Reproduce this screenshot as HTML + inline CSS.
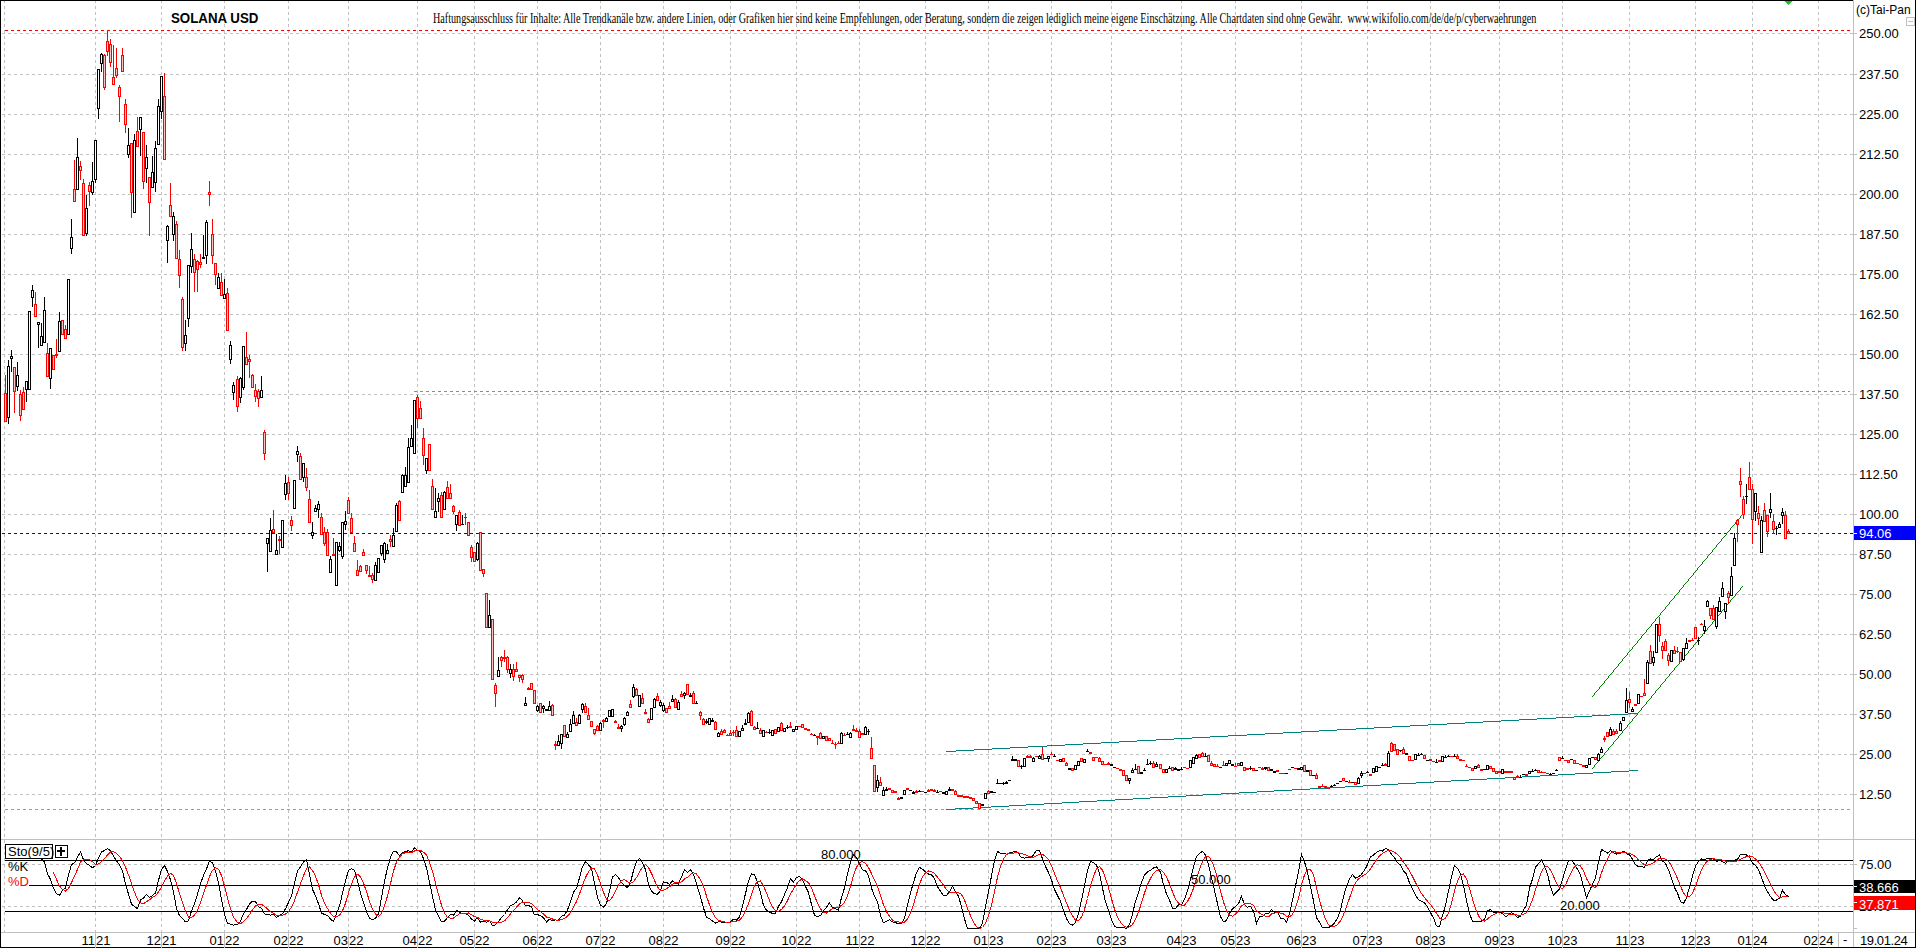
<!DOCTYPE html><html><head><meta charset="utf-8"><style>html,body{margin:0;padding:0;background:#fff;overflow:hidden}#r{position:relative;width:1916px;height:948px;overflow:hidden}#r svg{position:absolute;left:0;top:0}</style></head><body><div id="r"><svg width="1916" height="948" viewBox="0 0 1916 948" shape-rendering="crispEdges"><rect width="1916" height="948" fill="#fff"/><path fill="#c0c0c0" d="M4 1h1v2h-1zM4 6h1v3h-1zM4 12h1v3h-1zM4 18h1v3h-1zM4 24h1v3h-1zM4 30h1v3h-1zM4 36h1v3h-1zM4 42h1v3h-1zM4 48h1v3h-1zM4 54h1v3h-1zM4 60h1v3h-1zM4 66h1v3h-1zM4 72h1v3h-1zM4 78h1v3h-1zM4 84h1v3h-1zM4 90h1v3h-1zM4 96h1v3h-1zM4 102h1v3h-1zM4 108h1v3h-1zM4 114h1v3h-1zM4 120h1v3h-1zM4 126h1v3h-1zM4 132h1v3h-1zM4 138h1v3h-1zM4 144h1v3h-1zM4 150h1v3h-1zM4 156h1v3h-1zM4 162h1v3h-1zM4 168h1v3h-1zM4 174h1v3h-1zM4 180h1v3h-1zM4 186h1v3h-1zM4 192h1v3h-1zM4 198h1v3h-1zM4 204h1v3h-1zM4 210h1v3h-1zM4 216h1v3h-1zM4 222h1v3h-1zM4 228h1v3h-1zM4 234h1v3h-1zM4 240h1v3h-1zM4 246h1v3h-1zM4 252h1v3h-1zM4 258h1v3h-1zM4 264h1v3h-1zM4 270h1v3h-1zM4 276h1v3h-1zM4 282h1v3h-1zM4 288h1v3h-1zM4 294h1v3h-1zM4 300h1v3h-1zM4 306h1v3h-1zM4 312h1v3h-1zM4 318h1v3h-1zM4 324h1v3h-1zM4 330h1v3h-1zM4 336h1v3h-1zM4 342h1v3h-1zM4 348h1v3h-1zM4 354h1v3h-1zM4 360h1v3h-1zM4 366h1v3h-1zM4 372h1v3h-1zM4 378h1v3h-1zM4 384h1v3h-1zM4 390h1v3h-1zM4 396h1v3h-1zM4 402h1v3h-1zM4 408h1v3h-1zM4 414h1v3h-1zM4 420h1v3h-1zM4 426h1v3h-1zM4 432h1v3h-1zM4 438h1v3h-1zM4 444h1v3h-1zM4 450h1v3h-1zM4 456h1v3h-1zM4 462h1v3h-1zM4 468h1v3h-1zM4 474h1v3h-1zM4 480h1v3h-1zM4 486h1v3h-1zM4 492h1v3h-1zM4 498h1v3h-1zM4 504h1v3h-1zM4 510h1v3h-1zM4 516h1v3h-1zM4 522h1v3h-1zM4 528h1v3h-1zM4 534h1v3h-1zM4 540h1v3h-1zM4 546h1v3h-1zM4 552h1v3h-1zM4 558h1v3h-1zM4 564h1v3h-1zM4 570h1v3h-1zM4 576h1v3h-1zM4 582h1v3h-1zM4 588h1v3h-1zM4 594h1v3h-1zM4 600h1v3h-1zM4 606h1v3h-1zM4 612h1v3h-1zM4 618h1v3h-1zM4 624h1v3h-1zM4 630h1v3h-1zM4 636h1v3h-1zM4 642h1v3h-1zM4 648h1v3h-1zM4 654h1v3h-1zM4 660h1v3h-1zM4 666h1v3h-1zM4 672h1v3h-1zM4 678h1v3h-1zM4 684h1v3h-1zM4 690h1v3h-1zM4 696h1v3h-1zM4 702h1v3h-1zM4 708h1v3h-1zM4 714h1v3h-1zM4 720h1v3h-1zM4 726h1v3h-1zM4 732h1v3h-1zM4 738h1v3h-1zM4 744h1v3h-1zM4 750h1v3h-1zM4 756h1v3h-1zM4 762h1v3h-1zM4 768h1v3h-1zM4 774h1v3h-1zM4 780h1v3h-1zM4 786h1v3h-1zM4 792h1v3h-1zM4 798h1v3h-1zM4 804h1v3h-1zM4 810h1v3h-1zM4 816h1v3h-1zM4 822h1v3h-1zM4 828h1v3h-1zM4 834h1v3h-1zM4 840h1v3h-1zM4 846h1v3h-1zM4 852h1v3h-1zM4 858h1v3h-1zM4 864h1v3h-1zM4 870h1v3h-1zM4 876h1v3h-1zM4 882h1v3h-1zM4 888h1v3h-1zM4 894h1v3h-1zM4 900h1v3h-1zM4 906h1v3h-1zM4 912h1v3h-1zM4 918h1v3h-1zM4 924h1v3h-1zM4 930h1v2h-1zM95 1h1v2h-1zM95 6h1v3h-1zM95 12h1v3h-1zM95 18h1v3h-1zM95 24h1v3h-1zM95 30h1v3h-1zM95 36h1v3h-1zM95 42h1v3h-1zM95 48h1v3h-1zM95 54h1v3h-1zM95 60h1v3h-1zM95 66h1v3h-1zM95 72h1v3h-1zM95 78h1v3h-1zM95 84h1v3h-1zM95 90h1v3h-1zM95 96h1v3h-1zM95 102h1v3h-1zM95 108h1v3h-1zM95 114h1v3h-1zM95 120h1v3h-1zM95 126h1v3h-1zM95 132h1v3h-1zM95 138h1v3h-1zM95 144h1v3h-1zM95 150h1v3h-1zM95 156h1v3h-1zM95 162h1v3h-1zM95 168h1v3h-1zM95 174h1v3h-1zM95 180h1v3h-1zM95 186h1v3h-1zM95 192h1v3h-1zM95 198h1v3h-1zM95 204h1v3h-1zM95 210h1v3h-1zM95 216h1v3h-1zM95 222h1v3h-1zM95 228h1v3h-1zM95 234h1v3h-1zM95 240h1v3h-1zM95 246h1v3h-1zM95 252h1v3h-1zM95 258h1v3h-1zM95 264h1v3h-1zM95 270h1v3h-1zM95 276h1v3h-1zM95 282h1v3h-1zM95 288h1v3h-1zM95 294h1v3h-1zM95 300h1v3h-1zM95 306h1v3h-1zM95 312h1v3h-1zM95 318h1v3h-1zM95 324h1v3h-1zM95 330h1v3h-1zM95 336h1v3h-1zM95 342h1v3h-1zM95 348h1v3h-1zM95 354h1v3h-1zM95 360h1v3h-1zM95 366h1v3h-1zM95 372h1v3h-1zM95 378h1v3h-1zM95 384h1v3h-1zM95 390h1v3h-1zM95 396h1v3h-1zM95 402h1v3h-1zM95 408h1v3h-1zM95 414h1v3h-1zM95 420h1v3h-1zM95 426h1v3h-1zM95 432h1v3h-1zM95 438h1v3h-1zM95 444h1v3h-1zM95 450h1v3h-1zM95 456h1v3h-1zM95 462h1v3h-1zM95 468h1v3h-1zM95 474h1v3h-1zM95 480h1v3h-1zM95 486h1v3h-1zM95 492h1v3h-1zM95 498h1v3h-1zM95 504h1v3h-1zM95 510h1v3h-1zM95 516h1v3h-1zM95 522h1v3h-1zM95 528h1v3h-1zM95 534h1v3h-1zM95 540h1v3h-1zM95 546h1v3h-1zM95 552h1v3h-1zM95 558h1v3h-1zM95 564h1v3h-1zM95 570h1v3h-1zM95 576h1v3h-1zM95 582h1v3h-1zM95 588h1v3h-1zM95 594h1v3h-1zM95 600h1v3h-1zM95 606h1v3h-1zM95 612h1v3h-1zM95 618h1v3h-1zM95 624h1v3h-1zM95 630h1v3h-1zM95 636h1v3h-1zM95 642h1v3h-1zM95 648h1v3h-1zM95 654h1v3h-1zM95 660h1v3h-1zM95 666h1v3h-1zM95 672h1v3h-1zM95 678h1v3h-1zM95 684h1v3h-1zM95 690h1v3h-1zM95 696h1v3h-1zM95 702h1v3h-1zM95 708h1v3h-1zM95 714h1v3h-1zM95 720h1v3h-1zM95 726h1v3h-1zM95 732h1v3h-1zM95 738h1v3h-1zM95 744h1v3h-1zM95 750h1v3h-1zM95 756h1v3h-1zM95 762h1v3h-1zM95 768h1v3h-1zM95 774h1v3h-1zM95 780h1v3h-1zM95 786h1v3h-1zM95 792h1v3h-1zM95 798h1v3h-1zM95 804h1v3h-1zM95 810h1v3h-1zM95 816h1v3h-1zM95 822h1v3h-1zM95 828h1v3h-1zM95 834h1v3h-1zM95 840h1v3h-1zM95 846h1v3h-1zM95 852h1v3h-1zM95 858h1v3h-1zM95 864h1v3h-1zM95 870h1v3h-1zM95 876h1v3h-1zM95 882h1v3h-1zM95 888h1v3h-1zM95 894h1v3h-1zM95 900h1v3h-1zM95 906h1v3h-1zM95 912h1v3h-1zM95 918h1v3h-1zM95 924h1v3h-1zM95 930h1v2h-1zM161 1h1v2h-1zM161 6h1v3h-1zM161 12h1v3h-1zM161 18h1v3h-1zM161 24h1v3h-1zM161 30h1v3h-1zM161 36h1v3h-1zM161 42h1v3h-1zM161 48h1v3h-1zM161 54h1v3h-1zM161 60h1v3h-1zM161 66h1v3h-1zM161 72h1v3h-1zM161 78h1v3h-1zM161 84h1v3h-1zM161 90h1v3h-1zM161 96h1v3h-1zM161 102h1v3h-1zM161 108h1v3h-1zM161 114h1v3h-1zM161 120h1v3h-1zM161 126h1v3h-1zM161 132h1v3h-1zM161 138h1v3h-1zM161 144h1v3h-1zM161 150h1v3h-1zM161 156h1v3h-1zM161 162h1v3h-1zM161 168h1v3h-1zM161 174h1v3h-1zM161 180h1v3h-1zM161 186h1v3h-1zM161 192h1v3h-1zM161 198h1v3h-1zM161 204h1v3h-1zM161 210h1v3h-1zM161 216h1v3h-1zM161 222h1v3h-1zM161 228h1v3h-1zM161 234h1v3h-1zM161 240h1v3h-1zM161 246h1v3h-1zM161 252h1v3h-1zM161 258h1v3h-1zM161 264h1v3h-1zM161 270h1v3h-1zM161 276h1v3h-1zM161 282h1v3h-1zM161 288h1v3h-1zM161 294h1v3h-1zM161 300h1v3h-1zM161 306h1v3h-1zM161 312h1v3h-1zM161 318h1v3h-1zM161 324h1v3h-1zM161 330h1v3h-1zM161 336h1v3h-1zM161 342h1v3h-1zM161 348h1v3h-1zM161 354h1v3h-1zM161 360h1v3h-1zM161 366h1v3h-1zM161 372h1v3h-1zM161 378h1v3h-1zM161 384h1v3h-1zM161 390h1v3h-1zM161 396h1v3h-1zM161 402h1v3h-1zM161 408h1v3h-1zM161 414h1v3h-1zM161 420h1v3h-1zM161 426h1v3h-1zM161 432h1v3h-1zM161 438h1v3h-1zM161 444h1v3h-1zM161 450h1v3h-1zM161 456h1v3h-1zM161 462h1v3h-1zM161 468h1v3h-1zM161 474h1v3h-1zM161 480h1v3h-1zM161 486h1v3h-1zM161 492h1v3h-1zM161 498h1v3h-1zM161 504h1v3h-1zM161 510h1v3h-1zM161 516h1v3h-1zM161 522h1v3h-1zM161 528h1v3h-1zM161 534h1v3h-1zM161 540h1v3h-1zM161 546h1v3h-1zM161 552h1v3h-1zM161 558h1v3h-1zM161 564h1v3h-1zM161 570h1v3h-1zM161 576h1v3h-1zM161 582h1v3h-1zM161 588h1v3h-1zM161 594h1v3h-1zM161 600h1v3h-1zM161 606h1v3h-1zM161 612h1v3h-1zM161 618h1v3h-1zM161 624h1v3h-1zM161 630h1v3h-1zM161 636h1v3h-1zM161 642h1v3h-1zM161 648h1v3h-1zM161 654h1v3h-1zM161 660h1v3h-1zM161 666h1v3h-1zM161 672h1v3h-1zM161 678h1v3h-1zM161 684h1v3h-1zM161 690h1v3h-1zM161 696h1v3h-1zM161 702h1v3h-1zM161 708h1v3h-1zM161 714h1v3h-1zM161 720h1v3h-1zM161 726h1v3h-1zM161 732h1v3h-1zM161 738h1v3h-1zM161 744h1v3h-1zM161 750h1v3h-1zM161 756h1v3h-1zM161 762h1v3h-1zM161 768h1v3h-1zM161 774h1v3h-1zM161 780h1v3h-1zM161 786h1v3h-1zM161 792h1v3h-1zM161 798h1v3h-1zM161 804h1v3h-1zM161 810h1v3h-1zM161 816h1v3h-1zM161 822h1v3h-1zM161 828h1v3h-1zM161 834h1v3h-1zM161 840h1v3h-1zM161 846h1v3h-1zM161 852h1v3h-1zM161 858h1v3h-1zM161 864h1v3h-1zM161 870h1v3h-1zM161 876h1v3h-1zM161 882h1v3h-1zM161 888h1v3h-1zM161 894h1v3h-1zM161 900h1v3h-1zM161 906h1v3h-1zM161 912h1v3h-1zM161 918h1v3h-1zM161 924h1v3h-1zM161 930h1v2h-1zM224 1h1v2h-1zM224 6h1v3h-1zM224 12h1v3h-1zM224 18h1v3h-1zM224 24h1v3h-1zM224 30h1v3h-1zM224 36h1v3h-1zM224 42h1v3h-1zM224 48h1v3h-1zM224 54h1v3h-1zM224 60h1v3h-1zM224 66h1v3h-1zM224 72h1v3h-1zM224 78h1v3h-1zM224 84h1v3h-1zM224 90h1v3h-1zM224 96h1v3h-1zM224 102h1v3h-1zM224 108h1v3h-1zM224 114h1v3h-1zM224 120h1v3h-1zM224 126h1v3h-1zM224 132h1v3h-1zM224 138h1v3h-1zM224 144h1v3h-1zM224 150h1v3h-1zM224 156h1v3h-1zM224 162h1v3h-1zM224 168h1v3h-1zM224 174h1v3h-1zM224 180h1v3h-1zM224 186h1v3h-1zM224 192h1v3h-1zM224 198h1v3h-1zM224 204h1v3h-1zM224 210h1v3h-1zM224 216h1v3h-1zM224 222h1v3h-1zM224 228h1v3h-1zM224 234h1v3h-1zM224 240h1v3h-1zM224 246h1v3h-1zM224 252h1v3h-1zM224 258h1v3h-1zM224 264h1v3h-1zM224 270h1v3h-1zM224 276h1v3h-1zM224 282h1v3h-1zM224 288h1v3h-1zM224 294h1v3h-1zM224 300h1v3h-1zM224 306h1v3h-1zM224 312h1v3h-1zM224 318h1v3h-1zM224 324h1v3h-1zM224 330h1v3h-1zM224 336h1v3h-1zM224 342h1v3h-1zM224 348h1v3h-1zM224 354h1v3h-1zM224 360h1v3h-1zM224 366h1v3h-1zM224 372h1v3h-1zM224 378h1v3h-1zM224 384h1v3h-1zM224 390h1v3h-1zM224 396h1v3h-1zM224 402h1v3h-1zM224 408h1v3h-1zM224 414h1v3h-1zM224 420h1v3h-1zM224 426h1v3h-1zM224 432h1v3h-1zM224 438h1v3h-1zM224 444h1v3h-1zM224 450h1v3h-1zM224 456h1v3h-1zM224 462h1v3h-1zM224 468h1v3h-1zM224 474h1v3h-1zM224 480h1v3h-1zM224 486h1v3h-1zM224 492h1v3h-1zM224 498h1v3h-1zM224 504h1v3h-1zM224 510h1v3h-1zM224 516h1v3h-1zM224 522h1v3h-1zM224 528h1v3h-1zM224 534h1v3h-1zM224 540h1v3h-1zM224 546h1v3h-1zM224 552h1v3h-1zM224 558h1v3h-1zM224 564h1v3h-1zM224 570h1v3h-1zM224 576h1v3h-1zM224 582h1v3h-1zM224 588h1v3h-1zM224 594h1v3h-1zM224 600h1v3h-1zM224 606h1v3h-1zM224 612h1v3h-1zM224 618h1v3h-1zM224 624h1v3h-1zM224 630h1v3h-1zM224 636h1v3h-1zM224 642h1v3h-1zM224 648h1v3h-1zM224 654h1v3h-1zM224 660h1v3h-1zM224 666h1v3h-1zM224 672h1v3h-1zM224 678h1v3h-1zM224 684h1v3h-1zM224 690h1v3h-1zM224 696h1v3h-1zM224 702h1v3h-1zM224 708h1v3h-1zM224 714h1v3h-1zM224 720h1v3h-1zM224 726h1v3h-1zM224 732h1v3h-1zM224 738h1v3h-1zM224 744h1v3h-1zM224 750h1v3h-1zM224 756h1v3h-1zM224 762h1v3h-1zM224 768h1v3h-1zM224 774h1v3h-1zM224 780h1v3h-1zM224 786h1v3h-1zM224 792h1v3h-1zM224 798h1v3h-1zM224 804h1v3h-1zM224 810h1v3h-1zM224 816h1v3h-1zM224 822h1v3h-1zM224 828h1v3h-1zM224 834h1v3h-1zM224 840h1v3h-1zM224 846h1v3h-1zM224 852h1v3h-1zM224 858h1v3h-1zM224 864h1v3h-1zM224 870h1v3h-1zM224 876h1v3h-1zM224 882h1v3h-1zM224 888h1v3h-1zM224 894h1v3h-1zM224 900h1v3h-1zM224 906h1v3h-1zM224 912h1v3h-1zM224 918h1v3h-1zM224 924h1v3h-1zM224 930h1v2h-1zM288 1h1v2h-1zM288 6h1v3h-1zM288 12h1v3h-1zM288 18h1v3h-1zM288 24h1v3h-1zM288 30h1v3h-1zM288 36h1v3h-1zM288 42h1v3h-1zM288 48h1v3h-1zM288 54h1v3h-1zM288 60h1v3h-1zM288 66h1v3h-1zM288 72h1v3h-1zM288 78h1v3h-1zM288 84h1v3h-1zM288 90h1v3h-1zM288 96h1v3h-1zM288 102h1v3h-1zM288 108h1v3h-1zM288 114h1v3h-1zM288 120h1v3h-1zM288 126h1v3h-1zM288 132h1v3h-1zM288 138h1v3h-1zM288 144h1v3h-1zM288 150h1v3h-1zM288 156h1v3h-1zM288 162h1v3h-1zM288 168h1v3h-1zM288 174h1v3h-1zM288 180h1v3h-1zM288 186h1v3h-1zM288 192h1v3h-1zM288 198h1v3h-1zM288 204h1v3h-1zM288 210h1v3h-1zM288 216h1v3h-1zM288 222h1v3h-1zM288 228h1v3h-1zM288 234h1v3h-1zM288 240h1v3h-1zM288 246h1v3h-1zM288 252h1v3h-1zM288 258h1v3h-1zM288 264h1v3h-1zM288 270h1v3h-1zM288 276h1v3h-1zM288 282h1v3h-1zM288 288h1v3h-1zM288 294h1v3h-1zM288 300h1v3h-1zM288 306h1v3h-1zM288 312h1v3h-1zM288 318h1v3h-1zM288 324h1v3h-1zM288 330h1v3h-1zM288 336h1v3h-1zM288 342h1v3h-1zM288 348h1v3h-1zM288 354h1v3h-1zM288 360h1v3h-1zM288 366h1v3h-1zM288 372h1v3h-1zM288 378h1v3h-1zM288 384h1v3h-1zM288 390h1v3h-1zM288 396h1v3h-1zM288 402h1v3h-1zM288 408h1v3h-1zM288 414h1v3h-1zM288 420h1v3h-1zM288 426h1v3h-1zM288 432h1v3h-1zM288 438h1v3h-1zM288 444h1v3h-1zM288 450h1v3h-1zM288 456h1v3h-1zM288 462h1v3h-1zM288 468h1v3h-1zM288 474h1v3h-1zM288 480h1v3h-1zM288 486h1v3h-1zM288 492h1v3h-1zM288 498h1v3h-1zM288 504h1v3h-1zM288 510h1v3h-1zM288 516h1v3h-1zM288 522h1v3h-1zM288 528h1v3h-1zM288 534h1v3h-1zM288 540h1v3h-1zM288 546h1v3h-1zM288 552h1v3h-1zM288 558h1v3h-1zM288 564h1v3h-1zM288 570h1v3h-1zM288 576h1v3h-1zM288 582h1v3h-1zM288 588h1v3h-1zM288 594h1v3h-1zM288 600h1v3h-1zM288 606h1v3h-1zM288 612h1v3h-1zM288 618h1v3h-1zM288 624h1v3h-1zM288 630h1v3h-1zM288 636h1v3h-1zM288 642h1v3h-1zM288 648h1v3h-1zM288 654h1v3h-1zM288 660h1v3h-1zM288 666h1v3h-1zM288 672h1v3h-1zM288 678h1v3h-1zM288 684h1v3h-1zM288 690h1v3h-1zM288 696h1v3h-1zM288 702h1v3h-1zM288 708h1v3h-1zM288 714h1v3h-1zM288 720h1v3h-1zM288 726h1v3h-1zM288 732h1v3h-1zM288 738h1v3h-1zM288 744h1v3h-1zM288 750h1v3h-1zM288 756h1v3h-1zM288 762h1v3h-1zM288 768h1v3h-1zM288 774h1v3h-1zM288 780h1v3h-1zM288 786h1v3h-1zM288 792h1v3h-1zM288 798h1v3h-1zM288 804h1v3h-1zM288 810h1v3h-1zM288 816h1v3h-1zM288 822h1v3h-1zM288 828h1v3h-1zM288 834h1v3h-1zM288 840h1v3h-1zM288 846h1v3h-1zM288 852h1v3h-1zM288 858h1v3h-1zM288 864h1v3h-1zM288 870h1v3h-1zM288 876h1v3h-1zM288 882h1v3h-1zM288 888h1v3h-1zM288 894h1v3h-1zM288 900h1v3h-1zM288 906h1v3h-1zM288 912h1v3h-1zM288 918h1v3h-1zM288 924h1v3h-1zM288 930h1v2h-1zM348 1h1v2h-1zM348 6h1v3h-1zM348 12h1v3h-1zM348 18h1v3h-1zM348 24h1v3h-1zM348 30h1v3h-1zM348 36h1v3h-1zM348 42h1v3h-1zM348 48h1v3h-1zM348 54h1v3h-1zM348 60h1v3h-1zM348 66h1v3h-1zM348 72h1v3h-1zM348 78h1v3h-1zM348 84h1v3h-1zM348 90h1v3h-1zM348 96h1v3h-1zM348 102h1v3h-1zM348 108h1v3h-1zM348 114h1v3h-1zM348 120h1v3h-1zM348 126h1v3h-1zM348 132h1v3h-1zM348 138h1v3h-1zM348 144h1v3h-1zM348 150h1v3h-1zM348 156h1v3h-1zM348 162h1v3h-1zM348 168h1v3h-1zM348 174h1v3h-1zM348 180h1v3h-1zM348 186h1v3h-1zM348 192h1v3h-1zM348 198h1v3h-1zM348 204h1v3h-1zM348 210h1v3h-1zM348 216h1v3h-1zM348 222h1v3h-1zM348 228h1v3h-1zM348 234h1v3h-1zM348 240h1v3h-1zM348 246h1v3h-1zM348 252h1v3h-1zM348 258h1v3h-1zM348 264h1v3h-1zM348 270h1v3h-1zM348 276h1v3h-1zM348 282h1v3h-1zM348 288h1v3h-1zM348 294h1v3h-1zM348 300h1v3h-1zM348 306h1v3h-1zM348 312h1v3h-1zM348 318h1v3h-1zM348 324h1v3h-1zM348 330h1v3h-1zM348 336h1v3h-1zM348 342h1v3h-1zM348 348h1v3h-1zM348 354h1v3h-1zM348 360h1v3h-1zM348 366h1v3h-1zM348 372h1v3h-1zM348 378h1v3h-1zM348 384h1v3h-1zM348 390h1v3h-1zM348 396h1v3h-1zM348 402h1v3h-1zM348 408h1v3h-1zM348 414h1v3h-1zM348 420h1v3h-1zM348 426h1v3h-1zM348 432h1v3h-1zM348 438h1v3h-1zM348 444h1v3h-1zM348 450h1v3h-1zM348 456h1v3h-1zM348 462h1v3h-1zM348 468h1v3h-1zM348 474h1v3h-1zM348 480h1v3h-1zM348 486h1v3h-1zM348 492h1v3h-1zM348 498h1v3h-1zM348 504h1v3h-1zM348 510h1v3h-1zM348 516h1v3h-1zM348 522h1v3h-1zM348 528h1v3h-1zM348 534h1v3h-1zM348 540h1v3h-1zM348 546h1v3h-1zM348 552h1v3h-1zM348 558h1v3h-1zM348 564h1v3h-1zM348 570h1v3h-1zM348 576h1v3h-1zM348 582h1v3h-1zM348 588h1v3h-1zM348 594h1v3h-1zM348 600h1v3h-1zM348 606h1v3h-1zM348 612h1v3h-1zM348 618h1v3h-1zM348 624h1v3h-1zM348 630h1v3h-1zM348 636h1v3h-1zM348 642h1v3h-1zM348 648h1v3h-1zM348 654h1v3h-1zM348 660h1v3h-1zM348 666h1v3h-1zM348 672h1v3h-1zM348 678h1v3h-1zM348 684h1v3h-1zM348 690h1v3h-1zM348 696h1v3h-1zM348 702h1v3h-1zM348 708h1v3h-1zM348 714h1v3h-1zM348 720h1v3h-1zM348 726h1v3h-1zM348 732h1v3h-1zM348 738h1v3h-1zM348 744h1v3h-1zM348 750h1v3h-1zM348 756h1v3h-1zM348 762h1v3h-1zM348 768h1v3h-1zM348 774h1v3h-1zM348 780h1v3h-1zM348 786h1v3h-1zM348 792h1v3h-1zM348 798h1v3h-1zM348 804h1v3h-1zM348 810h1v3h-1zM348 816h1v3h-1zM348 822h1v3h-1zM348 828h1v3h-1zM348 834h1v3h-1zM348 840h1v3h-1zM348 846h1v3h-1zM348 852h1v3h-1zM348 858h1v3h-1zM348 864h1v3h-1zM348 870h1v3h-1zM348 876h1v3h-1zM348 882h1v3h-1zM348 888h1v3h-1zM348 894h1v3h-1zM348 900h1v3h-1zM348 906h1v3h-1zM348 912h1v3h-1zM348 918h1v3h-1zM348 924h1v3h-1zM348 930h1v2h-1zM417 1h1v2h-1zM417 6h1v3h-1zM417 12h1v3h-1zM417 18h1v3h-1zM417 24h1v3h-1zM417 30h1v3h-1zM417 36h1v3h-1zM417 42h1v3h-1zM417 48h1v3h-1zM417 54h1v3h-1zM417 60h1v3h-1zM417 66h1v3h-1zM417 72h1v3h-1zM417 78h1v3h-1zM417 84h1v3h-1zM417 90h1v3h-1zM417 96h1v3h-1zM417 102h1v3h-1zM417 108h1v3h-1zM417 114h1v3h-1zM417 120h1v3h-1zM417 126h1v3h-1zM417 132h1v3h-1zM417 138h1v3h-1zM417 144h1v3h-1zM417 150h1v3h-1zM417 156h1v3h-1zM417 162h1v3h-1zM417 168h1v3h-1zM417 174h1v3h-1zM417 180h1v3h-1zM417 186h1v3h-1zM417 192h1v3h-1zM417 198h1v3h-1zM417 204h1v3h-1zM417 210h1v3h-1zM417 216h1v3h-1zM417 222h1v3h-1zM417 228h1v3h-1zM417 234h1v3h-1zM417 240h1v3h-1zM417 246h1v3h-1zM417 252h1v3h-1zM417 258h1v3h-1zM417 264h1v3h-1zM417 270h1v3h-1zM417 276h1v3h-1zM417 282h1v3h-1zM417 288h1v3h-1zM417 294h1v3h-1zM417 300h1v3h-1zM417 306h1v3h-1zM417 312h1v3h-1zM417 318h1v3h-1zM417 324h1v3h-1zM417 330h1v3h-1zM417 336h1v3h-1zM417 342h1v3h-1zM417 348h1v3h-1zM417 354h1v3h-1zM417 360h1v3h-1zM417 366h1v3h-1zM417 372h1v3h-1zM417 378h1v3h-1zM417 384h1v3h-1zM417 390h1v3h-1zM417 396h1v3h-1zM417 402h1v3h-1zM417 408h1v3h-1zM417 414h1v3h-1zM417 420h1v3h-1zM417 426h1v3h-1zM417 432h1v3h-1zM417 438h1v3h-1zM417 444h1v3h-1zM417 450h1v3h-1zM417 456h1v3h-1zM417 462h1v3h-1zM417 468h1v3h-1zM417 474h1v3h-1zM417 480h1v3h-1zM417 486h1v3h-1zM417 492h1v3h-1zM417 498h1v3h-1zM417 504h1v3h-1zM417 510h1v3h-1zM417 516h1v3h-1zM417 522h1v3h-1zM417 528h1v3h-1zM417 534h1v3h-1zM417 540h1v3h-1zM417 546h1v3h-1zM417 552h1v3h-1zM417 558h1v3h-1zM417 564h1v3h-1zM417 570h1v3h-1zM417 576h1v3h-1zM417 582h1v3h-1zM417 588h1v3h-1zM417 594h1v3h-1zM417 600h1v3h-1zM417 606h1v3h-1zM417 612h1v3h-1zM417 618h1v3h-1zM417 624h1v3h-1zM417 630h1v3h-1zM417 636h1v3h-1zM417 642h1v3h-1zM417 648h1v3h-1zM417 654h1v3h-1zM417 660h1v3h-1zM417 666h1v3h-1zM417 672h1v3h-1zM417 678h1v3h-1zM417 684h1v3h-1zM417 690h1v3h-1zM417 696h1v3h-1zM417 702h1v3h-1zM417 708h1v3h-1zM417 714h1v3h-1zM417 720h1v3h-1zM417 726h1v3h-1zM417 732h1v3h-1zM417 738h1v3h-1zM417 744h1v3h-1zM417 750h1v3h-1zM417 756h1v3h-1zM417 762h1v3h-1zM417 768h1v3h-1zM417 774h1v3h-1zM417 780h1v3h-1zM417 786h1v3h-1zM417 792h1v3h-1zM417 798h1v3h-1zM417 804h1v3h-1zM417 810h1v3h-1zM417 816h1v3h-1zM417 822h1v3h-1zM417 828h1v3h-1zM417 834h1v3h-1zM417 840h1v3h-1zM417 846h1v3h-1zM417 852h1v3h-1zM417 858h1v3h-1zM417 864h1v3h-1zM417 870h1v3h-1zM417 876h1v3h-1zM417 882h1v3h-1zM417 888h1v3h-1zM417 894h1v3h-1zM417 900h1v3h-1zM417 906h1v3h-1zM417 912h1v3h-1zM417 918h1v3h-1zM417 924h1v3h-1zM417 930h1v2h-1zM474 1h1v2h-1zM474 6h1v3h-1zM474 12h1v3h-1zM474 18h1v3h-1zM474 24h1v3h-1zM474 30h1v3h-1zM474 36h1v3h-1zM474 42h1v3h-1zM474 48h1v3h-1zM474 54h1v3h-1zM474 60h1v3h-1zM474 66h1v3h-1zM474 72h1v3h-1zM474 78h1v3h-1zM474 84h1v3h-1zM474 90h1v3h-1zM474 96h1v3h-1zM474 102h1v3h-1zM474 108h1v3h-1zM474 114h1v3h-1zM474 120h1v3h-1zM474 126h1v3h-1zM474 132h1v3h-1zM474 138h1v3h-1zM474 144h1v3h-1zM474 150h1v3h-1zM474 156h1v3h-1zM474 162h1v3h-1zM474 168h1v3h-1zM474 174h1v3h-1zM474 180h1v3h-1zM474 186h1v3h-1zM474 192h1v3h-1zM474 198h1v3h-1zM474 204h1v3h-1zM474 210h1v3h-1zM474 216h1v3h-1zM474 222h1v3h-1zM474 228h1v3h-1zM474 234h1v3h-1zM474 240h1v3h-1zM474 246h1v3h-1zM474 252h1v3h-1zM474 258h1v3h-1zM474 264h1v3h-1zM474 270h1v3h-1zM474 276h1v3h-1zM474 282h1v3h-1zM474 288h1v3h-1zM474 294h1v3h-1zM474 300h1v3h-1zM474 306h1v3h-1zM474 312h1v3h-1zM474 318h1v3h-1zM474 324h1v3h-1zM474 330h1v3h-1zM474 336h1v3h-1zM474 342h1v3h-1zM474 348h1v3h-1zM474 354h1v3h-1zM474 360h1v3h-1zM474 366h1v3h-1zM474 372h1v3h-1zM474 378h1v3h-1zM474 384h1v3h-1zM474 390h1v3h-1zM474 396h1v3h-1zM474 402h1v3h-1zM474 408h1v3h-1zM474 414h1v3h-1zM474 420h1v3h-1zM474 426h1v3h-1zM474 432h1v3h-1zM474 438h1v3h-1zM474 444h1v3h-1zM474 450h1v3h-1zM474 456h1v3h-1zM474 462h1v3h-1zM474 468h1v3h-1zM474 474h1v3h-1zM474 480h1v3h-1zM474 486h1v3h-1zM474 492h1v3h-1zM474 498h1v3h-1zM474 504h1v3h-1zM474 510h1v3h-1zM474 516h1v3h-1zM474 522h1v3h-1zM474 528h1v3h-1zM474 534h1v3h-1zM474 540h1v3h-1zM474 546h1v3h-1zM474 552h1v3h-1zM474 558h1v3h-1zM474 564h1v3h-1zM474 570h1v3h-1zM474 576h1v3h-1zM474 582h1v3h-1zM474 588h1v3h-1zM474 594h1v3h-1zM474 600h1v3h-1zM474 606h1v3h-1zM474 612h1v3h-1zM474 618h1v3h-1zM474 624h1v3h-1zM474 630h1v3h-1zM474 636h1v3h-1zM474 642h1v3h-1zM474 648h1v3h-1zM474 654h1v3h-1zM474 660h1v3h-1zM474 666h1v3h-1zM474 672h1v3h-1zM474 678h1v3h-1zM474 684h1v3h-1zM474 690h1v3h-1zM474 696h1v3h-1zM474 702h1v3h-1zM474 708h1v3h-1zM474 714h1v3h-1zM474 720h1v3h-1zM474 726h1v3h-1zM474 732h1v3h-1zM474 738h1v3h-1zM474 744h1v3h-1zM474 750h1v3h-1zM474 756h1v3h-1zM474 762h1v3h-1zM474 768h1v3h-1zM474 774h1v3h-1zM474 780h1v3h-1zM474 786h1v3h-1zM474 792h1v3h-1zM474 798h1v3h-1zM474 804h1v3h-1zM474 810h1v3h-1zM474 816h1v3h-1zM474 822h1v3h-1zM474 828h1v3h-1zM474 834h1v3h-1zM474 840h1v3h-1zM474 846h1v3h-1zM474 852h1v3h-1zM474 858h1v3h-1zM474 864h1v3h-1zM474 870h1v3h-1zM474 876h1v3h-1zM474 882h1v3h-1zM474 888h1v3h-1zM474 894h1v3h-1zM474 900h1v3h-1zM474 906h1v3h-1zM474 912h1v3h-1zM474 918h1v3h-1zM474 924h1v3h-1zM474 930h1v2h-1zM537 1h1v2h-1zM537 6h1v3h-1zM537 12h1v3h-1zM537 18h1v3h-1zM537 24h1v3h-1zM537 30h1v3h-1zM537 36h1v3h-1zM537 42h1v3h-1zM537 48h1v3h-1zM537 54h1v3h-1zM537 60h1v3h-1zM537 66h1v3h-1zM537 72h1v3h-1zM537 78h1v3h-1zM537 84h1v3h-1zM537 90h1v3h-1zM537 96h1v3h-1zM537 102h1v3h-1zM537 108h1v3h-1zM537 114h1v3h-1zM537 120h1v3h-1zM537 126h1v3h-1zM537 132h1v3h-1zM537 138h1v3h-1zM537 144h1v3h-1zM537 150h1v3h-1zM537 156h1v3h-1zM537 162h1v3h-1zM537 168h1v3h-1zM537 174h1v3h-1zM537 180h1v3h-1zM537 186h1v3h-1zM537 192h1v3h-1zM537 198h1v3h-1zM537 204h1v3h-1zM537 210h1v3h-1zM537 216h1v3h-1zM537 222h1v3h-1zM537 228h1v3h-1zM537 234h1v3h-1zM537 240h1v3h-1zM537 246h1v3h-1zM537 252h1v3h-1zM537 258h1v3h-1zM537 264h1v3h-1zM537 270h1v3h-1zM537 276h1v3h-1zM537 282h1v3h-1zM537 288h1v3h-1zM537 294h1v3h-1zM537 300h1v3h-1zM537 306h1v3h-1zM537 312h1v3h-1zM537 318h1v3h-1zM537 324h1v3h-1zM537 330h1v3h-1zM537 336h1v3h-1zM537 342h1v3h-1zM537 348h1v3h-1zM537 354h1v3h-1zM537 360h1v3h-1zM537 366h1v3h-1zM537 372h1v3h-1zM537 378h1v3h-1zM537 384h1v3h-1zM537 390h1v3h-1zM537 396h1v3h-1zM537 402h1v3h-1zM537 408h1v3h-1zM537 414h1v3h-1zM537 420h1v3h-1zM537 426h1v3h-1zM537 432h1v3h-1zM537 438h1v3h-1zM537 444h1v3h-1zM537 450h1v3h-1zM537 456h1v3h-1zM537 462h1v3h-1zM537 468h1v3h-1zM537 474h1v3h-1zM537 480h1v3h-1zM537 486h1v3h-1zM537 492h1v3h-1zM537 498h1v3h-1zM537 504h1v3h-1zM537 510h1v3h-1zM537 516h1v3h-1zM537 522h1v3h-1zM537 528h1v3h-1zM537 534h1v3h-1zM537 540h1v3h-1zM537 546h1v3h-1zM537 552h1v3h-1zM537 558h1v3h-1zM537 564h1v3h-1zM537 570h1v3h-1zM537 576h1v3h-1zM537 582h1v3h-1zM537 588h1v3h-1zM537 594h1v3h-1zM537 600h1v3h-1zM537 606h1v3h-1zM537 612h1v3h-1zM537 618h1v3h-1zM537 624h1v3h-1zM537 630h1v3h-1zM537 636h1v3h-1zM537 642h1v3h-1zM537 648h1v3h-1zM537 654h1v3h-1zM537 660h1v3h-1zM537 666h1v3h-1zM537 672h1v3h-1zM537 678h1v3h-1zM537 684h1v3h-1zM537 690h1v3h-1zM537 696h1v3h-1zM537 702h1v3h-1zM537 708h1v3h-1zM537 714h1v3h-1zM537 720h1v3h-1zM537 726h1v3h-1zM537 732h1v3h-1zM537 738h1v3h-1zM537 744h1v3h-1zM537 750h1v3h-1zM537 756h1v3h-1zM537 762h1v3h-1zM537 768h1v3h-1zM537 774h1v3h-1zM537 780h1v3h-1zM537 786h1v3h-1zM537 792h1v3h-1zM537 798h1v3h-1zM537 804h1v3h-1zM537 810h1v3h-1zM537 816h1v3h-1zM537 822h1v3h-1zM537 828h1v3h-1zM537 834h1v3h-1zM537 840h1v3h-1zM537 846h1v3h-1zM537 852h1v3h-1zM537 858h1v3h-1zM537 864h1v3h-1zM537 870h1v3h-1zM537 876h1v3h-1zM537 882h1v3h-1zM537 888h1v3h-1zM537 894h1v3h-1zM537 900h1v3h-1zM537 906h1v3h-1zM537 912h1v3h-1zM537 918h1v3h-1zM537 924h1v3h-1zM537 930h1v2h-1zM600 1h1v2h-1zM600 6h1v3h-1zM600 12h1v3h-1zM600 18h1v3h-1zM600 24h1v3h-1zM600 30h1v3h-1zM600 36h1v3h-1zM600 42h1v3h-1zM600 48h1v3h-1zM600 54h1v3h-1zM600 60h1v3h-1zM600 66h1v3h-1zM600 72h1v3h-1zM600 78h1v3h-1zM600 84h1v3h-1zM600 90h1v3h-1zM600 96h1v3h-1zM600 102h1v3h-1zM600 108h1v3h-1zM600 114h1v3h-1zM600 120h1v3h-1zM600 126h1v3h-1zM600 132h1v3h-1zM600 138h1v3h-1zM600 144h1v3h-1zM600 150h1v3h-1zM600 156h1v3h-1zM600 162h1v3h-1zM600 168h1v3h-1zM600 174h1v3h-1zM600 180h1v3h-1zM600 186h1v3h-1zM600 192h1v3h-1zM600 198h1v3h-1zM600 204h1v3h-1zM600 210h1v3h-1zM600 216h1v3h-1zM600 222h1v3h-1zM600 228h1v3h-1zM600 234h1v3h-1zM600 240h1v3h-1zM600 246h1v3h-1zM600 252h1v3h-1zM600 258h1v3h-1zM600 264h1v3h-1zM600 270h1v3h-1zM600 276h1v3h-1zM600 282h1v3h-1zM600 288h1v3h-1zM600 294h1v3h-1zM600 300h1v3h-1zM600 306h1v3h-1zM600 312h1v3h-1zM600 318h1v3h-1zM600 324h1v3h-1zM600 330h1v3h-1zM600 336h1v3h-1zM600 342h1v3h-1zM600 348h1v3h-1zM600 354h1v3h-1zM600 360h1v3h-1zM600 366h1v3h-1zM600 372h1v3h-1zM600 378h1v3h-1zM600 384h1v3h-1zM600 390h1v3h-1zM600 396h1v3h-1zM600 402h1v3h-1zM600 408h1v3h-1zM600 414h1v3h-1zM600 420h1v3h-1zM600 426h1v3h-1zM600 432h1v3h-1zM600 438h1v3h-1zM600 444h1v3h-1zM600 450h1v3h-1zM600 456h1v3h-1zM600 462h1v3h-1zM600 468h1v3h-1zM600 474h1v3h-1zM600 480h1v3h-1zM600 486h1v3h-1zM600 492h1v3h-1zM600 498h1v3h-1zM600 504h1v3h-1zM600 510h1v3h-1zM600 516h1v3h-1zM600 522h1v3h-1zM600 528h1v3h-1zM600 534h1v3h-1zM600 540h1v3h-1zM600 546h1v3h-1zM600 552h1v3h-1zM600 558h1v3h-1zM600 564h1v3h-1zM600 570h1v3h-1zM600 576h1v3h-1zM600 582h1v3h-1zM600 588h1v3h-1zM600 594h1v3h-1zM600 600h1v3h-1zM600 606h1v3h-1zM600 612h1v3h-1zM600 618h1v3h-1zM600 624h1v3h-1zM600 630h1v3h-1zM600 636h1v3h-1zM600 642h1v3h-1zM600 648h1v3h-1zM600 654h1v3h-1zM600 660h1v3h-1zM600 666h1v3h-1zM600 672h1v3h-1zM600 678h1v3h-1zM600 684h1v3h-1zM600 690h1v3h-1zM600 696h1v3h-1zM600 702h1v3h-1zM600 708h1v3h-1zM600 714h1v3h-1zM600 720h1v3h-1zM600 726h1v3h-1zM600 732h1v3h-1zM600 738h1v3h-1zM600 744h1v3h-1zM600 750h1v3h-1zM600 756h1v3h-1zM600 762h1v3h-1zM600 768h1v3h-1zM600 774h1v3h-1zM600 780h1v3h-1zM600 786h1v3h-1zM600 792h1v3h-1zM600 798h1v3h-1zM600 804h1v3h-1zM600 810h1v3h-1zM600 816h1v3h-1zM600 822h1v3h-1zM600 828h1v3h-1zM600 834h1v3h-1zM600 840h1v3h-1zM600 846h1v3h-1zM600 852h1v3h-1zM600 858h1v3h-1zM600 864h1v3h-1zM600 870h1v3h-1zM600 876h1v3h-1zM600 882h1v3h-1zM600 888h1v3h-1zM600 894h1v3h-1zM600 900h1v3h-1zM600 906h1v3h-1zM600 912h1v3h-1zM600 918h1v3h-1zM600 924h1v3h-1zM600 930h1v2h-1zM663 1h1v2h-1zM663 6h1v3h-1zM663 12h1v3h-1zM663 18h1v3h-1zM663 24h1v3h-1zM663 30h1v3h-1zM663 36h1v3h-1zM663 42h1v3h-1zM663 48h1v3h-1zM663 54h1v3h-1zM663 60h1v3h-1zM663 66h1v3h-1zM663 72h1v3h-1zM663 78h1v3h-1zM663 84h1v3h-1zM663 90h1v3h-1zM663 96h1v3h-1zM663 102h1v3h-1zM663 108h1v3h-1zM663 114h1v3h-1zM663 120h1v3h-1zM663 126h1v3h-1zM663 132h1v3h-1zM663 138h1v3h-1zM663 144h1v3h-1zM663 150h1v3h-1zM663 156h1v3h-1zM663 162h1v3h-1zM663 168h1v3h-1zM663 174h1v3h-1zM663 180h1v3h-1zM663 186h1v3h-1zM663 192h1v3h-1zM663 198h1v3h-1zM663 204h1v3h-1zM663 210h1v3h-1zM663 216h1v3h-1zM663 222h1v3h-1zM663 228h1v3h-1zM663 234h1v3h-1zM663 240h1v3h-1zM663 246h1v3h-1zM663 252h1v3h-1zM663 258h1v3h-1zM663 264h1v3h-1zM663 270h1v3h-1zM663 276h1v3h-1zM663 282h1v3h-1zM663 288h1v3h-1zM663 294h1v3h-1zM663 300h1v3h-1zM663 306h1v3h-1zM663 312h1v3h-1zM663 318h1v3h-1zM663 324h1v3h-1zM663 330h1v3h-1zM663 336h1v3h-1zM663 342h1v3h-1zM663 348h1v3h-1zM663 354h1v3h-1zM663 360h1v3h-1zM663 366h1v3h-1zM663 372h1v3h-1zM663 378h1v3h-1zM663 384h1v3h-1zM663 390h1v3h-1zM663 396h1v3h-1zM663 402h1v3h-1zM663 408h1v3h-1zM663 414h1v3h-1zM663 420h1v3h-1zM663 426h1v3h-1zM663 432h1v3h-1zM663 438h1v3h-1zM663 444h1v3h-1zM663 450h1v3h-1zM663 456h1v3h-1zM663 462h1v3h-1zM663 468h1v3h-1zM663 474h1v3h-1zM663 480h1v3h-1zM663 486h1v3h-1zM663 492h1v3h-1zM663 498h1v3h-1zM663 504h1v3h-1zM663 510h1v3h-1zM663 516h1v3h-1zM663 522h1v3h-1zM663 528h1v3h-1zM663 534h1v3h-1zM663 540h1v3h-1zM663 546h1v3h-1zM663 552h1v3h-1zM663 558h1v3h-1zM663 564h1v3h-1zM663 570h1v3h-1zM663 576h1v3h-1zM663 582h1v3h-1zM663 588h1v3h-1zM663 594h1v3h-1zM663 600h1v3h-1zM663 606h1v3h-1zM663 612h1v3h-1zM663 618h1v3h-1zM663 624h1v3h-1zM663 630h1v3h-1zM663 636h1v3h-1zM663 642h1v3h-1zM663 648h1v3h-1zM663 654h1v3h-1zM663 660h1v3h-1zM663 666h1v3h-1zM663 672h1v3h-1zM663 678h1v3h-1zM663 684h1v3h-1zM663 690h1v3h-1zM663 696h1v3h-1zM663 702h1v3h-1zM663 708h1v3h-1zM663 714h1v3h-1zM663 720h1v3h-1zM663 726h1v3h-1zM663 732h1v3h-1zM663 738h1v3h-1zM663 744h1v3h-1zM663 750h1v3h-1zM663 756h1v3h-1zM663 762h1v3h-1zM663 768h1v3h-1zM663 774h1v3h-1zM663 780h1v3h-1zM663 786h1v3h-1zM663 792h1v3h-1zM663 798h1v3h-1zM663 804h1v3h-1zM663 810h1v3h-1zM663 816h1v3h-1zM663 822h1v3h-1zM663 828h1v3h-1zM663 834h1v3h-1zM663 840h1v3h-1zM663 846h1v3h-1zM663 852h1v3h-1zM663 858h1v3h-1zM663 864h1v3h-1zM663 870h1v3h-1zM663 876h1v3h-1zM663 882h1v3h-1zM663 888h1v3h-1zM663 894h1v3h-1zM663 900h1v3h-1zM663 906h1v3h-1zM663 912h1v3h-1zM663 918h1v3h-1zM663 924h1v3h-1zM663 930h1v2h-1zM730 1h1v2h-1zM730 6h1v3h-1zM730 12h1v3h-1zM730 18h1v3h-1zM730 24h1v3h-1zM730 30h1v3h-1zM730 36h1v3h-1zM730 42h1v3h-1zM730 48h1v3h-1zM730 54h1v3h-1zM730 60h1v3h-1zM730 66h1v3h-1zM730 72h1v3h-1zM730 78h1v3h-1zM730 84h1v3h-1zM730 90h1v3h-1zM730 96h1v3h-1zM730 102h1v3h-1zM730 108h1v3h-1zM730 114h1v3h-1zM730 120h1v3h-1zM730 126h1v3h-1zM730 132h1v3h-1zM730 138h1v3h-1zM730 144h1v3h-1zM730 150h1v3h-1zM730 156h1v3h-1zM730 162h1v3h-1zM730 168h1v3h-1zM730 174h1v3h-1zM730 180h1v3h-1zM730 186h1v3h-1zM730 192h1v3h-1zM730 198h1v3h-1zM730 204h1v3h-1zM730 210h1v3h-1zM730 216h1v3h-1zM730 222h1v3h-1zM730 228h1v3h-1zM730 234h1v3h-1zM730 240h1v3h-1zM730 246h1v3h-1zM730 252h1v3h-1zM730 258h1v3h-1zM730 264h1v3h-1zM730 270h1v3h-1zM730 276h1v3h-1zM730 282h1v3h-1zM730 288h1v3h-1zM730 294h1v3h-1zM730 300h1v3h-1zM730 306h1v3h-1zM730 312h1v3h-1zM730 318h1v3h-1zM730 324h1v3h-1zM730 330h1v3h-1zM730 336h1v3h-1zM730 342h1v3h-1zM730 348h1v3h-1zM730 354h1v3h-1zM730 360h1v3h-1zM730 366h1v3h-1zM730 372h1v3h-1zM730 378h1v3h-1zM730 384h1v3h-1zM730 390h1v3h-1zM730 396h1v3h-1zM730 402h1v3h-1zM730 408h1v3h-1zM730 414h1v3h-1zM730 420h1v3h-1zM730 426h1v3h-1zM730 432h1v3h-1zM730 438h1v3h-1zM730 444h1v3h-1zM730 450h1v3h-1zM730 456h1v3h-1zM730 462h1v3h-1zM730 468h1v3h-1zM730 474h1v3h-1zM730 480h1v3h-1zM730 486h1v3h-1zM730 492h1v3h-1zM730 498h1v3h-1zM730 504h1v3h-1zM730 510h1v3h-1zM730 516h1v3h-1zM730 522h1v3h-1zM730 528h1v3h-1zM730 534h1v3h-1zM730 540h1v3h-1zM730 546h1v3h-1zM730 552h1v3h-1zM730 558h1v3h-1zM730 564h1v3h-1zM730 570h1v3h-1zM730 576h1v3h-1zM730 582h1v3h-1zM730 588h1v3h-1zM730 594h1v3h-1zM730 600h1v3h-1zM730 606h1v3h-1zM730 612h1v3h-1zM730 618h1v3h-1zM730 624h1v3h-1zM730 630h1v3h-1zM730 636h1v3h-1zM730 642h1v3h-1zM730 648h1v3h-1zM730 654h1v3h-1zM730 660h1v3h-1zM730 666h1v3h-1zM730 672h1v3h-1zM730 678h1v3h-1zM730 684h1v3h-1zM730 690h1v3h-1zM730 696h1v3h-1zM730 702h1v3h-1zM730 708h1v3h-1zM730 714h1v3h-1zM730 720h1v3h-1zM730 726h1v3h-1zM730 732h1v3h-1zM730 738h1v3h-1zM730 744h1v3h-1zM730 750h1v3h-1zM730 756h1v3h-1zM730 762h1v3h-1zM730 768h1v3h-1zM730 774h1v3h-1zM730 780h1v3h-1zM730 786h1v3h-1zM730 792h1v3h-1zM730 798h1v3h-1zM730 804h1v3h-1zM730 810h1v3h-1zM730 816h1v3h-1zM730 822h1v3h-1zM730 828h1v3h-1zM730 834h1v3h-1zM730 840h1v3h-1zM730 846h1v3h-1zM730 852h1v3h-1zM730 858h1v3h-1zM730 864h1v3h-1zM730 870h1v3h-1zM730 876h1v3h-1zM730 882h1v3h-1zM730 888h1v3h-1zM730 894h1v3h-1zM730 900h1v3h-1zM730 906h1v3h-1zM730 912h1v3h-1zM730 918h1v3h-1zM730 924h1v3h-1zM730 930h1v2h-1zM796 1h1v2h-1zM796 6h1v3h-1zM796 12h1v3h-1zM796 18h1v3h-1zM796 24h1v3h-1zM796 30h1v3h-1zM796 36h1v3h-1zM796 42h1v3h-1zM796 48h1v3h-1zM796 54h1v3h-1zM796 60h1v3h-1zM796 66h1v3h-1zM796 72h1v3h-1zM796 78h1v3h-1zM796 84h1v3h-1zM796 90h1v3h-1zM796 96h1v3h-1zM796 102h1v3h-1zM796 108h1v3h-1zM796 114h1v3h-1zM796 120h1v3h-1zM796 126h1v3h-1zM796 132h1v3h-1zM796 138h1v3h-1zM796 144h1v3h-1zM796 150h1v3h-1zM796 156h1v3h-1zM796 162h1v3h-1zM796 168h1v3h-1zM796 174h1v3h-1zM796 180h1v3h-1zM796 186h1v3h-1zM796 192h1v3h-1zM796 198h1v3h-1zM796 204h1v3h-1zM796 210h1v3h-1zM796 216h1v3h-1zM796 222h1v3h-1zM796 228h1v3h-1zM796 234h1v3h-1zM796 240h1v3h-1zM796 246h1v3h-1zM796 252h1v3h-1zM796 258h1v3h-1zM796 264h1v3h-1zM796 270h1v3h-1zM796 276h1v3h-1zM796 282h1v3h-1zM796 288h1v3h-1zM796 294h1v3h-1zM796 300h1v3h-1zM796 306h1v3h-1zM796 312h1v3h-1zM796 318h1v3h-1zM796 324h1v3h-1zM796 330h1v3h-1zM796 336h1v3h-1zM796 342h1v3h-1zM796 348h1v3h-1zM796 354h1v3h-1zM796 360h1v3h-1zM796 366h1v3h-1zM796 372h1v3h-1zM796 378h1v3h-1zM796 384h1v3h-1zM796 390h1v3h-1zM796 396h1v3h-1zM796 402h1v3h-1zM796 408h1v3h-1zM796 414h1v3h-1zM796 420h1v3h-1zM796 426h1v3h-1zM796 432h1v3h-1zM796 438h1v3h-1zM796 444h1v3h-1zM796 450h1v3h-1zM796 456h1v3h-1zM796 462h1v3h-1zM796 468h1v3h-1zM796 474h1v3h-1zM796 480h1v3h-1zM796 486h1v3h-1zM796 492h1v3h-1zM796 498h1v3h-1zM796 504h1v3h-1zM796 510h1v3h-1zM796 516h1v3h-1zM796 522h1v3h-1zM796 528h1v3h-1zM796 534h1v3h-1zM796 540h1v3h-1zM796 546h1v3h-1zM796 552h1v3h-1zM796 558h1v3h-1zM796 564h1v3h-1zM796 570h1v3h-1zM796 576h1v3h-1zM796 582h1v3h-1zM796 588h1v3h-1zM796 594h1v3h-1zM796 600h1v3h-1zM796 606h1v3h-1zM796 612h1v3h-1zM796 618h1v3h-1zM796 624h1v3h-1zM796 630h1v3h-1zM796 636h1v3h-1zM796 642h1v3h-1zM796 648h1v3h-1zM796 654h1v3h-1zM796 660h1v3h-1zM796 666h1v3h-1zM796 672h1v3h-1zM796 678h1v3h-1zM796 684h1v3h-1zM796 690h1v3h-1zM796 696h1v3h-1zM796 702h1v3h-1zM796 708h1v3h-1zM796 714h1v3h-1zM796 720h1v3h-1zM796 726h1v3h-1zM796 732h1v3h-1zM796 738h1v3h-1zM796 744h1v3h-1zM796 750h1v3h-1zM796 756h1v3h-1zM796 762h1v3h-1zM796 768h1v3h-1zM796 774h1v3h-1zM796 780h1v3h-1zM796 786h1v3h-1zM796 792h1v3h-1zM796 798h1v3h-1zM796 804h1v3h-1zM796 810h1v3h-1zM796 816h1v3h-1zM796 822h1v3h-1zM796 828h1v3h-1zM796 834h1v3h-1zM796 840h1v3h-1zM796 846h1v3h-1zM796 852h1v3h-1zM796 858h1v3h-1zM796 864h1v3h-1zM796 870h1v3h-1zM796 876h1v3h-1zM796 882h1v3h-1zM796 888h1v3h-1zM796 894h1v3h-1zM796 900h1v3h-1zM796 906h1v3h-1zM796 912h1v3h-1zM796 918h1v3h-1zM796 924h1v3h-1zM796 930h1v2h-1zM859 1h1v2h-1zM859 6h1v3h-1zM859 12h1v3h-1zM859 18h1v3h-1zM859 24h1v3h-1zM859 30h1v3h-1zM859 36h1v3h-1zM859 42h1v3h-1zM859 48h1v3h-1zM859 54h1v3h-1zM859 60h1v3h-1zM859 66h1v3h-1zM859 72h1v3h-1zM859 78h1v3h-1zM859 84h1v3h-1zM859 90h1v3h-1zM859 96h1v3h-1zM859 102h1v3h-1zM859 108h1v3h-1zM859 114h1v3h-1zM859 120h1v3h-1zM859 126h1v3h-1zM859 132h1v3h-1zM859 138h1v3h-1zM859 144h1v3h-1zM859 150h1v3h-1zM859 156h1v3h-1zM859 162h1v3h-1zM859 168h1v3h-1zM859 174h1v3h-1zM859 180h1v3h-1zM859 186h1v3h-1zM859 192h1v3h-1zM859 198h1v3h-1zM859 204h1v3h-1zM859 210h1v3h-1zM859 216h1v3h-1zM859 222h1v3h-1zM859 228h1v3h-1zM859 234h1v3h-1zM859 240h1v3h-1zM859 246h1v3h-1zM859 252h1v3h-1zM859 258h1v3h-1zM859 264h1v3h-1zM859 270h1v3h-1zM859 276h1v3h-1zM859 282h1v3h-1zM859 288h1v3h-1zM859 294h1v3h-1zM859 300h1v3h-1zM859 306h1v3h-1zM859 312h1v3h-1zM859 318h1v3h-1zM859 324h1v3h-1zM859 330h1v3h-1zM859 336h1v3h-1zM859 342h1v3h-1zM859 348h1v3h-1zM859 354h1v3h-1zM859 360h1v3h-1zM859 366h1v3h-1zM859 372h1v3h-1zM859 378h1v3h-1zM859 384h1v3h-1zM859 390h1v3h-1zM859 396h1v3h-1zM859 402h1v3h-1zM859 408h1v3h-1zM859 414h1v3h-1zM859 420h1v3h-1zM859 426h1v3h-1zM859 432h1v3h-1zM859 438h1v3h-1zM859 444h1v3h-1zM859 450h1v3h-1zM859 456h1v3h-1zM859 462h1v3h-1zM859 468h1v3h-1zM859 474h1v3h-1zM859 480h1v3h-1zM859 486h1v3h-1zM859 492h1v3h-1zM859 498h1v3h-1zM859 504h1v3h-1zM859 510h1v3h-1zM859 516h1v3h-1zM859 522h1v3h-1zM859 528h1v3h-1zM859 534h1v3h-1zM859 540h1v3h-1zM859 546h1v3h-1zM859 552h1v3h-1zM859 558h1v3h-1zM859 564h1v3h-1zM859 570h1v3h-1zM859 576h1v3h-1zM859 582h1v3h-1zM859 588h1v3h-1zM859 594h1v3h-1zM859 600h1v3h-1zM859 606h1v3h-1zM859 612h1v3h-1zM859 618h1v3h-1zM859 624h1v3h-1zM859 630h1v3h-1zM859 636h1v3h-1zM859 642h1v3h-1zM859 648h1v3h-1zM859 654h1v3h-1zM859 660h1v3h-1zM859 666h1v3h-1zM859 672h1v3h-1zM859 678h1v3h-1zM859 684h1v3h-1zM859 690h1v3h-1zM859 696h1v3h-1zM859 702h1v3h-1zM859 708h1v3h-1zM859 714h1v3h-1zM859 720h1v3h-1zM859 726h1v3h-1zM859 732h1v3h-1zM859 738h1v3h-1zM859 744h1v3h-1zM859 750h1v3h-1zM859 756h1v3h-1zM859 762h1v3h-1zM859 768h1v3h-1zM859 774h1v3h-1zM859 780h1v3h-1zM859 786h1v3h-1zM859 792h1v3h-1zM859 798h1v3h-1zM859 804h1v3h-1zM859 810h1v3h-1zM859 816h1v3h-1zM859 822h1v3h-1zM859 828h1v3h-1zM859 834h1v3h-1zM859 840h1v3h-1zM859 846h1v3h-1zM859 852h1v3h-1zM859 858h1v3h-1zM859 864h1v3h-1zM859 870h1v3h-1zM859 876h1v3h-1zM859 882h1v3h-1zM859 888h1v3h-1zM859 894h1v3h-1zM859 900h1v3h-1zM859 906h1v3h-1zM859 912h1v3h-1zM859 918h1v3h-1zM859 924h1v3h-1zM859 930h1v2h-1zM925 1h1v2h-1zM925 6h1v3h-1zM925 12h1v3h-1zM925 18h1v3h-1zM925 24h1v3h-1zM925 30h1v3h-1zM925 36h1v3h-1zM925 42h1v3h-1zM925 48h1v3h-1zM925 54h1v3h-1zM925 60h1v3h-1zM925 66h1v3h-1zM925 72h1v3h-1zM925 78h1v3h-1zM925 84h1v3h-1zM925 90h1v3h-1zM925 96h1v3h-1zM925 102h1v3h-1zM925 108h1v3h-1zM925 114h1v3h-1zM925 120h1v3h-1zM925 126h1v3h-1zM925 132h1v3h-1zM925 138h1v3h-1zM925 144h1v3h-1zM925 150h1v3h-1zM925 156h1v3h-1zM925 162h1v3h-1zM925 168h1v3h-1zM925 174h1v3h-1zM925 180h1v3h-1zM925 186h1v3h-1zM925 192h1v3h-1zM925 198h1v3h-1zM925 204h1v3h-1zM925 210h1v3h-1zM925 216h1v3h-1zM925 222h1v3h-1zM925 228h1v3h-1zM925 234h1v3h-1zM925 240h1v3h-1zM925 246h1v3h-1zM925 252h1v3h-1zM925 258h1v3h-1zM925 264h1v3h-1zM925 270h1v3h-1zM925 276h1v3h-1zM925 282h1v3h-1zM925 288h1v3h-1zM925 294h1v3h-1zM925 300h1v3h-1zM925 306h1v3h-1zM925 312h1v3h-1zM925 318h1v3h-1zM925 324h1v3h-1zM925 330h1v3h-1zM925 336h1v3h-1zM925 342h1v3h-1zM925 348h1v3h-1zM925 354h1v3h-1zM925 360h1v3h-1zM925 366h1v3h-1zM925 372h1v3h-1zM925 378h1v3h-1zM925 384h1v3h-1zM925 390h1v3h-1zM925 396h1v3h-1zM925 402h1v3h-1zM925 408h1v3h-1zM925 414h1v3h-1zM925 420h1v3h-1zM925 426h1v3h-1zM925 432h1v3h-1zM925 438h1v3h-1zM925 444h1v3h-1zM925 450h1v3h-1zM925 456h1v3h-1zM925 462h1v3h-1zM925 468h1v3h-1zM925 474h1v3h-1zM925 480h1v3h-1zM925 486h1v3h-1zM925 492h1v3h-1zM925 498h1v3h-1zM925 504h1v3h-1zM925 510h1v3h-1zM925 516h1v3h-1zM925 522h1v3h-1zM925 528h1v3h-1zM925 534h1v3h-1zM925 540h1v3h-1zM925 546h1v3h-1zM925 552h1v3h-1zM925 558h1v3h-1zM925 564h1v3h-1zM925 570h1v3h-1zM925 576h1v3h-1zM925 582h1v3h-1zM925 588h1v3h-1zM925 594h1v3h-1zM925 600h1v3h-1zM925 606h1v3h-1zM925 612h1v3h-1zM925 618h1v3h-1zM925 624h1v3h-1zM925 630h1v3h-1zM925 636h1v3h-1zM925 642h1v3h-1zM925 648h1v3h-1zM925 654h1v3h-1zM925 660h1v3h-1zM925 666h1v3h-1zM925 672h1v3h-1zM925 678h1v3h-1zM925 684h1v3h-1zM925 690h1v3h-1zM925 696h1v3h-1zM925 702h1v3h-1zM925 708h1v3h-1zM925 714h1v3h-1zM925 720h1v3h-1zM925 726h1v3h-1zM925 732h1v3h-1zM925 738h1v3h-1zM925 744h1v3h-1zM925 750h1v3h-1zM925 756h1v3h-1zM925 762h1v3h-1zM925 768h1v3h-1zM925 774h1v3h-1zM925 780h1v3h-1zM925 786h1v3h-1zM925 792h1v3h-1zM925 798h1v3h-1zM925 804h1v3h-1zM925 810h1v3h-1zM925 816h1v3h-1zM925 822h1v3h-1zM925 828h1v3h-1zM925 834h1v3h-1zM925 840h1v3h-1zM925 846h1v3h-1zM925 852h1v3h-1zM925 858h1v3h-1zM925 864h1v3h-1zM925 870h1v3h-1zM925 876h1v3h-1zM925 882h1v3h-1zM925 888h1v3h-1zM925 894h1v3h-1zM925 900h1v3h-1zM925 906h1v3h-1zM925 912h1v3h-1zM925 918h1v3h-1zM925 924h1v3h-1zM925 930h1v2h-1zM988 1h1v2h-1zM988 6h1v3h-1zM988 12h1v3h-1zM988 18h1v3h-1zM988 24h1v3h-1zM988 30h1v3h-1zM988 36h1v3h-1zM988 42h1v3h-1zM988 48h1v3h-1zM988 54h1v3h-1zM988 60h1v3h-1zM988 66h1v3h-1zM988 72h1v3h-1zM988 78h1v3h-1zM988 84h1v3h-1zM988 90h1v3h-1zM988 96h1v3h-1zM988 102h1v3h-1zM988 108h1v3h-1zM988 114h1v3h-1zM988 120h1v3h-1zM988 126h1v3h-1zM988 132h1v3h-1zM988 138h1v3h-1zM988 144h1v3h-1zM988 150h1v3h-1zM988 156h1v3h-1zM988 162h1v3h-1zM988 168h1v3h-1zM988 174h1v3h-1zM988 180h1v3h-1zM988 186h1v3h-1zM988 192h1v3h-1zM988 198h1v3h-1zM988 204h1v3h-1zM988 210h1v3h-1zM988 216h1v3h-1zM988 222h1v3h-1zM988 228h1v3h-1zM988 234h1v3h-1zM988 240h1v3h-1zM988 246h1v3h-1zM988 252h1v3h-1zM988 258h1v3h-1zM988 264h1v3h-1zM988 270h1v3h-1zM988 276h1v3h-1zM988 282h1v3h-1zM988 288h1v3h-1zM988 294h1v3h-1zM988 300h1v3h-1zM988 306h1v3h-1zM988 312h1v3h-1zM988 318h1v3h-1zM988 324h1v3h-1zM988 330h1v3h-1zM988 336h1v3h-1zM988 342h1v3h-1zM988 348h1v3h-1zM988 354h1v3h-1zM988 360h1v3h-1zM988 366h1v3h-1zM988 372h1v3h-1zM988 378h1v3h-1zM988 384h1v3h-1zM988 390h1v3h-1zM988 396h1v3h-1zM988 402h1v3h-1zM988 408h1v3h-1zM988 414h1v3h-1zM988 420h1v3h-1zM988 426h1v3h-1zM988 432h1v3h-1zM988 438h1v3h-1zM988 444h1v3h-1zM988 450h1v3h-1zM988 456h1v3h-1zM988 462h1v3h-1zM988 468h1v3h-1zM988 474h1v3h-1zM988 480h1v3h-1zM988 486h1v3h-1zM988 492h1v3h-1zM988 498h1v3h-1zM988 504h1v3h-1zM988 510h1v3h-1zM988 516h1v3h-1zM988 522h1v3h-1zM988 528h1v3h-1zM988 534h1v3h-1zM988 540h1v3h-1zM988 546h1v3h-1zM988 552h1v3h-1zM988 558h1v3h-1zM988 564h1v3h-1zM988 570h1v3h-1zM988 576h1v3h-1zM988 582h1v3h-1zM988 588h1v3h-1zM988 594h1v3h-1zM988 600h1v3h-1zM988 606h1v3h-1zM988 612h1v3h-1zM988 618h1v3h-1zM988 624h1v3h-1zM988 630h1v3h-1zM988 636h1v3h-1zM988 642h1v3h-1zM988 648h1v3h-1zM988 654h1v3h-1zM988 660h1v3h-1zM988 666h1v3h-1zM988 672h1v3h-1zM988 678h1v3h-1zM988 684h1v3h-1zM988 690h1v3h-1zM988 696h1v3h-1zM988 702h1v3h-1zM988 708h1v3h-1zM988 714h1v3h-1zM988 720h1v3h-1zM988 726h1v3h-1zM988 732h1v3h-1zM988 738h1v3h-1zM988 744h1v3h-1zM988 750h1v3h-1zM988 756h1v3h-1zM988 762h1v3h-1zM988 768h1v3h-1zM988 774h1v3h-1zM988 780h1v3h-1zM988 786h1v3h-1zM988 792h1v3h-1zM988 798h1v3h-1zM988 804h1v3h-1zM988 810h1v3h-1zM988 816h1v3h-1zM988 822h1v3h-1zM988 828h1v3h-1zM988 834h1v3h-1zM988 840h1v3h-1zM988 846h1v3h-1zM988 852h1v3h-1zM988 858h1v3h-1zM988 864h1v3h-1zM988 870h1v3h-1zM988 876h1v3h-1zM988 882h1v3h-1zM988 888h1v3h-1zM988 894h1v3h-1zM988 900h1v3h-1zM988 906h1v3h-1zM988 912h1v3h-1zM988 918h1v3h-1zM988 924h1v3h-1zM988 930h1v2h-1zM1051 1h1v2h-1zM1051 6h1v3h-1zM1051 12h1v3h-1zM1051 18h1v3h-1zM1051 24h1v3h-1zM1051 30h1v3h-1zM1051 36h1v3h-1zM1051 42h1v3h-1zM1051 48h1v3h-1zM1051 54h1v3h-1zM1051 60h1v3h-1zM1051 66h1v3h-1zM1051 72h1v3h-1zM1051 78h1v3h-1zM1051 84h1v3h-1zM1051 90h1v3h-1zM1051 96h1v3h-1zM1051 102h1v3h-1zM1051 108h1v3h-1zM1051 114h1v3h-1zM1051 120h1v3h-1zM1051 126h1v3h-1zM1051 132h1v3h-1zM1051 138h1v3h-1zM1051 144h1v3h-1zM1051 150h1v3h-1zM1051 156h1v3h-1zM1051 162h1v3h-1zM1051 168h1v3h-1zM1051 174h1v3h-1zM1051 180h1v3h-1zM1051 186h1v3h-1zM1051 192h1v3h-1zM1051 198h1v3h-1zM1051 204h1v3h-1zM1051 210h1v3h-1zM1051 216h1v3h-1zM1051 222h1v3h-1zM1051 228h1v3h-1zM1051 234h1v3h-1zM1051 240h1v3h-1zM1051 246h1v3h-1zM1051 252h1v3h-1zM1051 258h1v3h-1zM1051 264h1v3h-1zM1051 270h1v3h-1zM1051 276h1v3h-1zM1051 282h1v3h-1zM1051 288h1v3h-1zM1051 294h1v3h-1zM1051 300h1v3h-1zM1051 306h1v3h-1zM1051 312h1v3h-1zM1051 318h1v3h-1zM1051 324h1v3h-1zM1051 330h1v3h-1zM1051 336h1v3h-1zM1051 342h1v3h-1zM1051 348h1v3h-1zM1051 354h1v3h-1zM1051 360h1v3h-1zM1051 366h1v3h-1zM1051 372h1v3h-1zM1051 378h1v3h-1zM1051 384h1v3h-1zM1051 390h1v3h-1zM1051 396h1v3h-1zM1051 402h1v3h-1zM1051 408h1v3h-1zM1051 414h1v3h-1zM1051 420h1v3h-1zM1051 426h1v3h-1zM1051 432h1v3h-1zM1051 438h1v3h-1zM1051 444h1v3h-1zM1051 450h1v3h-1zM1051 456h1v3h-1zM1051 462h1v3h-1zM1051 468h1v3h-1zM1051 474h1v3h-1zM1051 480h1v3h-1zM1051 486h1v3h-1zM1051 492h1v3h-1zM1051 498h1v3h-1zM1051 504h1v3h-1zM1051 510h1v3h-1zM1051 516h1v3h-1zM1051 522h1v3h-1zM1051 528h1v3h-1zM1051 534h1v3h-1zM1051 540h1v3h-1zM1051 546h1v3h-1zM1051 552h1v3h-1zM1051 558h1v3h-1zM1051 564h1v3h-1zM1051 570h1v3h-1zM1051 576h1v3h-1zM1051 582h1v3h-1zM1051 588h1v3h-1zM1051 594h1v3h-1zM1051 600h1v3h-1zM1051 606h1v3h-1zM1051 612h1v3h-1zM1051 618h1v3h-1zM1051 624h1v3h-1zM1051 630h1v3h-1zM1051 636h1v3h-1zM1051 642h1v3h-1zM1051 648h1v3h-1zM1051 654h1v3h-1zM1051 660h1v3h-1zM1051 666h1v3h-1zM1051 672h1v3h-1zM1051 678h1v3h-1zM1051 684h1v3h-1zM1051 690h1v3h-1zM1051 696h1v3h-1zM1051 702h1v3h-1zM1051 708h1v3h-1zM1051 714h1v3h-1zM1051 720h1v3h-1zM1051 726h1v3h-1zM1051 732h1v3h-1zM1051 738h1v3h-1zM1051 744h1v3h-1zM1051 750h1v3h-1zM1051 756h1v3h-1zM1051 762h1v3h-1zM1051 768h1v3h-1zM1051 774h1v3h-1zM1051 780h1v3h-1zM1051 786h1v3h-1zM1051 792h1v3h-1zM1051 798h1v3h-1zM1051 804h1v3h-1zM1051 810h1v3h-1zM1051 816h1v3h-1zM1051 822h1v3h-1zM1051 828h1v3h-1zM1051 834h1v3h-1zM1051 840h1v3h-1zM1051 846h1v3h-1zM1051 852h1v3h-1zM1051 858h1v3h-1zM1051 864h1v3h-1zM1051 870h1v3h-1zM1051 876h1v3h-1zM1051 882h1v3h-1zM1051 888h1v3h-1zM1051 894h1v3h-1zM1051 900h1v3h-1zM1051 906h1v3h-1zM1051 912h1v3h-1zM1051 918h1v3h-1zM1051 924h1v3h-1zM1051 930h1v2h-1zM1111 1h1v2h-1zM1111 6h1v3h-1zM1111 12h1v3h-1zM1111 18h1v3h-1zM1111 24h1v3h-1zM1111 30h1v3h-1zM1111 36h1v3h-1zM1111 42h1v3h-1zM1111 48h1v3h-1zM1111 54h1v3h-1zM1111 60h1v3h-1zM1111 66h1v3h-1zM1111 72h1v3h-1zM1111 78h1v3h-1zM1111 84h1v3h-1zM1111 90h1v3h-1zM1111 96h1v3h-1zM1111 102h1v3h-1zM1111 108h1v3h-1zM1111 114h1v3h-1zM1111 120h1v3h-1zM1111 126h1v3h-1zM1111 132h1v3h-1zM1111 138h1v3h-1zM1111 144h1v3h-1zM1111 150h1v3h-1zM1111 156h1v3h-1zM1111 162h1v3h-1zM1111 168h1v3h-1zM1111 174h1v3h-1zM1111 180h1v3h-1zM1111 186h1v3h-1zM1111 192h1v3h-1zM1111 198h1v3h-1zM1111 204h1v3h-1zM1111 210h1v3h-1zM1111 216h1v3h-1zM1111 222h1v3h-1zM1111 228h1v3h-1zM1111 234h1v3h-1zM1111 240h1v3h-1zM1111 246h1v3h-1zM1111 252h1v3h-1zM1111 258h1v3h-1zM1111 264h1v3h-1zM1111 270h1v3h-1zM1111 276h1v3h-1zM1111 282h1v3h-1zM1111 288h1v3h-1zM1111 294h1v3h-1zM1111 300h1v3h-1zM1111 306h1v3h-1zM1111 312h1v3h-1zM1111 318h1v3h-1zM1111 324h1v3h-1zM1111 330h1v3h-1zM1111 336h1v3h-1zM1111 342h1v3h-1zM1111 348h1v3h-1zM1111 354h1v3h-1zM1111 360h1v3h-1zM1111 366h1v3h-1zM1111 372h1v3h-1zM1111 378h1v3h-1zM1111 384h1v3h-1zM1111 390h1v3h-1zM1111 396h1v3h-1zM1111 402h1v3h-1zM1111 408h1v3h-1zM1111 414h1v3h-1zM1111 420h1v3h-1zM1111 426h1v3h-1zM1111 432h1v3h-1zM1111 438h1v3h-1zM1111 444h1v3h-1zM1111 450h1v3h-1zM1111 456h1v3h-1zM1111 462h1v3h-1zM1111 468h1v3h-1zM1111 474h1v3h-1zM1111 480h1v3h-1zM1111 486h1v3h-1zM1111 492h1v3h-1zM1111 498h1v3h-1zM1111 504h1v3h-1zM1111 510h1v3h-1zM1111 516h1v3h-1zM1111 522h1v3h-1zM1111 528h1v3h-1zM1111 534h1v3h-1zM1111 540h1v3h-1zM1111 546h1v3h-1zM1111 552h1v3h-1zM1111 558h1v3h-1zM1111 564h1v3h-1zM1111 570h1v3h-1zM1111 576h1v3h-1zM1111 582h1v3h-1zM1111 588h1v3h-1zM1111 594h1v3h-1zM1111 600h1v3h-1zM1111 606h1v3h-1zM1111 612h1v3h-1zM1111 618h1v3h-1zM1111 624h1v3h-1zM1111 630h1v3h-1zM1111 636h1v3h-1zM1111 642h1v3h-1zM1111 648h1v3h-1zM1111 654h1v3h-1zM1111 660h1v3h-1zM1111 666h1v3h-1zM1111 672h1v3h-1zM1111 678h1v3h-1zM1111 684h1v3h-1zM1111 690h1v3h-1zM1111 696h1v3h-1zM1111 702h1v3h-1zM1111 708h1v3h-1zM1111 714h1v3h-1zM1111 720h1v3h-1zM1111 726h1v3h-1zM1111 732h1v3h-1zM1111 738h1v3h-1zM1111 744h1v3h-1zM1111 750h1v3h-1zM1111 756h1v3h-1zM1111 762h1v3h-1zM1111 768h1v3h-1zM1111 774h1v3h-1zM1111 780h1v3h-1zM1111 786h1v3h-1zM1111 792h1v3h-1zM1111 798h1v3h-1zM1111 804h1v3h-1zM1111 810h1v3h-1zM1111 816h1v3h-1zM1111 822h1v3h-1zM1111 828h1v3h-1zM1111 834h1v3h-1zM1111 840h1v3h-1zM1111 846h1v3h-1zM1111 852h1v3h-1zM1111 858h1v3h-1zM1111 864h1v3h-1zM1111 870h1v3h-1zM1111 876h1v3h-1zM1111 882h1v3h-1zM1111 888h1v3h-1zM1111 894h1v3h-1zM1111 900h1v3h-1zM1111 906h1v3h-1zM1111 912h1v3h-1zM1111 918h1v3h-1zM1111 924h1v3h-1zM1111 930h1v2h-1zM1181 1h1v2h-1zM1181 6h1v3h-1zM1181 12h1v3h-1zM1181 18h1v3h-1zM1181 24h1v3h-1zM1181 30h1v3h-1zM1181 36h1v3h-1zM1181 42h1v3h-1zM1181 48h1v3h-1zM1181 54h1v3h-1zM1181 60h1v3h-1zM1181 66h1v3h-1zM1181 72h1v3h-1zM1181 78h1v3h-1zM1181 84h1v3h-1zM1181 90h1v3h-1zM1181 96h1v3h-1zM1181 102h1v3h-1zM1181 108h1v3h-1zM1181 114h1v3h-1zM1181 120h1v3h-1zM1181 126h1v3h-1zM1181 132h1v3h-1zM1181 138h1v3h-1zM1181 144h1v3h-1zM1181 150h1v3h-1zM1181 156h1v3h-1zM1181 162h1v3h-1zM1181 168h1v3h-1zM1181 174h1v3h-1zM1181 180h1v3h-1zM1181 186h1v3h-1zM1181 192h1v3h-1zM1181 198h1v3h-1zM1181 204h1v3h-1zM1181 210h1v3h-1zM1181 216h1v3h-1zM1181 222h1v3h-1zM1181 228h1v3h-1zM1181 234h1v3h-1zM1181 240h1v3h-1zM1181 246h1v3h-1zM1181 252h1v3h-1zM1181 258h1v3h-1zM1181 264h1v3h-1zM1181 270h1v3h-1zM1181 276h1v3h-1zM1181 282h1v3h-1zM1181 288h1v3h-1zM1181 294h1v3h-1zM1181 300h1v3h-1zM1181 306h1v3h-1zM1181 312h1v3h-1zM1181 318h1v3h-1zM1181 324h1v3h-1zM1181 330h1v3h-1zM1181 336h1v3h-1zM1181 342h1v3h-1zM1181 348h1v3h-1zM1181 354h1v3h-1zM1181 360h1v3h-1zM1181 366h1v3h-1zM1181 372h1v3h-1zM1181 378h1v3h-1zM1181 384h1v3h-1zM1181 390h1v3h-1zM1181 396h1v3h-1zM1181 402h1v3h-1zM1181 408h1v3h-1zM1181 414h1v3h-1zM1181 420h1v3h-1zM1181 426h1v3h-1zM1181 432h1v3h-1zM1181 438h1v3h-1zM1181 444h1v3h-1zM1181 450h1v3h-1zM1181 456h1v3h-1zM1181 462h1v3h-1zM1181 468h1v3h-1zM1181 474h1v3h-1zM1181 480h1v3h-1zM1181 486h1v3h-1zM1181 492h1v3h-1zM1181 498h1v3h-1zM1181 504h1v3h-1zM1181 510h1v3h-1zM1181 516h1v3h-1zM1181 522h1v3h-1zM1181 528h1v3h-1zM1181 534h1v3h-1zM1181 540h1v3h-1zM1181 546h1v3h-1zM1181 552h1v3h-1zM1181 558h1v3h-1zM1181 564h1v3h-1zM1181 570h1v3h-1zM1181 576h1v3h-1zM1181 582h1v3h-1zM1181 588h1v3h-1zM1181 594h1v3h-1zM1181 600h1v3h-1zM1181 606h1v3h-1zM1181 612h1v3h-1zM1181 618h1v3h-1zM1181 624h1v3h-1zM1181 630h1v3h-1zM1181 636h1v3h-1zM1181 642h1v3h-1zM1181 648h1v3h-1zM1181 654h1v3h-1zM1181 660h1v3h-1zM1181 666h1v3h-1zM1181 672h1v3h-1zM1181 678h1v3h-1zM1181 684h1v3h-1zM1181 690h1v3h-1zM1181 696h1v3h-1zM1181 702h1v3h-1zM1181 708h1v3h-1zM1181 714h1v3h-1zM1181 720h1v3h-1zM1181 726h1v3h-1zM1181 732h1v3h-1zM1181 738h1v3h-1zM1181 744h1v3h-1zM1181 750h1v3h-1zM1181 756h1v3h-1zM1181 762h1v3h-1zM1181 768h1v3h-1zM1181 774h1v3h-1zM1181 780h1v3h-1zM1181 786h1v3h-1zM1181 792h1v3h-1zM1181 798h1v3h-1zM1181 804h1v3h-1zM1181 810h1v3h-1zM1181 816h1v3h-1zM1181 822h1v3h-1zM1181 828h1v3h-1zM1181 834h1v3h-1zM1181 840h1v3h-1zM1181 846h1v3h-1zM1181 852h1v3h-1zM1181 858h1v3h-1zM1181 864h1v3h-1zM1181 870h1v3h-1zM1181 876h1v3h-1zM1181 882h1v3h-1zM1181 888h1v3h-1zM1181 894h1v3h-1zM1181 900h1v3h-1zM1181 906h1v3h-1zM1181 912h1v3h-1zM1181 918h1v3h-1zM1181 924h1v3h-1zM1181 930h1v2h-1zM1235 1h1v2h-1zM1235 6h1v3h-1zM1235 12h1v3h-1zM1235 18h1v3h-1zM1235 24h1v3h-1zM1235 30h1v3h-1zM1235 36h1v3h-1zM1235 42h1v3h-1zM1235 48h1v3h-1zM1235 54h1v3h-1zM1235 60h1v3h-1zM1235 66h1v3h-1zM1235 72h1v3h-1zM1235 78h1v3h-1zM1235 84h1v3h-1zM1235 90h1v3h-1zM1235 96h1v3h-1zM1235 102h1v3h-1zM1235 108h1v3h-1zM1235 114h1v3h-1zM1235 120h1v3h-1zM1235 126h1v3h-1zM1235 132h1v3h-1zM1235 138h1v3h-1zM1235 144h1v3h-1zM1235 150h1v3h-1zM1235 156h1v3h-1zM1235 162h1v3h-1zM1235 168h1v3h-1zM1235 174h1v3h-1zM1235 180h1v3h-1zM1235 186h1v3h-1zM1235 192h1v3h-1zM1235 198h1v3h-1zM1235 204h1v3h-1zM1235 210h1v3h-1zM1235 216h1v3h-1zM1235 222h1v3h-1zM1235 228h1v3h-1zM1235 234h1v3h-1zM1235 240h1v3h-1zM1235 246h1v3h-1zM1235 252h1v3h-1zM1235 258h1v3h-1zM1235 264h1v3h-1zM1235 270h1v3h-1zM1235 276h1v3h-1zM1235 282h1v3h-1zM1235 288h1v3h-1zM1235 294h1v3h-1zM1235 300h1v3h-1zM1235 306h1v3h-1zM1235 312h1v3h-1zM1235 318h1v3h-1zM1235 324h1v3h-1zM1235 330h1v3h-1zM1235 336h1v3h-1zM1235 342h1v3h-1zM1235 348h1v3h-1zM1235 354h1v3h-1zM1235 360h1v3h-1zM1235 366h1v3h-1zM1235 372h1v3h-1zM1235 378h1v3h-1zM1235 384h1v3h-1zM1235 390h1v3h-1zM1235 396h1v3h-1zM1235 402h1v3h-1zM1235 408h1v3h-1zM1235 414h1v3h-1zM1235 420h1v3h-1zM1235 426h1v3h-1zM1235 432h1v3h-1zM1235 438h1v3h-1zM1235 444h1v3h-1zM1235 450h1v3h-1zM1235 456h1v3h-1zM1235 462h1v3h-1zM1235 468h1v3h-1zM1235 474h1v3h-1zM1235 480h1v3h-1zM1235 486h1v3h-1zM1235 492h1v3h-1zM1235 498h1v3h-1zM1235 504h1v3h-1zM1235 510h1v3h-1zM1235 516h1v3h-1zM1235 522h1v3h-1zM1235 528h1v3h-1zM1235 534h1v3h-1zM1235 540h1v3h-1zM1235 546h1v3h-1zM1235 552h1v3h-1zM1235 558h1v3h-1zM1235 564h1v3h-1zM1235 570h1v3h-1zM1235 576h1v3h-1zM1235 582h1v3h-1zM1235 588h1v3h-1zM1235 594h1v3h-1zM1235 600h1v3h-1zM1235 606h1v3h-1zM1235 612h1v3h-1zM1235 618h1v3h-1zM1235 624h1v3h-1zM1235 630h1v3h-1zM1235 636h1v3h-1zM1235 642h1v3h-1zM1235 648h1v3h-1zM1235 654h1v3h-1zM1235 660h1v3h-1zM1235 666h1v3h-1zM1235 672h1v3h-1zM1235 678h1v3h-1zM1235 684h1v3h-1zM1235 690h1v3h-1zM1235 696h1v3h-1zM1235 702h1v3h-1zM1235 708h1v3h-1zM1235 714h1v3h-1zM1235 720h1v3h-1zM1235 726h1v3h-1zM1235 732h1v3h-1zM1235 738h1v3h-1zM1235 744h1v3h-1zM1235 750h1v3h-1zM1235 756h1v3h-1zM1235 762h1v3h-1zM1235 768h1v3h-1zM1235 774h1v3h-1zM1235 780h1v3h-1zM1235 786h1v3h-1zM1235 792h1v3h-1zM1235 798h1v3h-1zM1235 804h1v3h-1zM1235 810h1v3h-1zM1235 816h1v3h-1zM1235 822h1v3h-1zM1235 828h1v3h-1zM1235 834h1v3h-1zM1235 840h1v3h-1zM1235 846h1v3h-1zM1235 852h1v3h-1zM1235 858h1v3h-1zM1235 864h1v3h-1zM1235 870h1v3h-1zM1235 876h1v3h-1zM1235 882h1v3h-1zM1235 888h1v3h-1zM1235 894h1v3h-1zM1235 900h1v3h-1zM1235 906h1v3h-1zM1235 912h1v3h-1zM1235 918h1v3h-1zM1235 924h1v3h-1zM1235 930h1v2h-1zM1301 1h1v2h-1zM1301 6h1v3h-1zM1301 12h1v3h-1zM1301 18h1v3h-1zM1301 24h1v3h-1zM1301 30h1v3h-1zM1301 36h1v3h-1zM1301 42h1v3h-1zM1301 48h1v3h-1zM1301 54h1v3h-1zM1301 60h1v3h-1zM1301 66h1v3h-1zM1301 72h1v3h-1zM1301 78h1v3h-1zM1301 84h1v3h-1zM1301 90h1v3h-1zM1301 96h1v3h-1zM1301 102h1v3h-1zM1301 108h1v3h-1zM1301 114h1v3h-1zM1301 120h1v3h-1zM1301 126h1v3h-1zM1301 132h1v3h-1zM1301 138h1v3h-1zM1301 144h1v3h-1zM1301 150h1v3h-1zM1301 156h1v3h-1zM1301 162h1v3h-1zM1301 168h1v3h-1zM1301 174h1v3h-1zM1301 180h1v3h-1zM1301 186h1v3h-1zM1301 192h1v3h-1zM1301 198h1v3h-1zM1301 204h1v3h-1zM1301 210h1v3h-1zM1301 216h1v3h-1zM1301 222h1v3h-1zM1301 228h1v3h-1zM1301 234h1v3h-1zM1301 240h1v3h-1zM1301 246h1v3h-1zM1301 252h1v3h-1zM1301 258h1v3h-1zM1301 264h1v3h-1zM1301 270h1v3h-1zM1301 276h1v3h-1zM1301 282h1v3h-1zM1301 288h1v3h-1zM1301 294h1v3h-1zM1301 300h1v3h-1zM1301 306h1v3h-1zM1301 312h1v3h-1zM1301 318h1v3h-1zM1301 324h1v3h-1zM1301 330h1v3h-1zM1301 336h1v3h-1zM1301 342h1v3h-1zM1301 348h1v3h-1zM1301 354h1v3h-1zM1301 360h1v3h-1zM1301 366h1v3h-1zM1301 372h1v3h-1zM1301 378h1v3h-1zM1301 384h1v3h-1zM1301 390h1v3h-1zM1301 396h1v3h-1zM1301 402h1v3h-1zM1301 408h1v3h-1zM1301 414h1v3h-1zM1301 420h1v3h-1zM1301 426h1v3h-1zM1301 432h1v3h-1zM1301 438h1v3h-1zM1301 444h1v3h-1zM1301 450h1v3h-1zM1301 456h1v3h-1zM1301 462h1v3h-1zM1301 468h1v3h-1zM1301 474h1v3h-1zM1301 480h1v3h-1zM1301 486h1v3h-1zM1301 492h1v3h-1zM1301 498h1v3h-1zM1301 504h1v3h-1zM1301 510h1v3h-1zM1301 516h1v3h-1zM1301 522h1v3h-1zM1301 528h1v3h-1zM1301 534h1v3h-1zM1301 540h1v3h-1zM1301 546h1v3h-1zM1301 552h1v3h-1zM1301 558h1v3h-1zM1301 564h1v3h-1zM1301 570h1v3h-1zM1301 576h1v3h-1zM1301 582h1v3h-1zM1301 588h1v3h-1zM1301 594h1v3h-1zM1301 600h1v3h-1zM1301 606h1v3h-1zM1301 612h1v3h-1zM1301 618h1v3h-1zM1301 624h1v3h-1zM1301 630h1v3h-1zM1301 636h1v3h-1zM1301 642h1v3h-1zM1301 648h1v3h-1zM1301 654h1v3h-1zM1301 660h1v3h-1zM1301 666h1v3h-1zM1301 672h1v3h-1zM1301 678h1v3h-1zM1301 684h1v3h-1zM1301 690h1v3h-1zM1301 696h1v3h-1zM1301 702h1v3h-1zM1301 708h1v3h-1zM1301 714h1v3h-1zM1301 720h1v3h-1zM1301 726h1v3h-1zM1301 732h1v3h-1zM1301 738h1v3h-1zM1301 744h1v3h-1zM1301 750h1v3h-1zM1301 756h1v3h-1zM1301 762h1v3h-1zM1301 768h1v3h-1zM1301 774h1v3h-1zM1301 780h1v3h-1zM1301 786h1v3h-1zM1301 792h1v3h-1zM1301 798h1v3h-1zM1301 804h1v3h-1zM1301 810h1v3h-1zM1301 816h1v3h-1zM1301 822h1v3h-1zM1301 828h1v3h-1zM1301 834h1v3h-1zM1301 840h1v3h-1zM1301 846h1v3h-1zM1301 852h1v3h-1zM1301 858h1v3h-1zM1301 864h1v3h-1zM1301 870h1v3h-1zM1301 876h1v3h-1zM1301 882h1v3h-1zM1301 888h1v3h-1zM1301 894h1v3h-1zM1301 900h1v3h-1zM1301 906h1v3h-1zM1301 912h1v3h-1zM1301 918h1v3h-1zM1301 924h1v3h-1zM1301 930h1v2h-1zM1367 1h1v2h-1zM1367 6h1v3h-1zM1367 12h1v3h-1zM1367 18h1v3h-1zM1367 24h1v3h-1zM1367 30h1v3h-1zM1367 36h1v3h-1zM1367 42h1v3h-1zM1367 48h1v3h-1zM1367 54h1v3h-1zM1367 60h1v3h-1zM1367 66h1v3h-1zM1367 72h1v3h-1zM1367 78h1v3h-1zM1367 84h1v3h-1zM1367 90h1v3h-1zM1367 96h1v3h-1zM1367 102h1v3h-1zM1367 108h1v3h-1zM1367 114h1v3h-1zM1367 120h1v3h-1zM1367 126h1v3h-1zM1367 132h1v3h-1zM1367 138h1v3h-1zM1367 144h1v3h-1zM1367 150h1v3h-1zM1367 156h1v3h-1zM1367 162h1v3h-1zM1367 168h1v3h-1zM1367 174h1v3h-1zM1367 180h1v3h-1zM1367 186h1v3h-1zM1367 192h1v3h-1zM1367 198h1v3h-1zM1367 204h1v3h-1zM1367 210h1v3h-1zM1367 216h1v3h-1zM1367 222h1v3h-1zM1367 228h1v3h-1zM1367 234h1v3h-1zM1367 240h1v3h-1zM1367 246h1v3h-1zM1367 252h1v3h-1zM1367 258h1v3h-1zM1367 264h1v3h-1zM1367 270h1v3h-1zM1367 276h1v3h-1zM1367 282h1v3h-1zM1367 288h1v3h-1zM1367 294h1v3h-1zM1367 300h1v3h-1zM1367 306h1v3h-1zM1367 312h1v3h-1zM1367 318h1v3h-1zM1367 324h1v3h-1zM1367 330h1v3h-1zM1367 336h1v3h-1zM1367 342h1v3h-1zM1367 348h1v3h-1zM1367 354h1v3h-1zM1367 360h1v3h-1zM1367 366h1v3h-1zM1367 372h1v3h-1zM1367 378h1v3h-1zM1367 384h1v3h-1zM1367 390h1v3h-1zM1367 396h1v3h-1zM1367 402h1v3h-1zM1367 408h1v3h-1zM1367 414h1v3h-1zM1367 420h1v3h-1zM1367 426h1v3h-1zM1367 432h1v3h-1zM1367 438h1v3h-1zM1367 444h1v3h-1zM1367 450h1v3h-1zM1367 456h1v3h-1zM1367 462h1v3h-1zM1367 468h1v3h-1zM1367 474h1v3h-1zM1367 480h1v3h-1zM1367 486h1v3h-1zM1367 492h1v3h-1zM1367 498h1v3h-1zM1367 504h1v3h-1zM1367 510h1v3h-1zM1367 516h1v3h-1zM1367 522h1v3h-1zM1367 528h1v3h-1zM1367 534h1v3h-1zM1367 540h1v3h-1zM1367 546h1v3h-1zM1367 552h1v3h-1zM1367 558h1v3h-1zM1367 564h1v3h-1zM1367 570h1v3h-1zM1367 576h1v3h-1zM1367 582h1v3h-1zM1367 588h1v3h-1zM1367 594h1v3h-1zM1367 600h1v3h-1zM1367 606h1v3h-1zM1367 612h1v3h-1zM1367 618h1v3h-1zM1367 624h1v3h-1zM1367 630h1v3h-1zM1367 636h1v3h-1zM1367 642h1v3h-1zM1367 648h1v3h-1zM1367 654h1v3h-1zM1367 660h1v3h-1zM1367 666h1v3h-1zM1367 672h1v3h-1zM1367 678h1v3h-1zM1367 684h1v3h-1zM1367 690h1v3h-1zM1367 696h1v3h-1zM1367 702h1v3h-1zM1367 708h1v3h-1zM1367 714h1v3h-1zM1367 720h1v3h-1zM1367 726h1v3h-1zM1367 732h1v3h-1zM1367 738h1v3h-1zM1367 744h1v3h-1zM1367 750h1v3h-1zM1367 756h1v3h-1zM1367 762h1v3h-1zM1367 768h1v3h-1zM1367 774h1v3h-1zM1367 780h1v3h-1zM1367 786h1v3h-1zM1367 792h1v3h-1zM1367 798h1v3h-1zM1367 804h1v3h-1zM1367 810h1v3h-1zM1367 816h1v3h-1zM1367 822h1v3h-1zM1367 828h1v3h-1zM1367 834h1v3h-1zM1367 840h1v3h-1zM1367 846h1v3h-1zM1367 852h1v3h-1zM1367 858h1v3h-1zM1367 864h1v3h-1zM1367 870h1v3h-1zM1367 876h1v3h-1zM1367 882h1v3h-1zM1367 888h1v3h-1zM1367 894h1v3h-1zM1367 900h1v3h-1zM1367 906h1v3h-1zM1367 912h1v3h-1zM1367 918h1v3h-1zM1367 924h1v3h-1zM1367 930h1v2h-1zM1430 1h1v2h-1zM1430 6h1v3h-1zM1430 12h1v3h-1zM1430 18h1v3h-1zM1430 24h1v3h-1zM1430 30h1v3h-1zM1430 36h1v3h-1zM1430 42h1v3h-1zM1430 48h1v3h-1zM1430 54h1v3h-1zM1430 60h1v3h-1zM1430 66h1v3h-1zM1430 72h1v3h-1zM1430 78h1v3h-1zM1430 84h1v3h-1zM1430 90h1v3h-1zM1430 96h1v3h-1zM1430 102h1v3h-1zM1430 108h1v3h-1zM1430 114h1v3h-1zM1430 120h1v3h-1zM1430 126h1v3h-1zM1430 132h1v3h-1zM1430 138h1v3h-1zM1430 144h1v3h-1zM1430 150h1v3h-1zM1430 156h1v3h-1zM1430 162h1v3h-1zM1430 168h1v3h-1zM1430 174h1v3h-1zM1430 180h1v3h-1zM1430 186h1v3h-1zM1430 192h1v3h-1zM1430 198h1v3h-1zM1430 204h1v3h-1zM1430 210h1v3h-1zM1430 216h1v3h-1zM1430 222h1v3h-1zM1430 228h1v3h-1zM1430 234h1v3h-1zM1430 240h1v3h-1zM1430 246h1v3h-1zM1430 252h1v3h-1zM1430 258h1v3h-1zM1430 264h1v3h-1zM1430 270h1v3h-1zM1430 276h1v3h-1zM1430 282h1v3h-1zM1430 288h1v3h-1zM1430 294h1v3h-1zM1430 300h1v3h-1zM1430 306h1v3h-1zM1430 312h1v3h-1zM1430 318h1v3h-1zM1430 324h1v3h-1zM1430 330h1v3h-1zM1430 336h1v3h-1zM1430 342h1v3h-1zM1430 348h1v3h-1zM1430 354h1v3h-1zM1430 360h1v3h-1zM1430 366h1v3h-1zM1430 372h1v3h-1zM1430 378h1v3h-1zM1430 384h1v3h-1zM1430 390h1v3h-1zM1430 396h1v3h-1zM1430 402h1v3h-1zM1430 408h1v3h-1zM1430 414h1v3h-1zM1430 420h1v3h-1zM1430 426h1v3h-1zM1430 432h1v3h-1zM1430 438h1v3h-1zM1430 444h1v3h-1zM1430 450h1v3h-1zM1430 456h1v3h-1zM1430 462h1v3h-1zM1430 468h1v3h-1zM1430 474h1v3h-1zM1430 480h1v3h-1zM1430 486h1v3h-1zM1430 492h1v3h-1zM1430 498h1v3h-1zM1430 504h1v3h-1zM1430 510h1v3h-1zM1430 516h1v3h-1zM1430 522h1v3h-1zM1430 528h1v3h-1zM1430 534h1v3h-1zM1430 540h1v3h-1zM1430 546h1v3h-1zM1430 552h1v3h-1zM1430 558h1v3h-1zM1430 564h1v3h-1zM1430 570h1v3h-1zM1430 576h1v3h-1zM1430 582h1v3h-1zM1430 588h1v3h-1zM1430 594h1v3h-1zM1430 600h1v3h-1zM1430 606h1v3h-1zM1430 612h1v3h-1zM1430 618h1v3h-1zM1430 624h1v3h-1zM1430 630h1v3h-1zM1430 636h1v3h-1zM1430 642h1v3h-1zM1430 648h1v3h-1zM1430 654h1v3h-1zM1430 660h1v3h-1zM1430 666h1v3h-1zM1430 672h1v3h-1zM1430 678h1v3h-1zM1430 684h1v3h-1zM1430 690h1v3h-1zM1430 696h1v3h-1zM1430 702h1v3h-1zM1430 708h1v3h-1zM1430 714h1v3h-1zM1430 720h1v3h-1zM1430 726h1v3h-1zM1430 732h1v3h-1zM1430 738h1v3h-1zM1430 744h1v3h-1zM1430 750h1v3h-1zM1430 756h1v3h-1zM1430 762h1v3h-1zM1430 768h1v3h-1zM1430 774h1v3h-1zM1430 780h1v3h-1zM1430 786h1v3h-1zM1430 792h1v3h-1zM1430 798h1v3h-1zM1430 804h1v3h-1zM1430 810h1v3h-1zM1430 816h1v3h-1zM1430 822h1v3h-1zM1430 828h1v3h-1zM1430 834h1v3h-1zM1430 840h1v3h-1zM1430 846h1v3h-1zM1430 852h1v3h-1zM1430 858h1v3h-1zM1430 864h1v3h-1zM1430 870h1v3h-1zM1430 876h1v3h-1zM1430 882h1v3h-1zM1430 888h1v3h-1zM1430 894h1v3h-1zM1430 900h1v3h-1zM1430 906h1v3h-1zM1430 912h1v3h-1zM1430 918h1v3h-1zM1430 924h1v3h-1zM1430 930h1v2h-1zM1499 1h1v2h-1zM1499 6h1v3h-1zM1499 12h1v3h-1zM1499 18h1v3h-1zM1499 24h1v3h-1zM1499 30h1v3h-1zM1499 36h1v3h-1zM1499 42h1v3h-1zM1499 48h1v3h-1zM1499 54h1v3h-1zM1499 60h1v3h-1zM1499 66h1v3h-1zM1499 72h1v3h-1zM1499 78h1v3h-1zM1499 84h1v3h-1zM1499 90h1v3h-1zM1499 96h1v3h-1zM1499 102h1v3h-1zM1499 108h1v3h-1zM1499 114h1v3h-1zM1499 120h1v3h-1zM1499 126h1v3h-1zM1499 132h1v3h-1zM1499 138h1v3h-1zM1499 144h1v3h-1zM1499 150h1v3h-1zM1499 156h1v3h-1zM1499 162h1v3h-1zM1499 168h1v3h-1zM1499 174h1v3h-1zM1499 180h1v3h-1zM1499 186h1v3h-1zM1499 192h1v3h-1zM1499 198h1v3h-1zM1499 204h1v3h-1zM1499 210h1v3h-1zM1499 216h1v3h-1zM1499 222h1v3h-1zM1499 228h1v3h-1zM1499 234h1v3h-1zM1499 240h1v3h-1zM1499 246h1v3h-1zM1499 252h1v3h-1zM1499 258h1v3h-1zM1499 264h1v3h-1zM1499 270h1v3h-1zM1499 276h1v3h-1zM1499 282h1v3h-1zM1499 288h1v3h-1zM1499 294h1v3h-1zM1499 300h1v3h-1zM1499 306h1v3h-1zM1499 312h1v3h-1zM1499 318h1v3h-1zM1499 324h1v3h-1zM1499 330h1v3h-1zM1499 336h1v3h-1zM1499 342h1v3h-1zM1499 348h1v3h-1zM1499 354h1v3h-1zM1499 360h1v3h-1zM1499 366h1v3h-1zM1499 372h1v3h-1zM1499 378h1v3h-1zM1499 384h1v3h-1zM1499 390h1v3h-1zM1499 396h1v3h-1zM1499 402h1v3h-1zM1499 408h1v3h-1zM1499 414h1v3h-1zM1499 420h1v3h-1zM1499 426h1v3h-1zM1499 432h1v3h-1zM1499 438h1v3h-1zM1499 444h1v3h-1zM1499 450h1v3h-1zM1499 456h1v3h-1zM1499 462h1v3h-1zM1499 468h1v3h-1zM1499 474h1v3h-1zM1499 480h1v3h-1zM1499 486h1v3h-1zM1499 492h1v3h-1zM1499 498h1v3h-1zM1499 504h1v3h-1zM1499 510h1v3h-1zM1499 516h1v3h-1zM1499 522h1v3h-1zM1499 528h1v3h-1zM1499 534h1v3h-1zM1499 540h1v3h-1zM1499 546h1v3h-1zM1499 552h1v3h-1zM1499 558h1v3h-1zM1499 564h1v3h-1zM1499 570h1v3h-1zM1499 576h1v3h-1zM1499 582h1v3h-1zM1499 588h1v3h-1zM1499 594h1v3h-1zM1499 600h1v3h-1zM1499 606h1v3h-1zM1499 612h1v3h-1zM1499 618h1v3h-1zM1499 624h1v3h-1zM1499 630h1v3h-1zM1499 636h1v3h-1zM1499 642h1v3h-1zM1499 648h1v3h-1zM1499 654h1v3h-1zM1499 660h1v3h-1zM1499 666h1v3h-1zM1499 672h1v3h-1zM1499 678h1v3h-1zM1499 684h1v3h-1zM1499 690h1v3h-1zM1499 696h1v3h-1zM1499 702h1v3h-1zM1499 708h1v3h-1zM1499 714h1v3h-1zM1499 720h1v3h-1zM1499 726h1v3h-1zM1499 732h1v3h-1zM1499 738h1v3h-1zM1499 744h1v3h-1zM1499 750h1v3h-1zM1499 756h1v3h-1zM1499 762h1v3h-1zM1499 768h1v3h-1zM1499 774h1v3h-1zM1499 780h1v3h-1zM1499 786h1v3h-1zM1499 792h1v3h-1zM1499 798h1v3h-1zM1499 804h1v3h-1zM1499 810h1v3h-1zM1499 816h1v3h-1zM1499 822h1v3h-1zM1499 828h1v3h-1zM1499 834h1v3h-1zM1499 840h1v3h-1zM1499 846h1v3h-1zM1499 852h1v3h-1zM1499 858h1v3h-1zM1499 864h1v3h-1zM1499 870h1v3h-1zM1499 876h1v3h-1zM1499 882h1v3h-1zM1499 888h1v3h-1zM1499 894h1v3h-1zM1499 900h1v3h-1zM1499 906h1v3h-1zM1499 912h1v3h-1zM1499 918h1v3h-1zM1499 924h1v3h-1zM1499 930h1v2h-1zM1562 1h1v2h-1zM1562 6h1v3h-1zM1562 12h1v3h-1zM1562 18h1v3h-1zM1562 24h1v3h-1zM1562 30h1v3h-1zM1562 36h1v3h-1zM1562 42h1v3h-1zM1562 48h1v3h-1zM1562 54h1v3h-1zM1562 60h1v3h-1zM1562 66h1v3h-1zM1562 72h1v3h-1zM1562 78h1v3h-1zM1562 84h1v3h-1zM1562 90h1v3h-1zM1562 96h1v3h-1zM1562 102h1v3h-1zM1562 108h1v3h-1zM1562 114h1v3h-1zM1562 120h1v3h-1zM1562 126h1v3h-1zM1562 132h1v3h-1zM1562 138h1v3h-1zM1562 144h1v3h-1zM1562 150h1v3h-1zM1562 156h1v3h-1zM1562 162h1v3h-1zM1562 168h1v3h-1zM1562 174h1v3h-1zM1562 180h1v3h-1zM1562 186h1v3h-1zM1562 192h1v3h-1zM1562 198h1v3h-1zM1562 204h1v3h-1zM1562 210h1v3h-1zM1562 216h1v3h-1zM1562 222h1v3h-1zM1562 228h1v3h-1zM1562 234h1v3h-1zM1562 240h1v3h-1zM1562 246h1v3h-1zM1562 252h1v3h-1zM1562 258h1v3h-1zM1562 264h1v3h-1zM1562 270h1v3h-1zM1562 276h1v3h-1zM1562 282h1v3h-1zM1562 288h1v3h-1zM1562 294h1v3h-1zM1562 300h1v3h-1zM1562 306h1v3h-1zM1562 312h1v3h-1zM1562 318h1v3h-1zM1562 324h1v3h-1zM1562 330h1v3h-1zM1562 336h1v3h-1zM1562 342h1v3h-1zM1562 348h1v3h-1zM1562 354h1v3h-1zM1562 360h1v3h-1zM1562 366h1v3h-1zM1562 372h1v3h-1zM1562 378h1v3h-1zM1562 384h1v3h-1zM1562 390h1v3h-1zM1562 396h1v3h-1zM1562 402h1v3h-1zM1562 408h1v3h-1zM1562 414h1v3h-1zM1562 420h1v3h-1zM1562 426h1v3h-1zM1562 432h1v3h-1zM1562 438h1v3h-1zM1562 444h1v3h-1zM1562 450h1v3h-1zM1562 456h1v3h-1zM1562 462h1v3h-1zM1562 468h1v3h-1zM1562 474h1v3h-1zM1562 480h1v3h-1zM1562 486h1v3h-1zM1562 492h1v3h-1zM1562 498h1v3h-1zM1562 504h1v3h-1zM1562 510h1v3h-1zM1562 516h1v3h-1zM1562 522h1v3h-1zM1562 528h1v3h-1zM1562 534h1v3h-1zM1562 540h1v3h-1zM1562 546h1v3h-1zM1562 552h1v3h-1zM1562 558h1v3h-1zM1562 564h1v3h-1zM1562 570h1v3h-1zM1562 576h1v3h-1zM1562 582h1v3h-1zM1562 588h1v3h-1zM1562 594h1v3h-1zM1562 600h1v3h-1zM1562 606h1v3h-1zM1562 612h1v3h-1zM1562 618h1v3h-1zM1562 624h1v3h-1zM1562 630h1v3h-1zM1562 636h1v3h-1zM1562 642h1v3h-1zM1562 648h1v3h-1zM1562 654h1v3h-1zM1562 660h1v3h-1zM1562 666h1v3h-1zM1562 672h1v3h-1zM1562 678h1v3h-1zM1562 684h1v3h-1zM1562 690h1v3h-1zM1562 696h1v3h-1zM1562 702h1v3h-1zM1562 708h1v3h-1zM1562 714h1v3h-1zM1562 720h1v3h-1zM1562 726h1v3h-1zM1562 732h1v3h-1zM1562 738h1v3h-1zM1562 744h1v3h-1zM1562 750h1v3h-1zM1562 756h1v3h-1zM1562 762h1v3h-1zM1562 768h1v3h-1zM1562 774h1v3h-1zM1562 780h1v3h-1zM1562 786h1v3h-1zM1562 792h1v3h-1zM1562 798h1v3h-1zM1562 804h1v3h-1zM1562 810h1v3h-1zM1562 816h1v3h-1zM1562 822h1v3h-1zM1562 828h1v3h-1zM1562 834h1v3h-1zM1562 840h1v3h-1zM1562 846h1v3h-1zM1562 852h1v3h-1zM1562 858h1v3h-1zM1562 864h1v3h-1zM1562 870h1v3h-1zM1562 876h1v3h-1zM1562 882h1v3h-1zM1562 888h1v3h-1zM1562 894h1v3h-1zM1562 900h1v3h-1zM1562 906h1v3h-1zM1562 912h1v3h-1zM1562 918h1v3h-1zM1562 924h1v3h-1zM1562 930h1v2h-1zM1629 1h1v2h-1zM1629 6h1v3h-1zM1629 12h1v3h-1zM1629 18h1v3h-1zM1629 24h1v3h-1zM1629 30h1v3h-1zM1629 36h1v3h-1zM1629 42h1v3h-1zM1629 48h1v3h-1zM1629 54h1v3h-1zM1629 60h1v3h-1zM1629 66h1v3h-1zM1629 72h1v3h-1zM1629 78h1v3h-1zM1629 84h1v3h-1zM1629 90h1v3h-1zM1629 96h1v3h-1zM1629 102h1v3h-1zM1629 108h1v3h-1zM1629 114h1v3h-1zM1629 120h1v3h-1zM1629 126h1v3h-1zM1629 132h1v3h-1zM1629 138h1v3h-1zM1629 144h1v3h-1zM1629 150h1v3h-1zM1629 156h1v3h-1zM1629 162h1v3h-1zM1629 168h1v3h-1zM1629 174h1v3h-1zM1629 180h1v3h-1zM1629 186h1v3h-1zM1629 192h1v3h-1zM1629 198h1v3h-1zM1629 204h1v3h-1zM1629 210h1v3h-1zM1629 216h1v3h-1zM1629 222h1v3h-1zM1629 228h1v3h-1zM1629 234h1v3h-1zM1629 240h1v3h-1zM1629 246h1v3h-1zM1629 252h1v3h-1zM1629 258h1v3h-1zM1629 264h1v3h-1zM1629 270h1v3h-1zM1629 276h1v3h-1zM1629 282h1v3h-1zM1629 288h1v3h-1zM1629 294h1v3h-1zM1629 300h1v3h-1zM1629 306h1v3h-1zM1629 312h1v3h-1zM1629 318h1v3h-1zM1629 324h1v3h-1zM1629 330h1v3h-1zM1629 336h1v3h-1zM1629 342h1v3h-1zM1629 348h1v3h-1zM1629 354h1v3h-1zM1629 360h1v3h-1zM1629 366h1v3h-1zM1629 372h1v3h-1zM1629 378h1v3h-1zM1629 384h1v3h-1zM1629 390h1v3h-1zM1629 396h1v3h-1zM1629 402h1v3h-1zM1629 408h1v3h-1zM1629 414h1v3h-1zM1629 420h1v3h-1zM1629 426h1v3h-1zM1629 432h1v3h-1zM1629 438h1v3h-1zM1629 444h1v3h-1zM1629 450h1v3h-1zM1629 456h1v3h-1zM1629 462h1v3h-1zM1629 468h1v3h-1zM1629 474h1v3h-1zM1629 480h1v3h-1zM1629 486h1v3h-1zM1629 492h1v3h-1zM1629 498h1v3h-1zM1629 504h1v3h-1zM1629 510h1v3h-1zM1629 516h1v3h-1zM1629 522h1v3h-1zM1629 528h1v3h-1zM1629 534h1v3h-1zM1629 540h1v3h-1zM1629 546h1v3h-1zM1629 552h1v3h-1zM1629 558h1v3h-1zM1629 564h1v3h-1zM1629 570h1v3h-1zM1629 576h1v3h-1zM1629 582h1v3h-1zM1629 588h1v3h-1zM1629 594h1v3h-1zM1629 600h1v3h-1zM1629 606h1v3h-1zM1629 612h1v3h-1zM1629 618h1v3h-1zM1629 624h1v3h-1zM1629 630h1v3h-1zM1629 636h1v3h-1zM1629 642h1v3h-1zM1629 648h1v3h-1zM1629 654h1v3h-1zM1629 660h1v3h-1zM1629 666h1v3h-1zM1629 672h1v3h-1zM1629 678h1v3h-1zM1629 684h1v3h-1zM1629 690h1v3h-1zM1629 696h1v3h-1zM1629 702h1v3h-1zM1629 708h1v3h-1zM1629 714h1v3h-1zM1629 720h1v3h-1zM1629 726h1v3h-1zM1629 732h1v3h-1zM1629 738h1v3h-1zM1629 744h1v3h-1zM1629 750h1v3h-1zM1629 756h1v3h-1zM1629 762h1v3h-1zM1629 768h1v3h-1zM1629 774h1v3h-1zM1629 780h1v3h-1zM1629 786h1v3h-1zM1629 792h1v3h-1zM1629 798h1v3h-1zM1629 804h1v3h-1zM1629 810h1v3h-1zM1629 816h1v3h-1zM1629 822h1v3h-1zM1629 828h1v3h-1zM1629 834h1v3h-1zM1629 840h1v3h-1zM1629 846h1v3h-1zM1629 852h1v3h-1zM1629 858h1v3h-1zM1629 864h1v3h-1zM1629 870h1v3h-1zM1629 876h1v3h-1zM1629 882h1v3h-1zM1629 888h1v3h-1zM1629 894h1v3h-1zM1629 900h1v3h-1zM1629 906h1v3h-1zM1629 912h1v3h-1zM1629 918h1v3h-1zM1629 924h1v3h-1zM1629 930h1v2h-1zM1695 1h1v2h-1zM1695 6h1v3h-1zM1695 12h1v3h-1zM1695 18h1v3h-1zM1695 24h1v3h-1zM1695 30h1v3h-1zM1695 36h1v3h-1zM1695 42h1v3h-1zM1695 48h1v3h-1zM1695 54h1v3h-1zM1695 60h1v3h-1zM1695 66h1v3h-1zM1695 72h1v3h-1zM1695 78h1v3h-1zM1695 84h1v3h-1zM1695 90h1v3h-1zM1695 96h1v3h-1zM1695 102h1v3h-1zM1695 108h1v3h-1zM1695 114h1v3h-1zM1695 120h1v3h-1zM1695 126h1v3h-1zM1695 132h1v3h-1zM1695 138h1v3h-1zM1695 144h1v3h-1zM1695 150h1v3h-1zM1695 156h1v3h-1zM1695 162h1v3h-1zM1695 168h1v3h-1zM1695 174h1v3h-1zM1695 180h1v3h-1zM1695 186h1v3h-1zM1695 192h1v3h-1zM1695 198h1v3h-1zM1695 204h1v3h-1zM1695 210h1v3h-1zM1695 216h1v3h-1zM1695 222h1v3h-1zM1695 228h1v3h-1zM1695 234h1v3h-1zM1695 240h1v3h-1zM1695 246h1v3h-1zM1695 252h1v3h-1zM1695 258h1v3h-1zM1695 264h1v3h-1zM1695 270h1v3h-1zM1695 276h1v3h-1zM1695 282h1v3h-1zM1695 288h1v3h-1zM1695 294h1v3h-1zM1695 300h1v3h-1zM1695 306h1v3h-1zM1695 312h1v3h-1zM1695 318h1v3h-1zM1695 324h1v3h-1zM1695 330h1v3h-1zM1695 336h1v3h-1zM1695 342h1v3h-1zM1695 348h1v3h-1zM1695 354h1v3h-1zM1695 360h1v3h-1zM1695 366h1v3h-1zM1695 372h1v3h-1zM1695 378h1v3h-1zM1695 384h1v3h-1zM1695 390h1v3h-1zM1695 396h1v3h-1zM1695 402h1v3h-1zM1695 408h1v3h-1zM1695 414h1v3h-1zM1695 420h1v3h-1zM1695 426h1v3h-1zM1695 432h1v3h-1zM1695 438h1v3h-1zM1695 444h1v3h-1zM1695 450h1v3h-1zM1695 456h1v3h-1zM1695 462h1v3h-1zM1695 468h1v3h-1zM1695 474h1v3h-1zM1695 480h1v3h-1zM1695 486h1v3h-1zM1695 492h1v3h-1zM1695 498h1v3h-1zM1695 504h1v3h-1zM1695 510h1v3h-1zM1695 516h1v3h-1zM1695 522h1v3h-1zM1695 528h1v3h-1zM1695 534h1v3h-1zM1695 540h1v3h-1zM1695 546h1v3h-1zM1695 552h1v3h-1zM1695 558h1v3h-1zM1695 564h1v3h-1zM1695 570h1v3h-1zM1695 576h1v3h-1zM1695 582h1v3h-1zM1695 588h1v3h-1zM1695 594h1v3h-1zM1695 600h1v3h-1zM1695 606h1v3h-1zM1695 612h1v3h-1zM1695 618h1v3h-1zM1695 624h1v3h-1zM1695 630h1v3h-1zM1695 636h1v3h-1zM1695 642h1v3h-1zM1695 648h1v3h-1zM1695 654h1v3h-1zM1695 660h1v3h-1zM1695 666h1v3h-1zM1695 672h1v3h-1zM1695 678h1v3h-1zM1695 684h1v3h-1zM1695 690h1v3h-1zM1695 696h1v3h-1zM1695 702h1v3h-1zM1695 708h1v3h-1zM1695 714h1v3h-1zM1695 720h1v3h-1zM1695 726h1v3h-1zM1695 732h1v3h-1zM1695 738h1v3h-1zM1695 744h1v3h-1zM1695 750h1v3h-1zM1695 756h1v3h-1zM1695 762h1v3h-1zM1695 768h1v3h-1zM1695 774h1v3h-1zM1695 780h1v3h-1zM1695 786h1v3h-1zM1695 792h1v3h-1zM1695 798h1v3h-1zM1695 804h1v3h-1zM1695 810h1v3h-1zM1695 816h1v3h-1zM1695 822h1v3h-1zM1695 828h1v3h-1zM1695 834h1v3h-1zM1695 840h1v3h-1zM1695 846h1v3h-1zM1695 852h1v3h-1zM1695 858h1v3h-1zM1695 864h1v3h-1zM1695 870h1v3h-1zM1695 876h1v3h-1zM1695 882h1v3h-1zM1695 888h1v3h-1zM1695 894h1v3h-1zM1695 900h1v3h-1zM1695 906h1v3h-1zM1695 912h1v3h-1zM1695 918h1v3h-1zM1695 924h1v3h-1zM1695 930h1v2h-1zM1752 1h1v2h-1zM1752 6h1v3h-1zM1752 12h1v3h-1zM1752 18h1v3h-1zM1752 24h1v3h-1zM1752 30h1v3h-1zM1752 36h1v3h-1zM1752 42h1v3h-1zM1752 48h1v3h-1zM1752 54h1v3h-1zM1752 60h1v3h-1zM1752 66h1v3h-1zM1752 72h1v3h-1zM1752 78h1v3h-1zM1752 84h1v3h-1zM1752 90h1v3h-1zM1752 96h1v3h-1zM1752 102h1v3h-1zM1752 108h1v3h-1zM1752 114h1v3h-1zM1752 120h1v3h-1zM1752 126h1v3h-1zM1752 132h1v3h-1zM1752 138h1v3h-1zM1752 144h1v3h-1zM1752 150h1v3h-1zM1752 156h1v3h-1zM1752 162h1v3h-1zM1752 168h1v3h-1zM1752 174h1v3h-1zM1752 180h1v3h-1zM1752 186h1v3h-1zM1752 192h1v3h-1zM1752 198h1v3h-1zM1752 204h1v3h-1zM1752 210h1v3h-1zM1752 216h1v3h-1zM1752 222h1v3h-1zM1752 228h1v3h-1zM1752 234h1v3h-1zM1752 240h1v3h-1zM1752 246h1v3h-1zM1752 252h1v3h-1zM1752 258h1v3h-1zM1752 264h1v3h-1zM1752 270h1v3h-1zM1752 276h1v3h-1zM1752 282h1v3h-1zM1752 288h1v3h-1zM1752 294h1v3h-1zM1752 300h1v3h-1zM1752 306h1v3h-1zM1752 312h1v3h-1zM1752 318h1v3h-1zM1752 324h1v3h-1zM1752 330h1v3h-1zM1752 336h1v3h-1zM1752 342h1v3h-1zM1752 348h1v3h-1zM1752 354h1v3h-1zM1752 360h1v3h-1zM1752 366h1v3h-1zM1752 372h1v3h-1zM1752 378h1v3h-1zM1752 384h1v3h-1zM1752 390h1v3h-1zM1752 396h1v3h-1zM1752 402h1v3h-1zM1752 408h1v3h-1zM1752 414h1v3h-1zM1752 420h1v3h-1zM1752 426h1v3h-1zM1752 432h1v3h-1zM1752 438h1v3h-1zM1752 444h1v3h-1zM1752 450h1v3h-1zM1752 456h1v3h-1zM1752 462h1v3h-1zM1752 468h1v3h-1zM1752 474h1v3h-1zM1752 480h1v3h-1zM1752 486h1v3h-1zM1752 492h1v3h-1zM1752 498h1v3h-1zM1752 504h1v3h-1zM1752 510h1v3h-1zM1752 516h1v3h-1zM1752 522h1v3h-1zM1752 528h1v3h-1zM1752 534h1v3h-1zM1752 540h1v3h-1zM1752 546h1v3h-1zM1752 552h1v3h-1zM1752 558h1v3h-1zM1752 564h1v3h-1zM1752 570h1v3h-1zM1752 576h1v3h-1zM1752 582h1v3h-1zM1752 588h1v3h-1zM1752 594h1v3h-1zM1752 600h1v3h-1zM1752 606h1v3h-1zM1752 612h1v3h-1zM1752 618h1v3h-1zM1752 624h1v3h-1zM1752 630h1v3h-1zM1752 636h1v3h-1zM1752 642h1v3h-1zM1752 648h1v3h-1zM1752 654h1v3h-1zM1752 660h1v3h-1zM1752 666h1v3h-1zM1752 672h1v3h-1zM1752 678h1v3h-1zM1752 684h1v3h-1zM1752 690h1v3h-1zM1752 696h1v3h-1zM1752 702h1v3h-1zM1752 708h1v3h-1zM1752 714h1v3h-1zM1752 720h1v3h-1zM1752 726h1v3h-1zM1752 732h1v3h-1zM1752 738h1v3h-1zM1752 744h1v3h-1zM1752 750h1v3h-1zM1752 756h1v3h-1zM1752 762h1v3h-1zM1752 768h1v3h-1zM1752 774h1v3h-1zM1752 780h1v3h-1zM1752 786h1v3h-1zM1752 792h1v3h-1zM1752 798h1v3h-1zM1752 804h1v3h-1zM1752 810h1v3h-1zM1752 816h1v3h-1zM1752 822h1v3h-1zM1752 828h1v3h-1zM1752 834h1v3h-1zM1752 840h1v3h-1zM1752 846h1v3h-1zM1752 852h1v3h-1zM1752 858h1v3h-1zM1752 864h1v3h-1zM1752 870h1v3h-1zM1752 876h1v3h-1zM1752 882h1v3h-1zM1752 888h1v3h-1zM1752 894h1v3h-1zM1752 900h1v3h-1zM1752 906h1v3h-1zM1752 912h1v3h-1zM1752 918h1v3h-1zM1752 924h1v3h-1zM1752 930h1v2h-1zM1818 1h1v2h-1zM1818 6h1v3h-1zM1818 12h1v3h-1zM1818 18h1v3h-1zM1818 24h1v3h-1zM1818 30h1v3h-1zM1818 36h1v3h-1zM1818 42h1v3h-1zM1818 48h1v3h-1zM1818 54h1v3h-1zM1818 60h1v3h-1zM1818 66h1v3h-1zM1818 72h1v3h-1zM1818 78h1v3h-1zM1818 84h1v3h-1zM1818 90h1v3h-1zM1818 96h1v3h-1zM1818 102h1v3h-1zM1818 108h1v3h-1zM1818 114h1v3h-1zM1818 120h1v3h-1zM1818 126h1v3h-1zM1818 132h1v3h-1zM1818 138h1v3h-1zM1818 144h1v3h-1zM1818 150h1v3h-1zM1818 156h1v3h-1zM1818 162h1v3h-1zM1818 168h1v3h-1zM1818 174h1v3h-1zM1818 180h1v3h-1zM1818 186h1v3h-1zM1818 192h1v3h-1zM1818 198h1v3h-1zM1818 204h1v3h-1zM1818 210h1v3h-1zM1818 216h1v3h-1zM1818 222h1v3h-1zM1818 228h1v3h-1zM1818 234h1v3h-1zM1818 240h1v3h-1zM1818 246h1v3h-1zM1818 252h1v3h-1zM1818 258h1v3h-1zM1818 264h1v3h-1zM1818 270h1v3h-1zM1818 276h1v3h-1zM1818 282h1v3h-1zM1818 288h1v3h-1zM1818 294h1v3h-1zM1818 300h1v3h-1zM1818 306h1v3h-1zM1818 312h1v3h-1zM1818 318h1v3h-1zM1818 324h1v3h-1zM1818 330h1v3h-1zM1818 336h1v3h-1zM1818 342h1v3h-1zM1818 348h1v3h-1zM1818 354h1v3h-1zM1818 360h1v3h-1zM1818 366h1v3h-1zM1818 372h1v3h-1zM1818 378h1v3h-1zM1818 384h1v3h-1zM1818 390h1v3h-1zM1818 396h1v3h-1zM1818 402h1v3h-1zM1818 408h1v3h-1zM1818 414h1v3h-1zM1818 420h1v3h-1zM1818 426h1v3h-1zM1818 432h1v3h-1zM1818 438h1v3h-1zM1818 444h1v3h-1zM1818 450h1v3h-1zM1818 456h1v3h-1zM1818 462h1v3h-1zM1818 468h1v3h-1zM1818 474h1v3h-1zM1818 480h1v3h-1zM1818 486h1v3h-1zM1818 492h1v3h-1zM1818 498h1v3h-1zM1818 504h1v3h-1zM1818 510h1v3h-1zM1818 516h1v3h-1zM1818 522h1v3h-1zM1818 528h1v3h-1zM1818 534h1v3h-1zM1818 540h1v3h-1zM1818 546h1v3h-1zM1818 552h1v3h-1zM1818 558h1v3h-1zM1818 564h1v3h-1zM1818 570h1v3h-1zM1818 576h1v3h-1zM1818 582h1v3h-1zM1818 588h1v3h-1zM1818 594h1v3h-1zM1818 600h1v3h-1zM1818 606h1v3h-1zM1818 612h1v3h-1zM1818 618h1v3h-1zM1818 624h1v3h-1zM1818 630h1v3h-1zM1818 636h1v3h-1zM1818 642h1v3h-1zM1818 648h1v3h-1zM1818 654h1v3h-1zM1818 660h1v3h-1zM1818 666h1v3h-1zM1818 672h1v3h-1zM1818 678h1v3h-1zM1818 684h1v3h-1zM1818 690h1v3h-1zM1818 696h1v3h-1zM1818 702h1v3h-1zM1818 708h1v3h-1zM1818 714h1v3h-1zM1818 720h1v3h-1zM1818 726h1v3h-1zM1818 732h1v3h-1zM1818 738h1v3h-1zM1818 744h1v3h-1zM1818 750h1v3h-1zM1818 756h1v3h-1zM1818 762h1v3h-1zM1818 768h1v3h-1zM1818 774h1v3h-1zM1818 780h1v3h-1zM1818 786h1v3h-1zM1818 792h1v3h-1zM1818 798h1v3h-1zM1818 804h1v3h-1zM1818 810h1v3h-1zM1818 816h1v3h-1zM1818 822h1v3h-1zM1818 828h1v3h-1zM1818 834h1v3h-1zM1818 840h1v3h-1zM1818 846h1v3h-1zM1818 852h1v3h-1zM1818 858h1v3h-1zM1818 864h1v3h-1zM1818 870h1v3h-1zM1818 876h1v3h-1zM1818 882h1v3h-1zM1818 888h1v3h-1zM1818 894h1v3h-1zM1818 900h1v3h-1zM1818 906h1v3h-1zM1818 912h1v3h-1zM1818 918h1v3h-1zM1818 924h1v3h-1zM1818 930h1v2h-1zM2 33h3v1h-3zM8 33h3v1h-3zM14 33h3v1h-3zM20 33h3v1h-3zM26 33h3v1h-3zM32 33h3v1h-3zM38 33h3v1h-3zM44 33h3v1h-3zM50 33h3v1h-3zM56 33h3v1h-3zM62 33h3v1h-3zM68 33h3v1h-3zM74 33h3v1h-3zM80 33h3v1h-3zM86 33h3v1h-3zM92 33h3v1h-3zM98 33h3v1h-3zM104 33h3v1h-3zM110 33h3v1h-3zM116 33h3v1h-3zM122 33h3v1h-3zM128 33h3v1h-3zM134 33h3v1h-3zM140 33h3v1h-3zM146 33h3v1h-3zM152 33h3v1h-3zM158 33h3v1h-3zM164 33h3v1h-3zM170 33h3v1h-3zM176 33h3v1h-3zM182 33h3v1h-3zM188 33h3v1h-3zM194 33h3v1h-3zM200 33h3v1h-3zM206 33h3v1h-3zM212 33h3v1h-3zM218 33h3v1h-3zM224 33h3v1h-3zM230 33h3v1h-3zM236 33h3v1h-3zM242 33h3v1h-3zM248 33h3v1h-3zM254 33h3v1h-3zM260 33h3v1h-3zM266 33h3v1h-3zM272 33h3v1h-3zM278 33h3v1h-3zM284 33h3v1h-3zM290 33h3v1h-3zM296 33h3v1h-3zM302 33h3v1h-3zM308 33h3v1h-3zM314 33h3v1h-3zM320 33h3v1h-3zM326 33h3v1h-3zM332 33h3v1h-3zM338 33h3v1h-3zM344 33h3v1h-3zM350 33h3v1h-3zM356 33h3v1h-3zM362 33h3v1h-3zM368 33h3v1h-3zM374 33h3v1h-3zM380 33h3v1h-3zM386 33h3v1h-3zM392 33h3v1h-3zM398 33h3v1h-3zM404 33h3v1h-3zM410 33h3v1h-3zM416 33h3v1h-3zM422 33h3v1h-3zM428 33h3v1h-3zM434 33h3v1h-3zM440 33h3v1h-3zM446 33h3v1h-3zM452 33h3v1h-3zM458 33h3v1h-3zM464 33h3v1h-3zM470 33h3v1h-3zM476 33h3v1h-3zM482 33h3v1h-3zM488 33h3v1h-3zM494 33h3v1h-3zM500 33h3v1h-3zM506 33h3v1h-3zM512 33h3v1h-3zM518 33h3v1h-3zM524 33h3v1h-3zM530 33h3v1h-3zM536 33h3v1h-3zM542 33h3v1h-3zM548 33h3v1h-3zM554 33h3v1h-3zM560 33h3v1h-3zM566 33h3v1h-3zM572 33h3v1h-3zM578 33h3v1h-3zM584 33h3v1h-3zM590 33h3v1h-3zM596 33h3v1h-3zM602 33h3v1h-3zM608 33h3v1h-3zM614 33h3v1h-3zM620 33h3v1h-3zM626 33h3v1h-3zM632 33h3v1h-3zM638 33h3v1h-3zM644 33h3v1h-3zM650 33h3v1h-3zM656 33h3v1h-3zM662 33h3v1h-3zM668 33h3v1h-3zM674 33h3v1h-3zM680 33h3v1h-3zM686 33h3v1h-3zM692 33h3v1h-3zM698 33h3v1h-3zM704 33h3v1h-3zM710 33h3v1h-3zM716 33h3v1h-3zM722 33h3v1h-3zM728 33h3v1h-3zM734 33h3v1h-3zM740 33h3v1h-3zM746 33h3v1h-3zM752 33h3v1h-3zM758 33h3v1h-3zM764 33h3v1h-3zM770 33h3v1h-3zM776 33h3v1h-3zM782 33h3v1h-3zM788 33h3v1h-3zM794 33h3v1h-3zM800 33h3v1h-3zM806 33h3v1h-3zM812 33h3v1h-3zM818 33h3v1h-3zM824 33h3v1h-3zM830 33h3v1h-3zM836 33h3v1h-3zM842 33h3v1h-3zM848 33h3v1h-3zM854 33h3v1h-3zM860 33h3v1h-3zM866 33h3v1h-3zM872 33h3v1h-3zM878 33h3v1h-3zM884 33h3v1h-3zM890 33h3v1h-3zM896 33h3v1h-3zM902 33h3v1h-3zM908 33h3v1h-3zM914 33h3v1h-3zM920 33h3v1h-3zM926 33h3v1h-3zM932 33h3v1h-3zM938 33h3v1h-3zM944 33h3v1h-3zM950 33h3v1h-3zM956 33h3v1h-3zM962 33h3v1h-3zM968 33h3v1h-3zM974 33h3v1h-3zM980 33h3v1h-3zM986 33h3v1h-3zM992 33h3v1h-3zM998 33h3v1h-3zM1004 33h3v1h-3zM1010 33h3v1h-3zM1016 33h3v1h-3zM1022 33h3v1h-3zM1028 33h3v1h-3zM1034 33h3v1h-3zM1040 33h3v1h-3zM1046 33h3v1h-3zM1052 33h3v1h-3zM1058 33h3v1h-3zM1064 33h3v1h-3zM1070 33h3v1h-3zM1076 33h3v1h-3zM1082 33h3v1h-3zM1088 33h3v1h-3zM1094 33h3v1h-3zM1100 33h3v1h-3zM1106 33h3v1h-3zM1112 33h3v1h-3zM1118 33h3v1h-3zM1124 33h3v1h-3zM1130 33h3v1h-3zM1136 33h3v1h-3zM1142 33h3v1h-3zM1148 33h3v1h-3zM1154 33h3v1h-3zM1160 33h3v1h-3zM1166 33h3v1h-3zM1172 33h3v1h-3zM1178 33h3v1h-3zM1184 33h3v1h-3zM1190 33h3v1h-3zM1196 33h3v1h-3zM1202 33h3v1h-3zM1208 33h3v1h-3zM1214 33h3v1h-3zM1220 33h3v1h-3zM1226 33h3v1h-3zM1232 33h3v1h-3zM1238 33h3v1h-3zM1244 33h3v1h-3zM1250 33h3v1h-3zM1256 33h3v1h-3zM1262 33h3v1h-3zM1268 33h3v1h-3zM1274 33h3v1h-3zM1280 33h3v1h-3zM1286 33h3v1h-3zM1292 33h3v1h-3zM1298 33h3v1h-3zM1304 33h3v1h-3zM1310 33h3v1h-3zM1316 33h3v1h-3zM1322 33h3v1h-3zM1328 33h3v1h-3zM1334 33h3v1h-3zM1340 33h3v1h-3zM1346 33h3v1h-3zM1352 33h3v1h-3zM1358 33h3v1h-3zM1364 33h3v1h-3zM1370 33h3v1h-3zM1376 33h3v1h-3zM1382 33h3v1h-3zM1388 33h3v1h-3zM1394 33h3v1h-3zM1400 33h3v1h-3zM1406 33h3v1h-3zM1412 33h3v1h-3zM1418 33h3v1h-3zM1424 33h3v1h-3zM1430 33h3v1h-3zM1436 33h3v1h-3zM1442 33h3v1h-3zM1448 33h3v1h-3zM1454 33h3v1h-3zM1460 33h3v1h-3zM1466 33h3v1h-3zM1472 33h3v1h-3zM1478 33h3v1h-3zM1484 33h3v1h-3zM1490 33h3v1h-3zM1496 33h3v1h-3zM1502 33h3v1h-3zM1508 33h3v1h-3zM1514 33h3v1h-3zM1520 33h3v1h-3zM1526 33h3v1h-3zM1532 33h3v1h-3zM1538 33h3v1h-3zM1544 33h3v1h-3zM1550 33h3v1h-3zM1556 33h3v1h-3zM1562 33h3v1h-3zM1568 33h3v1h-3zM1574 33h3v1h-3zM1580 33h3v1h-3zM1586 33h3v1h-3zM1592 33h3v1h-3zM1598 33h3v1h-3zM1604 33h3v1h-3zM1610 33h3v1h-3zM1616 33h3v1h-3zM1622 33h3v1h-3zM1628 33h3v1h-3zM1634 33h3v1h-3zM1640 33h3v1h-3zM1646 33h3v1h-3zM1652 33h3v1h-3zM1658 33h3v1h-3zM1664 33h3v1h-3zM1670 33h3v1h-3zM1676 33h3v1h-3zM1682 33h3v1h-3zM1688 33h3v1h-3zM1694 33h3v1h-3zM1700 33h3v1h-3zM1706 33h3v1h-3zM1712 33h3v1h-3zM1718 33h3v1h-3zM1724 33h3v1h-3zM1730 33h3v1h-3zM1736 33h3v1h-3zM1742 33h3v1h-3zM1748 33h3v1h-3zM1754 33h3v1h-3zM1760 33h3v1h-3zM1766 33h3v1h-3zM1772 33h3v1h-3zM1778 33h3v1h-3zM1784 33h3v1h-3zM1790 33h3v1h-3zM1796 33h3v1h-3zM1802 33h3v1h-3zM1808 33h3v1h-3zM1814 33h3v1h-3zM1820 33h3v1h-3zM1826 33h3v1h-3zM1832 33h3v1h-3zM1838 33h3v1h-3zM1844 33h3v1h-3zM1850 33h3v1h-3zM2 74h3v1h-3zM8 74h3v1h-3zM14 74h3v1h-3zM20 74h3v1h-3zM26 74h3v1h-3zM32 74h3v1h-3zM38 74h3v1h-3zM44 74h3v1h-3zM50 74h3v1h-3zM56 74h3v1h-3zM62 74h3v1h-3zM68 74h3v1h-3zM74 74h3v1h-3zM80 74h3v1h-3zM86 74h3v1h-3zM92 74h3v1h-3zM98 74h3v1h-3zM104 74h3v1h-3zM110 74h3v1h-3zM116 74h3v1h-3zM122 74h3v1h-3zM128 74h3v1h-3zM134 74h3v1h-3zM140 74h3v1h-3zM146 74h3v1h-3zM152 74h3v1h-3zM158 74h3v1h-3zM164 74h3v1h-3zM170 74h3v1h-3zM176 74h3v1h-3zM182 74h3v1h-3zM188 74h3v1h-3zM194 74h3v1h-3zM200 74h3v1h-3zM206 74h3v1h-3zM212 74h3v1h-3zM218 74h3v1h-3zM224 74h3v1h-3zM230 74h3v1h-3zM236 74h3v1h-3zM242 74h3v1h-3zM248 74h3v1h-3zM254 74h3v1h-3zM260 74h3v1h-3zM266 74h3v1h-3zM272 74h3v1h-3zM278 74h3v1h-3zM284 74h3v1h-3zM290 74h3v1h-3zM296 74h3v1h-3zM302 74h3v1h-3zM308 74h3v1h-3zM314 74h3v1h-3zM320 74h3v1h-3zM326 74h3v1h-3zM332 74h3v1h-3zM338 74h3v1h-3zM344 74h3v1h-3zM350 74h3v1h-3zM356 74h3v1h-3zM362 74h3v1h-3zM368 74h3v1h-3zM374 74h3v1h-3zM380 74h3v1h-3zM386 74h3v1h-3zM392 74h3v1h-3zM398 74h3v1h-3zM404 74h3v1h-3zM410 74h3v1h-3zM416 74h3v1h-3zM422 74h3v1h-3zM428 74h3v1h-3zM434 74h3v1h-3zM440 74h3v1h-3zM446 74h3v1h-3zM452 74h3v1h-3zM458 74h3v1h-3zM464 74h3v1h-3zM470 74h3v1h-3zM476 74h3v1h-3zM482 74h3v1h-3zM488 74h3v1h-3zM494 74h3v1h-3zM500 74h3v1h-3zM506 74h3v1h-3zM512 74h3v1h-3zM518 74h3v1h-3zM524 74h3v1h-3zM530 74h3v1h-3zM536 74h3v1h-3zM542 74h3v1h-3zM548 74h3v1h-3zM554 74h3v1h-3zM560 74h3v1h-3zM566 74h3v1h-3zM572 74h3v1h-3zM578 74h3v1h-3zM584 74h3v1h-3zM590 74h3v1h-3zM596 74h3v1h-3zM602 74h3v1h-3zM608 74h3v1h-3zM614 74h3v1h-3zM620 74h3v1h-3zM626 74h3v1h-3zM632 74h3v1h-3zM638 74h3v1h-3zM644 74h3v1h-3zM650 74h3v1h-3zM656 74h3v1h-3zM662 74h3v1h-3zM668 74h3v1h-3zM674 74h3v1h-3zM680 74h3v1h-3zM686 74h3v1h-3zM692 74h3v1h-3zM698 74h3v1h-3zM704 74h3v1h-3zM710 74h3v1h-3zM716 74h3v1h-3zM722 74h3v1h-3zM728 74h3v1h-3zM734 74h3v1h-3zM740 74h3v1h-3zM746 74h3v1h-3zM752 74h3v1h-3zM758 74h3v1h-3zM764 74h3v1h-3zM770 74h3v1h-3zM776 74h3v1h-3zM782 74h3v1h-3zM788 74h3v1h-3zM794 74h3v1h-3zM800 74h3v1h-3zM806 74h3v1h-3zM812 74h3v1h-3zM818 74h3v1h-3zM824 74h3v1h-3zM830 74h3v1h-3zM836 74h3v1h-3zM842 74h3v1h-3zM848 74h3v1h-3zM854 74h3v1h-3zM860 74h3v1h-3zM866 74h3v1h-3zM872 74h3v1h-3zM878 74h3v1h-3zM884 74h3v1h-3zM890 74h3v1h-3zM896 74h3v1h-3zM902 74h3v1h-3zM908 74h3v1h-3zM914 74h3v1h-3zM920 74h3v1h-3zM926 74h3v1h-3zM932 74h3v1h-3zM938 74h3v1h-3zM944 74h3v1h-3zM950 74h3v1h-3zM956 74h3v1h-3zM962 74h3v1h-3zM968 74h3v1h-3zM974 74h3v1h-3zM980 74h3v1h-3zM986 74h3v1h-3zM992 74h3v1h-3zM998 74h3v1h-3zM1004 74h3v1h-3zM1010 74h3v1h-3zM1016 74h3v1h-3zM1022 74h3v1h-3zM1028 74h3v1h-3zM1034 74h3v1h-3zM1040 74h3v1h-3zM1046 74h3v1h-3zM1052 74h3v1h-3zM1058 74h3v1h-3zM1064 74h3v1h-3zM1070 74h3v1h-3zM1076 74h3v1h-3zM1082 74h3v1h-3zM1088 74h3v1h-3zM1094 74h3v1h-3zM1100 74h3v1h-3zM1106 74h3v1h-3zM1112 74h3v1h-3zM1118 74h3v1h-3zM1124 74h3v1h-3zM1130 74h3v1h-3zM1136 74h3v1h-3zM1142 74h3v1h-3zM1148 74h3v1h-3zM1154 74h3v1h-3zM1160 74h3v1h-3zM1166 74h3v1h-3zM1172 74h3v1h-3zM1178 74h3v1h-3zM1184 74h3v1h-3zM1190 74h3v1h-3zM1196 74h3v1h-3zM1202 74h3v1h-3zM1208 74h3v1h-3zM1214 74h3v1h-3zM1220 74h3v1h-3zM1226 74h3v1h-3zM1232 74h3v1h-3zM1238 74h3v1h-3zM1244 74h3v1h-3zM1250 74h3v1h-3zM1256 74h3v1h-3zM1262 74h3v1h-3zM1268 74h3v1h-3zM1274 74h3v1h-3zM1280 74h3v1h-3zM1286 74h3v1h-3zM1292 74h3v1h-3zM1298 74h3v1h-3zM1304 74h3v1h-3zM1310 74h3v1h-3zM1316 74h3v1h-3zM1322 74h3v1h-3zM1328 74h3v1h-3zM1334 74h3v1h-3zM1340 74h3v1h-3zM1346 74h3v1h-3zM1352 74h3v1h-3zM1358 74h3v1h-3zM1364 74h3v1h-3zM1370 74h3v1h-3zM1376 74h3v1h-3zM1382 74h3v1h-3zM1388 74h3v1h-3zM1394 74h3v1h-3zM1400 74h3v1h-3zM1406 74h3v1h-3zM1412 74h3v1h-3zM1418 74h3v1h-3zM1424 74h3v1h-3zM1430 74h3v1h-3zM1436 74h3v1h-3zM1442 74h3v1h-3zM1448 74h3v1h-3zM1454 74h3v1h-3zM1460 74h3v1h-3zM1466 74h3v1h-3zM1472 74h3v1h-3zM1478 74h3v1h-3zM1484 74h3v1h-3zM1490 74h3v1h-3zM1496 74h3v1h-3zM1502 74h3v1h-3zM1508 74h3v1h-3zM1514 74h3v1h-3zM1520 74h3v1h-3zM1526 74h3v1h-3zM1532 74h3v1h-3zM1538 74h3v1h-3zM1544 74h3v1h-3zM1550 74h3v1h-3zM1556 74h3v1h-3zM1562 74h3v1h-3zM1568 74h3v1h-3zM1574 74h3v1h-3zM1580 74h3v1h-3zM1586 74h3v1h-3zM1592 74h3v1h-3zM1598 74h3v1h-3zM1604 74h3v1h-3zM1610 74h3v1h-3zM1616 74h3v1h-3zM1622 74h3v1h-3zM1628 74h3v1h-3zM1634 74h3v1h-3zM1640 74h3v1h-3zM1646 74h3v1h-3zM1652 74h3v1h-3zM1658 74h3v1h-3zM1664 74h3v1h-3zM1670 74h3v1h-3zM1676 74h3v1h-3zM1682 74h3v1h-3zM1688 74h3v1h-3zM1694 74h3v1h-3zM1700 74h3v1h-3zM1706 74h3v1h-3zM1712 74h3v1h-3zM1718 74h3v1h-3zM1724 74h3v1h-3zM1730 74h3v1h-3zM1736 74h3v1h-3zM1742 74h3v1h-3zM1748 74h3v1h-3zM1754 74h3v1h-3zM1760 74h3v1h-3zM1766 74h3v1h-3zM1772 74h3v1h-3zM1778 74h3v1h-3zM1784 74h3v1h-3zM1790 74h3v1h-3zM1796 74h3v1h-3zM1802 74h3v1h-3zM1808 74h3v1h-3zM1814 74h3v1h-3zM1820 74h3v1h-3zM1826 74h3v1h-3zM1832 74h3v1h-3zM1838 74h3v1h-3zM1844 74h3v1h-3zM1850 74h3v1h-3zM2 114h3v1h-3zM8 114h3v1h-3zM14 114h3v1h-3zM20 114h3v1h-3zM26 114h3v1h-3zM32 114h3v1h-3zM38 114h3v1h-3zM44 114h3v1h-3zM50 114h3v1h-3zM56 114h3v1h-3zM62 114h3v1h-3zM68 114h3v1h-3zM74 114h3v1h-3zM80 114h3v1h-3zM86 114h3v1h-3zM92 114h3v1h-3zM98 114h3v1h-3zM104 114h3v1h-3zM110 114h3v1h-3zM116 114h3v1h-3zM122 114h3v1h-3zM128 114h3v1h-3zM134 114h3v1h-3zM140 114h3v1h-3zM146 114h3v1h-3zM152 114h3v1h-3zM158 114h3v1h-3zM164 114h3v1h-3zM170 114h3v1h-3zM176 114h3v1h-3zM182 114h3v1h-3zM188 114h3v1h-3zM194 114h3v1h-3zM200 114h3v1h-3zM206 114h3v1h-3zM212 114h3v1h-3zM218 114h3v1h-3zM224 114h3v1h-3zM230 114h3v1h-3zM236 114h3v1h-3zM242 114h3v1h-3zM248 114h3v1h-3zM254 114h3v1h-3zM260 114h3v1h-3zM266 114h3v1h-3zM272 114h3v1h-3zM278 114h3v1h-3zM284 114h3v1h-3zM290 114h3v1h-3zM296 114h3v1h-3zM302 114h3v1h-3zM308 114h3v1h-3zM314 114h3v1h-3zM320 114h3v1h-3zM326 114h3v1h-3zM332 114h3v1h-3zM338 114h3v1h-3zM344 114h3v1h-3zM350 114h3v1h-3zM356 114h3v1h-3zM362 114h3v1h-3zM368 114h3v1h-3zM374 114h3v1h-3zM380 114h3v1h-3zM386 114h3v1h-3zM392 114h3v1h-3zM398 114h3v1h-3zM404 114h3v1h-3zM410 114h3v1h-3zM416 114h3v1h-3zM422 114h3v1h-3zM428 114h3v1h-3zM434 114h3v1h-3zM440 114h3v1h-3zM446 114h3v1h-3zM452 114h3v1h-3zM458 114h3v1h-3zM464 114h3v1h-3zM470 114h3v1h-3zM476 114h3v1h-3zM482 114h3v1h-3zM488 114h3v1h-3zM494 114h3v1h-3zM500 114h3v1h-3zM506 114h3v1h-3zM512 114h3v1h-3zM518 114h3v1h-3zM524 114h3v1h-3zM530 114h3v1h-3zM536 114h3v1h-3zM542 114h3v1h-3zM548 114h3v1h-3zM554 114h3v1h-3zM560 114h3v1h-3zM566 114h3v1h-3zM572 114h3v1h-3zM578 114h3v1h-3zM584 114h3v1h-3zM590 114h3v1h-3zM596 114h3v1h-3zM602 114h3v1h-3zM608 114h3v1h-3zM614 114h3v1h-3zM620 114h3v1h-3zM626 114h3v1h-3zM632 114h3v1h-3zM638 114h3v1h-3zM644 114h3v1h-3zM650 114h3v1h-3zM656 114h3v1h-3zM662 114h3v1h-3zM668 114h3v1h-3zM674 114h3v1h-3zM680 114h3v1h-3zM686 114h3v1h-3zM692 114h3v1h-3zM698 114h3v1h-3zM704 114h3v1h-3zM710 114h3v1h-3zM716 114h3v1h-3zM722 114h3v1h-3zM728 114h3v1h-3zM734 114h3v1h-3zM740 114h3v1h-3zM746 114h3v1h-3zM752 114h3v1h-3zM758 114h3v1h-3zM764 114h3v1h-3zM770 114h3v1h-3zM776 114h3v1h-3zM782 114h3v1h-3zM788 114h3v1h-3zM794 114h3v1h-3zM800 114h3v1h-3zM806 114h3v1h-3zM812 114h3v1h-3zM818 114h3v1h-3zM824 114h3v1h-3zM830 114h3v1h-3zM836 114h3v1h-3zM842 114h3v1h-3zM848 114h3v1h-3zM854 114h3v1h-3zM860 114h3v1h-3zM866 114h3v1h-3zM872 114h3v1h-3zM878 114h3v1h-3zM884 114h3v1h-3zM890 114h3v1h-3zM896 114h3v1h-3zM902 114h3v1h-3zM908 114h3v1h-3zM914 114h3v1h-3zM920 114h3v1h-3zM926 114h3v1h-3zM932 114h3v1h-3zM938 114h3v1h-3zM944 114h3v1h-3zM950 114h3v1h-3zM956 114h3v1h-3zM962 114h3v1h-3zM968 114h3v1h-3zM974 114h3v1h-3zM980 114h3v1h-3zM986 114h3v1h-3zM992 114h3v1h-3zM998 114h3v1h-3zM1004 114h3v1h-3zM1010 114h3v1h-3zM1016 114h3v1h-3zM1022 114h3v1h-3zM1028 114h3v1h-3zM1034 114h3v1h-3zM1040 114h3v1h-3zM1046 114h3v1h-3zM1052 114h3v1h-3zM1058 114h3v1h-3zM1064 114h3v1h-3zM1070 114h3v1h-3zM1076 114h3v1h-3zM1082 114h3v1h-3zM1088 114h3v1h-3zM1094 114h3v1h-3zM1100 114h3v1h-3zM1106 114h3v1h-3zM1112 114h3v1h-3zM1118 114h3v1h-3zM1124 114h3v1h-3zM1130 114h3v1h-3zM1136 114h3v1h-3zM1142 114h3v1h-3zM1148 114h3v1h-3zM1154 114h3v1h-3zM1160 114h3v1h-3zM1166 114h3v1h-3zM1172 114h3v1h-3zM1178 114h3v1h-3zM1184 114h3v1h-3zM1190 114h3v1h-3zM1196 114h3v1h-3zM1202 114h3v1h-3zM1208 114h3v1h-3zM1214 114h3v1h-3zM1220 114h3v1h-3zM1226 114h3v1h-3zM1232 114h3v1h-3zM1238 114h3v1h-3zM1244 114h3v1h-3zM1250 114h3v1h-3zM1256 114h3v1h-3zM1262 114h3v1h-3zM1268 114h3v1h-3zM1274 114h3v1h-3zM1280 114h3v1h-3zM1286 114h3v1h-3zM1292 114h3v1h-3zM1298 114h3v1h-3zM1304 114h3v1h-3zM1310 114h3v1h-3zM1316 114h3v1h-3zM1322 114h3v1h-3zM1328 114h3v1h-3zM1334 114h3v1h-3zM1340 114h3v1h-3zM1346 114h3v1h-3zM1352 114h3v1h-3zM1358 114h3v1h-3zM1364 114h3v1h-3zM1370 114h3v1h-3zM1376 114h3v1h-3zM1382 114h3v1h-3zM1388 114h3v1h-3zM1394 114h3v1h-3zM1400 114h3v1h-3zM1406 114h3v1h-3zM1412 114h3v1h-3zM1418 114h3v1h-3zM1424 114h3v1h-3zM1430 114h3v1h-3zM1436 114h3v1h-3zM1442 114h3v1h-3zM1448 114h3v1h-3zM1454 114h3v1h-3zM1460 114h3v1h-3zM1466 114h3v1h-3zM1472 114h3v1h-3zM1478 114h3v1h-3zM1484 114h3v1h-3zM1490 114h3v1h-3zM1496 114h3v1h-3zM1502 114h3v1h-3zM1508 114h3v1h-3zM1514 114h3v1h-3zM1520 114h3v1h-3zM1526 114h3v1h-3zM1532 114h3v1h-3zM1538 114h3v1h-3zM1544 114h3v1h-3zM1550 114h3v1h-3zM1556 114h3v1h-3zM1562 114h3v1h-3zM1568 114h3v1h-3zM1574 114h3v1h-3zM1580 114h3v1h-3zM1586 114h3v1h-3zM1592 114h3v1h-3zM1598 114h3v1h-3zM1604 114h3v1h-3zM1610 114h3v1h-3zM1616 114h3v1h-3zM1622 114h3v1h-3zM1628 114h3v1h-3zM1634 114h3v1h-3zM1640 114h3v1h-3zM1646 114h3v1h-3zM1652 114h3v1h-3zM1658 114h3v1h-3zM1664 114h3v1h-3zM1670 114h3v1h-3zM1676 114h3v1h-3zM1682 114h3v1h-3zM1688 114h3v1h-3zM1694 114h3v1h-3zM1700 114h3v1h-3zM1706 114h3v1h-3zM1712 114h3v1h-3zM1718 114h3v1h-3zM1724 114h3v1h-3zM1730 114h3v1h-3zM1736 114h3v1h-3zM1742 114h3v1h-3zM1748 114h3v1h-3zM1754 114h3v1h-3zM1760 114h3v1h-3zM1766 114h3v1h-3zM1772 114h3v1h-3zM1778 114h3v1h-3zM1784 114h3v1h-3zM1790 114h3v1h-3zM1796 114h3v1h-3zM1802 114h3v1h-3zM1808 114h3v1h-3zM1814 114h3v1h-3zM1820 114h3v1h-3zM1826 114h3v1h-3zM1832 114h3v1h-3zM1838 114h3v1h-3zM1844 114h3v1h-3zM1850 114h3v1h-3zM2 154h3v1h-3zM8 154h3v1h-3zM14 154h3v1h-3zM20 154h3v1h-3zM26 154h3v1h-3zM32 154h3v1h-3zM38 154h3v1h-3zM44 154h3v1h-3zM50 154h3v1h-3zM56 154h3v1h-3zM62 154h3v1h-3zM68 154h3v1h-3zM74 154h3v1h-3zM80 154h3v1h-3zM86 154h3v1h-3zM92 154h3v1h-3zM98 154h3v1h-3zM104 154h3v1h-3zM110 154h3v1h-3zM116 154h3v1h-3zM122 154h3v1h-3zM128 154h3v1h-3zM134 154h3v1h-3zM140 154h3v1h-3zM146 154h3v1h-3zM152 154h3v1h-3zM158 154h3v1h-3zM164 154h3v1h-3zM170 154h3v1h-3zM176 154h3v1h-3zM182 154h3v1h-3zM188 154h3v1h-3zM194 154h3v1h-3zM200 154h3v1h-3zM206 154h3v1h-3zM212 154h3v1h-3zM218 154h3v1h-3zM224 154h3v1h-3zM230 154h3v1h-3zM236 154h3v1h-3zM242 154h3v1h-3zM248 154h3v1h-3zM254 154h3v1h-3zM260 154h3v1h-3zM266 154h3v1h-3zM272 154h3v1h-3zM278 154h3v1h-3zM284 154h3v1h-3zM290 154h3v1h-3zM296 154h3v1h-3zM302 154h3v1h-3zM308 154h3v1h-3zM314 154h3v1h-3zM320 154h3v1h-3zM326 154h3v1h-3zM332 154h3v1h-3zM338 154h3v1h-3zM344 154h3v1h-3zM350 154h3v1h-3zM356 154h3v1h-3zM362 154h3v1h-3zM368 154h3v1h-3zM374 154h3v1h-3zM380 154h3v1h-3zM386 154h3v1h-3zM392 154h3v1h-3zM398 154h3v1h-3zM404 154h3v1h-3zM410 154h3v1h-3zM416 154h3v1h-3zM422 154h3v1h-3zM428 154h3v1h-3zM434 154h3v1h-3zM440 154h3v1h-3zM446 154h3v1h-3zM452 154h3v1h-3zM458 154h3v1h-3zM464 154h3v1h-3zM470 154h3v1h-3zM476 154h3v1h-3zM482 154h3v1h-3zM488 154h3v1h-3zM494 154h3v1h-3zM500 154h3v1h-3zM506 154h3v1h-3zM512 154h3v1h-3zM518 154h3v1h-3zM524 154h3v1h-3zM530 154h3v1h-3zM536 154h3v1h-3zM542 154h3v1h-3zM548 154h3v1h-3zM554 154h3v1h-3zM560 154h3v1h-3zM566 154h3v1h-3zM572 154h3v1h-3zM578 154h3v1h-3zM584 154h3v1h-3zM590 154h3v1h-3zM596 154h3v1h-3zM602 154h3v1h-3zM608 154h3v1h-3zM614 154h3v1h-3zM620 154h3v1h-3zM626 154h3v1h-3zM632 154h3v1h-3zM638 154h3v1h-3zM644 154h3v1h-3zM650 154h3v1h-3zM656 154h3v1h-3zM662 154h3v1h-3zM668 154h3v1h-3zM674 154h3v1h-3zM680 154h3v1h-3zM686 154h3v1h-3zM692 154h3v1h-3zM698 154h3v1h-3zM704 154h3v1h-3zM710 154h3v1h-3zM716 154h3v1h-3zM722 154h3v1h-3zM728 154h3v1h-3zM734 154h3v1h-3zM740 154h3v1h-3zM746 154h3v1h-3zM752 154h3v1h-3zM758 154h3v1h-3zM764 154h3v1h-3zM770 154h3v1h-3zM776 154h3v1h-3zM782 154h3v1h-3zM788 154h3v1h-3zM794 154h3v1h-3zM800 154h3v1h-3zM806 154h3v1h-3zM812 154h3v1h-3zM818 154h3v1h-3zM824 154h3v1h-3zM830 154h3v1h-3zM836 154h3v1h-3zM842 154h3v1h-3zM848 154h3v1h-3zM854 154h3v1h-3zM860 154h3v1h-3zM866 154h3v1h-3zM872 154h3v1h-3zM878 154h3v1h-3zM884 154h3v1h-3zM890 154h3v1h-3zM896 154h3v1h-3zM902 154h3v1h-3zM908 154h3v1h-3zM914 154h3v1h-3zM920 154h3v1h-3zM926 154h3v1h-3zM932 154h3v1h-3zM938 154h3v1h-3zM944 154h3v1h-3zM950 154h3v1h-3zM956 154h3v1h-3zM962 154h3v1h-3zM968 154h3v1h-3zM974 154h3v1h-3zM980 154h3v1h-3zM986 154h3v1h-3zM992 154h3v1h-3zM998 154h3v1h-3zM1004 154h3v1h-3zM1010 154h3v1h-3zM1016 154h3v1h-3zM1022 154h3v1h-3zM1028 154h3v1h-3zM1034 154h3v1h-3zM1040 154h3v1h-3zM1046 154h3v1h-3zM1052 154h3v1h-3zM1058 154h3v1h-3zM1064 154h3v1h-3zM1070 154h3v1h-3zM1076 154h3v1h-3zM1082 154h3v1h-3zM1088 154h3v1h-3zM1094 154h3v1h-3zM1100 154h3v1h-3zM1106 154h3v1h-3zM1112 154h3v1h-3zM1118 154h3v1h-3zM1124 154h3v1h-3zM1130 154h3v1h-3zM1136 154h3v1h-3zM1142 154h3v1h-3zM1148 154h3v1h-3zM1154 154h3v1h-3zM1160 154h3v1h-3zM1166 154h3v1h-3zM1172 154h3v1h-3zM1178 154h3v1h-3zM1184 154h3v1h-3zM1190 154h3v1h-3zM1196 154h3v1h-3zM1202 154h3v1h-3zM1208 154h3v1h-3zM1214 154h3v1h-3zM1220 154h3v1h-3zM1226 154h3v1h-3zM1232 154h3v1h-3zM1238 154h3v1h-3zM1244 154h3v1h-3zM1250 154h3v1h-3zM1256 154h3v1h-3zM1262 154h3v1h-3zM1268 154h3v1h-3zM1274 154h3v1h-3zM1280 154h3v1h-3zM1286 154h3v1h-3zM1292 154h3v1h-3zM1298 154h3v1h-3zM1304 154h3v1h-3zM1310 154h3v1h-3zM1316 154h3v1h-3zM1322 154h3v1h-3zM1328 154h3v1h-3zM1334 154h3v1h-3zM1340 154h3v1h-3zM1346 154h3v1h-3zM1352 154h3v1h-3zM1358 154h3v1h-3zM1364 154h3v1h-3zM1370 154h3v1h-3zM1376 154h3v1h-3zM1382 154h3v1h-3zM1388 154h3v1h-3zM1394 154h3v1h-3zM1400 154h3v1h-3zM1406 154h3v1h-3zM1412 154h3v1h-3zM1418 154h3v1h-3zM1424 154h3v1h-3zM1430 154h3v1h-3zM1436 154h3v1h-3zM1442 154h3v1h-3zM1448 154h3v1h-3zM1454 154h3v1h-3zM1460 154h3v1h-3zM1466 154h3v1h-3zM1472 154h3v1h-3zM1478 154h3v1h-3zM1484 154h3v1h-3zM1490 154h3v1h-3zM1496 154h3v1h-3zM1502 154h3v1h-3zM1508 154h3v1h-3zM1514 154h3v1h-3zM1520 154h3v1h-3zM1526 154h3v1h-3zM1532 154h3v1h-3zM1538 154h3v1h-3zM1544 154h3v1h-3zM1550 154h3v1h-3zM1556 154h3v1h-3zM1562 154h3v1h-3zM1568 154h3v1h-3zM1574 154h3v1h-3zM1580 154h3v1h-3zM1586 154h3v1h-3zM1592 154h3v1h-3zM1598 154h3v1h-3zM1604 154h3v1h-3zM1610 154h3v1h-3zM1616 154h3v1h-3zM1622 154h3v1h-3zM1628 154h3v1h-3zM1634 154h3v1h-3zM1640 154h3v1h-3zM1646 154h3v1h-3zM1652 154h3v1h-3zM1658 154h3v1h-3zM1664 154h3v1h-3zM1670 154h3v1h-3zM1676 154h3v1h-3zM1682 154h3v1h-3zM1688 154h3v1h-3zM1694 154h3v1h-3zM1700 154h3v1h-3zM1706 154h3v1h-3zM1712 154h3v1h-3zM1718 154h3v1h-3zM1724 154h3v1h-3zM1730 154h3v1h-3zM1736 154h3v1h-3zM1742 154h3v1h-3zM1748 154h3v1h-3zM1754 154h3v1h-3zM1760 154h3v1h-3zM1766 154h3v1h-3zM1772 154h3v1h-3zM1778 154h3v1h-3zM1784 154h3v1h-3zM1790 154h3v1h-3zM1796 154h3v1h-3zM1802 154h3v1h-3zM1808 154h3v1h-3zM1814 154h3v1h-3zM1820 154h3v1h-3zM1826 154h3v1h-3zM1832 154h3v1h-3zM1838 154h3v1h-3zM1844 154h3v1h-3zM1850 154h3v1h-3zM2 194h3v1h-3zM8 194h3v1h-3zM14 194h3v1h-3zM20 194h3v1h-3zM26 194h3v1h-3zM32 194h3v1h-3zM38 194h3v1h-3zM44 194h3v1h-3zM50 194h3v1h-3zM56 194h3v1h-3zM62 194h3v1h-3zM68 194h3v1h-3zM74 194h3v1h-3zM80 194h3v1h-3zM86 194h3v1h-3zM92 194h3v1h-3zM98 194h3v1h-3zM104 194h3v1h-3zM110 194h3v1h-3zM116 194h3v1h-3zM122 194h3v1h-3zM128 194h3v1h-3zM134 194h3v1h-3zM140 194h3v1h-3zM146 194h3v1h-3zM152 194h3v1h-3zM158 194h3v1h-3zM164 194h3v1h-3zM170 194h3v1h-3zM176 194h3v1h-3zM182 194h3v1h-3zM188 194h3v1h-3zM194 194h3v1h-3zM200 194h3v1h-3zM206 194h3v1h-3zM212 194h3v1h-3zM218 194h3v1h-3zM224 194h3v1h-3zM230 194h3v1h-3zM236 194h3v1h-3zM242 194h3v1h-3zM248 194h3v1h-3zM254 194h3v1h-3zM260 194h3v1h-3zM266 194h3v1h-3zM272 194h3v1h-3zM278 194h3v1h-3zM284 194h3v1h-3zM290 194h3v1h-3zM296 194h3v1h-3zM302 194h3v1h-3zM308 194h3v1h-3zM314 194h3v1h-3zM320 194h3v1h-3zM326 194h3v1h-3zM332 194h3v1h-3zM338 194h3v1h-3zM344 194h3v1h-3zM350 194h3v1h-3zM356 194h3v1h-3zM362 194h3v1h-3zM368 194h3v1h-3zM374 194h3v1h-3zM380 194h3v1h-3zM386 194h3v1h-3zM392 194h3v1h-3zM398 194h3v1h-3zM404 194h3v1h-3zM410 194h3v1h-3zM416 194h3v1h-3zM422 194h3v1h-3zM428 194h3v1h-3zM434 194h3v1h-3zM440 194h3v1h-3zM446 194h3v1h-3zM452 194h3v1h-3zM458 194h3v1h-3zM464 194h3v1h-3zM470 194h3v1h-3zM476 194h3v1h-3zM482 194h3v1h-3zM488 194h3v1h-3zM494 194h3v1h-3zM500 194h3v1h-3zM506 194h3v1h-3zM512 194h3v1h-3zM518 194h3v1h-3zM524 194h3v1h-3zM530 194h3v1h-3zM536 194h3v1h-3zM542 194h3v1h-3zM548 194h3v1h-3zM554 194h3v1h-3zM560 194h3v1h-3zM566 194h3v1h-3zM572 194h3v1h-3zM578 194h3v1h-3zM584 194h3v1h-3zM590 194h3v1h-3zM596 194h3v1h-3zM602 194h3v1h-3zM608 194h3v1h-3zM614 194h3v1h-3zM620 194h3v1h-3zM626 194h3v1h-3zM632 194h3v1h-3zM638 194h3v1h-3zM644 194h3v1h-3zM650 194h3v1h-3zM656 194h3v1h-3zM662 194h3v1h-3zM668 194h3v1h-3zM674 194h3v1h-3zM680 194h3v1h-3zM686 194h3v1h-3zM692 194h3v1h-3zM698 194h3v1h-3zM704 194h3v1h-3zM710 194h3v1h-3zM716 194h3v1h-3zM722 194h3v1h-3zM728 194h3v1h-3zM734 194h3v1h-3zM740 194h3v1h-3zM746 194h3v1h-3zM752 194h3v1h-3zM758 194h3v1h-3zM764 194h3v1h-3zM770 194h3v1h-3zM776 194h3v1h-3zM782 194h3v1h-3zM788 194h3v1h-3zM794 194h3v1h-3zM800 194h3v1h-3zM806 194h3v1h-3zM812 194h3v1h-3zM818 194h3v1h-3zM824 194h3v1h-3zM830 194h3v1h-3zM836 194h3v1h-3zM842 194h3v1h-3zM848 194h3v1h-3zM854 194h3v1h-3zM860 194h3v1h-3zM866 194h3v1h-3zM872 194h3v1h-3zM878 194h3v1h-3zM884 194h3v1h-3zM890 194h3v1h-3zM896 194h3v1h-3zM902 194h3v1h-3zM908 194h3v1h-3zM914 194h3v1h-3zM920 194h3v1h-3zM926 194h3v1h-3zM932 194h3v1h-3zM938 194h3v1h-3zM944 194h3v1h-3zM950 194h3v1h-3zM956 194h3v1h-3zM962 194h3v1h-3zM968 194h3v1h-3zM974 194h3v1h-3zM980 194h3v1h-3zM986 194h3v1h-3zM992 194h3v1h-3zM998 194h3v1h-3zM1004 194h3v1h-3zM1010 194h3v1h-3zM1016 194h3v1h-3zM1022 194h3v1h-3zM1028 194h3v1h-3zM1034 194h3v1h-3zM1040 194h3v1h-3zM1046 194h3v1h-3zM1052 194h3v1h-3zM1058 194h3v1h-3zM1064 194h3v1h-3zM1070 194h3v1h-3zM1076 194h3v1h-3zM1082 194h3v1h-3zM1088 194h3v1h-3zM1094 194h3v1h-3zM1100 194h3v1h-3zM1106 194h3v1h-3zM1112 194h3v1h-3zM1118 194h3v1h-3zM1124 194h3v1h-3zM1130 194h3v1h-3zM1136 194h3v1h-3zM1142 194h3v1h-3zM1148 194h3v1h-3zM1154 194h3v1h-3zM1160 194h3v1h-3zM1166 194h3v1h-3zM1172 194h3v1h-3zM1178 194h3v1h-3zM1184 194h3v1h-3zM1190 194h3v1h-3zM1196 194h3v1h-3zM1202 194h3v1h-3zM1208 194h3v1h-3zM1214 194h3v1h-3zM1220 194h3v1h-3zM1226 194h3v1h-3zM1232 194h3v1h-3zM1238 194h3v1h-3zM1244 194h3v1h-3zM1250 194h3v1h-3zM1256 194h3v1h-3zM1262 194h3v1h-3zM1268 194h3v1h-3zM1274 194h3v1h-3zM1280 194h3v1h-3zM1286 194h3v1h-3zM1292 194h3v1h-3zM1298 194h3v1h-3zM1304 194h3v1h-3zM1310 194h3v1h-3zM1316 194h3v1h-3zM1322 194h3v1h-3zM1328 194h3v1h-3zM1334 194h3v1h-3zM1340 194h3v1h-3zM1346 194h3v1h-3zM1352 194h3v1h-3zM1358 194h3v1h-3zM1364 194h3v1h-3zM1370 194h3v1h-3zM1376 194h3v1h-3zM1382 194h3v1h-3zM1388 194h3v1h-3zM1394 194h3v1h-3zM1400 194h3v1h-3zM1406 194h3v1h-3zM1412 194h3v1h-3zM1418 194h3v1h-3zM1424 194h3v1h-3zM1430 194h3v1h-3zM1436 194h3v1h-3zM1442 194h3v1h-3zM1448 194h3v1h-3zM1454 194h3v1h-3zM1460 194h3v1h-3zM1466 194h3v1h-3zM1472 194h3v1h-3zM1478 194h3v1h-3zM1484 194h3v1h-3zM1490 194h3v1h-3zM1496 194h3v1h-3zM1502 194h3v1h-3zM1508 194h3v1h-3zM1514 194h3v1h-3zM1520 194h3v1h-3zM1526 194h3v1h-3zM1532 194h3v1h-3zM1538 194h3v1h-3zM1544 194h3v1h-3zM1550 194h3v1h-3zM1556 194h3v1h-3zM1562 194h3v1h-3zM1568 194h3v1h-3zM1574 194h3v1h-3zM1580 194h3v1h-3zM1586 194h3v1h-3zM1592 194h3v1h-3zM1598 194h3v1h-3zM1604 194h3v1h-3zM1610 194h3v1h-3zM1616 194h3v1h-3zM1622 194h3v1h-3zM1628 194h3v1h-3zM1634 194h3v1h-3zM1640 194h3v1h-3zM1646 194h3v1h-3zM1652 194h3v1h-3zM1658 194h3v1h-3zM1664 194h3v1h-3zM1670 194h3v1h-3zM1676 194h3v1h-3zM1682 194h3v1h-3zM1688 194h3v1h-3zM1694 194h3v1h-3zM1700 194h3v1h-3zM1706 194h3v1h-3zM1712 194h3v1h-3zM1718 194h3v1h-3zM1724 194h3v1h-3zM1730 194h3v1h-3zM1736 194h3v1h-3zM1742 194h3v1h-3zM1748 194h3v1h-3zM1754 194h3v1h-3zM1760 194h3v1h-3zM1766 194h3v1h-3zM1772 194h3v1h-3zM1778 194h3v1h-3zM1784 194h3v1h-3zM1790 194h3v1h-3zM1796 194h3v1h-3zM1802 194h3v1h-3zM1808 194h3v1h-3zM1814 194h3v1h-3zM1820 194h3v1h-3zM1826 194h3v1h-3zM1832 194h3v1h-3zM1838 194h3v1h-3zM1844 194h3v1h-3zM1850 194h3v1h-3zM2 234h3v1h-3zM8 234h3v1h-3zM14 234h3v1h-3zM20 234h3v1h-3zM26 234h3v1h-3zM32 234h3v1h-3zM38 234h3v1h-3zM44 234h3v1h-3zM50 234h3v1h-3zM56 234h3v1h-3zM62 234h3v1h-3zM68 234h3v1h-3zM74 234h3v1h-3zM80 234h3v1h-3zM86 234h3v1h-3zM92 234h3v1h-3zM98 234h3v1h-3zM104 234h3v1h-3zM110 234h3v1h-3zM116 234h3v1h-3zM122 234h3v1h-3zM128 234h3v1h-3zM134 234h3v1h-3zM140 234h3v1h-3zM146 234h3v1h-3zM152 234h3v1h-3zM158 234h3v1h-3zM164 234h3v1h-3zM170 234h3v1h-3zM176 234h3v1h-3zM182 234h3v1h-3zM188 234h3v1h-3zM194 234h3v1h-3zM200 234h3v1h-3zM206 234h3v1h-3zM212 234h3v1h-3zM218 234h3v1h-3zM224 234h3v1h-3zM230 234h3v1h-3zM236 234h3v1h-3zM242 234h3v1h-3zM248 234h3v1h-3zM254 234h3v1h-3zM260 234h3v1h-3zM266 234h3v1h-3zM272 234h3v1h-3zM278 234h3v1h-3zM284 234h3v1h-3zM290 234h3v1h-3zM296 234h3v1h-3zM302 234h3v1h-3zM308 234h3v1h-3zM314 234h3v1h-3zM320 234h3v1h-3zM326 234h3v1h-3zM332 234h3v1h-3zM338 234h3v1h-3zM344 234h3v1h-3zM350 234h3v1h-3zM356 234h3v1h-3zM362 234h3v1h-3zM368 234h3v1h-3zM374 234h3v1h-3zM380 234h3v1h-3zM386 234h3v1h-3zM392 234h3v1h-3zM398 234h3v1h-3zM404 234h3v1h-3zM410 234h3v1h-3zM416 234h3v1h-3zM422 234h3v1h-3zM428 234h3v1h-3zM434 234h3v1h-3zM440 234h3v1h-3zM446 234h3v1h-3zM452 234h3v1h-3zM458 234h3v1h-3zM464 234h3v1h-3zM470 234h3v1h-3zM476 234h3v1h-3zM482 234h3v1h-3zM488 234h3v1h-3zM494 234h3v1h-3zM500 234h3v1h-3zM506 234h3v1h-3zM512 234h3v1h-3zM518 234h3v1h-3zM524 234h3v1h-3zM530 234h3v1h-3zM536 234h3v1h-3zM542 234h3v1h-3zM548 234h3v1h-3zM554 234h3v1h-3zM560 234h3v1h-3zM566 234h3v1h-3zM572 234h3v1h-3zM578 234h3v1h-3zM584 234h3v1h-3zM590 234h3v1h-3zM596 234h3v1h-3zM602 234h3v1h-3zM608 234h3v1h-3zM614 234h3v1h-3zM620 234h3v1h-3zM626 234h3v1h-3zM632 234h3v1h-3zM638 234h3v1h-3zM644 234h3v1h-3zM650 234h3v1h-3zM656 234h3v1h-3zM662 234h3v1h-3zM668 234h3v1h-3zM674 234h3v1h-3zM680 234h3v1h-3zM686 234h3v1h-3zM692 234h3v1h-3zM698 234h3v1h-3zM704 234h3v1h-3zM710 234h3v1h-3zM716 234h3v1h-3zM722 234h3v1h-3zM728 234h3v1h-3zM734 234h3v1h-3zM740 234h3v1h-3zM746 234h3v1h-3zM752 234h3v1h-3zM758 234h3v1h-3zM764 234h3v1h-3zM770 234h3v1h-3zM776 234h3v1h-3zM782 234h3v1h-3zM788 234h3v1h-3zM794 234h3v1h-3zM800 234h3v1h-3zM806 234h3v1h-3zM812 234h3v1h-3zM818 234h3v1h-3zM824 234h3v1h-3zM830 234h3v1h-3zM836 234h3v1h-3zM842 234h3v1h-3zM848 234h3v1h-3zM854 234h3v1h-3zM860 234h3v1h-3zM866 234h3v1h-3zM872 234h3v1h-3zM878 234h3v1h-3zM884 234h3v1h-3zM890 234h3v1h-3zM896 234h3v1h-3zM902 234h3v1h-3zM908 234h3v1h-3zM914 234h3v1h-3zM920 234h3v1h-3zM926 234h3v1h-3zM932 234h3v1h-3zM938 234h3v1h-3zM944 234h3v1h-3zM950 234h3v1h-3zM956 234h3v1h-3zM962 234h3v1h-3zM968 234h3v1h-3zM974 234h3v1h-3zM980 234h3v1h-3zM986 234h3v1h-3zM992 234h3v1h-3zM998 234h3v1h-3zM1004 234h3v1h-3zM1010 234h3v1h-3zM1016 234h3v1h-3zM1022 234h3v1h-3zM1028 234h3v1h-3zM1034 234h3v1h-3zM1040 234h3v1h-3zM1046 234h3v1h-3zM1052 234h3v1h-3zM1058 234h3v1h-3zM1064 234h3v1h-3zM1070 234h3v1h-3zM1076 234h3v1h-3zM1082 234h3v1h-3zM1088 234h3v1h-3zM1094 234h3v1h-3zM1100 234h3v1h-3zM1106 234h3v1h-3zM1112 234h3v1h-3zM1118 234h3v1h-3zM1124 234h3v1h-3zM1130 234h3v1h-3zM1136 234h3v1h-3zM1142 234h3v1h-3zM1148 234h3v1h-3zM1154 234h3v1h-3zM1160 234h3v1h-3zM1166 234h3v1h-3zM1172 234h3v1h-3zM1178 234h3v1h-3zM1184 234h3v1h-3zM1190 234h3v1h-3zM1196 234h3v1h-3zM1202 234h3v1h-3zM1208 234h3v1h-3zM1214 234h3v1h-3zM1220 234h3v1h-3zM1226 234h3v1h-3zM1232 234h3v1h-3zM1238 234h3v1h-3zM1244 234h3v1h-3zM1250 234h3v1h-3zM1256 234h3v1h-3zM1262 234h3v1h-3zM1268 234h3v1h-3zM1274 234h3v1h-3zM1280 234h3v1h-3zM1286 234h3v1h-3zM1292 234h3v1h-3zM1298 234h3v1h-3zM1304 234h3v1h-3zM1310 234h3v1h-3zM1316 234h3v1h-3zM1322 234h3v1h-3zM1328 234h3v1h-3zM1334 234h3v1h-3zM1340 234h3v1h-3zM1346 234h3v1h-3zM1352 234h3v1h-3zM1358 234h3v1h-3zM1364 234h3v1h-3zM1370 234h3v1h-3zM1376 234h3v1h-3zM1382 234h3v1h-3zM1388 234h3v1h-3zM1394 234h3v1h-3zM1400 234h3v1h-3zM1406 234h3v1h-3zM1412 234h3v1h-3zM1418 234h3v1h-3zM1424 234h3v1h-3zM1430 234h3v1h-3zM1436 234h3v1h-3zM1442 234h3v1h-3zM1448 234h3v1h-3zM1454 234h3v1h-3zM1460 234h3v1h-3zM1466 234h3v1h-3zM1472 234h3v1h-3zM1478 234h3v1h-3zM1484 234h3v1h-3zM1490 234h3v1h-3zM1496 234h3v1h-3zM1502 234h3v1h-3zM1508 234h3v1h-3zM1514 234h3v1h-3zM1520 234h3v1h-3zM1526 234h3v1h-3zM1532 234h3v1h-3zM1538 234h3v1h-3zM1544 234h3v1h-3zM1550 234h3v1h-3zM1556 234h3v1h-3zM1562 234h3v1h-3zM1568 234h3v1h-3zM1574 234h3v1h-3zM1580 234h3v1h-3zM1586 234h3v1h-3zM1592 234h3v1h-3zM1598 234h3v1h-3zM1604 234h3v1h-3zM1610 234h3v1h-3zM1616 234h3v1h-3zM1622 234h3v1h-3zM1628 234h3v1h-3zM1634 234h3v1h-3zM1640 234h3v1h-3zM1646 234h3v1h-3zM1652 234h3v1h-3zM1658 234h3v1h-3zM1664 234h3v1h-3zM1670 234h3v1h-3zM1676 234h3v1h-3zM1682 234h3v1h-3zM1688 234h3v1h-3zM1694 234h3v1h-3zM1700 234h3v1h-3zM1706 234h3v1h-3zM1712 234h3v1h-3zM1718 234h3v1h-3zM1724 234h3v1h-3zM1730 234h3v1h-3zM1736 234h3v1h-3zM1742 234h3v1h-3zM1748 234h3v1h-3zM1754 234h3v1h-3zM1760 234h3v1h-3zM1766 234h3v1h-3zM1772 234h3v1h-3zM1778 234h3v1h-3zM1784 234h3v1h-3zM1790 234h3v1h-3zM1796 234h3v1h-3zM1802 234h3v1h-3zM1808 234h3v1h-3zM1814 234h3v1h-3zM1820 234h3v1h-3zM1826 234h3v1h-3zM1832 234h3v1h-3zM1838 234h3v1h-3zM1844 234h3v1h-3zM1850 234h3v1h-3zM2 274h3v1h-3zM8 274h3v1h-3zM14 274h3v1h-3zM20 274h3v1h-3zM26 274h3v1h-3zM32 274h3v1h-3zM38 274h3v1h-3zM44 274h3v1h-3zM50 274h3v1h-3zM56 274h3v1h-3zM62 274h3v1h-3zM68 274h3v1h-3zM74 274h3v1h-3zM80 274h3v1h-3zM86 274h3v1h-3zM92 274h3v1h-3zM98 274h3v1h-3zM104 274h3v1h-3zM110 274h3v1h-3zM116 274h3v1h-3zM122 274h3v1h-3zM128 274h3v1h-3zM134 274h3v1h-3zM140 274h3v1h-3zM146 274h3v1h-3zM152 274h3v1h-3zM158 274h3v1h-3zM164 274h3v1h-3zM170 274h3v1h-3zM176 274h3v1h-3zM182 274h3v1h-3zM188 274h3v1h-3zM194 274h3v1h-3zM200 274h3v1h-3zM206 274h3v1h-3zM212 274h3v1h-3zM218 274h3v1h-3zM224 274h3v1h-3zM230 274h3v1h-3zM236 274h3v1h-3zM242 274h3v1h-3zM248 274h3v1h-3zM254 274h3v1h-3zM260 274h3v1h-3zM266 274h3v1h-3zM272 274h3v1h-3zM278 274h3v1h-3zM284 274h3v1h-3zM290 274h3v1h-3zM296 274h3v1h-3zM302 274h3v1h-3zM308 274h3v1h-3zM314 274h3v1h-3zM320 274h3v1h-3zM326 274h3v1h-3zM332 274h3v1h-3zM338 274h3v1h-3zM344 274h3v1h-3zM350 274h3v1h-3zM356 274h3v1h-3zM362 274h3v1h-3zM368 274h3v1h-3zM374 274h3v1h-3zM380 274h3v1h-3zM386 274h3v1h-3zM392 274h3v1h-3zM398 274h3v1h-3zM404 274h3v1h-3zM410 274h3v1h-3zM416 274h3v1h-3zM422 274h3v1h-3zM428 274h3v1h-3zM434 274h3v1h-3zM440 274h3v1h-3zM446 274h3v1h-3zM452 274h3v1h-3zM458 274h3v1h-3zM464 274h3v1h-3zM470 274h3v1h-3zM476 274h3v1h-3zM482 274h3v1h-3zM488 274h3v1h-3zM494 274h3v1h-3zM500 274h3v1h-3zM506 274h3v1h-3zM512 274h3v1h-3zM518 274h3v1h-3zM524 274h3v1h-3zM530 274h3v1h-3zM536 274h3v1h-3zM542 274h3v1h-3zM548 274h3v1h-3zM554 274h3v1h-3zM560 274h3v1h-3zM566 274h3v1h-3zM572 274h3v1h-3zM578 274h3v1h-3zM584 274h3v1h-3zM590 274h3v1h-3zM596 274h3v1h-3zM602 274h3v1h-3zM608 274h3v1h-3zM614 274h3v1h-3zM620 274h3v1h-3zM626 274h3v1h-3zM632 274h3v1h-3zM638 274h3v1h-3zM644 274h3v1h-3zM650 274h3v1h-3zM656 274h3v1h-3zM662 274h3v1h-3zM668 274h3v1h-3zM674 274h3v1h-3zM680 274h3v1h-3zM686 274h3v1h-3zM692 274h3v1h-3zM698 274h3v1h-3zM704 274h3v1h-3zM710 274h3v1h-3zM716 274h3v1h-3zM722 274h3v1h-3zM728 274h3v1h-3zM734 274h3v1h-3zM740 274h3v1h-3zM746 274h3v1h-3zM752 274h3v1h-3zM758 274h3v1h-3zM764 274h3v1h-3zM770 274h3v1h-3zM776 274h3v1h-3zM782 274h3v1h-3zM788 274h3v1h-3zM794 274h3v1h-3zM800 274h3v1h-3zM806 274h3v1h-3zM812 274h3v1h-3zM818 274h3v1h-3zM824 274h3v1h-3zM830 274h3v1h-3zM836 274h3v1h-3zM842 274h3v1h-3zM848 274h3v1h-3zM854 274h3v1h-3zM860 274h3v1h-3zM866 274h3v1h-3zM872 274h3v1h-3zM878 274h3v1h-3zM884 274h3v1h-3zM890 274h3v1h-3zM896 274h3v1h-3zM902 274h3v1h-3zM908 274h3v1h-3zM914 274h3v1h-3zM920 274h3v1h-3zM926 274h3v1h-3zM932 274h3v1h-3zM938 274h3v1h-3zM944 274h3v1h-3zM950 274h3v1h-3zM956 274h3v1h-3zM962 274h3v1h-3zM968 274h3v1h-3zM974 274h3v1h-3zM980 274h3v1h-3zM986 274h3v1h-3zM992 274h3v1h-3zM998 274h3v1h-3zM1004 274h3v1h-3zM1010 274h3v1h-3zM1016 274h3v1h-3zM1022 274h3v1h-3zM1028 274h3v1h-3zM1034 274h3v1h-3zM1040 274h3v1h-3zM1046 274h3v1h-3zM1052 274h3v1h-3zM1058 274h3v1h-3zM1064 274h3v1h-3zM1070 274h3v1h-3zM1076 274h3v1h-3zM1082 274h3v1h-3zM1088 274h3v1h-3zM1094 274h3v1h-3zM1100 274h3v1h-3zM1106 274h3v1h-3zM1112 274h3v1h-3zM1118 274h3v1h-3zM1124 274h3v1h-3zM1130 274h3v1h-3zM1136 274h3v1h-3zM1142 274h3v1h-3zM1148 274h3v1h-3zM1154 274h3v1h-3zM1160 274h3v1h-3zM1166 274h3v1h-3zM1172 274h3v1h-3zM1178 274h3v1h-3zM1184 274h3v1h-3zM1190 274h3v1h-3zM1196 274h3v1h-3zM1202 274h3v1h-3zM1208 274h3v1h-3zM1214 274h3v1h-3zM1220 274h3v1h-3zM1226 274h3v1h-3zM1232 274h3v1h-3zM1238 274h3v1h-3zM1244 274h3v1h-3zM1250 274h3v1h-3zM1256 274h3v1h-3zM1262 274h3v1h-3zM1268 274h3v1h-3zM1274 274h3v1h-3zM1280 274h3v1h-3zM1286 274h3v1h-3zM1292 274h3v1h-3zM1298 274h3v1h-3zM1304 274h3v1h-3zM1310 274h3v1h-3zM1316 274h3v1h-3zM1322 274h3v1h-3zM1328 274h3v1h-3zM1334 274h3v1h-3zM1340 274h3v1h-3zM1346 274h3v1h-3zM1352 274h3v1h-3zM1358 274h3v1h-3zM1364 274h3v1h-3zM1370 274h3v1h-3zM1376 274h3v1h-3zM1382 274h3v1h-3zM1388 274h3v1h-3zM1394 274h3v1h-3zM1400 274h3v1h-3zM1406 274h3v1h-3zM1412 274h3v1h-3zM1418 274h3v1h-3zM1424 274h3v1h-3zM1430 274h3v1h-3zM1436 274h3v1h-3zM1442 274h3v1h-3zM1448 274h3v1h-3zM1454 274h3v1h-3zM1460 274h3v1h-3zM1466 274h3v1h-3zM1472 274h3v1h-3zM1478 274h3v1h-3zM1484 274h3v1h-3zM1490 274h3v1h-3zM1496 274h3v1h-3zM1502 274h3v1h-3zM1508 274h3v1h-3zM1514 274h3v1h-3zM1520 274h3v1h-3zM1526 274h3v1h-3zM1532 274h3v1h-3zM1538 274h3v1h-3zM1544 274h3v1h-3zM1550 274h3v1h-3zM1556 274h3v1h-3zM1562 274h3v1h-3zM1568 274h3v1h-3zM1574 274h3v1h-3zM1580 274h3v1h-3zM1586 274h3v1h-3zM1592 274h3v1h-3zM1598 274h3v1h-3zM1604 274h3v1h-3zM1610 274h3v1h-3zM1616 274h3v1h-3zM1622 274h3v1h-3zM1628 274h3v1h-3zM1634 274h3v1h-3zM1640 274h3v1h-3zM1646 274h3v1h-3zM1652 274h3v1h-3zM1658 274h3v1h-3zM1664 274h3v1h-3zM1670 274h3v1h-3zM1676 274h3v1h-3zM1682 274h3v1h-3zM1688 274h3v1h-3zM1694 274h3v1h-3zM1700 274h3v1h-3zM1706 274h3v1h-3zM1712 274h3v1h-3zM1718 274h3v1h-3zM1724 274h3v1h-3zM1730 274h3v1h-3zM1736 274h3v1h-3zM1742 274h3v1h-3zM1748 274h3v1h-3zM1754 274h3v1h-3zM1760 274h3v1h-3zM1766 274h3v1h-3zM1772 274h3v1h-3zM1778 274h3v1h-3zM1784 274h3v1h-3zM1790 274h3v1h-3zM1796 274h3v1h-3zM1802 274h3v1h-3zM1808 274h3v1h-3zM1814 274h3v1h-3zM1820 274h3v1h-3zM1826 274h3v1h-3zM1832 274h3v1h-3zM1838 274h3v1h-3zM1844 274h3v1h-3zM1850 274h3v1h-3zM2 314h3v1h-3zM8 314h3v1h-3zM14 314h3v1h-3zM20 314h3v1h-3zM26 314h3v1h-3zM32 314h3v1h-3zM38 314h3v1h-3zM44 314h3v1h-3zM50 314h3v1h-3zM56 314h3v1h-3zM62 314h3v1h-3zM68 314h3v1h-3zM74 314h3v1h-3zM80 314h3v1h-3zM86 314h3v1h-3zM92 314h3v1h-3zM98 314h3v1h-3zM104 314h3v1h-3zM110 314h3v1h-3zM116 314h3v1h-3zM122 314h3v1h-3zM128 314h3v1h-3zM134 314h3v1h-3zM140 314h3v1h-3zM146 314h3v1h-3zM152 314h3v1h-3zM158 314h3v1h-3zM164 314h3v1h-3zM170 314h3v1h-3zM176 314h3v1h-3zM182 314h3v1h-3zM188 314h3v1h-3zM194 314h3v1h-3zM200 314h3v1h-3zM206 314h3v1h-3zM212 314h3v1h-3zM218 314h3v1h-3zM224 314h3v1h-3zM230 314h3v1h-3zM236 314h3v1h-3zM242 314h3v1h-3zM248 314h3v1h-3zM254 314h3v1h-3zM260 314h3v1h-3zM266 314h3v1h-3zM272 314h3v1h-3zM278 314h3v1h-3zM284 314h3v1h-3zM290 314h3v1h-3zM296 314h3v1h-3zM302 314h3v1h-3zM308 314h3v1h-3zM314 314h3v1h-3zM320 314h3v1h-3zM326 314h3v1h-3zM332 314h3v1h-3zM338 314h3v1h-3zM344 314h3v1h-3zM350 314h3v1h-3zM356 314h3v1h-3zM362 314h3v1h-3zM368 314h3v1h-3zM374 314h3v1h-3zM380 314h3v1h-3zM386 314h3v1h-3zM392 314h3v1h-3zM398 314h3v1h-3zM404 314h3v1h-3zM410 314h3v1h-3zM416 314h3v1h-3zM422 314h3v1h-3zM428 314h3v1h-3zM434 314h3v1h-3zM440 314h3v1h-3zM446 314h3v1h-3zM452 314h3v1h-3zM458 314h3v1h-3zM464 314h3v1h-3zM470 314h3v1h-3zM476 314h3v1h-3zM482 314h3v1h-3zM488 314h3v1h-3zM494 314h3v1h-3zM500 314h3v1h-3zM506 314h3v1h-3zM512 314h3v1h-3zM518 314h3v1h-3zM524 314h3v1h-3zM530 314h3v1h-3zM536 314h3v1h-3zM542 314h3v1h-3zM548 314h3v1h-3zM554 314h3v1h-3zM560 314h3v1h-3zM566 314h3v1h-3zM572 314h3v1h-3zM578 314h3v1h-3zM584 314h3v1h-3zM590 314h3v1h-3zM596 314h3v1h-3zM602 314h3v1h-3zM608 314h3v1h-3zM614 314h3v1h-3zM620 314h3v1h-3zM626 314h3v1h-3zM632 314h3v1h-3zM638 314h3v1h-3zM644 314h3v1h-3zM650 314h3v1h-3zM656 314h3v1h-3zM662 314h3v1h-3zM668 314h3v1h-3zM674 314h3v1h-3zM680 314h3v1h-3zM686 314h3v1h-3zM692 314h3v1h-3zM698 314h3v1h-3zM704 314h3v1h-3zM710 314h3v1h-3zM716 314h3v1h-3zM722 314h3v1h-3zM728 314h3v1h-3zM734 314h3v1h-3zM740 314h3v1h-3zM746 314h3v1h-3zM752 314h3v1h-3zM758 314h3v1h-3zM764 314h3v1h-3zM770 314h3v1h-3zM776 314h3v1h-3zM782 314h3v1h-3zM788 314h3v1h-3zM794 314h3v1h-3zM800 314h3v1h-3zM806 314h3v1h-3zM812 314h3v1h-3zM818 314h3v1h-3zM824 314h3v1h-3zM830 314h3v1h-3zM836 314h3v1h-3zM842 314h3v1h-3zM848 314h3v1h-3zM854 314h3v1h-3zM860 314h3v1h-3zM866 314h3v1h-3zM872 314h3v1h-3zM878 314h3v1h-3zM884 314h3v1h-3zM890 314h3v1h-3zM896 314h3v1h-3zM902 314h3v1h-3zM908 314h3v1h-3zM914 314h3v1h-3zM920 314h3v1h-3zM926 314h3v1h-3zM932 314h3v1h-3zM938 314h3v1h-3zM944 314h3v1h-3zM950 314h3v1h-3zM956 314h3v1h-3zM962 314h3v1h-3zM968 314h3v1h-3zM974 314h3v1h-3zM980 314h3v1h-3zM986 314h3v1h-3zM992 314h3v1h-3zM998 314h3v1h-3zM1004 314h3v1h-3zM1010 314h3v1h-3zM1016 314h3v1h-3zM1022 314h3v1h-3zM1028 314h3v1h-3zM1034 314h3v1h-3zM1040 314h3v1h-3zM1046 314h3v1h-3zM1052 314h3v1h-3zM1058 314h3v1h-3zM1064 314h3v1h-3zM1070 314h3v1h-3zM1076 314h3v1h-3zM1082 314h3v1h-3zM1088 314h3v1h-3zM1094 314h3v1h-3zM1100 314h3v1h-3zM1106 314h3v1h-3zM1112 314h3v1h-3zM1118 314h3v1h-3zM1124 314h3v1h-3zM1130 314h3v1h-3zM1136 314h3v1h-3zM1142 314h3v1h-3zM1148 314h3v1h-3zM1154 314h3v1h-3zM1160 314h3v1h-3zM1166 314h3v1h-3zM1172 314h3v1h-3zM1178 314h3v1h-3zM1184 314h3v1h-3zM1190 314h3v1h-3zM1196 314h3v1h-3zM1202 314h3v1h-3zM1208 314h3v1h-3zM1214 314h3v1h-3zM1220 314h3v1h-3zM1226 314h3v1h-3zM1232 314h3v1h-3zM1238 314h3v1h-3zM1244 314h3v1h-3zM1250 314h3v1h-3zM1256 314h3v1h-3zM1262 314h3v1h-3zM1268 314h3v1h-3zM1274 314h3v1h-3zM1280 314h3v1h-3zM1286 314h3v1h-3zM1292 314h3v1h-3zM1298 314h3v1h-3zM1304 314h3v1h-3zM1310 314h3v1h-3zM1316 314h3v1h-3zM1322 314h3v1h-3zM1328 314h3v1h-3zM1334 314h3v1h-3zM1340 314h3v1h-3zM1346 314h3v1h-3zM1352 314h3v1h-3zM1358 314h3v1h-3zM1364 314h3v1h-3zM1370 314h3v1h-3zM1376 314h3v1h-3zM1382 314h3v1h-3zM1388 314h3v1h-3zM1394 314h3v1h-3zM1400 314h3v1h-3zM1406 314h3v1h-3zM1412 314h3v1h-3zM1418 314h3v1h-3zM1424 314h3v1h-3zM1430 314h3v1h-3zM1436 314h3v1h-3zM1442 314h3v1h-3zM1448 314h3v1h-3zM1454 314h3v1h-3zM1460 314h3v1h-3zM1466 314h3v1h-3zM1472 314h3v1h-3zM1478 314h3v1h-3zM1484 314h3v1h-3zM1490 314h3v1h-3zM1496 314h3v1h-3zM1502 314h3v1h-3zM1508 314h3v1h-3zM1514 314h3v1h-3zM1520 314h3v1h-3zM1526 314h3v1h-3zM1532 314h3v1h-3zM1538 314h3v1h-3zM1544 314h3v1h-3zM1550 314h3v1h-3zM1556 314h3v1h-3zM1562 314h3v1h-3zM1568 314h3v1h-3zM1574 314h3v1h-3zM1580 314h3v1h-3zM1586 314h3v1h-3zM1592 314h3v1h-3zM1598 314h3v1h-3zM1604 314h3v1h-3zM1610 314h3v1h-3zM1616 314h3v1h-3zM1622 314h3v1h-3zM1628 314h3v1h-3zM1634 314h3v1h-3zM1640 314h3v1h-3zM1646 314h3v1h-3zM1652 314h3v1h-3zM1658 314h3v1h-3zM1664 314h3v1h-3zM1670 314h3v1h-3zM1676 314h3v1h-3zM1682 314h3v1h-3zM1688 314h3v1h-3zM1694 314h3v1h-3zM1700 314h3v1h-3zM1706 314h3v1h-3zM1712 314h3v1h-3zM1718 314h3v1h-3zM1724 314h3v1h-3zM1730 314h3v1h-3zM1736 314h3v1h-3zM1742 314h3v1h-3zM1748 314h3v1h-3zM1754 314h3v1h-3zM1760 314h3v1h-3zM1766 314h3v1h-3zM1772 314h3v1h-3zM1778 314h3v1h-3zM1784 314h3v1h-3zM1790 314h3v1h-3zM1796 314h3v1h-3zM1802 314h3v1h-3zM1808 314h3v1h-3zM1814 314h3v1h-3zM1820 314h3v1h-3zM1826 314h3v1h-3zM1832 314h3v1h-3zM1838 314h3v1h-3zM1844 314h3v1h-3zM1850 314h3v1h-3zM2 354h3v1h-3zM8 354h3v1h-3zM14 354h3v1h-3zM20 354h3v1h-3zM26 354h3v1h-3zM32 354h3v1h-3zM38 354h3v1h-3zM44 354h3v1h-3zM50 354h3v1h-3zM56 354h3v1h-3zM62 354h3v1h-3zM68 354h3v1h-3zM74 354h3v1h-3zM80 354h3v1h-3zM86 354h3v1h-3zM92 354h3v1h-3zM98 354h3v1h-3zM104 354h3v1h-3zM110 354h3v1h-3zM116 354h3v1h-3zM122 354h3v1h-3zM128 354h3v1h-3zM134 354h3v1h-3zM140 354h3v1h-3zM146 354h3v1h-3zM152 354h3v1h-3zM158 354h3v1h-3zM164 354h3v1h-3zM170 354h3v1h-3zM176 354h3v1h-3zM182 354h3v1h-3zM188 354h3v1h-3zM194 354h3v1h-3zM200 354h3v1h-3zM206 354h3v1h-3zM212 354h3v1h-3zM218 354h3v1h-3zM224 354h3v1h-3zM230 354h3v1h-3zM236 354h3v1h-3zM242 354h3v1h-3zM248 354h3v1h-3zM254 354h3v1h-3zM260 354h3v1h-3zM266 354h3v1h-3zM272 354h3v1h-3zM278 354h3v1h-3zM284 354h3v1h-3zM290 354h3v1h-3zM296 354h3v1h-3zM302 354h3v1h-3zM308 354h3v1h-3zM314 354h3v1h-3zM320 354h3v1h-3zM326 354h3v1h-3zM332 354h3v1h-3zM338 354h3v1h-3zM344 354h3v1h-3zM350 354h3v1h-3zM356 354h3v1h-3zM362 354h3v1h-3zM368 354h3v1h-3zM374 354h3v1h-3zM380 354h3v1h-3zM386 354h3v1h-3zM392 354h3v1h-3zM398 354h3v1h-3zM404 354h3v1h-3zM410 354h3v1h-3zM416 354h3v1h-3zM422 354h3v1h-3zM428 354h3v1h-3zM434 354h3v1h-3zM440 354h3v1h-3zM446 354h3v1h-3zM452 354h3v1h-3zM458 354h3v1h-3zM464 354h3v1h-3zM470 354h3v1h-3zM476 354h3v1h-3zM482 354h3v1h-3zM488 354h3v1h-3zM494 354h3v1h-3zM500 354h3v1h-3zM506 354h3v1h-3zM512 354h3v1h-3zM518 354h3v1h-3zM524 354h3v1h-3zM530 354h3v1h-3zM536 354h3v1h-3zM542 354h3v1h-3zM548 354h3v1h-3zM554 354h3v1h-3zM560 354h3v1h-3zM566 354h3v1h-3zM572 354h3v1h-3zM578 354h3v1h-3zM584 354h3v1h-3zM590 354h3v1h-3zM596 354h3v1h-3zM602 354h3v1h-3zM608 354h3v1h-3zM614 354h3v1h-3zM620 354h3v1h-3zM626 354h3v1h-3zM632 354h3v1h-3zM638 354h3v1h-3zM644 354h3v1h-3zM650 354h3v1h-3zM656 354h3v1h-3zM662 354h3v1h-3zM668 354h3v1h-3zM674 354h3v1h-3zM680 354h3v1h-3zM686 354h3v1h-3zM692 354h3v1h-3zM698 354h3v1h-3zM704 354h3v1h-3zM710 354h3v1h-3zM716 354h3v1h-3zM722 354h3v1h-3zM728 354h3v1h-3zM734 354h3v1h-3zM740 354h3v1h-3zM746 354h3v1h-3zM752 354h3v1h-3zM758 354h3v1h-3zM764 354h3v1h-3zM770 354h3v1h-3zM776 354h3v1h-3zM782 354h3v1h-3zM788 354h3v1h-3zM794 354h3v1h-3zM800 354h3v1h-3zM806 354h3v1h-3zM812 354h3v1h-3zM818 354h3v1h-3zM824 354h3v1h-3zM830 354h3v1h-3zM836 354h3v1h-3zM842 354h3v1h-3zM848 354h3v1h-3zM854 354h3v1h-3zM860 354h3v1h-3zM866 354h3v1h-3zM872 354h3v1h-3zM878 354h3v1h-3zM884 354h3v1h-3zM890 354h3v1h-3zM896 354h3v1h-3zM902 354h3v1h-3zM908 354h3v1h-3zM914 354h3v1h-3zM920 354h3v1h-3zM926 354h3v1h-3zM932 354h3v1h-3zM938 354h3v1h-3zM944 354h3v1h-3zM950 354h3v1h-3zM956 354h3v1h-3zM962 354h3v1h-3zM968 354h3v1h-3zM974 354h3v1h-3zM980 354h3v1h-3zM986 354h3v1h-3zM992 354h3v1h-3zM998 354h3v1h-3zM1004 354h3v1h-3zM1010 354h3v1h-3zM1016 354h3v1h-3zM1022 354h3v1h-3zM1028 354h3v1h-3zM1034 354h3v1h-3zM1040 354h3v1h-3zM1046 354h3v1h-3zM1052 354h3v1h-3zM1058 354h3v1h-3zM1064 354h3v1h-3zM1070 354h3v1h-3zM1076 354h3v1h-3zM1082 354h3v1h-3zM1088 354h3v1h-3zM1094 354h3v1h-3zM1100 354h3v1h-3zM1106 354h3v1h-3zM1112 354h3v1h-3zM1118 354h3v1h-3zM1124 354h3v1h-3zM1130 354h3v1h-3zM1136 354h3v1h-3zM1142 354h3v1h-3zM1148 354h3v1h-3zM1154 354h3v1h-3zM1160 354h3v1h-3zM1166 354h3v1h-3zM1172 354h3v1h-3zM1178 354h3v1h-3zM1184 354h3v1h-3zM1190 354h3v1h-3zM1196 354h3v1h-3zM1202 354h3v1h-3zM1208 354h3v1h-3zM1214 354h3v1h-3zM1220 354h3v1h-3zM1226 354h3v1h-3zM1232 354h3v1h-3zM1238 354h3v1h-3zM1244 354h3v1h-3zM1250 354h3v1h-3zM1256 354h3v1h-3zM1262 354h3v1h-3zM1268 354h3v1h-3zM1274 354h3v1h-3zM1280 354h3v1h-3zM1286 354h3v1h-3zM1292 354h3v1h-3zM1298 354h3v1h-3zM1304 354h3v1h-3zM1310 354h3v1h-3zM1316 354h3v1h-3zM1322 354h3v1h-3zM1328 354h3v1h-3zM1334 354h3v1h-3zM1340 354h3v1h-3zM1346 354h3v1h-3zM1352 354h3v1h-3zM1358 354h3v1h-3zM1364 354h3v1h-3zM1370 354h3v1h-3zM1376 354h3v1h-3zM1382 354h3v1h-3zM1388 354h3v1h-3zM1394 354h3v1h-3zM1400 354h3v1h-3zM1406 354h3v1h-3zM1412 354h3v1h-3zM1418 354h3v1h-3zM1424 354h3v1h-3zM1430 354h3v1h-3zM1436 354h3v1h-3zM1442 354h3v1h-3zM1448 354h3v1h-3zM1454 354h3v1h-3zM1460 354h3v1h-3zM1466 354h3v1h-3zM1472 354h3v1h-3zM1478 354h3v1h-3zM1484 354h3v1h-3zM1490 354h3v1h-3zM1496 354h3v1h-3zM1502 354h3v1h-3zM1508 354h3v1h-3zM1514 354h3v1h-3zM1520 354h3v1h-3zM1526 354h3v1h-3zM1532 354h3v1h-3zM1538 354h3v1h-3zM1544 354h3v1h-3zM1550 354h3v1h-3zM1556 354h3v1h-3zM1562 354h3v1h-3zM1568 354h3v1h-3zM1574 354h3v1h-3zM1580 354h3v1h-3zM1586 354h3v1h-3zM1592 354h3v1h-3zM1598 354h3v1h-3zM1604 354h3v1h-3zM1610 354h3v1h-3zM1616 354h3v1h-3zM1622 354h3v1h-3zM1628 354h3v1h-3zM1634 354h3v1h-3zM1640 354h3v1h-3zM1646 354h3v1h-3zM1652 354h3v1h-3zM1658 354h3v1h-3zM1664 354h3v1h-3zM1670 354h3v1h-3zM1676 354h3v1h-3zM1682 354h3v1h-3zM1688 354h3v1h-3zM1694 354h3v1h-3zM1700 354h3v1h-3zM1706 354h3v1h-3zM1712 354h3v1h-3zM1718 354h3v1h-3zM1724 354h3v1h-3zM1730 354h3v1h-3zM1736 354h3v1h-3zM1742 354h3v1h-3zM1748 354h3v1h-3zM1754 354h3v1h-3zM1760 354h3v1h-3zM1766 354h3v1h-3zM1772 354h3v1h-3zM1778 354h3v1h-3zM1784 354h3v1h-3zM1790 354h3v1h-3zM1796 354h3v1h-3zM1802 354h3v1h-3zM1808 354h3v1h-3zM1814 354h3v1h-3zM1820 354h3v1h-3zM1826 354h3v1h-3zM1832 354h3v1h-3zM1838 354h3v1h-3zM1844 354h3v1h-3zM1850 354h3v1h-3zM2 394h3v1h-3zM8 394h3v1h-3zM14 394h3v1h-3zM20 394h3v1h-3zM26 394h3v1h-3zM32 394h3v1h-3zM38 394h3v1h-3zM44 394h3v1h-3zM50 394h3v1h-3zM56 394h3v1h-3zM62 394h3v1h-3zM68 394h3v1h-3zM74 394h3v1h-3zM80 394h3v1h-3zM86 394h3v1h-3zM92 394h3v1h-3zM98 394h3v1h-3zM104 394h3v1h-3zM110 394h3v1h-3zM116 394h3v1h-3zM122 394h3v1h-3zM128 394h3v1h-3zM134 394h3v1h-3zM140 394h3v1h-3zM146 394h3v1h-3zM152 394h3v1h-3zM158 394h3v1h-3zM164 394h3v1h-3zM170 394h3v1h-3zM176 394h3v1h-3zM182 394h3v1h-3zM188 394h3v1h-3zM194 394h3v1h-3zM200 394h3v1h-3zM206 394h3v1h-3zM212 394h3v1h-3zM218 394h3v1h-3zM224 394h3v1h-3zM230 394h3v1h-3zM236 394h3v1h-3zM242 394h3v1h-3zM248 394h3v1h-3zM254 394h3v1h-3zM260 394h3v1h-3zM266 394h3v1h-3zM272 394h3v1h-3zM278 394h3v1h-3zM284 394h3v1h-3zM290 394h3v1h-3zM296 394h3v1h-3zM302 394h3v1h-3zM308 394h3v1h-3zM314 394h3v1h-3zM320 394h3v1h-3zM326 394h3v1h-3zM332 394h3v1h-3zM338 394h3v1h-3zM344 394h3v1h-3zM350 394h3v1h-3zM356 394h3v1h-3zM362 394h3v1h-3zM368 394h3v1h-3zM374 394h3v1h-3zM380 394h3v1h-3zM386 394h3v1h-3zM392 394h3v1h-3zM398 394h3v1h-3zM404 394h3v1h-3zM410 394h3v1h-3zM416 394h3v1h-3zM422 394h3v1h-3zM428 394h3v1h-3zM434 394h3v1h-3zM440 394h3v1h-3zM446 394h3v1h-3zM452 394h3v1h-3zM458 394h3v1h-3zM464 394h3v1h-3zM470 394h3v1h-3zM476 394h3v1h-3zM482 394h3v1h-3zM488 394h3v1h-3zM494 394h3v1h-3zM500 394h3v1h-3zM506 394h3v1h-3zM512 394h3v1h-3zM518 394h3v1h-3zM524 394h3v1h-3zM530 394h3v1h-3zM536 394h3v1h-3zM542 394h3v1h-3zM548 394h3v1h-3zM554 394h3v1h-3zM560 394h3v1h-3zM566 394h3v1h-3zM572 394h3v1h-3zM578 394h3v1h-3zM584 394h3v1h-3zM590 394h3v1h-3zM596 394h3v1h-3zM602 394h3v1h-3zM608 394h3v1h-3zM614 394h3v1h-3zM620 394h3v1h-3zM626 394h3v1h-3zM632 394h3v1h-3zM638 394h3v1h-3zM644 394h3v1h-3zM650 394h3v1h-3zM656 394h3v1h-3zM662 394h3v1h-3zM668 394h3v1h-3zM674 394h3v1h-3zM680 394h3v1h-3zM686 394h3v1h-3zM692 394h3v1h-3zM698 394h3v1h-3zM704 394h3v1h-3zM710 394h3v1h-3zM716 394h3v1h-3zM722 394h3v1h-3zM728 394h3v1h-3zM734 394h3v1h-3zM740 394h3v1h-3zM746 394h3v1h-3zM752 394h3v1h-3zM758 394h3v1h-3zM764 394h3v1h-3zM770 394h3v1h-3zM776 394h3v1h-3zM782 394h3v1h-3zM788 394h3v1h-3zM794 394h3v1h-3zM800 394h3v1h-3zM806 394h3v1h-3zM812 394h3v1h-3zM818 394h3v1h-3zM824 394h3v1h-3zM830 394h3v1h-3zM836 394h3v1h-3zM842 394h3v1h-3zM848 394h3v1h-3zM854 394h3v1h-3zM860 394h3v1h-3zM866 394h3v1h-3zM872 394h3v1h-3zM878 394h3v1h-3zM884 394h3v1h-3zM890 394h3v1h-3zM896 394h3v1h-3zM902 394h3v1h-3zM908 394h3v1h-3zM914 394h3v1h-3zM920 394h3v1h-3zM926 394h3v1h-3zM932 394h3v1h-3zM938 394h3v1h-3zM944 394h3v1h-3zM950 394h3v1h-3zM956 394h3v1h-3zM962 394h3v1h-3zM968 394h3v1h-3zM974 394h3v1h-3zM980 394h3v1h-3zM986 394h3v1h-3zM992 394h3v1h-3zM998 394h3v1h-3zM1004 394h3v1h-3zM1010 394h3v1h-3zM1016 394h3v1h-3zM1022 394h3v1h-3zM1028 394h3v1h-3zM1034 394h3v1h-3zM1040 394h3v1h-3zM1046 394h3v1h-3zM1052 394h3v1h-3zM1058 394h3v1h-3zM1064 394h3v1h-3zM1070 394h3v1h-3zM1076 394h3v1h-3zM1082 394h3v1h-3zM1088 394h3v1h-3zM1094 394h3v1h-3zM1100 394h3v1h-3zM1106 394h3v1h-3zM1112 394h3v1h-3zM1118 394h3v1h-3zM1124 394h3v1h-3zM1130 394h3v1h-3zM1136 394h3v1h-3zM1142 394h3v1h-3zM1148 394h3v1h-3zM1154 394h3v1h-3zM1160 394h3v1h-3zM1166 394h3v1h-3zM1172 394h3v1h-3zM1178 394h3v1h-3zM1184 394h3v1h-3zM1190 394h3v1h-3zM1196 394h3v1h-3zM1202 394h3v1h-3zM1208 394h3v1h-3zM1214 394h3v1h-3zM1220 394h3v1h-3zM1226 394h3v1h-3zM1232 394h3v1h-3zM1238 394h3v1h-3zM1244 394h3v1h-3zM1250 394h3v1h-3zM1256 394h3v1h-3zM1262 394h3v1h-3zM1268 394h3v1h-3zM1274 394h3v1h-3zM1280 394h3v1h-3zM1286 394h3v1h-3zM1292 394h3v1h-3zM1298 394h3v1h-3zM1304 394h3v1h-3zM1310 394h3v1h-3zM1316 394h3v1h-3zM1322 394h3v1h-3zM1328 394h3v1h-3zM1334 394h3v1h-3zM1340 394h3v1h-3zM1346 394h3v1h-3zM1352 394h3v1h-3zM1358 394h3v1h-3zM1364 394h3v1h-3zM1370 394h3v1h-3zM1376 394h3v1h-3zM1382 394h3v1h-3zM1388 394h3v1h-3zM1394 394h3v1h-3zM1400 394h3v1h-3zM1406 394h3v1h-3zM1412 394h3v1h-3zM1418 394h3v1h-3zM1424 394h3v1h-3zM1430 394h3v1h-3zM1436 394h3v1h-3zM1442 394h3v1h-3zM1448 394h3v1h-3zM1454 394h3v1h-3zM1460 394h3v1h-3zM1466 394h3v1h-3zM1472 394h3v1h-3zM1478 394h3v1h-3zM1484 394h3v1h-3zM1490 394h3v1h-3zM1496 394h3v1h-3zM1502 394h3v1h-3zM1508 394h3v1h-3zM1514 394h3v1h-3zM1520 394h3v1h-3zM1526 394h3v1h-3zM1532 394h3v1h-3zM1538 394h3v1h-3zM1544 394h3v1h-3zM1550 394h3v1h-3zM1556 394h3v1h-3zM1562 394h3v1h-3zM1568 394h3v1h-3zM1574 394h3v1h-3zM1580 394h3v1h-3zM1586 394h3v1h-3zM1592 394h3v1h-3zM1598 394h3v1h-3zM1604 394h3v1h-3zM1610 394h3v1h-3zM1616 394h3v1h-3zM1622 394h3v1h-3zM1628 394h3v1h-3zM1634 394h3v1h-3zM1640 394h3v1h-3zM1646 394h3v1h-3zM1652 394h3v1h-3zM1658 394h3v1h-3zM1664 394h3v1h-3zM1670 394h3v1h-3zM1676 394h3v1h-3zM1682 394h3v1h-3zM1688 394h3v1h-3zM1694 394h3v1h-3zM1700 394h3v1h-3zM1706 394h3v1h-3zM1712 394h3v1h-3zM1718 394h3v1h-3zM1724 394h3v1h-3zM1730 394h3v1h-3zM1736 394h3v1h-3zM1742 394h3v1h-3zM1748 394h3v1h-3zM1754 394h3v1h-3zM1760 394h3v1h-3zM1766 394h3v1h-3zM1772 394h3v1h-3zM1778 394h3v1h-3zM1784 394h3v1h-3zM1790 394h3v1h-3zM1796 394h3v1h-3zM1802 394h3v1h-3zM1808 394h3v1h-3zM1814 394h3v1h-3zM1820 394h3v1h-3zM1826 394h3v1h-3zM1832 394h3v1h-3zM1838 394h3v1h-3zM1844 394h3v1h-3zM1850 394h3v1h-3zM2 434h3v1h-3zM8 434h3v1h-3zM14 434h3v1h-3zM20 434h3v1h-3zM26 434h3v1h-3zM32 434h3v1h-3zM38 434h3v1h-3zM44 434h3v1h-3zM50 434h3v1h-3zM56 434h3v1h-3zM62 434h3v1h-3zM68 434h3v1h-3zM74 434h3v1h-3zM80 434h3v1h-3zM86 434h3v1h-3zM92 434h3v1h-3zM98 434h3v1h-3zM104 434h3v1h-3zM110 434h3v1h-3zM116 434h3v1h-3zM122 434h3v1h-3zM128 434h3v1h-3zM134 434h3v1h-3zM140 434h3v1h-3zM146 434h3v1h-3zM152 434h3v1h-3zM158 434h3v1h-3zM164 434h3v1h-3zM170 434h3v1h-3zM176 434h3v1h-3zM182 434h3v1h-3zM188 434h3v1h-3zM194 434h3v1h-3zM200 434h3v1h-3zM206 434h3v1h-3zM212 434h3v1h-3zM218 434h3v1h-3zM224 434h3v1h-3zM230 434h3v1h-3zM236 434h3v1h-3zM242 434h3v1h-3zM248 434h3v1h-3zM254 434h3v1h-3zM260 434h3v1h-3zM266 434h3v1h-3zM272 434h3v1h-3zM278 434h3v1h-3zM284 434h3v1h-3zM290 434h3v1h-3zM296 434h3v1h-3zM302 434h3v1h-3zM308 434h3v1h-3zM314 434h3v1h-3zM320 434h3v1h-3zM326 434h3v1h-3zM332 434h3v1h-3zM338 434h3v1h-3zM344 434h3v1h-3zM350 434h3v1h-3zM356 434h3v1h-3zM362 434h3v1h-3zM368 434h3v1h-3zM374 434h3v1h-3zM380 434h3v1h-3zM386 434h3v1h-3zM392 434h3v1h-3zM398 434h3v1h-3zM404 434h3v1h-3zM410 434h3v1h-3zM416 434h3v1h-3zM422 434h3v1h-3zM428 434h3v1h-3zM434 434h3v1h-3zM440 434h3v1h-3zM446 434h3v1h-3zM452 434h3v1h-3zM458 434h3v1h-3zM464 434h3v1h-3zM470 434h3v1h-3zM476 434h3v1h-3zM482 434h3v1h-3zM488 434h3v1h-3zM494 434h3v1h-3zM500 434h3v1h-3zM506 434h3v1h-3zM512 434h3v1h-3zM518 434h3v1h-3zM524 434h3v1h-3zM530 434h3v1h-3zM536 434h3v1h-3zM542 434h3v1h-3zM548 434h3v1h-3zM554 434h3v1h-3zM560 434h3v1h-3zM566 434h3v1h-3zM572 434h3v1h-3zM578 434h3v1h-3zM584 434h3v1h-3zM590 434h3v1h-3zM596 434h3v1h-3zM602 434h3v1h-3zM608 434h3v1h-3zM614 434h3v1h-3zM620 434h3v1h-3zM626 434h3v1h-3zM632 434h3v1h-3zM638 434h3v1h-3zM644 434h3v1h-3zM650 434h3v1h-3zM656 434h3v1h-3zM662 434h3v1h-3zM668 434h3v1h-3zM674 434h3v1h-3zM680 434h3v1h-3zM686 434h3v1h-3zM692 434h3v1h-3zM698 434h3v1h-3zM704 434h3v1h-3zM710 434h3v1h-3zM716 434h3v1h-3zM722 434h3v1h-3zM728 434h3v1h-3zM734 434h3v1h-3zM740 434h3v1h-3zM746 434h3v1h-3zM752 434h3v1h-3zM758 434h3v1h-3zM764 434h3v1h-3zM770 434h3v1h-3zM776 434h3v1h-3zM782 434h3v1h-3zM788 434h3v1h-3zM794 434h3v1h-3zM800 434h3v1h-3zM806 434h3v1h-3zM812 434h3v1h-3zM818 434h3v1h-3zM824 434h3v1h-3zM830 434h3v1h-3zM836 434h3v1h-3zM842 434h3v1h-3zM848 434h3v1h-3zM854 434h3v1h-3zM860 434h3v1h-3zM866 434h3v1h-3zM872 434h3v1h-3zM878 434h3v1h-3zM884 434h3v1h-3zM890 434h3v1h-3zM896 434h3v1h-3zM902 434h3v1h-3zM908 434h3v1h-3zM914 434h3v1h-3zM920 434h3v1h-3zM926 434h3v1h-3zM932 434h3v1h-3zM938 434h3v1h-3zM944 434h3v1h-3zM950 434h3v1h-3zM956 434h3v1h-3zM962 434h3v1h-3zM968 434h3v1h-3zM974 434h3v1h-3zM980 434h3v1h-3zM986 434h3v1h-3zM992 434h3v1h-3zM998 434h3v1h-3zM1004 434h3v1h-3zM1010 434h3v1h-3zM1016 434h3v1h-3zM1022 434h3v1h-3zM1028 434h3v1h-3zM1034 434h3v1h-3zM1040 434h3v1h-3zM1046 434h3v1h-3zM1052 434h3v1h-3zM1058 434h3v1h-3zM1064 434h3v1h-3zM1070 434h3v1h-3zM1076 434h3v1h-3zM1082 434h3v1h-3zM1088 434h3v1h-3zM1094 434h3v1h-3zM1100 434h3v1h-3zM1106 434h3v1h-3zM1112 434h3v1h-3zM1118 434h3v1h-3zM1124 434h3v1h-3zM1130 434h3v1h-3zM1136 434h3v1h-3zM1142 434h3v1h-3zM1148 434h3v1h-3zM1154 434h3v1h-3zM1160 434h3v1h-3zM1166 434h3v1h-3zM1172 434h3v1h-3zM1178 434h3v1h-3zM1184 434h3v1h-3zM1190 434h3v1h-3zM1196 434h3v1h-3zM1202 434h3v1h-3zM1208 434h3v1h-3zM1214 434h3v1h-3zM1220 434h3v1h-3zM1226 434h3v1h-3zM1232 434h3v1h-3zM1238 434h3v1h-3zM1244 434h3v1h-3zM1250 434h3v1h-3zM1256 434h3v1h-3zM1262 434h3v1h-3zM1268 434h3v1h-3zM1274 434h3v1h-3zM1280 434h3v1h-3zM1286 434h3v1h-3zM1292 434h3v1h-3zM1298 434h3v1h-3zM1304 434h3v1h-3zM1310 434h3v1h-3zM1316 434h3v1h-3zM1322 434h3v1h-3zM1328 434h3v1h-3zM1334 434h3v1h-3zM1340 434h3v1h-3zM1346 434h3v1h-3zM1352 434h3v1h-3zM1358 434h3v1h-3zM1364 434h3v1h-3zM1370 434h3v1h-3zM1376 434h3v1h-3zM1382 434h3v1h-3zM1388 434h3v1h-3zM1394 434h3v1h-3zM1400 434h3v1h-3zM1406 434h3v1h-3zM1412 434h3v1h-3zM1418 434h3v1h-3zM1424 434h3v1h-3zM1430 434h3v1h-3zM1436 434h3v1h-3zM1442 434h3v1h-3zM1448 434h3v1h-3zM1454 434h3v1h-3zM1460 434h3v1h-3zM1466 434h3v1h-3zM1472 434h3v1h-3zM1478 434h3v1h-3zM1484 434h3v1h-3zM1490 434h3v1h-3zM1496 434h3v1h-3zM1502 434h3v1h-3zM1508 434h3v1h-3zM1514 434h3v1h-3zM1520 434h3v1h-3zM1526 434h3v1h-3zM1532 434h3v1h-3zM1538 434h3v1h-3zM1544 434h3v1h-3zM1550 434h3v1h-3zM1556 434h3v1h-3zM1562 434h3v1h-3zM1568 434h3v1h-3zM1574 434h3v1h-3zM1580 434h3v1h-3zM1586 434h3v1h-3zM1592 434h3v1h-3zM1598 434h3v1h-3zM1604 434h3v1h-3zM1610 434h3v1h-3zM1616 434h3v1h-3zM1622 434h3v1h-3zM1628 434h3v1h-3zM1634 434h3v1h-3zM1640 434h3v1h-3zM1646 434h3v1h-3zM1652 434h3v1h-3zM1658 434h3v1h-3zM1664 434h3v1h-3zM1670 434h3v1h-3zM1676 434h3v1h-3zM1682 434h3v1h-3zM1688 434h3v1h-3zM1694 434h3v1h-3zM1700 434h3v1h-3zM1706 434h3v1h-3zM1712 434h3v1h-3zM1718 434h3v1h-3zM1724 434h3v1h-3zM1730 434h3v1h-3zM1736 434h3v1h-3zM1742 434h3v1h-3zM1748 434h3v1h-3zM1754 434h3v1h-3zM1760 434h3v1h-3zM1766 434h3v1h-3zM1772 434h3v1h-3zM1778 434h3v1h-3zM1784 434h3v1h-3zM1790 434h3v1h-3zM1796 434h3v1h-3zM1802 434h3v1h-3zM1808 434h3v1h-3zM1814 434h3v1h-3zM1820 434h3v1h-3zM1826 434h3v1h-3zM1832 434h3v1h-3zM1838 434h3v1h-3zM1844 434h3v1h-3zM1850 434h3v1h-3zM2 474h3v1h-3zM8 474h3v1h-3zM14 474h3v1h-3zM20 474h3v1h-3zM26 474h3v1h-3zM32 474h3v1h-3zM38 474h3v1h-3zM44 474h3v1h-3zM50 474h3v1h-3zM56 474h3v1h-3zM62 474h3v1h-3zM68 474h3v1h-3zM74 474h3v1h-3zM80 474h3v1h-3zM86 474h3v1h-3zM92 474h3v1h-3zM98 474h3v1h-3zM104 474h3v1h-3zM110 474h3v1h-3zM116 474h3v1h-3zM122 474h3v1h-3zM128 474h3v1h-3zM134 474h3v1h-3zM140 474h3v1h-3zM146 474h3v1h-3zM152 474h3v1h-3zM158 474h3v1h-3zM164 474h3v1h-3zM170 474h3v1h-3zM176 474h3v1h-3zM182 474h3v1h-3zM188 474h3v1h-3zM194 474h3v1h-3zM200 474h3v1h-3zM206 474h3v1h-3zM212 474h3v1h-3zM218 474h3v1h-3zM224 474h3v1h-3zM230 474h3v1h-3zM236 474h3v1h-3zM242 474h3v1h-3zM248 474h3v1h-3zM254 474h3v1h-3zM260 474h3v1h-3zM266 474h3v1h-3zM272 474h3v1h-3zM278 474h3v1h-3zM284 474h3v1h-3zM290 474h3v1h-3zM296 474h3v1h-3zM302 474h3v1h-3zM308 474h3v1h-3zM314 474h3v1h-3zM320 474h3v1h-3zM326 474h3v1h-3zM332 474h3v1h-3zM338 474h3v1h-3zM344 474h3v1h-3zM350 474h3v1h-3zM356 474h3v1h-3zM362 474h3v1h-3zM368 474h3v1h-3zM374 474h3v1h-3zM380 474h3v1h-3zM386 474h3v1h-3zM392 474h3v1h-3zM398 474h3v1h-3zM404 474h3v1h-3zM410 474h3v1h-3zM416 474h3v1h-3zM422 474h3v1h-3zM428 474h3v1h-3zM434 474h3v1h-3zM440 474h3v1h-3zM446 474h3v1h-3zM452 474h3v1h-3zM458 474h3v1h-3zM464 474h3v1h-3zM470 474h3v1h-3zM476 474h3v1h-3zM482 474h3v1h-3zM488 474h3v1h-3zM494 474h3v1h-3zM500 474h3v1h-3zM506 474h3v1h-3zM512 474h3v1h-3zM518 474h3v1h-3zM524 474h3v1h-3zM530 474h3v1h-3zM536 474h3v1h-3zM542 474h3v1h-3zM548 474h3v1h-3zM554 474h3v1h-3zM560 474h3v1h-3zM566 474h3v1h-3zM572 474h3v1h-3zM578 474h3v1h-3zM584 474h3v1h-3zM590 474h3v1h-3zM596 474h3v1h-3zM602 474h3v1h-3zM608 474h3v1h-3zM614 474h3v1h-3zM620 474h3v1h-3zM626 474h3v1h-3zM632 474h3v1h-3zM638 474h3v1h-3zM644 474h3v1h-3zM650 474h3v1h-3zM656 474h3v1h-3zM662 474h3v1h-3zM668 474h3v1h-3zM674 474h3v1h-3zM680 474h3v1h-3zM686 474h3v1h-3zM692 474h3v1h-3zM698 474h3v1h-3zM704 474h3v1h-3zM710 474h3v1h-3zM716 474h3v1h-3zM722 474h3v1h-3zM728 474h3v1h-3zM734 474h3v1h-3zM740 474h3v1h-3zM746 474h3v1h-3zM752 474h3v1h-3zM758 474h3v1h-3zM764 474h3v1h-3zM770 474h3v1h-3zM776 474h3v1h-3zM782 474h3v1h-3zM788 474h3v1h-3zM794 474h3v1h-3zM800 474h3v1h-3zM806 474h3v1h-3zM812 474h3v1h-3zM818 474h3v1h-3zM824 474h3v1h-3zM830 474h3v1h-3zM836 474h3v1h-3zM842 474h3v1h-3zM848 474h3v1h-3zM854 474h3v1h-3zM860 474h3v1h-3zM866 474h3v1h-3zM872 474h3v1h-3zM878 474h3v1h-3zM884 474h3v1h-3zM890 474h3v1h-3zM896 474h3v1h-3zM902 474h3v1h-3zM908 474h3v1h-3zM914 474h3v1h-3zM920 474h3v1h-3zM926 474h3v1h-3zM932 474h3v1h-3zM938 474h3v1h-3zM944 474h3v1h-3zM950 474h3v1h-3zM956 474h3v1h-3zM962 474h3v1h-3zM968 474h3v1h-3zM974 474h3v1h-3zM980 474h3v1h-3zM986 474h3v1h-3zM992 474h3v1h-3zM998 474h3v1h-3zM1004 474h3v1h-3zM1010 474h3v1h-3zM1016 474h3v1h-3zM1022 474h3v1h-3zM1028 474h3v1h-3zM1034 474h3v1h-3zM1040 474h3v1h-3zM1046 474h3v1h-3zM1052 474h3v1h-3zM1058 474h3v1h-3zM1064 474h3v1h-3zM1070 474h3v1h-3zM1076 474h3v1h-3zM1082 474h3v1h-3zM1088 474h3v1h-3zM1094 474h3v1h-3zM1100 474h3v1h-3zM1106 474h3v1h-3zM1112 474h3v1h-3zM1118 474h3v1h-3zM1124 474h3v1h-3zM1130 474h3v1h-3zM1136 474h3v1h-3zM1142 474h3v1h-3zM1148 474h3v1h-3zM1154 474h3v1h-3zM1160 474h3v1h-3zM1166 474h3v1h-3zM1172 474h3v1h-3zM1178 474h3v1h-3zM1184 474h3v1h-3zM1190 474h3v1h-3zM1196 474h3v1h-3zM1202 474h3v1h-3zM1208 474h3v1h-3zM1214 474h3v1h-3zM1220 474h3v1h-3zM1226 474h3v1h-3zM1232 474h3v1h-3zM1238 474h3v1h-3zM1244 474h3v1h-3zM1250 474h3v1h-3zM1256 474h3v1h-3zM1262 474h3v1h-3zM1268 474h3v1h-3zM1274 474h3v1h-3zM1280 474h3v1h-3zM1286 474h3v1h-3zM1292 474h3v1h-3zM1298 474h3v1h-3zM1304 474h3v1h-3zM1310 474h3v1h-3zM1316 474h3v1h-3zM1322 474h3v1h-3zM1328 474h3v1h-3zM1334 474h3v1h-3zM1340 474h3v1h-3zM1346 474h3v1h-3zM1352 474h3v1h-3zM1358 474h3v1h-3zM1364 474h3v1h-3zM1370 474h3v1h-3zM1376 474h3v1h-3zM1382 474h3v1h-3zM1388 474h3v1h-3zM1394 474h3v1h-3zM1400 474h3v1h-3zM1406 474h3v1h-3zM1412 474h3v1h-3zM1418 474h3v1h-3zM1424 474h3v1h-3zM1430 474h3v1h-3zM1436 474h3v1h-3zM1442 474h3v1h-3zM1448 474h3v1h-3zM1454 474h3v1h-3zM1460 474h3v1h-3zM1466 474h3v1h-3zM1472 474h3v1h-3zM1478 474h3v1h-3zM1484 474h3v1h-3zM1490 474h3v1h-3zM1496 474h3v1h-3zM1502 474h3v1h-3zM1508 474h3v1h-3zM1514 474h3v1h-3zM1520 474h3v1h-3zM1526 474h3v1h-3zM1532 474h3v1h-3zM1538 474h3v1h-3zM1544 474h3v1h-3zM1550 474h3v1h-3zM1556 474h3v1h-3zM1562 474h3v1h-3zM1568 474h3v1h-3zM1574 474h3v1h-3zM1580 474h3v1h-3zM1586 474h3v1h-3zM1592 474h3v1h-3zM1598 474h3v1h-3zM1604 474h3v1h-3zM1610 474h3v1h-3zM1616 474h3v1h-3zM1622 474h3v1h-3zM1628 474h3v1h-3zM1634 474h3v1h-3zM1640 474h3v1h-3zM1646 474h3v1h-3zM1652 474h3v1h-3zM1658 474h3v1h-3zM1664 474h3v1h-3zM1670 474h3v1h-3zM1676 474h3v1h-3zM1682 474h3v1h-3zM1688 474h3v1h-3zM1694 474h3v1h-3zM1700 474h3v1h-3zM1706 474h3v1h-3zM1712 474h3v1h-3zM1718 474h3v1h-3zM1724 474h3v1h-3zM1730 474h3v1h-3zM1736 474h3v1h-3zM1742 474h3v1h-3zM1748 474h3v1h-3zM1754 474h3v1h-3zM1760 474h3v1h-3zM1766 474h3v1h-3zM1772 474h3v1h-3zM1778 474h3v1h-3zM1784 474h3v1h-3zM1790 474h3v1h-3zM1796 474h3v1h-3zM1802 474h3v1h-3zM1808 474h3v1h-3zM1814 474h3v1h-3zM1820 474h3v1h-3zM1826 474h3v1h-3zM1832 474h3v1h-3zM1838 474h3v1h-3zM1844 474h3v1h-3zM1850 474h3v1h-3zM2 514h3v1h-3zM8 514h3v1h-3zM14 514h3v1h-3zM20 514h3v1h-3zM26 514h3v1h-3zM32 514h3v1h-3zM38 514h3v1h-3zM44 514h3v1h-3zM50 514h3v1h-3zM56 514h3v1h-3zM62 514h3v1h-3zM68 514h3v1h-3zM74 514h3v1h-3zM80 514h3v1h-3zM86 514h3v1h-3zM92 514h3v1h-3zM98 514h3v1h-3zM104 514h3v1h-3zM110 514h3v1h-3zM116 514h3v1h-3zM122 514h3v1h-3zM128 514h3v1h-3zM134 514h3v1h-3zM140 514h3v1h-3zM146 514h3v1h-3zM152 514h3v1h-3zM158 514h3v1h-3zM164 514h3v1h-3zM170 514h3v1h-3zM176 514h3v1h-3zM182 514h3v1h-3zM188 514h3v1h-3zM194 514h3v1h-3zM200 514h3v1h-3zM206 514h3v1h-3zM212 514h3v1h-3zM218 514h3v1h-3zM224 514h3v1h-3zM230 514h3v1h-3zM236 514h3v1h-3zM242 514h3v1h-3zM248 514h3v1h-3zM254 514h3v1h-3zM260 514h3v1h-3zM266 514h3v1h-3zM272 514h3v1h-3zM278 514h3v1h-3zM284 514h3v1h-3zM290 514h3v1h-3zM296 514h3v1h-3zM302 514h3v1h-3zM308 514h3v1h-3zM314 514h3v1h-3zM320 514h3v1h-3zM326 514h3v1h-3zM332 514h3v1h-3zM338 514h3v1h-3zM344 514h3v1h-3zM350 514h3v1h-3zM356 514h3v1h-3zM362 514h3v1h-3zM368 514h3v1h-3zM374 514h3v1h-3zM380 514h3v1h-3zM386 514h3v1h-3zM392 514h3v1h-3zM398 514h3v1h-3zM404 514h3v1h-3zM410 514h3v1h-3zM416 514h3v1h-3zM422 514h3v1h-3zM428 514h3v1h-3zM434 514h3v1h-3zM440 514h3v1h-3zM446 514h3v1h-3zM452 514h3v1h-3zM458 514h3v1h-3zM464 514h3v1h-3zM470 514h3v1h-3zM476 514h3v1h-3zM482 514h3v1h-3zM488 514h3v1h-3zM494 514h3v1h-3zM500 514h3v1h-3zM506 514h3v1h-3zM512 514h3v1h-3zM518 514h3v1h-3zM524 514h3v1h-3zM530 514h3v1h-3zM536 514h3v1h-3zM542 514h3v1h-3zM548 514h3v1h-3zM554 514h3v1h-3zM560 514h3v1h-3zM566 514h3v1h-3zM572 514h3v1h-3zM578 514h3v1h-3zM584 514h3v1h-3zM590 514h3v1h-3zM596 514h3v1h-3zM602 514h3v1h-3zM608 514h3v1h-3zM614 514h3v1h-3zM620 514h3v1h-3zM626 514h3v1h-3zM632 514h3v1h-3zM638 514h3v1h-3zM644 514h3v1h-3zM650 514h3v1h-3zM656 514h3v1h-3zM662 514h3v1h-3zM668 514h3v1h-3zM674 514h3v1h-3zM680 514h3v1h-3zM686 514h3v1h-3zM692 514h3v1h-3zM698 514h3v1h-3zM704 514h3v1h-3zM710 514h3v1h-3zM716 514h3v1h-3zM722 514h3v1h-3zM728 514h3v1h-3zM734 514h3v1h-3zM740 514h3v1h-3zM746 514h3v1h-3zM752 514h3v1h-3zM758 514h3v1h-3zM764 514h3v1h-3zM770 514h3v1h-3zM776 514h3v1h-3zM782 514h3v1h-3zM788 514h3v1h-3zM794 514h3v1h-3zM800 514h3v1h-3zM806 514h3v1h-3zM812 514h3v1h-3zM818 514h3v1h-3zM824 514h3v1h-3zM830 514h3v1h-3zM836 514h3v1h-3zM842 514h3v1h-3zM848 514h3v1h-3zM854 514h3v1h-3zM860 514h3v1h-3zM866 514h3v1h-3zM872 514h3v1h-3zM878 514h3v1h-3zM884 514h3v1h-3zM890 514h3v1h-3zM896 514h3v1h-3zM902 514h3v1h-3zM908 514h3v1h-3zM914 514h3v1h-3zM920 514h3v1h-3zM926 514h3v1h-3zM932 514h3v1h-3zM938 514h3v1h-3zM944 514h3v1h-3zM950 514h3v1h-3zM956 514h3v1h-3zM962 514h3v1h-3zM968 514h3v1h-3zM974 514h3v1h-3zM980 514h3v1h-3zM986 514h3v1h-3zM992 514h3v1h-3zM998 514h3v1h-3zM1004 514h3v1h-3zM1010 514h3v1h-3zM1016 514h3v1h-3zM1022 514h3v1h-3zM1028 514h3v1h-3zM1034 514h3v1h-3zM1040 514h3v1h-3zM1046 514h3v1h-3zM1052 514h3v1h-3zM1058 514h3v1h-3zM1064 514h3v1h-3zM1070 514h3v1h-3zM1076 514h3v1h-3zM1082 514h3v1h-3zM1088 514h3v1h-3zM1094 514h3v1h-3zM1100 514h3v1h-3zM1106 514h3v1h-3zM1112 514h3v1h-3zM1118 514h3v1h-3zM1124 514h3v1h-3zM1130 514h3v1h-3zM1136 514h3v1h-3zM1142 514h3v1h-3zM1148 514h3v1h-3zM1154 514h3v1h-3zM1160 514h3v1h-3zM1166 514h3v1h-3zM1172 514h3v1h-3zM1178 514h3v1h-3zM1184 514h3v1h-3zM1190 514h3v1h-3zM1196 514h3v1h-3zM1202 514h3v1h-3zM1208 514h3v1h-3zM1214 514h3v1h-3zM1220 514h3v1h-3zM1226 514h3v1h-3zM1232 514h3v1h-3zM1238 514h3v1h-3zM1244 514h3v1h-3zM1250 514h3v1h-3zM1256 514h3v1h-3zM1262 514h3v1h-3zM1268 514h3v1h-3zM1274 514h3v1h-3zM1280 514h3v1h-3zM1286 514h3v1h-3zM1292 514h3v1h-3zM1298 514h3v1h-3zM1304 514h3v1h-3zM1310 514h3v1h-3zM1316 514h3v1h-3zM1322 514h3v1h-3zM1328 514h3v1h-3zM1334 514h3v1h-3zM1340 514h3v1h-3zM1346 514h3v1h-3zM1352 514h3v1h-3zM1358 514h3v1h-3zM1364 514h3v1h-3zM1370 514h3v1h-3zM1376 514h3v1h-3zM1382 514h3v1h-3zM1388 514h3v1h-3zM1394 514h3v1h-3zM1400 514h3v1h-3zM1406 514h3v1h-3zM1412 514h3v1h-3zM1418 514h3v1h-3zM1424 514h3v1h-3zM1430 514h3v1h-3zM1436 514h3v1h-3zM1442 514h3v1h-3zM1448 514h3v1h-3zM1454 514h3v1h-3zM1460 514h3v1h-3zM1466 514h3v1h-3zM1472 514h3v1h-3zM1478 514h3v1h-3zM1484 514h3v1h-3zM1490 514h3v1h-3zM1496 514h3v1h-3zM1502 514h3v1h-3zM1508 514h3v1h-3zM1514 514h3v1h-3zM1520 514h3v1h-3zM1526 514h3v1h-3zM1532 514h3v1h-3zM1538 514h3v1h-3zM1544 514h3v1h-3zM1550 514h3v1h-3zM1556 514h3v1h-3zM1562 514h3v1h-3zM1568 514h3v1h-3zM1574 514h3v1h-3zM1580 514h3v1h-3zM1586 514h3v1h-3zM1592 514h3v1h-3zM1598 514h3v1h-3zM1604 514h3v1h-3zM1610 514h3v1h-3zM1616 514h3v1h-3zM1622 514h3v1h-3zM1628 514h3v1h-3zM1634 514h3v1h-3zM1640 514h3v1h-3zM1646 514h3v1h-3zM1652 514h3v1h-3zM1658 514h3v1h-3zM1664 514h3v1h-3zM1670 514h3v1h-3zM1676 514h3v1h-3zM1682 514h3v1h-3zM1688 514h3v1h-3zM1694 514h3v1h-3zM1700 514h3v1h-3zM1706 514h3v1h-3zM1712 514h3v1h-3zM1718 514h3v1h-3zM1724 514h3v1h-3zM1730 514h3v1h-3zM1736 514h3v1h-3zM1742 514h3v1h-3zM1748 514h3v1h-3zM1754 514h3v1h-3zM1760 514h3v1h-3zM1766 514h3v1h-3zM1772 514h3v1h-3zM1778 514h3v1h-3zM1784 514h3v1h-3zM1790 514h3v1h-3zM1796 514h3v1h-3zM1802 514h3v1h-3zM1808 514h3v1h-3zM1814 514h3v1h-3zM1820 514h3v1h-3zM1826 514h3v1h-3zM1832 514h3v1h-3zM1838 514h3v1h-3zM1844 514h3v1h-3zM1850 514h3v1h-3zM2 554h3v1h-3zM8 554h3v1h-3zM14 554h3v1h-3zM20 554h3v1h-3zM26 554h3v1h-3zM32 554h3v1h-3zM38 554h3v1h-3zM44 554h3v1h-3zM50 554h3v1h-3zM56 554h3v1h-3zM62 554h3v1h-3zM68 554h3v1h-3zM74 554h3v1h-3zM80 554h3v1h-3zM86 554h3v1h-3zM92 554h3v1h-3zM98 554h3v1h-3zM104 554h3v1h-3zM110 554h3v1h-3zM116 554h3v1h-3zM122 554h3v1h-3zM128 554h3v1h-3zM134 554h3v1h-3zM140 554h3v1h-3zM146 554h3v1h-3zM152 554h3v1h-3zM158 554h3v1h-3zM164 554h3v1h-3zM170 554h3v1h-3zM176 554h3v1h-3zM182 554h3v1h-3zM188 554h3v1h-3zM194 554h3v1h-3zM200 554h3v1h-3zM206 554h3v1h-3zM212 554h3v1h-3zM218 554h3v1h-3zM224 554h3v1h-3zM230 554h3v1h-3zM236 554h3v1h-3zM242 554h3v1h-3zM248 554h3v1h-3zM254 554h3v1h-3zM260 554h3v1h-3zM266 554h3v1h-3zM272 554h3v1h-3zM278 554h3v1h-3zM284 554h3v1h-3zM290 554h3v1h-3zM296 554h3v1h-3zM302 554h3v1h-3zM308 554h3v1h-3zM314 554h3v1h-3zM320 554h3v1h-3zM326 554h3v1h-3zM332 554h3v1h-3zM338 554h3v1h-3zM344 554h3v1h-3zM350 554h3v1h-3zM356 554h3v1h-3zM362 554h3v1h-3zM368 554h3v1h-3zM374 554h3v1h-3zM380 554h3v1h-3zM386 554h3v1h-3zM392 554h3v1h-3zM398 554h3v1h-3zM404 554h3v1h-3zM410 554h3v1h-3zM416 554h3v1h-3zM422 554h3v1h-3zM428 554h3v1h-3zM434 554h3v1h-3zM440 554h3v1h-3zM446 554h3v1h-3zM452 554h3v1h-3zM458 554h3v1h-3zM464 554h3v1h-3zM470 554h3v1h-3zM476 554h3v1h-3zM482 554h3v1h-3zM488 554h3v1h-3zM494 554h3v1h-3zM500 554h3v1h-3zM506 554h3v1h-3zM512 554h3v1h-3zM518 554h3v1h-3zM524 554h3v1h-3zM530 554h3v1h-3zM536 554h3v1h-3zM542 554h3v1h-3zM548 554h3v1h-3zM554 554h3v1h-3zM560 554h3v1h-3zM566 554h3v1h-3zM572 554h3v1h-3zM578 554h3v1h-3zM584 554h3v1h-3zM590 554h3v1h-3zM596 554h3v1h-3zM602 554h3v1h-3zM608 554h3v1h-3zM614 554h3v1h-3zM620 554h3v1h-3zM626 554h3v1h-3zM632 554h3v1h-3zM638 554h3v1h-3zM644 554h3v1h-3zM650 554h3v1h-3zM656 554h3v1h-3zM662 554h3v1h-3zM668 554h3v1h-3zM674 554h3v1h-3zM680 554h3v1h-3zM686 554h3v1h-3zM692 554h3v1h-3zM698 554h3v1h-3zM704 554h3v1h-3zM710 554h3v1h-3zM716 554h3v1h-3zM722 554h3v1h-3zM728 554h3v1h-3zM734 554h3v1h-3zM740 554h3v1h-3zM746 554h3v1h-3zM752 554h3v1h-3zM758 554h3v1h-3zM764 554h3v1h-3zM770 554h3v1h-3zM776 554h3v1h-3zM782 554h3v1h-3zM788 554h3v1h-3zM794 554h3v1h-3zM800 554h3v1h-3zM806 554h3v1h-3zM812 554h3v1h-3zM818 554h3v1h-3zM824 554h3v1h-3zM830 554h3v1h-3zM836 554h3v1h-3zM842 554h3v1h-3zM848 554h3v1h-3zM854 554h3v1h-3zM860 554h3v1h-3zM866 554h3v1h-3zM872 554h3v1h-3zM878 554h3v1h-3zM884 554h3v1h-3zM890 554h3v1h-3zM896 554h3v1h-3zM902 554h3v1h-3zM908 554h3v1h-3zM914 554h3v1h-3zM920 554h3v1h-3zM926 554h3v1h-3zM932 554h3v1h-3zM938 554h3v1h-3zM944 554h3v1h-3zM950 554h3v1h-3zM956 554h3v1h-3zM962 554h3v1h-3zM968 554h3v1h-3zM974 554h3v1h-3zM980 554h3v1h-3zM986 554h3v1h-3zM992 554h3v1h-3zM998 554h3v1h-3zM1004 554h3v1h-3zM1010 554h3v1h-3zM1016 554h3v1h-3zM1022 554h3v1h-3zM1028 554h3v1h-3zM1034 554h3v1h-3zM1040 554h3v1h-3zM1046 554h3v1h-3zM1052 554h3v1h-3zM1058 554h3v1h-3zM1064 554h3v1h-3zM1070 554h3v1h-3zM1076 554h3v1h-3zM1082 554h3v1h-3zM1088 554h3v1h-3zM1094 554h3v1h-3zM1100 554h3v1h-3zM1106 554h3v1h-3zM1112 554h3v1h-3zM1118 554h3v1h-3zM1124 554h3v1h-3zM1130 554h3v1h-3zM1136 554h3v1h-3zM1142 554h3v1h-3zM1148 554h3v1h-3zM1154 554h3v1h-3zM1160 554h3v1h-3zM1166 554h3v1h-3zM1172 554h3v1h-3zM1178 554h3v1h-3zM1184 554h3v1h-3zM1190 554h3v1h-3zM1196 554h3v1h-3zM1202 554h3v1h-3zM1208 554h3v1h-3zM1214 554h3v1h-3zM1220 554h3v1h-3zM1226 554h3v1h-3zM1232 554h3v1h-3zM1238 554h3v1h-3zM1244 554h3v1h-3zM1250 554h3v1h-3zM1256 554h3v1h-3zM1262 554h3v1h-3zM1268 554h3v1h-3zM1274 554h3v1h-3zM1280 554h3v1h-3zM1286 554h3v1h-3zM1292 554h3v1h-3zM1298 554h3v1h-3zM1304 554h3v1h-3zM1310 554h3v1h-3zM1316 554h3v1h-3zM1322 554h3v1h-3zM1328 554h3v1h-3zM1334 554h3v1h-3zM1340 554h3v1h-3zM1346 554h3v1h-3zM1352 554h3v1h-3zM1358 554h3v1h-3zM1364 554h3v1h-3zM1370 554h3v1h-3zM1376 554h3v1h-3zM1382 554h3v1h-3zM1388 554h3v1h-3zM1394 554h3v1h-3zM1400 554h3v1h-3zM1406 554h3v1h-3zM1412 554h3v1h-3zM1418 554h3v1h-3zM1424 554h3v1h-3zM1430 554h3v1h-3zM1436 554h3v1h-3zM1442 554h3v1h-3zM1448 554h3v1h-3zM1454 554h3v1h-3zM1460 554h3v1h-3zM1466 554h3v1h-3zM1472 554h3v1h-3zM1478 554h3v1h-3zM1484 554h3v1h-3zM1490 554h3v1h-3zM1496 554h3v1h-3zM1502 554h3v1h-3zM1508 554h3v1h-3zM1514 554h3v1h-3zM1520 554h3v1h-3zM1526 554h3v1h-3zM1532 554h3v1h-3zM1538 554h3v1h-3zM1544 554h3v1h-3zM1550 554h3v1h-3zM1556 554h3v1h-3zM1562 554h3v1h-3zM1568 554h3v1h-3zM1574 554h3v1h-3zM1580 554h3v1h-3zM1586 554h3v1h-3zM1592 554h3v1h-3zM1598 554h3v1h-3zM1604 554h3v1h-3zM1610 554h3v1h-3zM1616 554h3v1h-3zM1622 554h3v1h-3zM1628 554h3v1h-3zM1634 554h3v1h-3zM1640 554h3v1h-3zM1646 554h3v1h-3zM1652 554h3v1h-3zM1658 554h3v1h-3zM1664 554h3v1h-3zM1670 554h3v1h-3zM1676 554h3v1h-3zM1682 554h3v1h-3zM1688 554h3v1h-3zM1694 554h3v1h-3zM1700 554h3v1h-3zM1706 554h3v1h-3zM1712 554h3v1h-3zM1718 554h3v1h-3zM1724 554h3v1h-3zM1730 554h3v1h-3zM1736 554h3v1h-3zM1742 554h3v1h-3zM1748 554h3v1h-3zM1754 554h3v1h-3zM1760 554h3v1h-3zM1766 554h3v1h-3zM1772 554h3v1h-3zM1778 554h3v1h-3zM1784 554h3v1h-3zM1790 554h3v1h-3zM1796 554h3v1h-3zM1802 554h3v1h-3zM1808 554h3v1h-3zM1814 554h3v1h-3zM1820 554h3v1h-3zM1826 554h3v1h-3zM1832 554h3v1h-3zM1838 554h3v1h-3zM1844 554h3v1h-3zM1850 554h3v1h-3zM2 594h3v1h-3zM8 594h3v1h-3zM14 594h3v1h-3zM20 594h3v1h-3zM26 594h3v1h-3zM32 594h3v1h-3zM38 594h3v1h-3zM44 594h3v1h-3zM50 594h3v1h-3zM56 594h3v1h-3zM62 594h3v1h-3zM68 594h3v1h-3zM74 594h3v1h-3zM80 594h3v1h-3zM86 594h3v1h-3zM92 594h3v1h-3zM98 594h3v1h-3zM104 594h3v1h-3zM110 594h3v1h-3zM116 594h3v1h-3zM122 594h3v1h-3zM128 594h3v1h-3zM134 594h3v1h-3zM140 594h3v1h-3zM146 594h3v1h-3zM152 594h3v1h-3zM158 594h3v1h-3zM164 594h3v1h-3zM170 594h3v1h-3zM176 594h3v1h-3zM182 594h3v1h-3zM188 594h3v1h-3zM194 594h3v1h-3zM200 594h3v1h-3zM206 594h3v1h-3zM212 594h3v1h-3zM218 594h3v1h-3zM224 594h3v1h-3zM230 594h3v1h-3zM236 594h3v1h-3zM242 594h3v1h-3zM248 594h3v1h-3zM254 594h3v1h-3zM260 594h3v1h-3zM266 594h3v1h-3zM272 594h3v1h-3zM278 594h3v1h-3zM284 594h3v1h-3zM290 594h3v1h-3zM296 594h3v1h-3zM302 594h3v1h-3zM308 594h3v1h-3zM314 594h3v1h-3zM320 594h3v1h-3zM326 594h3v1h-3zM332 594h3v1h-3zM338 594h3v1h-3zM344 594h3v1h-3zM350 594h3v1h-3zM356 594h3v1h-3zM362 594h3v1h-3zM368 594h3v1h-3zM374 594h3v1h-3zM380 594h3v1h-3zM386 594h3v1h-3zM392 594h3v1h-3zM398 594h3v1h-3zM404 594h3v1h-3zM410 594h3v1h-3zM416 594h3v1h-3zM422 594h3v1h-3zM428 594h3v1h-3zM434 594h3v1h-3zM440 594h3v1h-3zM446 594h3v1h-3zM452 594h3v1h-3zM458 594h3v1h-3zM464 594h3v1h-3zM470 594h3v1h-3zM476 594h3v1h-3zM482 594h3v1h-3zM488 594h3v1h-3zM494 594h3v1h-3zM500 594h3v1h-3zM506 594h3v1h-3zM512 594h3v1h-3zM518 594h3v1h-3zM524 594h3v1h-3zM530 594h3v1h-3zM536 594h3v1h-3zM542 594h3v1h-3zM548 594h3v1h-3zM554 594h3v1h-3zM560 594h3v1h-3zM566 594h3v1h-3zM572 594h3v1h-3zM578 594h3v1h-3zM584 594h3v1h-3zM590 594h3v1h-3zM596 594h3v1h-3zM602 594h3v1h-3zM608 594h3v1h-3zM614 594h3v1h-3zM620 594h3v1h-3zM626 594h3v1h-3zM632 594h3v1h-3zM638 594h3v1h-3zM644 594h3v1h-3zM650 594h3v1h-3zM656 594h3v1h-3zM662 594h3v1h-3zM668 594h3v1h-3zM674 594h3v1h-3zM680 594h3v1h-3zM686 594h3v1h-3zM692 594h3v1h-3zM698 594h3v1h-3zM704 594h3v1h-3zM710 594h3v1h-3zM716 594h3v1h-3zM722 594h3v1h-3zM728 594h3v1h-3zM734 594h3v1h-3zM740 594h3v1h-3zM746 594h3v1h-3zM752 594h3v1h-3zM758 594h3v1h-3zM764 594h3v1h-3zM770 594h3v1h-3zM776 594h3v1h-3zM782 594h3v1h-3zM788 594h3v1h-3zM794 594h3v1h-3zM800 594h3v1h-3zM806 594h3v1h-3zM812 594h3v1h-3zM818 594h3v1h-3zM824 594h3v1h-3zM830 594h3v1h-3zM836 594h3v1h-3zM842 594h3v1h-3zM848 594h3v1h-3zM854 594h3v1h-3zM860 594h3v1h-3zM866 594h3v1h-3zM872 594h3v1h-3zM878 594h3v1h-3zM884 594h3v1h-3zM890 594h3v1h-3zM896 594h3v1h-3zM902 594h3v1h-3zM908 594h3v1h-3zM914 594h3v1h-3zM920 594h3v1h-3zM926 594h3v1h-3zM932 594h3v1h-3zM938 594h3v1h-3zM944 594h3v1h-3zM950 594h3v1h-3zM956 594h3v1h-3zM962 594h3v1h-3zM968 594h3v1h-3zM974 594h3v1h-3zM980 594h3v1h-3zM986 594h3v1h-3zM992 594h3v1h-3zM998 594h3v1h-3zM1004 594h3v1h-3zM1010 594h3v1h-3zM1016 594h3v1h-3zM1022 594h3v1h-3zM1028 594h3v1h-3zM1034 594h3v1h-3zM1040 594h3v1h-3zM1046 594h3v1h-3zM1052 594h3v1h-3zM1058 594h3v1h-3zM1064 594h3v1h-3zM1070 594h3v1h-3zM1076 594h3v1h-3zM1082 594h3v1h-3zM1088 594h3v1h-3zM1094 594h3v1h-3zM1100 594h3v1h-3zM1106 594h3v1h-3zM1112 594h3v1h-3zM1118 594h3v1h-3zM1124 594h3v1h-3zM1130 594h3v1h-3zM1136 594h3v1h-3zM1142 594h3v1h-3zM1148 594h3v1h-3zM1154 594h3v1h-3zM1160 594h3v1h-3zM1166 594h3v1h-3zM1172 594h3v1h-3zM1178 594h3v1h-3zM1184 594h3v1h-3zM1190 594h3v1h-3zM1196 594h3v1h-3zM1202 594h3v1h-3zM1208 594h3v1h-3zM1214 594h3v1h-3zM1220 594h3v1h-3zM1226 594h3v1h-3zM1232 594h3v1h-3zM1238 594h3v1h-3zM1244 594h3v1h-3zM1250 594h3v1h-3zM1256 594h3v1h-3zM1262 594h3v1h-3zM1268 594h3v1h-3zM1274 594h3v1h-3zM1280 594h3v1h-3zM1286 594h3v1h-3zM1292 594h3v1h-3zM1298 594h3v1h-3zM1304 594h3v1h-3zM1310 594h3v1h-3zM1316 594h3v1h-3zM1322 594h3v1h-3zM1328 594h3v1h-3zM1334 594h3v1h-3zM1340 594h3v1h-3zM1346 594h3v1h-3zM1352 594h3v1h-3zM1358 594h3v1h-3zM1364 594h3v1h-3zM1370 594h3v1h-3zM1376 594h3v1h-3zM1382 594h3v1h-3zM1388 594h3v1h-3zM1394 594h3v1h-3zM1400 594h3v1h-3zM1406 594h3v1h-3zM1412 594h3v1h-3zM1418 594h3v1h-3zM1424 594h3v1h-3zM1430 594h3v1h-3zM1436 594h3v1h-3zM1442 594h3v1h-3zM1448 594h3v1h-3zM1454 594h3v1h-3zM1460 594h3v1h-3zM1466 594h3v1h-3zM1472 594h3v1h-3zM1478 594h3v1h-3zM1484 594h3v1h-3zM1490 594h3v1h-3zM1496 594h3v1h-3zM1502 594h3v1h-3zM1508 594h3v1h-3zM1514 594h3v1h-3zM1520 594h3v1h-3zM1526 594h3v1h-3zM1532 594h3v1h-3zM1538 594h3v1h-3zM1544 594h3v1h-3zM1550 594h3v1h-3zM1556 594h3v1h-3zM1562 594h3v1h-3zM1568 594h3v1h-3zM1574 594h3v1h-3zM1580 594h3v1h-3zM1586 594h3v1h-3zM1592 594h3v1h-3zM1598 594h3v1h-3zM1604 594h3v1h-3zM1610 594h3v1h-3zM1616 594h3v1h-3zM1622 594h3v1h-3zM1628 594h3v1h-3zM1634 594h3v1h-3zM1640 594h3v1h-3zM1646 594h3v1h-3zM1652 594h3v1h-3zM1658 594h3v1h-3zM1664 594h3v1h-3zM1670 594h3v1h-3zM1676 594h3v1h-3zM1682 594h3v1h-3zM1688 594h3v1h-3zM1694 594h3v1h-3zM1700 594h3v1h-3zM1706 594h3v1h-3zM1712 594h3v1h-3zM1718 594h3v1h-3zM1724 594h3v1h-3zM1730 594h3v1h-3zM1736 594h3v1h-3zM1742 594h3v1h-3zM1748 594h3v1h-3zM1754 594h3v1h-3zM1760 594h3v1h-3zM1766 594h3v1h-3zM1772 594h3v1h-3zM1778 594h3v1h-3zM1784 594h3v1h-3zM1790 594h3v1h-3zM1796 594h3v1h-3zM1802 594h3v1h-3zM1808 594h3v1h-3zM1814 594h3v1h-3zM1820 594h3v1h-3zM1826 594h3v1h-3zM1832 594h3v1h-3zM1838 594h3v1h-3zM1844 594h3v1h-3zM1850 594h3v1h-3zM2 634h3v1h-3zM8 634h3v1h-3zM14 634h3v1h-3zM20 634h3v1h-3zM26 634h3v1h-3zM32 634h3v1h-3zM38 634h3v1h-3zM44 634h3v1h-3zM50 634h3v1h-3zM56 634h3v1h-3zM62 634h3v1h-3zM68 634h3v1h-3zM74 634h3v1h-3zM80 634h3v1h-3zM86 634h3v1h-3zM92 634h3v1h-3zM98 634h3v1h-3zM104 634h3v1h-3zM110 634h3v1h-3zM116 634h3v1h-3zM122 634h3v1h-3zM128 634h3v1h-3zM134 634h3v1h-3zM140 634h3v1h-3zM146 634h3v1h-3zM152 634h3v1h-3zM158 634h3v1h-3zM164 634h3v1h-3zM170 634h3v1h-3zM176 634h3v1h-3zM182 634h3v1h-3zM188 634h3v1h-3zM194 634h3v1h-3zM200 634h3v1h-3zM206 634h3v1h-3zM212 634h3v1h-3zM218 634h3v1h-3zM224 634h3v1h-3zM230 634h3v1h-3zM236 634h3v1h-3zM242 634h3v1h-3zM248 634h3v1h-3zM254 634h3v1h-3zM260 634h3v1h-3zM266 634h3v1h-3zM272 634h3v1h-3zM278 634h3v1h-3zM284 634h3v1h-3zM290 634h3v1h-3zM296 634h3v1h-3zM302 634h3v1h-3zM308 634h3v1h-3zM314 634h3v1h-3zM320 634h3v1h-3zM326 634h3v1h-3zM332 634h3v1h-3zM338 634h3v1h-3zM344 634h3v1h-3zM350 634h3v1h-3zM356 634h3v1h-3zM362 634h3v1h-3zM368 634h3v1h-3zM374 634h3v1h-3zM380 634h3v1h-3zM386 634h3v1h-3zM392 634h3v1h-3zM398 634h3v1h-3zM404 634h3v1h-3zM410 634h3v1h-3zM416 634h3v1h-3zM422 634h3v1h-3zM428 634h3v1h-3zM434 634h3v1h-3zM440 634h3v1h-3zM446 634h3v1h-3zM452 634h3v1h-3zM458 634h3v1h-3zM464 634h3v1h-3zM470 634h3v1h-3zM476 634h3v1h-3zM482 634h3v1h-3zM488 634h3v1h-3zM494 634h3v1h-3zM500 634h3v1h-3zM506 634h3v1h-3zM512 634h3v1h-3zM518 634h3v1h-3zM524 634h3v1h-3zM530 634h3v1h-3zM536 634h3v1h-3zM542 634h3v1h-3zM548 634h3v1h-3zM554 634h3v1h-3zM560 634h3v1h-3zM566 634h3v1h-3zM572 634h3v1h-3zM578 634h3v1h-3zM584 634h3v1h-3zM590 634h3v1h-3zM596 634h3v1h-3zM602 634h3v1h-3zM608 634h3v1h-3zM614 634h3v1h-3zM620 634h3v1h-3zM626 634h3v1h-3zM632 634h3v1h-3zM638 634h3v1h-3zM644 634h3v1h-3zM650 634h3v1h-3zM656 634h3v1h-3zM662 634h3v1h-3zM668 634h3v1h-3zM674 634h3v1h-3zM680 634h3v1h-3zM686 634h3v1h-3zM692 634h3v1h-3zM698 634h3v1h-3zM704 634h3v1h-3zM710 634h3v1h-3zM716 634h3v1h-3zM722 634h3v1h-3zM728 634h3v1h-3zM734 634h3v1h-3zM740 634h3v1h-3zM746 634h3v1h-3zM752 634h3v1h-3zM758 634h3v1h-3zM764 634h3v1h-3zM770 634h3v1h-3zM776 634h3v1h-3zM782 634h3v1h-3zM788 634h3v1h-3zM794 634h3v1h-3zM800 634h3v1h-3zM806 634h3v1h-3zM812 634h3v1h-3zM818 634h3v1h-3zM824 634h3v1h-3zM830 634h3v1h-3zM836 634h3v1h-3zM842 634h3v1h-3zM848 634h3v1h-3zM854 634h3v1h-3zM860 634h3v1h-3zM866 634h3v1h-3zM872 634h3v1h-3zM878 634h3v1h-3zM884 634h3v1h-3zM890 634h3v1h-3zM896 634h3v1h-3zM902 634h3v1h-3zM908 634h3v1h-3zM914 634h3v1h-3zM920 634h3v1h-3zM926 634h3v1h-3zM932 634h3v1h-3zM938 634h3v1h-3zM944 634h3v1h-3zM950 634h3v1h-3zM956 634h3v1h-3zM962 634h3v1h-3zM968 634h3v1h-3zM974 634h3v1h-3zM980 634h3v1h-3zM986 634h3v1h-3zM992 634h3v1h-3zM998 634h3v1h-3zM1004 634h3v1h-3zM1010 634h3v1h-3zM1016 634h3v1h-3zM1022 634h3v1h-3zM1028 634h3v1h-3zM1034 634h3v1h-3zM1040 634h3v1h-3zM1046 634h3v1h-3zM1052 634h3v1h-3zM1058 634h3v1h-3zM1064 634h3v1h-3zM1070 634h3v1h-3zM1076 634h3v1h-3zM1082 634h3v1h-3zM1088 634h3v1h-3zM1094 634h3v1h-3zM1100 634h3v1h-3zM1106 634h3v1h-3zM1112 634h3v1h-3zM1118 634h3v1h-3zM1124 634h3v1h-3zM1130 634h3v1h-3zM1136 634h3v1h-3zM1142 634h3v1h-3zM1148 634h3v1h-3zM1154 634h3v1h-3zM1160 634h3v1h-3zM1166 634h3v1h-3zM1172 634h3v1h-3zM1178 634h3v1h-3zM1184 634h3v1h-3zM1190 634h3v1h-3zM1196 634h3v1h-3zM1202 634h3v1h-3zM1208 634h3v1h-3zM1214 634h3v1h-3zM1220 634h3v1h-3zM1226 634h3v1h-3zM1232 634h3v1h-3zM1238 634h3v1h-3zM1244 634h3v1h-3zM1250 634h3v1h-3zM1256 634h3v1h-3zM1262 634h3v1h-3zM1268 634h3v1h-3zM1274 634h3v1h-3zM1280 634h3v1h-3zM1286 634h3v1h-3zM1292 634h3v1h-3zM1298 634h3v1h-3zM1304 634h3v1h-3zM1310 634h3v1h-3zM1316 634h3v1h-3zM1322 634h3v1h-3zM1328 634h3v1h-3zM1334 634h3v1h-3zM1340 634h3v1h-3zM1346 634h3v1h-3zM1352 634h3v1h-3zM1358 634h3v1h-3zM1364 634h3v1h-3zM1370 634h3v1h-3zM1376 634h3v1h-3zM1382 634h3v1h-3zM1388 634h3v1h-3zM1394 634h3v1h-3zM1400 634h3v1h-3zM1406 634h3v1h-3zM1412 634h3v1h-3zM1418 634h3v1h-3zM1424 634h3v1h-3zM1430 634h3v1h-3zM1436 634h3v1h-3zM1442 634h3v1h-3zM1448 634h3v1h-3zM1454 634h3v1h-3zM1460 634h3v1h-3zM1466 634h3v1h-3zM1472 634h3v1h-3zM1478 634h3v1h-3zM1484 634h3v1h-3zM1490 634h3v1h-3zM1496 634h3v1h-3zM1502 634h3v1h-3zM1508 634h3v1h-3zM1514 634h3v1h-3zM1520 634h3v1h-3zM1526 634h3v1h-3zM1532 634h3v1h-3zM1538 634h3v1h-3zM1544 634h3v1h-3zM1550 634h3v1h-3zM1556 634h3v1h-3zM1562 634h3v1h-3zM1568 634h3v1h-3zM1574 634h3v1h-3zM1580 634h3v1h-3zM1586 634h3v1h-3zM1592 634h3v1h-3zM1598 634h3v1h-3zM1604 634h3v1h-3zM1610 634h3v1h-3zM1616 634h3v1h-3zM1622 634h3v1h-3zM1628 634h3v1h-3zM1634 634h3v1h-3zM1640 634h3v1h-3zM1646 634h3v1h-3zM1652 634h3v1h-3zM1658 634h3v1h-3zM1664 634h3v1h-3zM1670 634h3v1h-3zM1676 634h3v1h-3zM1682 634h3v1h-3zM1688 634h3v1h-3zM1694 634h3v1h-3zM1700 634h3v1h-3zM1706 634h3v1h-3zM1712 634h3v1h-3zM1718 634h3v1h-3zM1724 634h3v1h-3zM1730 634h3v1h-3zM1736 634h3v1h-3zM1742 634h3v1h-3zM1748 634h3v1h-3zM1754 634h3v1h-3zM1760 634h3v1h-3zM1766 634h3v1h-3zM1772 634h3v1h-3zM1778 634h3v1h-3zM1784 634h3v1h-3zM1790 634h3v1h-3zM1796 634h3v1h-3zM1802 634h3v1h-3zM1808 634h3v1h-3zM1814 634h3v1h-3zM1820 634h3v1h-3zM1826 634h3v1h-3zM1832 634h3v1h-3zM1838 634h3v1h-3zM1844 634h3v1h-3zM1850 634h3v1h-3zM2 674h3v1h-3zM8 674h3v1h-3zM14 674h3v1h-3zM20 674h3v1h-3zM26 674h3v1h-3zM32 674h3v1h-3zM38 674h3v1h-3zM44 674h3v1h-3zM50 674h3v1h-3zM56 674h3v1h-3zM62 674h3v1h-3zM68 674h3v1h-3zM74 674h3v1h-3zM80 674h3v1h-3zM86 674h3v1h-3zM92 674h3v1h-3zM98 674h3v1h-3zM104 674h3v1h-3zM110 674h3v1h-3zM116 674h3v1h-3zM122 674h3v1h-3zM128 674h3v1h-3zM134 674h3v1h-3zM140 674h3v1h-3zM146 674h3v1h-3zM152 674h3v1h-3zM158 674h3v1h-3zM164 674h3v1h-3zM170 674h3v1h-3zM176 674h3v1h-3zM182 674h3v1h-3zM188 674h3v1h-3zM194 674h3v1h-3zM200 674h3v1h-3zM206 674h3v1h-3zM212 674h3v1h-3zM218 674h3v1h-3zM224 674h3v1h-3zM230 674h3v1h-3zM236 674h3v1h-3zM242 674h3v1h-3zM248 674h3v1h-3zM254 674h3v1h-3zM260 674h3v1h-3zM266 674h3v1h-3zM272 674h3v1h-3zM278 674h3v1h-3zM284 674h3v1h-3zM290 674h3v1h-3zM296 674h3v1h-3zM302 674h3v1h-3zM308 674h3v1h-3zM314 674h3v1h-3zM320 674h3v1h-3zM326 674h3v1h-3zM332 674h3v1h-3zM338 674h3v1h-3zM344 674h3v1h-3zM350 674h3v1h-3zM356 674h3v1h-3zM362 674h3v1h-3zM368 674h3v1h-3zM374 674h3v1h-3zM380 674h3v1h-3zM386 674h3v1h-3zM392 674h3v1h-3zM398 674h3v1h-3zM404 674h3v1h-3zM410 674h3v1h-3zM416 674h3v1h-3zM422 674h3v1h-3zM428 674h3v1h-3zM434 674h3v1h-3zM440 674h3v1h-3zM446 674h3v1h-3zM452 674h3v1h-3zM458 674h3v1h-3zM464 674h3v1h-3zM470 674h3v1h-3zM476 674h3v1h-3zM482 674h3v1h-3zM488 674h3v1h-3zM494 674h3v1h-3zM500 674h3v1h-3zM506 674h3v1h-3zM512 674h3v1h-3zM518 674h3v1h-3zM524 674h3v1h-3zM530 674h3v1h-3zM536 674h3v1h-3zM542 674h3v1h-3zM548 674h3v1h-3zM554 674h3v1h-3zM560 674h3v1h-3zM566 674h3v1h-3zM572 674h3v1h-3zM578 674h3v1h-3zM584 674h3v1h-3zM590 674h3v1h-3zM596 674h3v1h-3zM602 674h3v1h-3zM608 674h3v1h-3zM614 674h3v1h-3zM620 674h3v1h-3zM626 674h3v1h-3zM632 674h3v1h-3zM638 674h3v1h-3zM644 674h3v1h-3zM650 674h3v1h-3zM656 674h3v1h-3zM662 674h3v1h-3zM668 674h3v1h-3zM674 674h3v1h-3zM680 674h3v1h-3zM686 674h3v1h-3zM692 674h3v1h-3zM698 674h3v1h-3zM704 674h3v1h-3zM710 674h3v1h-3zM716 674h3v1h-3zM722 674h3v1h-3zM728 674h3v1h-3zM734 674h3v1h-3zM740 674h3v1h-3zM746 674h3v1h-3zM752 674h3v1h-3zM758 674h3v1h-3zM764 674h3v1h-3zM770 674h3v1h-3zM776 674h3v1h-3zM782 674h3v1h-3zM788 674h3v1h-3zM794 674h3v1h-3zM800 674h3v1h-3zM806 674h3v1h-3zM812 674h3v1h-3zM818 674h3v1h-3zM824 674h3v1h-3zM830 674h3v1h-3zM836 674h3v1h-3zM842 674h3v1h-3zM848 674h3v1h-3zM854 674h3v1h-3zM860 674h3v1h-3zM866 674h3v1h-3zM872 674h3v1h-3zM878 674h3v1h-3zM884 674h3v1h-3zM890 674h3v1h-3zM896 674h3v1h-3zM902 674h3v1h-3zM908 674h3v1h-3zM914 674h3v1h-3zM920 674h3v1h-3zM926 674h3v1h-3zM932 674h3v1h-3zM938 674h3v1h-3zM944 674h3v1h-3zM950 674h3v1h-3zM956 674h3v1h-3zM962 674h3v1h-3zM968 674h3v1h-3zM974 674h3v1h-3zM980 674h3v1h-3zM986 674h3v1h-3zM992 674h3v1h-3zM998 674h3v1h-3zM1004 674h3v1h-3zM1010 674h3v1h-3zM1016 674h3v1h-3zM1022 674h3v1h-3zM1028 674h3v1h-3zM1034 674h3v1h-3zM1040 674h3v1h-3zM1046 674h3v1h-3zM1052 674h3v1h-3zM1058 674h3v1h-3zM1064 674h3v1h-3zM1070 674h3v1h-3zM1076 674h3v1h-3zM1082 674h3v1h-3zM1088 674h3v1h-3zM1094 674h3v1h-3zM1100 674h3v1h-3zM1106 674h3v1h-3zM1112 674h3v1h-3zM1118 674h3v1h-3zM1124 674h3v1h-3zM1130 674h3v1h-3zM1136 674h3v1h-3zM1142 674h3v1h-3zM1148 674h3v1h-3zM1154 674h3v1h-3zM1160 674h3v1h-3zM1166 674h3v1h-3zM1172 674h3v1h-3zM1178 674h3v1h-3zM1184 674h3v1h-3zM1190 674h3v1h-3zM1196 674h3v1h-3zM1202 674h3v1h-3zM1208 674h3v1h-3zM1214 674h3v1h-3zM1220 674h3v1h-3zM1226 674h3v1h-3zM1232 674h3v1h-3zM1238 674h3v1h-3zM1244 674h3v1h-3zM1250 674h3v1h-3zM1256 674h3v1h-3zM1262 674h3v1h-3zM1268 674h3v1h-3zM1274 674h3v1h-3zM1280 674h3v1h-3zM1286 674h3v1h-3zM1292 674h3v1h-3zM1298 674h3v1h-3zM1304 674h3v1h-3zM1310 674h3v1h-3zM1316 674h3v1h-3zM1322 674h3v1h-3zM1328 674h3v1h-3zM1334 674h3v1h-3zM1340 674h3v1h-3zM1346 674h3v1h-3zM1352 674h3v1h-3zM1358 674h3v1h-3zM1364 674h3v1h-3zM1370 674h3v1h-3zM1376 674h3v1h-3zM1382 674h3v1h-3zM1388 674h3v1h-3zM1394 674h3v1h-3zM1400 674h3v1h-3zM1406 674h3v1h-3zM1412 674h3v1h-3zM1418 674h3v1h-3zM1424 674h3v1h-3zM1430 674h3v1h-3zM1436 674h3v1h-3zM1442 674h3v1h-3zM1448 674h3v1h-3zM1454 674h3v1h-3zM1460 674h3v1h-3zM1466 674h3v1h-3zM1472 674h3v1h-3zM1478 674h3v1h-3zM1484 674h3v1h-3zM1490 674h3v1h-3zM1496 674h3v1h-3zM1502 674h3v1h-3zM1508 674h3v1h-3zM1514 674h3v1h-3zM1520 674h3v1h-3zM1526 674h3v1h-3zM1532 674h3v1h-3zM1538 674h3v1h-3zM1544 674h3v1h-3zM1550 674h3v1h-3zM1556 674h3v1h-3zM1562 674h3v1h-3zM1568 674h3v1h-3zM1574 674h3v1h-3zM1580 674h3v1h-3zM1586 674h3v1h-3zM1592 674h3v1h-3zM1598 674h3v1h-3zM1604 674h3v1h-3zM1610 674h3v1h-3zM1616 674h3v1h-3zM1622 674h3v1h-3zM1628 674h3v1h-3zM1634 674h3v1h-3zM1640 674h3v1h-3zM1646 674h3v1h-3zM1652 674h3v1h-3zM1658 674h3v1h-3zM1664 674h3v1h-3zM1670 674h3v1h-3zM1676 674h3v1h-3zM1682 674h3v1h-3zM1688 674h3v1h-3zM1694 674h3v1h-3zM1700 674h3v1h-3zM1706 674h3v1h-3zM1712 674h3v1h-3zM1718 674h3v1h-3zM1724 674h3v1h-3zM1730 674h3v1h-3zM1736 674h3v1h-3zM1742 674h3v1h-3zM1748 674h3v1h-3zM1754 674h3v1h-3zM1760 674h3v1h-3zM1766 674h3v1h-3zM1772 674h3v1h-3zM1778 674h3v1h-3zM1784 674h3v1h-3zM1790 674h3v1h-3zM1796 674h3v1h-3zM1802 674h3v1h-3zM1808 674h3v1h-3zM1814 674h3v1h-3zM1820 674h3v1h-3zM1826 674h3v1h-3zM1832 674h3v1h-3zM1838 674h3v1h-3zM1844 674h3v1h-3zM1850 674h3v1h-3zM2 714h3v1h-3zM8 714h3v1h-3zM14 714h3v1h-3zM20 714h3v1h-3zM26 714h3v1h-3zM32 714h3v1h-3zM38 714h3v1h-3zM44 714h3v1h-3zM50 714h3v1h-3zM56 714h3v1h-3zM62 714h3v1h-3zM68 714h3v1h-3zM74 714h3v1h-3zM80 714h3v1h-3zM86 714h3v1h-3zM92 714h3v1h-3zM98 714h3v1h-3zM104 714h3v1h-3zM110 714h3v1h-3zM116 714h3v1h-3zM122 714h3v1h-3zM128 714h3v1h-3zM134 714h3v1h-3zM140 714h3v1h-3zM146 714h3v1h-3zM152 714h3v1h-3zM158 714h3v1h-3zM164 714h3v1h-3zM170 714h3v1h-3zM176 714h3v1h-3zM182 714h3v1h-3zM188 714h3v1h-3zM194 714h3v1h-3zM200 714h3v1h-3zM206 714h3v1h-3zM212 714h3v1h-3zM218 714h3v1h-3zM224 714h3v1h-3zM230 714h3v1h-3zM236 714h3v1h-3zM242 714h3v1h-3zM248 714h3v1h-3zM254 714h3v1h-3zM260 714h3v1h-3zM266 714h3v1h-3zM272 714h3v1h-3zM278 714h3v1h-3zM284 714h3v1h-3zM290 714h3v1h-3zM296 714h3v1h-3zM302 714h3v1h-3zM308 714h3v1h-3zM314 714h3v1h-3zM320 714h3v1h-3zM326 714h3v1h-3zM332 714h3v1h-3zM338 714h3v1h-3zM344 714h3v1h-3zM350 714h3v1h-3zM356 714h3v1h-3zM362 714h3v1h-3zM368 714h3v1h-3zM374 714h3v1h-3zM380 714h3v1h-3zM386 714h3v1h-3zM392 714h3v1h-3zM398 714h3v1h-3zM404 714h3v1h-3zM410 714h3v1h-3zM416 714h3v1h-3zM422 714h3v1h-3zM428 714h3v1h-3zM434 714h3v1h-3zM440 714h3v1h-3zM446 714h3v1h-3zM452 714h3v1h-3zM458 714h3v1h-3zM464 714h3v1h-3zM470 714h3v1h-3zM476 714h3v1h-3zM482 714h3v1h-3zM488 714h3v1h-3zM494 714h3v1h-3zM500 714h3v1h-3zM506 714h3v1h-3zM512 714h3v1h-3zM518 714h3v1h-3zM524 714h3v1h-3zM530 714h3v1h-3zM536 714h3v1h-3zM542 714h3v1h-3zM548 714h3v1h-3zM554 714h3v1h-3zM560 714h3v1h-3zM566 714h3v1h-3zM572 714h3v1h-3zM578 714h3v1h-3zM584 714h3v1h-3zM590 714h3v1h-3zM596 714h3v1h-3zM602 714h3v1h-3zM608 714h3v1h-3zM614 714h3v1h-3zM620 714h3v1h-3zM626 714h3v1h-3zM632 714h3v1h-3zM638 714h3v1h-3zM644 714h3v1h-3zM650 714h3v1h-3zM656 714h3v1h-3zM662 714h3v1h-3zM668 714h3v1h-3zM674 714h3v1h-3zM680 714h3v1h-3zM686 714h3v1h-3zM692 714h3v1h-3zM698 714h3v1h-3zM704 714h3v1h-3zM710 714h3v1h-3zM716 714h3v1h-3zM722 714h3v1h-3zM728 714h3v1h-3zM734 714h3v1h-3zM740 714h3v1h-3zM746 714h3v1h-3zM752 714h3v1h-3zM758 714h3v1h-3zM764 714h3v1h-3zM770 714h3v1h-3zM776 714h3v1h-3zM782 714h3v1h-3zM788 714h3v1h-3zM794 714h3v1h-3zM800 714h3v1h-3zM806 714h3v1h-3zM812 714h3v1h-3zM818 714h3v1h-3zM824 714h3v1h-3zM830 714h3v1h-3zM836 714h3v1h-3zM842 714h3v1h-3zM848 714h3v1h-3zM854 714h3v1h-3zM860 714h3v1h-3zM866 714h3v1h-3zM872 714h3v1h-3zM878 714h3v1h-3zM884 714h3v1h-3zM890 714h3v1h-3zM896 714h3v1h-3zM902 714h3v1h-3zM908 714h3v1h-3zM914 714h3v1h-3zM920 714h3v1h-3zM926 714h3v1h-3zM932 714h3v1h-3zM938 714h3v1h-3zM944 714h3v1h-3zM950 714h3v1h-3zM956 714h3v1h-3zM962 714h3v1h-3zM968 714h3v1h-3zM974 714h3v1h-3zM980 714h3v1h-3zM986 714h3v1h-3zM992 714h3v1h-3zM998 714h3v1h-3zM1004 714h3v1h-3zM1010 714h3v1h-3zM1016 714h3v1h-3zM1022 714h3v1h-3zM1028 714h3v1h-3zM1034 714h3v1h-3zM1040 714h3v1h-3zM1046 714h3v1h-3zM1052 714h3v1h-3zM1058 714h3v1h-3zM1064 714h3v1h-3zM1070 714h3v1h-3zM1076 714h3v1h-3zM1082 714h3v1h-3zM1088 714h3v1h-3zM1094 714h3v1h-3zM1100 714h3v1h-3zM1106 714h3v1h-3zM1112 714h3v1h-3zM1118 714h3v1h-3zM1124 714h3v1h-3zM1130 714h3v1h-3zM1136 714h3v1h-3zM1142 714h3v1h-3zM1148 714h3v1h-3zM1154 714h3v1h-3zM1160 714h3v1h-3zM1166 714h3v1h-3zM1172 714h3v1h-3zM1178 714h3v1h-3zM1184 714h3v1h-3zM1190 714h3v1h-3zM1196 714h3v1h-3zM1202 714h3v1h-3zM1208 714h3v1h-3zM1214 714h3v1h-3zM1220 714h3v1h-3zM1226 714h3v1h-3zM1232 714h3v1h-3zM1238 714h3v1h-3zM1244 714h3v1h-3zM1250 714h3v1h-3zM1256 714h3v1h-3zM1262 714h3v1h-3zM1268 714h3v1h-3zM1274 714h3v1h-3zM1280 714h3v1h-3zM1286 714h3v1h-3zM1292 714h3v1h-3zM1298 714h3v1h-3zM1304 714h3v1h-3zM1310 714h3v1h-3zM1316 714h3v1h-3zM1322 714h3v1h-3zM1328 714h3v1h-3zM1334 714h3v1h-3zM1340 714h3v1h-3zM1346 714h3v1h-3zM1352 714h3v1h-3zM1358 714h3v1h-3zM1364 714h3v1h-3zM1370 714h3v1h-3zM1376 714h3v1h-3zM1382 714h3v1h-3zM1388 714h3v1h-3zM1394 714h3v1h-3zM1400 714h3v1h-3zM1406 714h3v1h-3zM1412 714h3v1h-3zM1418 714h3v1h-3zM1424 714h3v1h-3zM1430 714h3v1h-3zM1436 714h3v1h-3zM1442 714h3v1h-3zM1448 714h3v1h-3zM1454 714h3v1h-3zM1460 714h3v1h-3zM1466 714h3v1h-3zM1472 714h3v1h-3zM1478 714h3v1h-3zM1484 714h3v1h-3zM1490 714h3v1h-3zM1496 714h3v1h-3zM1502 714h3v1h-3zM1508 714h3v1h-3zM1514 714h3v1h-3zM1520 714h3v1h-3zM1526 714h3v1h-3zM1532 714h3v1h-3zM1538 714h3v1h-3zM1544 714h3v1h-3zM1550 714h3v1h-3zM1556 714h3v1h-3zM1562 714h3v1h-3zM1568 714h3v1h-3zM1574 714h3v1h-3zM1580 714h3v1h-3zM1586 714h3v1h-3zM1592 714h3v1h-3zM1598 714h3v1h-3zM1604 714h3v1h-3zM1610 714h3v1h-3zM1616 714h3v1h-3zM1622 714h3v1h-3zM1628 714h3v1h-3zM1634 714h3v1h-3zM1640 714h3v1h-3zM1646 714h3v1h-3zM1652 714h3v1h-3zM1658 714h3v1h-3zM1664 714h3v1h-3zM1670 714h3v1h-3zM1676 714h3v1h-3zM1682 714h3v1h-3zM1688 714h3v1h-3zM1694 714h3v1h-3zM1700 714h3v1h-3zM1706 714h3v1h-3zM1712 714h3v1h-3zM1718 714h3v1h-3zM1724 714h3v1h-3zM1730 714h3v1h-3zM1736 714h3v1h-3zM1742 714h3v1h-3zM1748 714h3v1h-3zM1754 714h3v1h-3zM1760 714h3v1h-3zM1766 714h3v1h-3zM1772 714h3v1h-3zM1778 714h3v1h-3zM1784 714h3v1h-3zM1790 714h3v1h-3zM1796 714h3v1h-3zM1802 714h3v1h-3zM1808 714h3v1h-3zM1814 714h3v1h-3zM1820 714h3v1h-3zM1826 714h3v1h-3zM1832 714h3v1h-3zM1838 714h3v1h-3zM1844 714h3v1h-3zM1850 714h3v1h-3zM2 754h3v1h-3zM8 754h3v1h-3zM14 754h3v1h-3zM20 754h3v1h-3zM26 754h3v1h-3zM32 754h3v1h-3zM38 754h3v1h-3zM44 754h3v1h-3zM50 754h3v1h-3zM56 754h3v1h-3zM62 754h3v1h-3zM68 754h3v1h-3zM74 754h3v1h-3zM80 754h3v1h-3zM86 754h3v1h-3zM92 754h3v1h-3zM98 754h3v1h-3zM104 754h3v1h-3zM110 754h3v1h-3zM116 754h3v1h-3zM122 754h3v1h-3zM128 754h3v1h-3zM134 754h3v1h-3zM140 754h3v1h-3zM146 754h3v1h-3zM152 754h3v1h-3zM158 754h3v1h-3zM164 754h3v1h-3zM170 754h3v1h-3zM176 754h3v1h-3zM182 754h3v1h-3zM188 754h3v1h-3zM194 754h3v1h-3zM200 754h3v1h-3zM206 754h3v1h-3zM212 754h3v1h-3zM218 754h3v1h-3zM224 754h3v1h-3zM230 754h3v1h-3zM236 754h3v1h-3zM242 754h3v1h-3zM248 754h3v1h-3zM254 754h3v1h-3zM260 754h3v1h-3zM266 754h3v1h-3zM272 754h3v1h-3zM278 754h3v1h-3zM284 754h3v1h-3zM290 754h3v1h-3zM296 754h3v1h-3zM302 754h3v1h-3zM308 754h3v1h-3zM314 754h3v1h-3zM320 754h3v1h-3zM326 754h3v1h-3zM332 754h3v1h-3zM338 754h3v1h-3zM344 754h3v1h-3zM350 754h3v1h-3zM356 754h3v1h-3zM362 754h3v1h-3zM368 754h3v1h-3zM374 754h3v1h-3zM380 754h3v1h-3zM386 754h3v1h-3zM392 754h3v1h-3zM398 754h3v1h-3zM404 754h3v1h-3zM410 754h3v1h-3zM416 754h3v1h-3zM422 754h3v1h-3zM428 754h3v1h-3zM434 754h3v1h-3zM440 754h3v1h-3zM446 754h3v1h-3zM452 754h3v1h-3zM458 754h3v1h-3zM464 754h3v1h-3zM470 754h3v1h-3zM476 754h3v1h-3zM482 754h3v1h-3zM488 754h3v1h-3zM494 754h3v1h-3zM500 754h3v1h-3zM506 754h3v1h-3zM512 754h3v1h-3zM518 754h3v1h-3zM524 754h3v1h-3zM530 754h3v1h-3zM536 754h3v1h-3zM542 754h3v1h-3zM548 754h3v1h-3zM554 754h3v1h-3zM560 754h3v1h-3zM566 754h3v1h-3zM572 754h3v1h-3zM578 754h3v1h-3zM584 754h3v1h-3zM590 754h3v1h-3zM596 754h3v1h-3zM602 754h3v1h-3zM608 754h3v1h-3zM614 754h3v1h-3zM620 754h3v1h-3zM626 754h3v1h-3zM632 754h3v1h-3zM638 754h3v1h-3zM644 754h3v1h-3zM650 754h3v1h-3zM656 754h3v1h-3zM662 754h3v1h-3zM668 754h3v1h-3zM674 754h3v1h-3zM680 754h3v1h-3zM686 754h3v1h-3zM692 754h3v1h-3zM698 754h3v1h-3zM704 754h3v1h-3zM710 754h3v1h-3zM716 754h3v1h-3zM722 754h3v1h-3zM728 754h3v1h-3zM734 754h3v1h-3zM740 754h3v1h-3zM746 754h3v1h-3zM752 754h3v1h-3zM758 754h3v1h-3zM764 754h3v1h-3zM770 754h3v1h-3zM776 754h3v1h-3zM782 754h3v1h-3zM788 754h3v1h-3zM794 754h3v1h-3zM800 754h3v1h-3zM806 754h3v1h-3zM812 754h3v1h-3zM818 754h3v1h-3zM824 754h3v1h-3zM830 754h3v1h-3zM836 754h3v1h-3zM842 754h3v1h-3zM848 754h3v1h-3zM854 754h3v1h-3zM860 754h3v1h-3zM866 754h3v1h-3zM872 754h3v1h-3zM878 754h3v1h-3zM884 754h3v1h-3zM890 754h3v1h-3zM896 754h3v1h-3zM902 754h3v1h-3zM908 754h3v1h-3zM914 754h3v1h-3zM920 754h3v1h-3zM926 754h3v1h-3zM932 754h3v1h-3zM938 754h3v1h-3zM944 754h3v1h-3zM950 754h3v1h-3zM956 754h3v1h-3zM962 754h3v1h-3zM968 754h3v1h-3zM974 754h3v1h-3zM980 754h3v1h-3zM986 754h3v1h-3zM992 754h3v1h-3zM998 754h3v1h-3zM1004 754h3v1h-3zM1010 754h3v1h-3zM1016 754h3v1h-3zM1022 754h3v1h-3zM1028 754h3v1h-3zM1034 754h3v1h-3zM1040 754h3v1h-3zM1046 754h3v1h-3zM1052 754h3v1h-3zM1058 754h3v1h-3zM1064 754h3v1h-3zM1070 754h3v1h-3zM1076 754h3v1h-3zM1082 754h3v1h-3zM1088 754h3v1h-3zM1094 754h3v1h-3zM1100 754h3v1h-3zM1106 754h3v1h-3zM1112 754h3v1h-3zM1118 754h3v1h-3zM1124 754h3v1h-3zM1130 754h3v1h-3zM1136 754h3v1h-3zM1142 754h3v1h-3zM1148 754h3v1h-3zM1154 754h3v1h-3zM1160 754h3v1h-3zM1166 754h3v1h-3zM1172 754h3v1h-3zM1178 754h3v1h-3zM1184 754h3v1h-3zM1190 754h3v1h-3zM1196 754h3v1h-3zM1202 754h3v1h-3zM1208 754h3v1h-3zM1214 754h3v1h-3zM1220 754h3v1h-3zM1226 754h3v1h-3zM1232 754h3v1h-3zM1238 754h3v1h-3zM1244 754h3v1h-3zM1250 754h3v1h-3zM1256 754h3v1h-3zM1262 754h3v1h-3zM1268 754h3v1h-3zM1274 754h3v1h-3zM1280 754h3v1h-3zM1286 754h3v1h-3zM1292 754h3v1h-3zM1298 754h3v1h-3zM1304 754h3v1h-3zM1310 754h3v1h-3zM1316 754h3v1h-3zM1322 754h3v1h-3zM1328 754h3v1h-3zM1334 754h3v1h-3zM1340 754h3v1h-3zM1346 754h3v1h-3zM1352 754h3v1h-3zM1358 754h3v1h-3zM1364 754h3v1h-3zM1370 754h3v1h-3zM1376 754h3v1h-3zM1382 754h3v1h-3zM1388 754h3v1h-3zM1394 754h3v1h-3zM1400 754h3v1h-3zM1406 754h3v1h-3zM1412 754h3v1h-3zM1418 754h3v1h-3zM1424 754h3v1h-3zM1430 754h3v1h-3zM1436 754h3v1h-3zM1442 754h3v1h-3zM1448 754h3v1h-3zM1454 754h3v1h-3zM1460 754h3v1h-3zM1466 754h3v1h-3zM1472 754h3v1h-3zM1478 754h3v1h-3zM1484 754h3v1h-3zM1490 754h3v1h-3zM1496 754h3v1h-3zM1502 754h3v1h-3zM1508 754h3v1h-3zM1514 754h3v1h-3zM1520 754h3v1h-3zM1526 754h3v1h-3zM1532 754h3v1h-3zM1538 754h3v1h-3zM1544 754h3v1h-3zM1550 754h3v1h-3zM1556 754h3v1h-3zM1562 754h3v1h-3zM1568 754h3v1h-3zM1574 754h3v1h-3zM1580 754h3v1h-3zM1586 754h3v1h-3zM1592 754h3v1h-3zM1598 754h3v1h-3zM1604 754h3v1h-3zM1610 754h3v1h-3zM1616 754h3v1h-3zM1622 754h3v1h-3zM1628 754h3v1h-3zM1634 754h3v1h-3zM1640 754h3v1h-3zM1646 754h3v1h-3zM1652 754h3v1h-3zM1658 754h3v1h-3zM1664 754h3v1h-3zM1670 754h3v1h-3zM1676 754h3v1h-3zM1682 754h3v1h-3zM1688 754h3v1h-3zM1694 754h3v1h-3zM1700 754h3v1h-3zM1706 754h3v1h-3zM1712 754h3v1h-3zM1718 754h3v1h-3zM1724 754h3v1h-3zM1730 754h3v1h-3zM1736 754h3v1h-3zM1742 754h3v1h-3zM1748 754h3v1h-3zM1754 754h3v1h-3zM1760 754h3v1h-3zM1766 754h3v1h-3zM1772 754h3v1h-3zM1778 754h3v1h-3zM1784 754h3v1h-3zM1790 754h3v1h-3zM1796 754h3v1h-3zM1802 754h3v1h-3zM1808 754h3v1h-3zM1814 754h3v1h-3zM1820 754h3v1h-3zM1826 754h3v1h-3zM1832 754h3v1h-3zM1838 754h3v1h-3zM1844 754h3v1h-3zM1850 754h3v1h-3zM2 794h3v1h-3zM8 794h3v1h-3zM14 794h3v1h-3zM20 794h3v1h-3zM26 794h3v1h-3zM32 794h3v1h-3zM38 794h3v1h-3zM44 794h3v1h-3zM50 794h3v1h-3zM56 794h3v1h-3zM62 794h3v1h-3zM68 794h3v1h-3zM74 794h3v1h-3zM80 794h3v1h-3zM86 794h3v1h-3zM92 794h3v1h-3zM98 794h3v1h-3zM104 794h3v1h-3zM110 794h3v1h-3zM116 794h3v1h-3zM122 794h3v1h-3zM128 794h3v1h-3zM134 794h3v1h-3zM140 794h3v1h-3zM146 794h3v1h-3zM152 794h3v1h-3zM158 794h3v1h-3zM164 794h3v1h-3zM170 794h3v1h-3zM176 794h3v1h-3zM182 794h3v1h-3zM188 794h3v1h-3zM194 794h3v1h-3zM200 794h3v1h-3zM206 794h3v1h-3zM212 794h3v1h-3zM218 794h3v1h-3zM224 794h3v1h-3zM230 794h3v1h-3zM236 794h3v1h-3zM242 794h3v1h-3zM248 794h3v1h-3zM254 794h3v1h-3zM260 794h3v1h-3zM266 794h3v1h-3zM272 794h3v1h-3zM278 794h3v1h-3zM284 794h3v1h-3zM290 794h3v1h-3zM296 794h3v1h-3zM302 794h3v1h-3zM308 794h3v1h-3zM314 794h3v1h-3zM320 794h3v1h-3zM326 794h3v1h-3zM332 794h3v1h-3zM338 794h3v1h-3zM344 794h3v1h-3zM350 794h3v1h-3zM356 794h3v1h-3zM362 794h3v1h-3zM368 794h3v1h-3zM374 794h3v1h-3zM380 794h3v1h-3zM386 794h3v1h-3zM392 794h3v1h-3zM398 794h3v1h-3zM404 794h3v1h-3zM410 794h3v1h-3zM416 794h3v1h-3zM422 794h3v1h-3zM428 794h3v1h-3zM434 794h3v1h-3zM440 794h3v1h-3zM446 794h3v1h-3zM452 794h3v1h-3zM458 794h3v1h-3zM464 794h3v1h-3zM470 794h3v1h-3zM476 794h3v1h-3zM482 794h3v1h-3zM488 794h3v1h-3zM494 794h3v1h-3zM500 794h3v1h-3zM506 794h3v1h-3zM512 794h3v1h-3zM518 794h3v1h-3zM524 794h3v1h-3zM530 794h3v1h-3zM536 794h3v1h-3zM542 794h3v1h-3zM548 794h3v1h-3zM554 794h3v1h-3zM560 794h3v1h-3zM566 794h3v1h-3zM572 794h3v1h-3zM578 794h3v1h-3zM584 794h3v1h-3zM590 794h3v1h-3zM596 794h3v1h-3zM602 794h3v1h-3zM608 794h3v1h-3zM614 794h3v1h-3zM620 794h3v1h-3zM626 794h3v1h-3zM632 794h3v1h-3zM638 794h3v1h-3zM644 794h3v1h-3zM650 794h3v1h-3zM656 794h3v1h-3zM662 794h3v1h-3zM668 794h3v1h-3zM674 794h3v1h-3zM680 794h3v1h-3zM686 794h3v1h-3zM692 794h3v1h-3zM698 794h3v1h-3zM704 794h3v1h-3zM710 794h3v1h-3zM716 794h3v1h-3zM722 794h3v1h-3zM728 794h3v1h-3zM734 794h3v1h-3zM740 794h3v1h-3zM746 794h3v1h-3zM752 794h3v1h-3zM758 794h3v1h-3zM764 794h3v1h-3zM770 794h3v1h-3zM776 794h3v1h-3zM782 794h3v1h-3zM788 794h3v1h-3zM794 794h3v1h-3zM800 794h3v1h-3zM806 794h3v1h-3zM812 794h3v1h-3zM818 794h3v1h-3zM824 794h3v1h-3zM830 794h3v1h-3zM836 794h3v1h-3zM842 794h3v1h-3zM848 794h3v1h-3zM854 794h3v1h-3zM860 794h3v1h-3zM866 794h3v1h-3zM872 794h3v1h-3zM878 794h3v1h-3zM884 794h3v1h-3zM890 794h3v1h-3zM896 794h3v1h-3zM902 794h3v1h-3zM908 794h3v1h-3zM914 794h3v1h-3zM920 794h3v1h-3zM926 794h3v1h-3zM932 794h3v1h-3zM938 794h3v1h-3zM944 794h3v1h-3zM950 794h3v1h-3zM956 794h3v1h-3zM962 794h3v1h-3zM968 794h3v1h-3zM974 794h3v1h-3zM980 794h3v1h-3zM986 794h3v1h-3zM992 794h3v1h-3zM998 794h3v1h-3zM1004 794h3v1h-3zM1010 794h3v1h-3zM1016 794h3v1h-3zM1022 794h3v1h-3zM1028 794h3v1h-3zM1034 794h3v1h-3zM1040 794h3v1h-3zM1046 794h3v1h-3zM1052 794h3v1h-3zM1058 794h3v1h-3zM1064 794h3v1h-3zM1070 794h3v1h-3zM1076 794h3v1h-3zM1082 794h3v1h-3zM1088 794h3v1h-3zM1094 794h3v1h-3zM1100 794h3v1h-3zM1106 794h3v1h-3zM1112 794h3v1h-3zM1118 794h3v1h-3zM1124 794h3v1h-3zM1130 794h3v1h-3zM1136 794h3v1h-3zM1142 794h3v1h-3zM1148 794h3v1h-3zM1154 794h3v1h-3zM1160 794h3v1h-3zM1166 794h3v1h-3zM1172 794h3v1h-3zM1178 794h3v1h-3zM1184 794h3v1h-3zM1190 794h3v1h-3zM1196 794h3v1h-3zM1202 794h3v1h-3zM1208 794h3v1h-3zM1214 794h3v1h-3zM1220 794h3v1h-3zM1226 794h3v1h-3zM1232 794h3v1h-3zM1238 794h3v1h-3zM1244 794h3v1h-3zM1250 794h3v1h-3zM1256 794h3v1h-3zM1262 794h3v1h-3zM1268 794h3v1h-3zM1274 794h3v1h-3zM1280 794h3v1h-3zM1286 794h3v1h-3zM1292 794h3v1h-3zM1298 794h3v1h-3zM1304 794h3v1h-3zM1310 794h3v1h-3zM1316 794h3v1h-3zM1322 794h3v1h-3zM1328 794h3v1h-3zM1334 794h3v1h-3zM1340 794h3v1h-3zM1346 794h3v1h-3zM1352 794h3v1h-3zM1358 794h3v1h-3zM1364 794h3v1h-3zM1370 794h3v1h-3zM1376 794h3v1h-3zM1382 794h3v1h-3zM1388 794h3v1h-3zM1394 794h3v1h-3zM1400 794h3v1h-3zM1406 794h3v1h-3zM1412 794h3v1h-3zM1418 794h3v1h-3zM1424 794h3v1h-3zM1430 794h3v1h-3zM1436 794h3v1h-3zM1442 794h3v1h-3zM1448 794h3v1h-3zM1454 794h3v1h-3zM1460 794h3v1h-3zM1466 794h3v1h-3zM1472 794h3v1h-3zM1478 794h3v1h-3zM1484 794h3v1h-3zM1490 794h3v1h-3zM1496 794h3v1h-3zM1502 794h3v1h-3zM1508 794h3v1h-3zM1514 794h3v1h-3zM1520 794h3v1h-3zM1526 794h3v1h-3zM1532 794h3v1h-3zM1538 794h3v1h-3zM1544 794h3v1h-3zM1550 794h3v1h-3zM1556 794h3v1h-3zM1562 794h3v1h-3zM1568 794h3v1h-3zM1574 794h3v1h-3zM1580 794h3v1h-3zM1586 794h3v1h-3zM1592 794h3v1h-3zM1598 794h3v1h-3zM1604 794h3v1h-3zM1610 794h3v1h-3zM1616 794h3v1h-3zM1622 794h3v1h-3zM1628 794h3v1h-3zM1634 794h3v1h-3zM1640 794h3v1h-3zM1646 794h3v1h-3zM1652 794h3v1h-3zM1658 794h3v1h-3zM1664 794h3v1h-3zM1670 794h3v1h-3zM1676 794h3v1h-3zM1682 794h3v1h-3zM1688 794h3v1h-3zM1694 794h3v1h-3zM1700 794h3v1h-3zM1706 794h3v1h-3zM1712 794h3v1h-3zM1718 794h3v1h-3zM1724 794h3v1h-3zM1730 794h3v1h-3zM1736 794h3v1h-3zM1742 794h3v1h-3zM1748 794h3v1h-3zM1754 794h3v1h-3zM1760 794h3v1h-3zM1766 794h3v1h-3zM1772 794h3v1h-3zM1778 794h3v1h-3zM1784 794h3v1h-3zM1790 794h3v1h-3zM1796 794h3v1h-3zM1802 794h3v1h-3zM1808 794h3v1h-3zM1814 794h3v1h-3zM1820 794h3v1h-3zM1826 794h3v1h-3zM1832 794h3v1h-3zM1838 794h3v1h-3zM1844 794h3v1h-3zM1850 794h3v1h-3zM2 864h3v1h-3zM8 864h3v1h-3zM14 864h3v1h-3zM20 864h3v1h-3zM26 864h3v1h-3zM32 864h3v1h-3zM38 864h3v1h-3zM44 864h3v1h-3zM50 864h3v1h-3zM56 864h3v1h-3zM62 864h3v1h-3zM68 864h3v1h-3zM74 864h3v1h-3zM80 864h3v1h-3zM86 864h3v1h-3zM92 864h3v1h-3zM98 864h3v1h-3zM104 864h3v1h-3zM110 864h3v1h-3zM116 864h3v1h-3zM122 864h3v1h-3zM128 864h3v1h-3zM134 864h3v1h-3zM140 864h3v1h-3zM146 864h3v1h-3zM152 864h3v1h-3zM158 864h3v1h-3zM164 864h3v1h-3zM170 864h3v1h-3zM176 864h3v1h-3zM182 864h3v1h-3zM188 864h3v1h-3zM194 864h3v1h-3zM200 864h3v1h-3zM206 864h3v1h-3zM212 864h3v1h-3zM218 864h3v1h-3zM224 864h3v1h-3zM230 864h3v1h-3zM236 864h3v1h-3zM242 864h3v1h-3zM248 864h3v1h-3zM254 864h3v1h-3zM260 864h3v1h-3zM266 864h3v1h-3zM272 864h3v1h-3zM278 864h3v1h-3zM284 864h3v1h-3zM290 864h3v1h-3zM296 864h3v1h-3zM302 864h3v1h-3zM308 864h3v1h-3zM314 864h3v1h-3zM320 864h3v1h-3zM326 864h3v1h-3zM332 864h3v1h-3zM338 864h3v1h-3zM344 864h3v1h-3zM350 864h3v1h-3zM356 864h3v1h-3zM362 864h3v1h-3zM368 864h3v1h-3zM374 864h3v1h-3zM380 864h3v1h-3zM386 864h3v1h-3zM392 864h3v1h-3zM398 864h3v1h-3zM404 864h3v1h-3zM410 864h3v1h-3zM416 864h3v1h-3zM422 864h3v1h-3zM428 864h3v1h-3zM434 864h3v1h-3zM440 864h3v1h-3zM446 864h3v1h-3zM452 864h3v1h-3zM458 864h3v1h-3zM464 864h3v1h-3zM470 864h3v1h-3zM476 864h3v1h-3zM482 864h3v1h-3zM488 864h3v1h-3zM494 864h3v1h-3zM500 864h3v1h-3zM506 864h3v1h-3zM512 864h3v1h-3zM518 864h3v1h-3zM524 864h3v1h-3zM530 864h3v1h-3zM536 864h3v1h-3zM542 864h3v1h-3zM548 864h3v1h-3zM554 864h3v1h-3zM560 864h3v1h-3zM566 864h3v1h-3zM572 864h3v1h-3zM578 864h3v1h-3zM584 864h3v1h-3zM590 864h3v1h-3zM596 864h3v1h-3zM602 864h3v1h-3zM608 864h3v1h-3zM614 864h3v1h-3zM620 864h3v1h-3zM626 864h3v1h-3zM632 864h3v1h-3zM638 864h3v1h-3zM644 864h3v1h-3zM650 864h3v1h-3zM656 864h3v1h-3zM662 864h3v1h-3zM668 864h3v1h-3zM674 864h3v1h-3zM680 864h3v1h-3zM686 864h3v1h-3zM692 864h3v1h-3zM698 864h3v1h-3zM704 864h3v1h-3zM710 864h3v1h-3zM716 864h3v1h-3zM722 864h3v1h-3zM728 864h3v1h-3zM734 864h3v1h-3zM740 864h3v1h-3zM746 864h3v1h-3zM752 864h3v1h-3zM758 864h3v1h-3zM764 864h3v1h-3zM770 864h3v1h-3zM776 864h3v1h-3zM782 864h3v1h-3zM788 864h3v1h-3zM794 864h3v1h-3zM800 864h3v1h-3zM806 864h3v1h-3zM812 864h3v1h-3zM818 864h3v1h-3zM824 864h3v1h-3zM830 864h3v1h-3zM836 864h3v1h-3zM842 864h3v1h-3zM848 864h3v1h-3zM854 864h3v1h-3zM860 864h3v1h-3zM866 864h3v1h-3zM872 864h3v1h-3zM878 864h3v1h-3zM884 864h3v1h-3zM890 864h3v1h-3zM896 864h3v1h-3zM902 864h3v1h-3zM908 864h3v1h-3zM914 864h3v1h-3zM920 864h3v1h-3zM926 864h3v1h-3zM932 864h3v1h-3zM938 864h3v1h-3zM944 864h3v1h-3zM950 864h3v1h-3zM956 864h3v1h-3zM962 864h3v1h-3zM968 864h3v1h-3zM974 864h3v1h-3zM980 864h3v1h-3zM986 864h3v1h-3zM992 864h3v1h-3zM998 864h3v1h-3zM1004 864h3v1h-3zM1010 864h3v1h-3zM1016 864h3v1h-3zM1022 864h3v1h-3zM1028 864h3v1h-3zM1034 864h3v1h-3zM1040 864h3v1h-3zM1046 864h3v1h-3zM1052 864h3v1h-3zM1058 864h3v1h-3zM1064 864h3v1h-3zM1070 864h3v1h-3zM1076 864h3v1h-3zM1082 864h3v1h-3zM1088 864h3v1h-3zM1094 864h3v1h-3zM1100 864h3v1h-3zM1106 864h3v1h-3zM1112 864h3v1h-3zM1118 864h3v1h-3zM1124 864h3v1h-3zM1130 864h3v1h-3zM1136 864h3v1h-3zM1142 864h3v1h-3zM1148 864h3v1h-3zM1154 864h3v1h-3zM1160 864h3v1h-3zM1166 864h3v1h-3zM1172 864h3v1h-3zM1178 864h3v1h-3zM1184 864h3v1h-3zM1190 864h3v1h-3zM1196 864h3v1h-3zM1202 864h3v1h-3zM1208 864h3v1h-3zM1214 864h3v1h-3zM1220 864h3v1h-3zM1226 864h3v1h-3zM1232 864h3v1h-3zM1238 864h3v1h-3zM1244 864h3v1h-3zM1250 864h3v1h-3zM1256 864h3v1h-3zM1262 864h3v1h-3zM1268 864h3v1h-3zM1274 864h3v1h-3zM1280 864h3v1h-3zM1286 864h3v1h-3zM1292 864h3v1h-3zM1298 864h3v1h-3zM1304 864h3v1h-3zM1310 864h3v1h-3zM1316 864h3v1h-3zM1322 864h3v1h-3zM1328 864h3v1h-3zM1334 864h3v1h-3zM1340 864h3v1h-3zM1346 864h3v1h-3zM1352 864h3v1h-3zM1358 864h3v1h-3zM1364 864h3v1h-3zM1370 864h3v1h-3zM1376 864h3v1h-3zM1382 864h3v1h-3zM1388 864h3v1h-3zM1394 864h3v1h-3zM1400 864h3v1h-3zM1406 864h3v1h-3zM1412 864h3v1h-3zM1418 864h3v1h-3zM1424 864h3v1h-3zM1430 864h3v1h-3zM1436 864h3v1h-3zM1442 864h3v1h-3zM1448 864h3v1h-3zM1454 864h3v1h-3zM1460 864h3v1h-3zM1466 864h3v1h-3zM1472 864h3v1h-3zM1478 864h3v1h-3zM1484 864h3v1h-3zM1490 864h3v1h-3zM1496 864h3v1h-3zM1502 864h3v1h-3zM1508 864h3v1h-3zM1514 864h3v1h-3zM1520 864h3v1h-3zM1526 864h3v1h-3zM1532 864h3v1h-3zM1538 864h3v1h-3zM1544 864h3v1h-3zM1550 864h3v1h-3zM1556 864h3v1h-3zM1562 864h3v1h-3zM1568 864h3v1h-3zM1574 864h3v1h-3zM1580 864h3v1h-3zM1586 864h3v1h-3zM1592 864h3v1h-3zM1598 864h3v1h-3zM1604 864h3v1h-3zM1610 864h3v1h-3zM1616 864h3v1h-3zM1622 864h3v1h-3zM1628 864h3v1h-3zM1634 864h3v1h-3zM1640 864h3v1h-3zM1646 864h3v1h-3zM1652 864h3v1h-3zM1658 864h3v1h-3zM1664 864h3v1h-3zM1670 864h3v1h-3zM1676 864h3v1h-3zM1682 864h3v1h-3zM1688 864h3v1h-3zM1694 864h3v1h-3zM1700 864h3v1h-3zM1706 864h3v1h-3zM1712 864h3v1h-3zM1718 864h3v1h-3zM1724 864h3v1h-3zM1730 864h3v1h-3zM1736 864h3v1h-3zM1742 864h3v1h-3zM1748 864h3v1h-3zM1754 864h3v1h-3zM1760 864h3v1h-3zM1766 864h3v1h-3zM1772 864h3v1h-3zM1778 864h3v1h-3zM1784 864h3v1h-3zM1790 864h3v1h-3zM1796 864h3v1h-3zM1802 864h3v1h-3zM1808 864h3v1h-3zM1814 864h3v1h-3zM1820 864h3v1h-3zM1826 864h3v1h-3zM1832 864h3v1h-3zM1838 864h3v1h-3zM1844 864h3v1h-3zM1850 864h3v1h-3zM2 906h3v1h-3zM8 906h3v1h-3zM14 906h3v1h-3zM20 906h3v1h-3zM26 906h3v1h-3zM32 906h3v1h-3zM38 906h3v1h-3zM44 906h3v1h-3zM50 906h3v1h-3zM56 906h3v1h-3zM62 906h3v1h-3zM68 906h3v1h-3zM74 906h3v1h-3zM80 906h3v1h-3zM86 906h3v1h-3zM92 906h3v1h-3zM98 906h3v1h-3zM104 906h3v1h-3zM110 906h3v1h-3zM116 906h3v1h-3zM122 906h3v1h-3zM128 906h3v1h-3zM134 906h3v1h-3zM140 906h3v1h-3zM146 906h3v1h-3zM152 906h3v1h-3zM158 906h3v1h-3zM164 906h3v1h-3zM170 906h3v1h-3zM176 906h3v1h-3zM182 906h3v1h-3zM188 906h3v1h-3zM194 906h3v1h-3zM200 906h3v1h-3zM206 906h3v1h-3zM212 906h3v1h-3zM218 906h3v1h-3zM224 906h3v1h-3zM230 906h3v1h-3zM236 906h3v1h-3zM242 906h3v1h-3zM248 906h3v1h-3zM254 906h3v1h-3zM260 906h3v1h-3zM266 906h3v1h-3zM272 906h3v1h-3zM278 906h3v1h-3zM284 906h3v1h-3zM290 906h3v1h-3zM296 906h3v1h-3zM302 906h3v1h-3zM308 906h3v1h-3zM314 906h3v1h-3zM320 906h3v1h-3zM326 906h3v1h-3zM332 906h3v1h-3zM338 906h3v1h-3zM344 906h3v1h-3zM350 906h3v1h-3zM356 906h3v1h-3zM362 906h3v1h-3zM368 906h3v1h-3zM374 906h3v1h-3zM380 906h3v1h-3zM386 906h3v1h-3zM392 906h3v1h-3zM398 906h3v1h-3zM404 906h3v1h-3zM410 906h3v1h-3zM416 906h3v1h-3zM422 906h3v1h-3zM428 906h3v1h-3zM434 906h3v1h-3zM440 906h3v1h-3zM446 906h3v1h-3zM452 906h3v1h-3zM458 906h3v1h-3zM464 906h3v1h-3zM470 906h3v1h-3zM476 906h3v1h-3zM482 906h3v1h-3zM488 906h3v1h-3zM494 906h3v1h-3zM500 906h3v1h-3zM506 906h3v1h-3zM512 906h3v1h-3zM518 906h3v1h-3zM524 906h3v1h-3zM530 906h3v1h-3zM536 906h3v1h-3zM542 906h3v1h-3zM548 906h3v1h-3zM554 906h3v1h-3zM560 906h3v1h-3zM566 906h3v1h-3zM572 906h3v1h-3zM578 906h3v1h-3zM584 906h3v1h-3zM590 906h3v1h-3zM596 906h3v1h-3zM602 906h3v1h-3zM608 906h3v1h-3zM614 906h3v1h-3zM620 906h3v1h-3zM626 906h3v1h-3zM632 906h3v1h-3zM638 906h3v1h-3zM644 906h3v1h-3zM650 906h3v1h-3zM656 906h3v1h-3zM662 906h3v1h-3zM668 906h3v1h-3zM674 906h3v1h-3zM680 906h3v1h-3zM686 906h3v1h-3zM692 906h3v1h-3zM698 906h3v1h-3zM704 906h3v1h-3zM710 906h3v1h-3zM716 906h3v1h-3zM722 906h3v1h-3zM728 906h3v1h-3zM734 906h3v1h-3zM740 906h3v1h-3zM746 906h3v1h-3zM752 906h3v1h-3zM758 906h3v1h-3zM764 906h3v1h-3zM770 906h3v1h-3zM776 906h3v1h-3zM782 906h3v1h-3zM788 906h3v1h-3zM794 906h3v1h-3zM800 906h3v1h-3zM806 906h3v1h-3zM812 906h3v1h-3zM818 906h3v1h-3zM824 906h3v1h-3zM830 906h3v1h-3zM836 906h3v1h-3zM842 906h3v1h-3zM848 906h3v1h-3zM854 906h3v1h-3zM860 906h3v1h-3zM866 906h3v1h-3zM872 906h3v1h-3zM878 906h3v1h-3zM884 906h3v1h-3zM890 906h3v1h-3zM896 906h3v1h-3zM902 906h3v1h-3zM908 906h3v1h-3zM914 906h3v1h-3zM920 906h3v1h-3zM926 906h3v1h-3zM932 906h3v1h-3zM938 906h3v1h-3zM944 906h3v1h-3zM950 906h3v1h-3zM956 906h3v1h-3zM962 906h3v1h-3zM968 906h3v1h-3zM974 906h3v1h-3zM980 906h3v1h-3zM986 906h3v1h-3zM992 906h3v1h-3zM998 906h3v1h-3zM1004 906h3v1h-3zM1010 906h3v1h-3zM1016 906h3v1h-3zM1022 906h3v1h-3zM1028 906h3v1h-3zM1034 906h3v1h-3zM1040 906h3v1h-3zM1046 906h3v1h-3zM1052 906h3v1h-3zM1058 906h3v1h-3zM1064 906h3v1h-3zM1070 906h3v1h-3zM1076 906h3v1h-3zM1082 906h3v1h-3zM1088 906h3v1h-3zM1094 906h3v1h-3zM1100 906h3v1h-3zM1106 906h3v1h-3zM1112 906h3v1h-3zM1118 906h3v1h-3zM1124 906h3v1h-3zM1130 906h3v1h-3zM1136 906h3v1h-3zM1142 906h3v1h-3zM1148 906h3v1h-3zM1154 906h3v1h-3zM1160 906h3v1h-3zM1166 906h3v1h-3zM1172 906h3v1h-3zM1178 906h3v1h-3zM1184 906h3v1h-3zM1190 906h3v1h-3zM1196 906h3v1h-3zM1202 906h3v1h-3zM1208 906h3v1h-3zM1214 906h3v1h-3zM1220 906h3v1h-3zM1226 906h3v1h-3zM1232 906h3v1h-3zM1238 906h3v1h-3zM1244 906h3v1h-3zM1250 906h3v1h-3zM1256 906h3v1h-3zM1262 906h3v1h-3zM1268 906h3v1h-3zM1274 906h3v1h-3zM1280 906h3v1h-3zM1286 906h3v1h-3zM1292 906h3v1h-3zM1298 906h3v1h-3zM1304 906h3v1h-3zM1310 906h3v1h-3zM1316 906h3v1h-3zM1322 906h3v1h-3zM1328 906h3v1h-3zM1334 906h3v1h-3zM1340 906h3v1h-3zM1346 906h3v1h-3zM1352 906h3v1h-3zM1358 906h3v1h-3zM1364 906h3v1h-3zM1370 906h3v1h-3zM1376 906h3v1h-3zM1382 906h3v1h-3zM1388 906h3v1h-3zM1394 906h3v1h-3zM1400 906h3v1h-3zM1406 906h3v1h-3zM1412 906h3v1h-3zM1418 906h3v1h-3zM1424 906h3v1h-3zM1430 906h3v1h-3zM1436 906h3v1h-3zM1442 906h3v1h-3zM1448 906h3v1h-3zM1454 906h3v1h-3zM1460 906h3v1h-3zM1466 906h3v1h-3zM1472 906h3v1h-3zM1478 906h3v1h-3zM1484 906h3v1h-3zM1490 906h3v1h-3zM1496 906h3v1h-3zM1502 906h3v1h-3zM1508 906h3v1h-3zM1514 906h3v1h-3zM1520 906h3v1h-3zM1526 906h3v1h-3zM1532 906h3v1h-3zM1538 906h3v1h-3zM1544 906h3v1h-3zM1550 906h3v1h-3zM1556 906h3v1h-3zM1562 906h3v1h-3zM1568 906h3v1h-3zM1574 906h3v1h-3zM1580 906h3v1h-3zM1586 906h3v1h-3zM1592 906h3v1h-3zM1598 906h3v1h-3zM1604 906h3v1h-3zM1610 906h3v1h-3zM1616 906h3v1h-3zM1622 906h3v1h-3zM1628 906h3v1h-3zM1634 906h3v1h-3zM1640 906h3v1h-3zM1646 906h3v1h-3zM1652 906h3v1h-3zM1658 906h3v1h-3zM1664 906h3v1h-3zM1670 906h3v1h-3zM1676 906h3v1h-3zM1682 906h3v1h-3zM1688 906h3v1h-3zM1694 906h3v1h-3zM1700 906h3v1h-3zM1706 906h3v1h-3zM1712 906h3v1h-3zM1718 906h3v1h-3zM1724 906h3v1h-3zM1730 906h3v1h-3zM1736 906h3v1h-3zM1742 906h3v1h-3zM1748 906h3v1h-3zM1754 906h3v1h-3zM1760 906h3v1h-3zM1766 906h3v1h-3zM1772 906h3v1h-3zM1778 906h3v1h-3zM1784 906h3v1h-3zM1790 906h3v1h-3zM1796 906h3v1h-3zM1802 906h3v1h-3zM1808 906h3v1h-3zM1814 906h3v1h-3zM1820 906h3v1h-3zM1826 906h3v1h-3zM1832 906h3v1h-3zM1838 906h3v1h-3zM1844 906h3v1h-3zM1850 906h3v1h-3z"/><path fill="#ff0000" d="M5 30h3v1h-3zM11 30h3v1h-3zM17 30h3v1h-3zM23 30h3v1h-3zM29 30h3v1h-3zM35 30h3v1h-3zM41 30h3v1h-3zM47 30h3v1h-3zM53 30h3v1h-3zM59 30h3v1h-3zM65 30h3v1h-3zM71 30h3v1h-3zM77 30h3v1h-3zM83 30h3v1h-3zM89 30h3v1h-3zM95 30h3v1h-3zM101 30h3v1h-3zM107 30h3v1h-3zM113 30h3v1h-3zM119 30h3v1h-3zM125 30h3v1h-3zM131 30h3v1h-3zM137 30h3v1h-3zM143 30h3v1h-3zM149 30h3v1h-3zM155 30h3v1h-3zM161 30h3v1h-3zM167 30h3v1h-3zM173 30h3v1h-3zM179 30h3v1h-3zM185 30h3v1h-3zM191 30h3v1h-3zM197 30h3v1h-3zM203 30h3v1h-3zM209 30h3v1h-3zM215 30h3v1h-3zM221 30h3v1h-3zM227 30h3v1h-3zM233 30h3v1h-3zM239 30h3v1h-3zM245 30h3v1h-3zM251 30h3v1h-3zM257 30h3v1h-3zM263 30h3v1h-3zM269 30h3v1h-3zM275 30h3v1h-3zM281 30h3v1h-3zM287 30h3v1h-3zM293 30h3v1h-3zM299 30h3v1h-3zM305 30h3v1h-3zM311 30h3v1h-3zM317 30h3v1h-3zM323 30h3v1h-3zM329 30h3v1h-3zM335 30h3v1h-3zM341 30h3v1h-3zM347 30h3v1h-3zM353 30h3v1h-3zM359 30h3v1h-3zM365 30h3v1h-3zM371 30h3v1h-3zM377 30h3v1h-3zM383 30h3v1h-3zM389 30h3v1h-3zM395 30h3v1h-3zM401 30h3v1h-3zM407 30h3v1h-3zM413 30h3v1h-3zM419 30h3v1h-3zM425 30h3v1h-3zM431 30h3v1h-3zM437 30h3v1h-3zM443 30h3v1h-3zM449 30h3v1h-3zM455 30h3v1h-3zM461 30h3v1h-3zM467 30h3v1h-3zM473 30h3v1h-3zM479 30h3v1h-3zM485 30h3v1h-3zM491 30h3v1h-3zM497 30h3v1h-3zM503 30h3v1h-3zM509 30h3v1h-3zM515 30h3v1h-3zM521 30h3v1h-3zM527 30h3v1h-3zM533 30h3v1h-3zM539 30h3v1h-3zM545 30h3v1h-3zM551 30h3v1h-3zM557 30h3v1h-3zM563 30h3v1h-3zM569 30h3v1h-3zM575 30h3v1h-3zM581 30h3v1h-3zM587 30h3v1h-3zM593 30h3v1h-3zM599 30h3v1h-3zM605 30h3v1h-3zM611 30h3v1h-3zM617 30h3v1h-3zM623 30h3v1h-3zM629 30h3v1h-3zM635 30h3v1h-3zM641 30h3v1h-3zM647 30h3v1h-3zM653 30h3v1h-3zM659 30h3v1h-3zM665 30h3v1h-3zM671 30h3v1h-3zM677 30h3v1h-3zM683 30h3v1h-3zM689 30h3v1h-3zM695 30h3v1h-3zM701 30h3v1h-3zM707 30h3v1h-3zM713 30h3v1h-3zM719 30h3v1h-3zM725 30h3v1h-3zM731 30h3v1h-3zM737 30h3v1h-3zM743 30h3v1h-3zM749 30h3v1h-3zM755 30h3v1h-3zM761 30h3v1h-3zM767 30h3v1h-3zM773 30h3v1h-3zM779 30h3v1h-3zM785 30h3v1h-3zM791 30h3v1h-3zM797 30h3v1h-3zM803 30h3v1h-3zM809 30h3v1h-3zM815 30h3v1h-3zM821 30h3v1h-3zM827 30h3v1h-3zM833 30h3v1h-3zM839 30h3v1h-3zM845 30h3v1h-3zM851 30h3v1h-3zM857 30h3v1h-3zM863 30h3v1h-3zM869 30h3v1h-3zM875 30h3v1h-3zM881 30h3v1h-3zM887 30h3v1h-3zM893 30h3v1h-3zM899 30h3v1h-3zM905 30h3v1h-3zM911 30h3v1h-3zM917 30h3v1h-3zM923 30h3v1h-3zM929 30h3v1h-3zM935 30h3v1h-3zM941 30h3v1h-3zM947 30h3v1h-3zM953 30h3v1h-3zM959 30h3v1h-3zM965 30h3v1h-3zM971 30h3v1h-3zM977 30h3v1h-3zM983 30h3v1h-3zM989 30h3v1h-3zM995 30h3v1h-3zM1001 30h3v1h-3zM1007 30h3v1h-3zM1013 30h3v1h-3zM1019 30h3v1h-3zM1025 30h3v1h-3zM1031 30h3v1h-3zM1037 30h3v1h-3zM1043 30h3v1h-3zM1049 30h3v1h-3zM1055 30h3v1h-3zM1061 30h3v1h-3zM1067 30h3v1h-3zM1073 30h3v1h-3zM1079 30h3v1h-3zM1085 30h3v1h-3zM1091 30h3v1h-3zM1097 30h3v1h-3zM1103 30h3v1h-3zM1109 30h3v1h-3zM1115 30h3v1h-3zM1121 30h3v1h-3zM1127 30h3v1h-3zM1133 30h3v1h-3zM1139 30h3v1h-3zM1145 30h3v1h-3zM1151 30h3v1h-3zM1157 30h3v1h-3zM1163 30h3v1h-3zM1169 30h3v1h-3zM1175 30h3v1h-3zM1181 30h3v1h-3zM1187 30h3v1h-3zM1193 30h3v1h-3zM1199 30h3v1h-3zM1205 30h3v1h-3zM1211 30h3v1h-3zM1217 30h3v1h-3zM1223 30h3v1h-3zM1229 30h3v1h-3zM1235 30h3v1h-3zM1241 30h3v1h-3zM1247 30h3v1h-3zM1253 30h3v1h-3zM1259 30h3v1h-3zM1265 30h3v1h-3zM1271 30h3v1h-3zM1277 30h3v1h-3zM1283 30h3v1h-3zM1289 30h3v1h-3zM1295 30h3v1h-3zM1301 30h3v1h-3zM1307 30h3v1h-3zM1313 30h3v1h-3zM1319 30h3v1h-3zM1325 30h3v1h-3zM1331 30h3v1h-3zM1337 30h3v1h-3zM1343 30h3v1h-3zM1349 30h3v1h-3zM1355 30h3v1h-3zM1361 30h3v1h-3zM1367 30h3v1h-3zM1373 30h3v1h-3zM1379 30h3v1h-3zM1385 30h3v1h-3zM1391 30h3v1h-3zM1397 30h3v1h-3zM1403 30h3v1h-3zM1409 30h3v1h-3zM1415 30h3v1h-3zM1421 30h3v1h-3zM1427 30h3v1h-3zM1433 30h3v1h-3zM1439 30h3v1h-3zM1445 30h3v1h-3zM1451 30h3v1h-3zM1457 30h3v1h-3zM1463 30h3v1h-3zM1469 30h3v1h-3zM1475 30h3v1h-3zM1481 30h3v1h-3zM1487 30h3v1h-3zM1493 30h3v1h-3zM1499 30h3v1h-3zM1505 30h3v1h-3zM1511 30h3v1h-3zM1517 30h3v1h-3zM1523 30h3v1h-3zM1529 30h3v1h-3zM1535 30h3v1h-3zM1541 30h3v1h-3zM1547 30h3v1h-3zM1553 30h3v1h-3zM1559 30h3v1h-3zM1565 30h3v1h-3zM1571 30h3v1h-3zM1577 30h3v1h-3zM1583 30h3v1h-3zM1589 30h3v1h-3zM1595 30h3v1h-3zM1601 30h3v1h-3zM1607 30h3v1h-3zM1613 30h3v1h-3zM1619 30h3v1h-3zM1625 30h3v1h-3zM1631 30h3v1h-3zM1637 30h3v1h-3zM1643 30h3v1h-3zM1649 30h3v1h-3zM1655 30h3v1h-3zM1661 30h3v1h-3zM1667 30h3v1h-3zM1673 30h3v1h-3zM1679 30h3v1h-3zM1685 30h3v1h-3zM1691 30h3v1h-3zM1697 30h3v1h-3zM1703 30h3v1h-3zM1709 30h3v1h-3zM1715 30h3v1h-3zM1721 30h3v1h-3zM1727 30h3v1h-3zM1733 30h3v1h-3zM1739 30h3v1h-3zM1745 30h3v1h-3zM1751 30h3v1h-3zM1757 30h3v1h-3zM1763 30h3v1h-3zM1769 30h3v1h-3zM1775 30h3v1h-3zM1781 30h3v1h-3zM1787 30h3v1h-3zM1793 30h3v1h-3zM1799 30h3v1h-3zM1805 30h3v1h-3zM1811 30h3v1h-3zM1817 30h3v1h-3zM1823 30h3v1h-3zM1829 30h3v1h-3zM1835 30h3v1h-3zM1841 30h3v1h-3zM1847 30h3v1h-3z"/><path fill="#ff5a5a" d="M414 391h3v1h-3zM420 391h3v1h-3zM426 391h3v1h-3zM432 391h3v1h-3zM438 391h3v1h-3zM444 391h3v1h-3zM450 391h3v1h-3zM456 391h3v1h-3zM462 391h3v1h-3zM468 391h3v1h-3zM474 391h3v1h-3zM480 391h3v1h-3zM486 391h3v1h-3zM492 391h3v1h-3zM498 391h3v1h-3zM504 391h3v1h-3zM510 391h3v1h-3zM516 391h3v1h-3zM522 391h3v1h-3zM528 391h3v1h-3zM534 391h3v1h-3zM540 391h3v1h-3zM546 391h3v1h-3zM552 391h3v1h-3zM558 391h3v1h-3zM564 391h3v1h-3zM570 391h3v1h-3zM576 391h3v1h-3zM582 391h3v1h-3zM588 391h3v1h-3zM594 391h3v1h-3zM600 391h3v1h-3zM606 391h3v1h-3zM612 391h3v1h-3zM618 391h3v1h-3zM624 391h3v1h-3zM630 391h3v1h-3zM636 391h3v1h-3zM642 391h3v1h-3zM648 391h3v1h-3zM654 391h3v1h-3zM660 391h3v1h-3zM666 391h3v1h-3zM672 391h3v1h-3zM678 391h3v1h-3zM684 391h3v1h-3zM690 391h3v1h-3zM696 391h3v1h-3zM702 391h3v1h-3zM708 391h3v1h-3zM714 391h3v1h-3zM720 391h3v1h-3zM726 391h3v1h-3zM732 391h3v1h-3zM738 391h3v1h-3zM744 391h3v1h-3zM750 391h3v1h-3zM756 391h3v1h-3zM762 391h3v1h-3zM768 391h3v1h-3zM774 391h3v1h-3zM780 391h3v1h-3zM786 391h3v1h-3zM792 391h3v1h-3zM798 391h3v1h-3zM804 391h3v1h-3zM810 391h3v1h-3zM816 391h3v1h-3zM822 391h3v1h-3zM828 391h3v1h-3zM834 391h3v1h-3zM840 391h3v1h-3zM846 391h3v1h-3zM852 391h3v1h-3zM858 391h3v1h-3zM864 391h3v1h-3zM870 391h3v1h-3zM876 391h3v1h-3zM882 391h3v1h-3zM888 391h3v1h-3zM894 391h3v1h-3zM900 391h3v1h-3zM906 391h3v1h-3zM912 391h3v1h-3zM918 391h3v1h-3zM924 391h3v1h-3zM930 391h3v1h-3zM936 391h3v1h-3zM942 391h3v1h-3zM948 391h3v1h-3zM954 391h3v1h-3zM960 391h3v1h-3zM966 391h3v1h-3zM972 391h3v1h-3zM978 391h3v1h-3zM984 391h3v1h-3zM990 391h3v1h-3zM996 391h3v1h-3zM1002 391h3v1h-3zM1008 391h3v1h-3zM1014 391h3v1h-3zM1020 391h3v1h-3zM1026 391h3v1h-3zM1032 391h3v1h-3zM1038 391h3v1h-3zM1044 391h3v1h-3zM1050 391h3v1h-3zM1056 391h3v1h-3zM1062 391h3v1h-3zM1068 391h3v1h-3zM1074 391h3v1h-3zM1080 391h3v1h-3zM1086 391h3v1h-3zM1092 391h3v1h-3zM1098 391h3v1h-3zM1104 391h3v1h-3zM1110 391h3v1h-3zM1116 391h3v1h-3zM1122 391h3v1h-3zM1128 391h3v1h-3zM1134 391h3v1h-3zM1140 391h3v1h-3zM1146 391h3v1h-3zM1152 391h3v1h-3zM1158 391h3v1h-3zM1164 391h3v1h-3zM1170 391h3v1h-3zM1176 391h3v1h-3zM1182 391h3v1h-3zM1188 391h3v1h-3zM1194 391h3v1h-3zM1200 391h3v1h-3zM1206 391h3v1h-3zM1212 391h3v1h-3zM1218 391h3v1h-3zM1224 391h3v1h-3zM1230 391h3v1h-3zM1236 391h3v1h-3zM1242 391h3v1h-3zM1248 391h3v1h-3zM1254 391h3v1h-3zM1260 391h3v1h-3zM1266 391h3v1h-3zM1272 391h3v1h-3zM1278 391h3v1h-3zM1284 391h3v1h-3zM1290 391h3v1h-3zM1296 391h3v1h-3zM1302 391h3v1h-3zM1308 391h3v1h-3zM1314 391h3v1h-3zM1320 391h3v1h-3zM1326 391h3v1h-3zM1332 391h3v1h-3zM1338 391h3v1h-3zM1344 391h3v1h-3zM1350 391h3v1h-3zM1356 391h3v1h-3zM1362 391h3v1h-3zM1368 391h3v1h-3zM1374 391h3v1h-3zM1380 391h3v1h-3zM1386 391h3v1h-3zM1392 391h3v1h-3zM1398 391h3v1h-3zM1404 391h3v1h-3zM1410 391h3v1h-3zM1416 391h3v1h-3zM1422 391h3v1h-3zM1428 391h3v1h-3zM1434 391h3v1h-3zM1440 391h3v1h-3zM1446 391h3v1h-3zM1452 391h3v1h-3zM1458 391h3v1h-3zM1464 391h3v1h-3zM1470 391h3v1h-3zM1476 391h3v1h-3zM1482 391h3v1h-3zM1488 391h3v1h-3zM1494 391h3v1h-3zM1500 391h3v1h-3zM1506 391h3v1h-3zM1512 391h3v1h-3zM1518 391h3v1h-3zM1524 391h3v1h-3zM1530 391h3v1h-3zM1536 391h3v1h-3zM1542 391h3v1h-3zM1548 391h3v1h-3zM1554 391h3v1h-3zM1560 391h3v1h-3zM1566 391h3v1h-3zM1572 391h3v1h-3zM1578 391h3v1h-3zM1584 391h3v1h-3zM1590 391h3v1h-3zM1596 391h3v1h-3zM1602 391h3v1h-3zM1608 391h3v1h-3zM1614 391h3v1h-3zM1620 391h3v1h-3zM1626 391h3v1h-3zM1632 391h3v1h-3zM1638 391h3v1h-3zM1644 391h3v1h-3zM1650 391h3v1h-3zM1656 391h3v1h-3zM1662 391h3v1h-3zM1668 391h3v1h-3zM1674 391h3v1h-3zM1680 391h3v1h-3zM1686 391h3v1h-3zM1692 391h3v1h-3zM1698 391h3v1h-3zM1704 391h3v1h-3zM1710 391h3v1h-3zM1716 391h3v1h-3zM1722 391h3v1h-3zM1728 391h3v1h-3zM1734 391h3v1h-3zM1740 391h3v1h-3zM1746 391h3v1h-3zM1752 391h3v1h-3zM1758 391h3v1h-3zM1764 391h3v1h-3zM1770 391h3v1h-3zM1776 391h3v1h-3zM1782 391h3v1h-3zM1788 391h3v1h-3zM1794 391h3v1h-3zM1800 391h3v1h-3zM1806 391h3v1h-3zM1812 391h3v1h-3zM1818 391h3v1h-3zM1824 391h3v1h-3zM1830 391h3v1h-3zM1836 391h3v1h-3zM1842 391h3v1h-3zM1848 391h2v1h-2z"/><path fill="#0000ff" d="M2 533h3v1h-3zM8 533h3v1h-3zM14 533h3v1h-3zM20 533h3v1h-3zM26 533h3v1h-3zM32 533h3v1h-3zM38 533h3v1h-3zM44 533h3v1h-3zM50 533h3v1h-3zM56 533h3v1h-3zM62 533h3v1h-3zM68 533h3v1h-3zM74 533h3v1h-3zM80 533h3v1h-3zM86 533h3v1h-3zM92 533h3v1h-3zM98 533h3v1h-3zM104 533h3v1h-3zM110 533h3v1h-3zM116 533h3v1h-3zM122 533h3v1h-3zM128 533h3v1h-3zM134 533h3v1h-3zM140 533h3v1h-3zM146 533h3v1h-3zM152 533h3v1h-3zM158 533h3v1h-3zM164 533h3v1h-3zM170 533h3v1h-3zM176 533h3v1h-3zM182 533h3v1h-3zM188 533h3v1h-3zM194 533h3v1h-3zM200 533h3v1h-3zM206 533h3v1h-3zM212 533h3v1h-3zM218 533h3v1h-3zM224 533h3v1h-3zM230 533h3v1h-3zM236 533h3v1h-3zM242 533h3v1h-3zM248 533h3v1h-3zM254 533h3v1h-3zM260 533h3v1h-3zM266 533h3v1h-3zM272 533h3v1h-3zM278 533h3v1h-3zM284 533h3v1h-3zM290 533h3v1h-3zM296 533h3v1h-3zM302 533h3v1h-3zM308 533h3v1h-3zM314 533h3v1h-3zM320 533h3v1h-3zM326 533h3v1h-3zM332 533h3v1h-3zM338 533h3v1h-3zM344 533h3v1h-3zM350 533h3v1h-3zM356 533h3v1h-3zM362 533h3v1h-3zM368 533h3v1h-3zM374 533h3v1h-3zM380 533h3v1h-3zM386 533h3v1h-3zM392 533h3v1h-3zM398 533h3v1h-3zM404 533h3v1h-3zM410 533h3v1h-3zM416 533h3v1h-3zM422 533h3v1h-3zM428 533h3v1h-3zM434 533h3v1h-3zM440 533h3v1h-3zM446 533h3v1h-3zM452 533h3v1h-3zM458 533h3v1h-3zM464 533h3v1h-3zM470 533h3v1h-3zM476 533h3v1h-3zM482 533h3v1h-3zM488 533h3v1h-3zM494 533h3v1h-3zM500 533h3v1h-3zM506 533h3v1h-3zM512 533h3v1h-3zM518 533h3v1h-3zM524 533h3v1h-3zM530 533h3v1h-3zM536 533h3v1h-3zM542 533h3v1h-3zM548 533h3v1h-3zM554 533h3v1h-3zM560 533h3v1h-3zM566 533h3v1h-3zM572 533h3v1h-3zM578 533h3v1h-3zM584 533h3v1h-3zM590 533h3v1h-3zM596 533h3v1h-3zM602 533h3v1h-3zM608 533h3v1h-3zM614 533h3v1h-3zM620 533h3v1h-3zM626 533h3v1h-3zM632 533h3v1h-3zM638 533h3v1h-3zM644 533h3v1h-3zM650 533h3v1h-3zM656 533h3v1h-3zM662 533h3v1h-3zM668 533h3v1h-3zM674 533h3v1h-3zM680 533h3v1h-3zM686 533h3v1h-3zM692 533h3v1h-3zM698 533h3v1h-3zM704 533h3v1h-3zM710 533h3v1h-3zM716 533h3v1h-3zM722 533h3v1h-3zM728 533h3v1h-3zM734 533h3v1h-3zM740 533h3v1h-3zM746 533h3v1h-3zM752 533h3v1h-3zM758 533h3v1h-3zM764 533h3v1h-3zM770 533h3v1h-3zM776 533h3v1h-3zM782 533h3v1h-3zM788 533h3v1h-3zM794 533h3v1h-3zM800 533h3v1h-3zM806 533h3v1h-3zM812 533h3v1h-3zM818 533h3v1h-3zM824 533h3v1h-3zM830 533h3v1h-3zM836 533h3v1h-3zM842 533h3v1h-3zM848 533h3v1h-3zM854 533h3v1h-3zM860 533h3v1h-3zM866 533h3v1h-3zM872 533h3v1h-3zM878 533h3v1h-3zM884 533h3v1h-3zM890 533h3v1h-3zM896 533h3v1h-3zM902 533h3v1h-3zM908 533h3v1h-3zM914 533h3v1h-3zM920 533h3v1h-3zM926 533h3v1h-3zM932 533h3v1h-3zM938 533h3v1h-3zM944 533h3v1h-3zM950 533h3v1h-3zM956 533h3v1h-3zM962 533h3v1h-3zM968 533h3v1h-3zM974 533h3v1h-3zM980 533h3v1h-3zM986 533h3v1h-3zM992 533h3v1h-3zM998 533h3v1h-3zM1004 533h3v1h-3zM1010 533h3v1h-3zM1016 533h3v1h-3zM1022 533h3v1h-3zM1028 533h3v1h-3zM1034 533h3v1h-3zM1040 533h3v1h-3zM1046 533h3v1h-3zM1052 533h3v1h-3zM1058 533h3v1h-3zM1064 533h3v1h-3zM1070 533h3v1h-3zM1076 533h3v1h-3zM1082 533h3v1h-3zM1088 533h3v1h-3zM1094 533h3v1h-3zM1100 533h3v1h-3zM1106 533h3v1h-3zM1112 533h3v1h-3zM1118 533h3v1h-3zM1124 533h3v1h-3zM1130 533h3v1h-3zM1136 533h3v1h-3zM1142 533h3v1h-3zM1148 533h3v1h-3zM1154 533h3v1h-3zM1160 533h3v1h-3zM1166 533h3v1h-3zM1172 533h3v1h-3zM1178 533h3v1h-3zM1184 533h3v1h-3zM1190 533h3v1h-3zM1196 533h3v1h-3zM1202 533h3v1h-3zM1208 533h3v1h-3zM1214 533h3v1h-3zM1220 533h3v1h-3zM1226 533h3v1h-3zM1232 533h3v1h-3zM1238 533h3v1h-3zM1244 533h3v1h-3zM1250 533h3v1h-3zM1256 533h3v1h-3zM1262 533h3v1h-3zM1268 533h3v1h-3zM1274 533h3v1h-3zM1280 533h3v1h-3zM1286 533h3v1h-3zM1292 533h3v1h-3zM1298 533h3v1h-3zM1304 533h3v1h-3zM1310 533h3v1h-3zM1316 533h3v1h-3zM1322 533h3v1h-3zM1328 533h3v1h-3zM1334 533h3v1h-3zM1340 533h3v1h-3zM1346 533h3v1h-3zM1352 533h3v1h-3zM1358 533h3v1h-3zM1364 533h3v1h-3zM1370 533h3v1h-3zM1376 533h3v1h-3zM1382 533h3v1h-3zM1388 533h3v1h-3zM1394 533h3v1h-3zM1400 533h3v1h-3zM1406 533h3v1h-3zM1412 533h3v1h-3zM1418 533h3v1h-3zM1424 533h3v1h-3zM1430 533h3v1h-3zM1436 533h3v1h-3zM1442 533h3v1h-3zM1448 533h3v1h-3zM1454 533h3v1h-3zM1460 533h3v1h-3zM1466 533h3v1h-3zM1472 533h3v1h-3zM1478 533h3v1h-3zM1484 533h3v1h-3zM1490 533h3v1h-3zM1496 533h3v1h-3zM1502 533h3v1h-3zM1508 533h3v1h-3zM1514 533h3v1h-3zM1520 533h3v1h-3zM1526 533h3v1h-3zM1532 533h3v1h-3zM1538 533h3v1h-3zM1544 533h3v1h-3zM1550 533h3v1h-3zM1556 533h3v1h-3zM1562 533h3v1h-3zM1568 533h3v1h-3zM1574 533h3v1h-3zM1580 533h3v1h-3zM1586 533h3v1h-3zM1592 533h3v1h-3zM1598 533h3v1h-3zM1604 533h3v1h-3zM1610 533h3v1h-3zM1616 533h3v1h-3zM1622 533h3v1h-3zM1628 533h3v1h-3zM1634 533h3v1h-3zM1640 533h3v1h-3zM1646 533h3v1h-3zM1652 533h3v1h-3zM1658 533h3v1h-3zM1664 533h3v1h-3zM1670 533h3v1h-3zM1676 533h3v1h-3zM1682 533h3v1h-3zM1688 533h3v1h-3zM1694 533h3v1h-3zM1700 533h3v1h-3zM1706 533h3v1h-3zM1712 533h3v1h-3zM1718 533h3v1h-3zM1724 533h3v1h-3zM1730 533h3v1h-3zM1736 533h3v1h-3zM1742 533h3v1h-3zM1748 533h3v1h-3zM1754 533h3v1h-3zM1760 533h3v1h-3zM1766 533h3v1h-3zM1772 533h3v1h-3zM1778 533h3v1h-3zM1784 533h3v1h-3zM1790 533h3v1h-3zM1796 533h3v1h-3zM1802 533h3v1h-3zM1808 533h3v1h-3zM1814 533h3v1h-3zM1820 533h3v1h-3zM1826 533h3v1h-3zM1832 533h3v1h-3zM1838 533h3v1h-3zM1844 533h3v1h-3zM1850 533h3v1h-3z"/><path fill="#00f07a" d="M5 809h3v1h-3zM11 809h3v1h-3zM17 809h3v1h-3zM23 809h3v1h-3zM29 809h3v1h-3zM35 809h3v1h-3zM41 809h3v1h-3zM47 809h3v1h-3zM53 809h3v1h-3zM59 809h3v1h-3zM65 809h3v1h-3zM71 809h3v1h-3zM77 809h3v1h-3zM83 809h3v1h-3zM89 809h3v1h-3zM95 809h3v1h-3zM101 809h3v1h-3zM107 809h3v1h-3zM113 809h3v1h-3zM119 809h3v1h-3zM125 809h3v1h-3zM131 809h3v1h-3zM137 809h3v1h-3zM143 809h3v1h-3zM149 809h3v1h-3zM155 809h3v1h-3zM161 809h3v1h-3zM167 809h3v1h-3zM173 809h3v1h-3zM179 809h3v1h-3zM185 809h3v1h-3zM191 809h3v1h-3zM197 809h3v1h-3zM203 809h3v1h-3zM209 809h3v1h-3zM215 809h3v1h-3zM221 809h3v1h-3zM227 809h3v1h-3zM233 809h3v1h-3zM239 809h3v1h-3zM245 809h3v1h-3zM251 809h3v1h-3zM257 809h3v1h-3zM263 809h3v1h-3zM269 809h3v1h-3zM275 809h3v1h-3zM281 809h3v1h-3zM287 809h3v1h-3zM293 809h3v1h-3zM299 809h3v1h-3zM305 809h3v1h-3zM311 809h3v1h-3zM317 809h3v1h-3zM323 809h3v1h-3zM329 809h3v1h-3zM335 809h3v1h-3zM341 809h3v1h-3zM347 809h3v1h-3zM353 809h3v1h-3zM359 809h3v1h-3zM365 809h3v1h-3zM371 809h3v1h-3zM377 809h3v1h-3zM383 809h3v1h-3zM389 809h3v1h-3zM395 809h3v1h-3zM401 809h3v1h-3zM407 809h3v1h-3zM413 809h3v1h-3zM419 809h3v1h-3zM425 809h3v1h-3zM431 809h3v1h-3zM437 809h3v1h-3zM443 809h3v1h-3zM449 809h3v1h-3zM455 809h3v1h-3zM461 809h3v1h-3zM467 809h3v1h-3zM473 809h3v1h-3zM479 809h3v1h-3zM485 809h3v1h-3zM491 809h3v1h-3zM497 809h3v1h-3zM503 809h3v1h-3zM509 809h3v1h-3zM515 809h3v1h-3zM521 809h3v1h-3zM527 809h3v1h-3zM533 809h3v1h-3zM539 809h3v1h-3zM545 809h3v1h-3zM551 809h3v1h-3zM557 809h3v1h-3zM563 809h3v1h-3zM569 809h3v1h-3zM575 809h3v1h-3zM581 809h3v1h-3zM587 809h3v1h-3zM593 809h3v1h-3zM599 809h3v1h-3zM605 809h3v1h-3zM611 809h3v1h-3zM617 809h3v1h-3zM623 809h3v1h-3zM629 809h3v1h-3zM635 809h3v1h-3zM641 809h3v1h-3zM647 809h3v1h-3zM653 809h3v1h-3zM659 809h3v1h-3zM665 809h3v1h-3zM671 809h3v1h-3zM677 809h3v1h-3zM683 809h3v1h-3zM689 809h3v1h-3zM695 809h3v1h-3zM701 809h3v1h-3zM707 809h3v1h-3zM713 809h3v1h-3zM719 809h3v1h-3zM725 809h3v1h-3zM731 809h3v1h-3zM737 809h3v1h-3zM743 809h3v1h-3zM749 809h3v1h-3zM755 809h3v1h-3zM761 809h3v1h-3zM767 809h3v1h-3zM773 809h3v1h-3zM779 809h3v1h-3zM785 809h3v1h-3zM791 809h3v1h-3zM797 809h3v1h-3zM803 809h3v1h-3zM809 809h3v1h-3zM815 809h3v1h-3zM821 809h3v1h-3zM827 809h3v1h-3zM833 809h3v1h-3zM839 809h3v1h-3zM845 809h3v1h-3zM851 809h3v1h-3zM857 809h3v1h-3zM863 809h3v1h-3zM869 809h3v1h-3zM875 809h3v1h-3zM881 809h3v1h-3zM887 809h3v1h-3zM893 809h3v1h-3zM899 809h3v1h-3zM905 809h3v1h-3zM911 809h3v1h-3zM917 809h3v1h-3zM923 809h3v1h-3zM929 809h3v1h-3zM935 809h3v1h-3zM941 809h3v1h-3zM947 809h3v1h-3zM953 809h3v1h-3zM959 809h3v1h-3zM965 809h3v1h-3zM971 809h3v1h-3zM977 809h3v1h-3zM983 809h3v1h-3zM989 809h3v1h-3zM995 809h3v1h-3zM1001 809h3v1h-3zM1007 809h3v1h-3zM1013 809h3v1h-3zM1019 809h3v1h-3zM1025 809h3v1h-3zM1031 809h3v1h-3zM1037 809h3v1h-3zM1043 809h3v1h-3zM1049 809h3v1h-3zM1055 809h3v1h-3zM1061 809h3v1h-3zM1067 809h3v1h-3zM1073 809h3v1h-3zM1079 809h3v1h-3zM1085 809h3v1h-3zM1091 809h3v1h-3zM1097 809h3v1h-3zM1103 809h3v1h-3zM1109 809h3v1h-3zM1115 809h3v1h-3zM1121 809h3v1h-3zM1127 809h3v1h-3zM1133 809h3v1h-3zM1139 809h3v1h-3zM1145 809h3v1h-3zM1151 809h3v1h-3zM1157 809h3v1h-3zM1163 809h3v1h-3zM1169 809h3v1h-3zM1175 809h3v1h-3zM1181 809h3v1h-3zM1187 809h3v1h-3zM1193 809h3v1h-3zM1199 809h3v1h-3zM1205 809h3v1h-3zM1211 809h3v1h-3zM1217 809h3v1h-3zM1223 809h3v1h-3zM1229 809h3v1h-3zM1235 809h3v1h-3zM1241 809h3v1h-3zM1247 809h3v1h-3zM1253 809h3v1h-3zM1259 809h3v1h-3zM1265 809h3v1h-3zM1271 809h3v1h-3zM1277 809h3v1h-3zM1283 809h3v1h-3zM1289 809h3v1h-3zM1295 809h3v1h-3zM1301 809h3v1h-3zM1307 809h3v1h-3zM1313 809h3v1h-3zM1319 809h3v1h-3zM1325 809h3v1h-3zM1331 809h3v1h-3zM1337 809h3v1h-3zM1343 809h3v1h-3zM1349 809h3v1h-3zM1355 809h3v1h-3zM1361 809h3v1h-3zM1367 809h3v1h-3zM1373 809h3v1h-3zM1379 809h3v1h-3zM1385 809h3v1h-3zM1391 809h3v1h-3zM1397 809h3v1h-3zM1403 809h3v1h-3zM1409 809h3v1h-3zM1415 809h3v1h-3zM1421 809h3v1h-3zM1427 809h3v1h-3zM1433 809h3v1h-3zM1439 809h3v1h-3zM1445 809h3v1h-3zM1451 809h3v1h-3zM1457 809h3v1h-3zM1463 809h3v1h-3zM1469 809h3v1h-3zM1475 809h3v1h-3zM1481 809h3v1h-3zM1487 809h3v1h-3zM1493 809h3v1h-3zM1499 809h3v1h-3zM1505 809h3v1h-3zM1511 809h3v1h-3zM1517 809h3v1h-3zM1523 809h3v1h-3zM1529 809h3v1h-3zM1535 809h3v1h-3zM1541 809h3v1h-3zM1547 809h3v1h-3zM1553 809h3v1h-3zM1559 809h3v1h-3zM1565 809h3v1h-3zM1571 809h3v1h-3zM1577 809h3v1h-3zM1583 809h3v1h-3zM1589 809h3v1h-3zM1595 809h3v1h-3zM1601 809h3v1h-3zM1607 809h3v1h-3zM1613 809h3v1h-3zM1619 809h3v1h-3zM1625 809h3v1h-3zM1631 809h3v1h-3zM1637 809h3v1h-3zM1643 809h3v1h-3zM1649 809h3v1h-3zM1655 809h3v1h-3zM1661 809h3v1h-3zM1667 809h3v1h-3zM1673 809h3v1h-3zM1679 809h3v1h-3zM1685 809h3v1h-3zM1691 809h3v1h-3zM1697 809h3v1h-3zM1703 809h3v1h-3zM1709 809h3v1h-3zM1715 809h3v1h-3zM1721 809h3v1h-3zM1727 809h3v1h-3zM1733 809h3v1h-3zM1739 809h3v1h-3zM1745 809h3v1h-3zM1751 809h3v1h-3zM1757 809h3v1h-3zM1763 809h3v1h-3zM1769 809h3v1h-3zM1775 809h3v1h-3zM1781 809h3v1h-3zM1787 809h3v1h-3zM1793 809h3v1h-3zM1799 809h3v1h-3zM1805 809h3v1h-3zM1811 809h3v1h-3zM1817 809h3v1h-3zM1823 809h3v1h-3zM1829 809h3v1h-3zM1835 809h3v1h-3zM1841 809h3v1h-3zM1847 809h3v1h-3z"/><path fill="#c0c0c0" d="M1853 0h1v948h-1zM1 839h1915v1h-1915zM1 932h1915v1h-1915zM0 947h1916v1h-1916zM1854 33h3v1h-3zM1854 74h3v1h-3zM1854 114h3v1h-3zM1854 154h3v1h-3zM1854 194h3v1h-3zM1854 234h3v1h-3zM1854 274h3v1h-3zM1854 314h3v1h-3zM1854 354h3v1h-3zM1854 394h3v1h-3zM1854 434h3v1h-3zM1854 474h3v1h-3zM1854 514h3v1h-3zM1854 554h3v1h-3zM1854 594h3v1h-3zM1854 634h3v1h-3zM1854 674h3v1h-3zM1854 714h3v1h-3zM1854 754h3v1h-3zM1854 794h3v1h-3zM1854 864h3v1h-3zM1854 928h3v1h-3zM1838 933h1v14h-1z"/><path fill="#000" d="M0 0h1853v1h-1853zM0 0h1v948h-1zM0 947h1916v1h-1916z"/><path fill="#c0c0c0" d="M95 933h1v15h-1zM161 933h1v15h-1zM224 933h1v15h-1zM288 933h1v15h-1zM348 933h1v15h-1zM417 933h1v15h-1zM474 933h1v15h-1zM537 933h1v15h-1zM600 933h1v15h-1zM663 933h1v15h-1zM730 933h1v15h-1zM796 933h1v15h-1zM859 933h1v15h-1zM925 933h1v15h-1zM988 933h1v15h-1zM1051 933h1v15h-1zM1111 933h1v15h-1zM1181 933h1v15h-1zM1235 933h1v15h-1zM1301 933h1v15h-1zM1367 933h1v15h-1zM1430 933h1v15h-1zM1499 933h1v15h-1zM1562 933h1v15h-1zM1629 933h1v15h-1zM1695 933h1v15h-1zM1752 933h1v15h-1zM1818 933h1v15h-1z"/><path fill="#000" d="M5 860h1848v1h-1848zM29 885h1824v1h-1824zM5 911h1848v1h-1848z"/><path fill="#008080" d="M946 751h10v1h-10zM956 750h18v1h-18zM974 749h18v1h-18zM992 748h18v1h-18zM1010 747h18v1h-18zM1028 746h19v1h-19zM1047 745h18v1h-18zM1065 744h18v1h-18zM1083 743h18v1h-18zM1101 742h18v1h-18zM1119 741h18v1h-18zM1137 740h19v1h-19zM1156 739h18v1h-18zM1174 738h18v1h-18zM1192 737h18v1h-18zM1210 736h18v1h-18zM1228 735h19v1h-19zM1247 734h18v1h-18zM1265 733h18v1h-18zM1283 732h18v1h-18zM1301 731h18v1h-18zM1319 730h18v1h-18zM1337 729h19v1h-19zM1356 728h18v1h-18zM1374 727h18v1h-18zM1392 726h18v1h-18zM1410 725h18v1h-18zM1428 724h19v1h-19zM1447 723h18v1h-18zM1465 722h18v1h-18zM1483 721h18v1h-18zM1501 720h18v1h-18zM1519 719h18v1h-18zM1537 718h19v1h-19zM1556 717h18v1h-18zM1574 716h18v1h-18zM1592 715h18v1h-18zM1610 714h18v1h-18zM1628 713h10v1h-10zM946 809h9v1h-9zM955 808h18v1h-18zM973 807h18v1h-18zM991 806h18v1h-18zM1009 805h17v1h-17zM1026 804h18v1h-18zM1044 803h18v1h-18zM1062 802h17v1h-17zM1079 801h18v1h-18zM1097 800h18v1h-18zM1115 799h18v1h-18zM1133 798h17v1h-17zM1150 797h18v1h-18zM1168 796h18v1h-18zM1186 795h17v1h-17zM1203 794h18v1h-18zM1221 793h18v1h-18zM1239 792h18v1h-18zM1257 791h17v1h-17zM1274 790h18v1h-18zM1292 789h18v1h-18zM1310 788h17v1h-17zM1327 787h18v1h-18zM1345 786h18v1h-18zM1363 785h18v1h-18zM1381 784h17v1h-17zM1398 783h18v1h-18zM1416 782h18v1h-18zM1434 781h17v1h-17zM1451 780h18v1h-18zM1469 779h18v1h-18zM1487 778h18v1h-18zM1505 777h17v1h-17zM1522 776h18v1h-18zM1540 775h18v1h-18zM1558 774h17v1h-17zM1575 773h18v1h-18zM1593 772h18v1h-18zM1611 771h18v1h-18zM1629 770h9v1h-9z"/><path fill="#008000" d="M1592 696h1v1h-1zM1593 695h1v1h-1zM1594 694h1v1h-1zM1594 693h1v1h-1zM1595 692h1v1h-1zM1596 691h1v1h-1zM1597 690h1v1h-1zM1598 689h1v1h-1zM1599 688h1v1h-1zM1599 687h1v1h-1zM1600 686h1v1h-1zM1601 685h1v1h-1zM1602 684h1v1h-1zM1603 683h1v1h-1zM1604 682h1v1h-1zM1604 681h1v1h-1zM1605 680h1v1h-1zM1606 679h1v1h-1zM1607 678h1v1h-1zM1608 677h1v1h-1zM1608 676h1v1h-1zM1609 675h1v1h-1zM1610 674h1v1h-1zM1611 673h1v1h-1zM1612 672h1v1h-1zM1613 671h1v1h-1zM1613 670h1v1h-1zM1614 669h1v1h-1zM1615 668h1v1h-1zM1616 667h1v1h-1zM1617 666h1v1h-1zM1618 665h1v1h-1zM1618 664h1v1h-1zM1619 663h1v1h-1zM1620 662h1v1h-1zM1621 661h1v1h-1zM1622 660h1v1h-1zM1622 659h1v1h-1zM1623 658h1v1h-1zM1624 657h1v1h-1zM1625 656h1v1h-1zM1626 655h1v1h-1zM1627 654h1v1h-1zM1627 653h1v1h-1zM1628 652h1v1h-1zM1629 651h1v1h-1zM1630 650h1v1h-1zM1631 649h1v1h-1zM1632 648h1v1h-1zM1632 647h1v1h-1zM1633 646h1v1h-1zM1634 645h1v1h-1zM1635 644h1v1h-1zM1636 643h1v1h-1zM1637 642h1v1h-1zM1637 641h1v1h-1zM1638 640h1v1h-1zM1639 639h1v1h-1zM1640 638h1v1h-1zM1641 637h1v1h-1zM1641 636h1v1h-1zM1642 635h1v1h-1zM1643 634h1v1h-1zM1644 633h1v1h-1zM1645 632h1v1h-1zM1646 631h1v1h-1zM1646 630h1v1h-1zM1647 629h1v1h-1zM1648 628h1v1h-1zM1649 627h1v1h-1zM1650 626h1v1h-1zM1651 625h1v1h-1zM1651 624h1v1h-1zM1652 623h1v1h-1zM1653 622h1v1h-1zM1654 621h1v1h-1zM1655 620h1v1h-1zM1655 619h1v1h-1zM1656 618h1v1h-1zM1657 617h1v1h-1zM1658 616h1v1h-1zM1659 615h1v1h-1zM1660 614h1v1h-1zM1660 613h1v1h-1zM1661 612h1v1h-1zM1662 611h1v1h-1zM1663 610h1v1h-1zM1664 609h1v1h-1zM1665 608h1v1h-1zM1665 607h1v1h-1zM1666 606h1v1h-1zM1667 605h1v1h-1zM1668 604h1v1h-1zM1669 603h1v1h-1zM1669 602h1v1h-1zM1670 601h1v1h-1zM1671 600h1v1h-1zM1672 599h1v1h-1zM1673 598h1v1h-1zM1674 597h1v1h-1zM1674 596h1v1h-1zM1675 595h1v1h-1zM1676 594h1v1h-1zM1677 593h1v1h-1zM1678 592h1v1h-1zM1679 591h1v1h-1zM1679 590h1v1h-1zM1680 589h1v1h-1zM1681 588h1v1h-1zM1682 587h1v1h-1zM1683 586h1v1h-1zM1683 585h1v1h-1zM1684 584h1v1h-1zM1685 583h1v1h-1zM1686 582h1v1h-1zM1687 581h1v1h-1zM1688 580h1v1h-1zM1688 579h1v1h-1zM1689 578h1v1h-1zM1690 577h1v1h-1zM1691 576h1v1h-1zM1692 575h1v1h-1zM1693 574h1v1h-1zM1693 573h1v1h-1zM1694 572h1v1h-1zM1695 571h1v1h-1zM1696 570h1v1h-1zM1697 569h1v1h-1zM1697 568h1v1h-1zM1698 567h1v1h-1zM1699 566h1v1h-1zM1700 565h1v1h-1zM1701 564h1v1h-1zM1702 563h1v1h-1zM1702 562h1v1h-1zM1703 561h1v1h-1zM1704 560h1v1h-1zM1705 559h1v1h-1zM1706 558h1v1h-1zM1707 557h1v1h-1zM1707 556h1v1h-1zM1708 555h1v1h-1zM1709 554h1v1h-1zM1710 553h1v1h-1zM1711 552h1v1h-1zM1712 551h1v1h-1zM1712 550h1v1h-1zM1713 549h1v1h-1zM1714 548h1v1h-1zM1715 547h1v1h-1zM1716 546h1v1h-1zM1716 545h1v1h-1zM1717 544h1v1h-1zM1718 543h1v1h-1zM1719 542h1v1h-1zM1720 541h1v1h-1zM1721 540h1v1h-1zM1721 539h1v1h-1zM1722 538h1v1h-1zM1723 537h1v1h-1zM1724 536h1v1h-1zM1725 535h1v1h-1zM1726 534h1v1h-1zM1726 533h1v1h-1zM1727 532h1v1h-1zM1728 531h1v1h-1zM1729 530h1v1h-1zM1730 529h1v1h-1zM1730 528h1v1h-1zM1731 527h1v1h-1zM1732 526h1v1h-1zM1733 525h1v1h-1zM1734 524h1v1h-1zM1735 523h1v1h-1zM1735 522h1v1h-1zM1736 521h1v1h-1zM1737 520h1v1h-1zM1738 519h1v1h-1zM1739 518h1v1h-1zM1740 517h1v1h-1zM1740 516h1v1h-1zM1741 515h1v1h-1zM1742 514h1v1h-1zM1592 768h1v1h-1zM1593 767h1v1h-1zM1594 766h1v1h-1zM1594 765h1v1h-1zM1595 764h1v1h-1zM1596 763h1v1h-1zM1597 762h1v1h-1zM1598 761h1v1h-1zM1599 760h1v1h-1zM1599 759h1v1h-1zM1600 758h1v1h-1zM1601 757h1v1h-1zM1602 756h1v1h-1zM1603 755h1v1h-1zM1604 754h1v1h-1zM1604 753h1v1h-1zM1605 752h1v1h-1zM1606 751h1v1h-1zM1607 750h1v1h-1zM1608 749h1v1h-1zM1608 748h1v1h-1zM1609 747h1v1h-1zM1610 746h1v1h-1zM1611 745h1v1h-1zM1612 744h1v1h-1zM1613 743h1v1h-1zM1613 742h1v1h-1zM1614 741h1v1h-1zM1615 740h1v1h-1zM1616 739h1v1h-1zM1617 738h1v1h-1zM1618 737h1v1h-1zM1618 736h1v1h-1zM1619 735h1v1h-1zM1620 734h1v1h-1zM1621 733h1v1h-1zM1622 732h1v1h-1zM1622 731h1v1h-1zM1623 730h1v1h-1zM1624 729h1v1h-1zM1625 728h1v1h-1zM1626 727h1v1h-1zM1627 726h1v1h-1zM1627 725h1v1h-1zM1628 724h1v1h-1zM1629 723h1v1h-1zM1630 722h1v1h-1zM1631 721h1v1h-1zM1632 720h1v1h-1zM1632 719h1v1h-1zM1633 718h1v1h-1zM1634 717h1v1h-1zM1635 716h1v1h-1zM1636 715h1v1h-1zM1637 714h1v1h-1zM1637 713h1v1h-1zM1638 712h1v1h-1zM1639 711h1v1h-1zM1640 710h1v1h-1zM1641 709h1v1h-1zM1641 708h1v1h-1zM1642 707h1v1h-1zM1643 706h1v1h-1zM1644 705h1v1h-1zM1645 704h1v1h-1zM1646 703h1v1h-1zM1646 702h1v1h-1zM1647 701h1v1h-1zM1648 700h1v1h-1zM1649 699h1v1h-1zM1650 698h1v1h-1zM1651 697h1v1h-1zM1651 696h1v1h-1zM1652 695h1v1h-1zM1653 694h1v1h-1zM1654 693h1v1h-1zM1655 692h1v1h-1zM1655 691h1v1h-1zM1656 690h1v1h-1zM1657 689h1v1h-1zM1658 688h1v1h-1zM1659 687h1v1h-1zM1660 686h1v1h-1zM1660 685h1v1h-1zM1661 684h1v1h-1zM1662 683h1v1h-1zM1663 682h1v1h-1zM1664 681h1v1h-1zM1665 680h1v1h-1zM1665 679h1v1h-1zM1666 678h1v1h-1zM1667 677h1v1h-1zM1668 676h1v1h-1zM1669 675h1v1h-1zM1669 674h1v1h-1zM1670 673h1v1h-1zM1671 672h1v1h-1zM1672 671h1v1h-1zM1673 670h1v1h-1zM1674 669h1v1h-1zM1674 668h1v1h-1zM1675 667h1v1h-1zM1676 666h1v1h-1zM1677 665h1v1h-1zM1678 664h1v1h-1zM1679 663h1v1h-1zM1679 662h1v1h-1zM1680 661h1v1h-1zM1681 660h1v1h-1zM1682 659h1v1h-1zM1683 658h1v1h-1zM1683 657h1v1h-1zM1684 656h1v1h-1zM1685 655h1v1h-1zM1686 654h1v1h-1zM1687 653h1v1h-1zM1688 652h1v1h-1zM1688 651h1v1h-1zM1689 650h1v1h-1zM1690 649h1v1h-1zM1691 648h1v1h-1zM1692 647h1v1h-1zM1693 646h1v1h-1zM1693 645h1v1h-1zM1694 644h1v1h-1zM1695 643h1v1h-1zM1696 642h1v1h-1zM1697 641h1v1h-1zM1697 640h1v1h-1zM1698 639h1v1h-1zM1699 638h1v1h-1zM1700 637h1v1h-1zM1701 636h1v1h-1zM1702 635h1v1h-1zM1702 634h1v1h-1zM1703 633h1v1h-1zM1704 632h1v1h-1zM1705 631h1v1h-1zM1706 630h1v1h-1zM1707 629h1v1h-1zM1707 628h1v1h-1zM1708 627h1v1h-1zM1709 626h1v1h-1zM1710 625h1v1h-1zM1711 624h1v1h-1zM1712 623h1v1h-1zM1712 622h1v1h-1zM1713 621h1v1h-1zM1714 620h1v1h-1zM1715 619h1v1h-1zM1716 618h1v1h-1zM1716 617h1v1h-1zM1717 616h1v1h-1zM1718 615h1v1h-1zM1719 614h1v1h-1zM1720 613h1v1h-1zM1721 612h1v1h-1zM1721 611h1v1h-1zM1722 610h1v1h-1zM1723 609h1v1h-1zM1724 608h1v1h-1zM1725 607h1v1h-1zM1726 606h1v1h-1zM1726 605h1v1h-1zM1727 604h1v1h-1zM1728 603h1v1h-1zM1729 602h1v1h-1zM1730 601h1v1h-1zM1730 600h1v1h-1zM1731 599h1v1h-1zM1732 598h1v1h-1zM1733 597h1v1h-1zM1734 596h1v1h-1zM1735 595h1v1h-1zM1735 594h1v1h-1zM1736 593h1v1h-1zM1737 592h1v1h-1zM1738 591h1v1h-1zM1739 590h1v1h-1zM1740 589h1v1h-1zM1740 588h1v1h-1zM1741 587h1v1h-1zM1742 586h1v1h-1z"/><path fill="#000" d="M8 360h1v64h-1zM7 366h3v52h-3zM11 350h1v22h-1zM10 356h3v3h-3zM17 362h1v29h-1zM16 375h3v12h-3zM26 381h1v21h-1zM25 381h3v9h-3zM29 311h1v79h-1zM28 311h3v79h-3zM32 285h1v22h-1zM31 290h3v8h-3zM38 322h1v26h-1zM37 322h3v3h-3zM41 323h1v23h-1zM40 336h3v10h-3zM44 297h1v46h-1zM43 310h3v33h-3zM50 348h1v41h-1zM49 348h3v31h-3zM59 312h1v40h-1zM58 321h3v31h-3zM68 279h1v56h-1zM67 279h3v56h-3zM71 219h1v35h-1zM70 237h3v12h-3zM77 138h1v52h-1zM76 157h3v33h-3zM86 195h1v41h-1zM85 208h3v26h-3zM92 162h1v33h-1zM91 181h3v12h-3zM95 140h1v43h-1zM94 140h3v40h-3zM98 69h1v50h-1zM97 69h3v40h-3zM101 53h1v19h-1zM100 54h3v10h-3zM128 128h1v30h-1zM127 145h3v10h-3zM134 134h1v79h-1zM133 140h3v73h-3zM140 117h1v39h-1zM139 117h3v13h-3zM146 145h1v38h-1zM145 157h3v12h-3zM152 156h1v32h-1zM151 172h3v16h-3zM155 141h1v51h-1zM154 148h3v35h-3zM158 99h1v46h-1zM157 106h3v39h-3zM161 76h1v43h-1zM160 76h3v36h-3zM167 225h1v38h-1zM166 226h3v15h-3zM173 212h1v29h-1zM172 216h3v19h-3zM185 320h1v31h-1zM184 335h3v9h-3zM188 265h1v62h-1zM187 265h3v54h-3zM191 233h1v40h-1zM190 249h3v18h-3zM203 235h1v24h-1zM202 257h3v2h-3zM206 220h1v44h-1zM205 222h3v34h-3zM218 273h1v16h-1zM217 277h3v12h-3zM224 279h1v20h-1zM223 294h3v5h-3zM230 341h1v23h-1zM229 345h3v15h-3zM233 382h1v18h-1zM232 385h3v8h-3zM240 377h1v26h-1zM239 378h3v20h-3zM243 346h1v44h-1zM242 346h3v42h-3zM261 376h1v22h-1zM260 390h3v8h-3zM267 538h1v34h-1zM266 538h3v6h-3zM270 518h1v34h-1zM269 530h3v22h-3zM276 534h1v21h-1zM275 550h3v5h-3zM282 520h1v28h-1zM281 520h3v28h-3zM285 475h1v25h-1zM284 483h3v12h-3zM294 480h1v29h-1zM293 480h3v29h-3zM297 446h1v16h-1zM296 451h3v4h-3zM303 463h1v19h-1zM302 463h3v15h-3zM312 522h1v17h-1zM311 532h3v4h-3zM315 505h1v7h-1zM314 508h3v4h-3zM318 501h1v17h-1zM317 504h3v6h-3zM330 556h1v17h-1zM329 559h3v14h-3zM336 542h1v44h-1zM335 542h3v44h-3zM339 542h1v10h-1zM338 546h3v5h-3zM342 522h1v37h-1zM341 522h3v35h-3zM345 511h1v19h-1zM344 521h3v4h-3zM375 562h1v19h-1zM374 565h3v16h-3zM378 558h1v15h-1zM377 558h3v15h-3zM381 545h1v11h-1zM380 545h3v9h-3zM384 542h1v21h-1zM383 543h3v17h-3zM387 544h1v10h-1zM386 550h3v4h-3zM393 528h1v19h-1zM392 535h3v12h-3zM396 503h1v29h-1zM395 505h3v27h-3zM402 474h1v19h-1zM401 475h3v18h-3zM405 467h1v20h-1zM404 475h3v12h-3zM408 438h1v45h-1zM407 447h3v36h-3zM411 425h1v22h-1zM410 438h3v9h-3zM414 400h1v54h-1zM413 400h3v54h-3zM426 458h1v16h-1zM425 458h3v13h-3zM435 488h1v30h-1zM434 511h3v7h-3zM438 493h1v19h-1zM437 498h3v4h-3zM444 491h1v19h-1zM443 492h3v18h-3zM456 515h1v16h-1zM455 515h3v10h-3zM462 515h1v10h-1zM461 524h3v1h-3zM477 542h1v19h-1zM476 543h3v17h-3zM489 600h1v28h-1zM488 615h3v13h-3zM498 657h1v20h-1zM497 670h3v7h-3zM510 664h1v14h-1zM509 669h3v5h-3zM525 697h1v9h-1zM524 703h3v3h-3zM537 705h1v7h-1zM536 706h3v5h-3zM543 705h1v8h-1zM542 706h3v3h-3zM546 709h1v2h-1zM545 709h3v2h-3zM549 701h1v10h-1zM548 706h3v5h-3zM558 735h1v11h-1zM557 741h3v5h-3zM561 734h1v15h-1zM560 734h3v10h-3zM567 732h1v6h-1zM566 734h3v4h-3zM570 719h1v13h-1zM569 724h3v8h-3zM573 711h1v13h-1zM572 715h3v9h-3zM579 714h1v10h-1zM578 715h3v9h-3zM582 703h1v10h-1zM581 704h3v6h-3zM600 722h1v9h-1zM599 723h3v8h-3zM606 717h1v5h-1zM605 718h3v4h-3zM609 710h1v7h-1zM608 710h3v7h-3zM612 709h1v8h-1zM611 709h3v8h-3zM621 725h1v7h-1zM620 726h3v3h-3zM624 717h1v9h-1zM623 718h3v7h-3zM627 711h1v5h-1zM626 712h3v4h-3zM633 684h1v14h-1zM632 687h3v10h-3zM639 695h1v12h-1zM638 695h3v12h-3zM651 708h1v12h-1zM650 708h3v12h-3zM654 698h1v10h-1zM653 699h3v9h-3zM660 700h1v7h-1zM659 702h3v4h-3zM663 703h1v9h-1zM662 705h3v6h-3zM672 695h1v7h-1zM671 699h3v3h-3zM678 700h1v10h-1zM677 702h3v8h-3zM684 692h1v7h-1zM683 693h3v3h-3zM690 693h1v4h-1zM689 695h3v2h-3zM696 701h1v3h-1zM695 703h3v1h-3zM706 719h1v5h-1zM705 721h3v2h-3zM709 718h1v7h-1zM708 718h3v7h-3zM712 718h1v4h-1zM711 720h3v2h-3zM718 732h1v5h-1zM717 733h3v4h-3zM739 731h1v6h-1zM738 731h3v6h-3zM742 725h1v6h-1zM741 728h3v3h-3zM745 719h1v6h-1zM744 723h3v2h-3zM748 712h1v11h-1zM747 713h3v10h-3zM757 722h1v7h-1zM756 728h3v1h-3zM763 730h1v7h-1zM762 730h3v7h-3zM769 729h1v5h-1zM768 732h3v1h-3zM772 730h1v6h-1zM771 730h3v6h-3zM778 727h1v5h-1zM777 727h3v5h-3zM784 728h1v4h-1zM783 728h3v4h-3zM787 725h1v4h-1zM786 727h3v1h-3zM793 729h1v3h-1zM792 729h3v3h-3zM796 726h1v4h-1zM795 726h3v4h-3zM814 734h1v2h-1zM813 735h3v1h-3zM823 736h1v3h-1zM822 736h3v3h-3zM841 732h1v12h-1zM840 733h3v11h-3zM847 732h1v3h-1zM846 734h3v1h-3zM850 732h1v6h-1zM849 733h3v5h-3zM865 726h1v9h-1zM864 727h3v8h-3zM868 729h1v6h-1zM867 731h3v1h-3zM877 775h1v17h-1zM876 780h3v8h-3zM883 787h1v9h-1zM882 790h3v6h-3zM886 787h1v4h-1zM885 789h3v2h-3zM901 797h1v2h-1zM900 797h3v2h-3zM904 790h1v5h-1zM903 790h3v5h-3zM910 790h1v1h-1zM909 790h3v1h-3zM913 791h1v3h-1zM912 792h3v2h-3zM919 790h1v2h-1zM918 791h3v1h-3zM925 792h1v1h-1zM924 792h3v1h-3zM937 790h1v3h-1zM936 792h3v1h-3zM943 792h1v2h-1zM942 792h3v2h-3zM946 791h1v4h-1zM945 791h3v4h-3zM949 787h1v4h-1zM948 789h3v2h-3zM982 804h1v2h-1zM981 804h3v2h-3zM985 793h1v6h-1zM984 793h3v6h-3zM991 791h1v2h-1zM990 791h3v2h-3zM994 792h1v1h-1zM993 792h3v1h-3zM997 779h1v5h-1zM996 783h3v1h-3zM1000 783h1v1h-1zM999 783h3v1h-3zM1003 782h1v3h-1zM1002 783h3v1h-3zM1006 781h1v3h-1zM1005 782h3v2h-3zM1009 780h1v1h-1zM1008 780h3v1h-3zM1012 756h1v5h-1zM1011 759h3v2h-3zM1015 759h1v2h-1zM1014 759h3v2h-3zM1021 765h1v4h-1zM1020 766h3v1h-3zM1024 758h1v9h-1zM1023 758h3v9h-3zM1033 757h1v5h-1zM1032 758h3v4h-3zM1039 755h1v4h-1zM1038 756h3v3h-3zM1045 758h1v1h-1zM1044 758h3v1h-3zM1048 756h1v6h-1zM1047 756h3v3h-3zM1054 754h1v3h-1zM1053 756h3v1h-3zM1060 759h1v3h-1zM1059 759h3v3h-3zM1069 768h1v2h-1zM1068 768h3v2h-3zM1075 765h1v5h-1zM1074 765h3v5h-3zM1078 761h1v5h-1zM1077 761h3v5h-3zM1084 759h1v4h-1zM1083 759h3v4h-3zM1087 749h1v3h-1zM1086 751h3v1h-3zM1111 764h1v2h-1zM1110 764h3v2h-3zM1114 767h1v1h-1zM1113 767h3v1h-3zM1129 778h1v6h-1zM1128 778h3v3h-3zM1132 768h1v5h-1zM1131 770h3v3h-3zM1135 764h1v6h-1zM1134 769h3v1h-3zM1141 772h1v2h-1zM1140 772h3v2h-3zM1144 768h1v3h-1zM1143 770h3v1h-3zM1147 759h1v6h-1zM1146 764h3v1h-3zM1150 761h1v4h-1zM1149 763h3v1h-3zM1156 762h1v5h-1zM1155 764h3v3h-3zM1166 769h1v4h-1zM1165 769h3v4h-3zM1169 766h1v3h-1zM1168 768h3v1h-3zM1175 767h1v3h-1zM1174 768h3v2h-3zM1178 769h1v2h-1zM1177 769h3v2h-3zM1181 767h1v3h-1zM1180 769h3v1h-3zM1190 760h1v8h-1zM1189 760h3v8h-3zM1193 757h1v7h-1zM1192 757h3v7h-3zM1196 754h1v5h-1zM1195 755h3v4h-3zM1205 753h1v4h-1zM1204 756h3v1h-3zM1220 767h1v1h-1zM1219 767h3v1h-3zM1226 763h1v3h-1zM1225 763h3v3h-3zM1229 760h1v4h-1zM1228 760h3v4h-3zM1232 764h1v2h-1zM1231 764h3v2h-3zM1241 762h1v4h-1zM1240 762h3v4h-3zM1250 766h1v4h-1zM1249 768h3v1h-3zM1256 770h1v1h-1zM1255 770h3v1h-3zM1265 767h1v3h-1zM1264 767h3v2h-3zM1271 769h1v2h-1zM1270 769h3v2h-3zM1274 771h1v2h-1zM1273 771h3v2h-3zM1286 773h1v1h-1zM1285 773h3v1h-3zM1292 767h1v1h-1zM1291 767h3v1h-3zM1298 768h1v2h-1zM1297 768h3v2h-3zM1301 767h1v3h-1zM1300 767h3v3h-3zM1307 770h1v2h-1zM1306 770h3v2h-3zM1313 775h1v1h-1zM1312 775h3v1h-3zM1331 785h1v2h-1zM1330 786h3v1h-3zM1334 784h1v2h-1zM1333 785h3v1h-3zM1337 783h1v1h-1zM1336 783h3v1h-3zM1340 781h1v1h-1zM1339 781h3v1h-3zM1346 781h1v1h-1zM1345 781h3v1h-3zM1352 782h1v1h-1zM1351 782h3v1h-3zM1358 777h1v7h-1zM1357 778h3v6h-3zM1361 771h1v7h-1zM1360 773h3v3h-3zM1367 771h1v2h-1zM1366 772h3v1h-3zM1373 768h1v5h-1zM1372 768h3v5h-3zM1376 766h1v6h-1zM1375 766h3v6h-3zM1379 767h1v1h-1zM1378 767h3v1h-3zM1382 763h1v3h-1zM1381 765h3v1h-3zM1388 751h1v16h-1zM1387 753h3v14h-3zM1400 750h1v2h-1zM1399 750h3v1h-3zM1406 753h1v2h-1zM1405 753h3v2h-3zM1415 754h1v6h-1zM1414 754h3v6h-3zM1418 753h1v3h-1zM1417 755h3v1h-3zM1421 753h1v2h-1zM1420 754h3v1h-3zM1427 760h1v1h-1zM1426 760h3v1h-3zM1436 759h1v4h-1zM1435 762h3v1h-3zM1442 756h1v6h-1zM1441 756h3v6h-3zM1445 755h1v3h-1zM1444 757h3v1h-3zM1448 755h1v2h-1zM1447 756h3v1h-3zM1454 754h1v3h-1zM1453 756h3v1h-3zM1475 766h1v3h-1zM1474 766h3v3h-3zM1484 769h1v1h-1zM1483 769h3v1h-3zM1487 765h1v5h-1zM1486 765h3v5h-3zM1502 769h1v5h-1zM1501 769h3v5h-3zM1520 775h1v3h-1zM1519 777h3v1h-3zM1523 774h1v1h-1zM1522 774h3v1h-3zM1529 771h1v3h-1zM1528 771h3v3h-3zM1532 769h1v3h-1zM1531 771h3v1h-3zM1535 769h1v2h-1zM1534 770h3v1h-3zM1550 773h1v2h-1zM1549 774h3v1h-3zM1553 773h1v1h-1zM1552 773h3v1h-3zM1556 769h1v2h-1zM1555 770h3v1h-3zM1562 756h1v3h-1zM1561 758h3v1h-3zM1571 759h1v1h-1zM1570 759h3v1h-3zM1586 765h1v3h-1zM1585 765h3v3h-3zM1589 758h1v7h-1zM1588 758h3v7h-3zM1592 757h1v1h-1zM1591 757h3v1h-3zM1598 753h1v8h-1zM1597 754h3v7h-3zM1601 747h1v6h-1zM1600 749h3v4h-3zM1610 727h1v9h-1zM1609 729h3v7h-3zM1620 721h1v10h-1zM1619 723h3v8h-3zM1623 717h1v4h-1zM1622 717h3v4h-3zM1626 688h1v25h-1zM1625 700h3v13h-3zM1632 707h1v5h-1zM1631 709h3v3h-3zM1638 694h1v10h-1zM1637 694h3v10h-3zM1647 660h1v24h-1zM1646 662h3v22h-3zM1653 651h1v15h-1zM1652 657h3v6h-3zM1656 624h1v29h-1zM1655 624h3v29h-3zM1671 650h1v12h-1zM1670 650h3v12h-3zM1683 648h1v13h-1zM1682 648h3v12h-3zM1686 638h1v11h-1zM1685 643h3v6h-3zM1698 637h1v8h-1zM1697 640h3v1h-3zM1704 620h1v14h-1zM1703 626h3v5h-3zM1707 600h1v7h-1zM1706 601h3v6h-3zM1716 607h1v22h-1zM1715 607h3v20h-3zM1719 597h1v15h-1zM1718 601h3v11h-3zM1722 582h1v15h-1zM1721 588h3v9h-3zM1725 603h1v16h-1zM1724 603h3v9h-3zM1731 567h1v29h-1zM1730 576h3v20h-3zM1734 533h1v33h-1zM1733 538h3v28h-3zM1746 484h1v20h-1zM1745 496h3v1h-3zM1755 493h1v28h-1zM1754 493h3v19h-3zM1761 516h1v37h-1zM1760 520h3v33h-3zM1770 493h1v25h-1zM1769 509h3v4h-3zM1776 526h1v9h-1zM1775 528h3v1h-3zM1779 522h1v6h-1zM1778 524h3v4h-3zM1782 508h1v16h-1zM1781 512h3v4h-3z"/><path fill="#ff0000" d="M5 375h1v47h-1zM4 393h3v29h-3zM14 367h1v46h-1zM13 367h3v25h-3zM20 390h1v31h-1zM19 394h3v22h-3zM23 387h1v23h-1zM22 392h3v18h-3zM35 292h1v25h-1zM34 304h3v13h-3zM47 343h1v34h-1zM46 353h3v24h-3zM53 355h1v15h-1zM52 355h3v15h-3zM56 339h1v19h-1zM55 354h3v2h-3zM62 320h1v15h-1zM61 320h3v15h-3zM65 325h1v14h-1zM64 329h3v10h-3zM74 160h1v42h-1zM73 189h3v13h-3zM80 161h1v19h-1zM79 166h3v5h-3zM83 179h1v57h-1zM82 183h3v53h-3zM89 182h1v24h-1zM88 185h3v7h-3zM104 54h1v36h-1zM103 55h3v33h-3zM107 30h1v26h-1zM106 41h3v11h-3zM110 39h1v28h-1zM109 44h3v19h-3zM113 45h1v40h-1zM112 77h3v8h-3zM116 48h1v30h-1zM115 68h3v8h-3zM119 85h1v37h-1zM118 87h3v10h-3zM122 48h1v24h-1zM121 55h3v17h-3zM125 99h1v34h-1zM124 104h3v21h-3zM131 143h1v75h-1zM130 143h3v50h-3zM137 117h1v30h-1zM136 131h3v16h-3zM143 132h1v57h-1zM142 132h3v50h-3zM149 177h1v59h-1zM148 177h3v26h-3zM164 73h1v87h-1zM163 96h3v64h-3zM170 183h1v34h-1zM169 205h3v12h-3zM176 221h1v38h-1zM175 224h3v35h-3zM179 250h1v38h-1zM178 259h3v17h-3zM182 297h1v54h-1zM181 299h3v49h-3zM194 254h1v38h-1zM193 259h3v14h-3zM197 260h1v32h-1zM196 261h3v9h-3zM200 254h1v14h-1zM199 262h3v3h-3zM209 181h1v25h-1zM208 192h3v3h-3zM212 219h1v45h-1zM211 234h3v22h-3zM215 263h1v22h-1zM214 263h3v12h-3zM221 273h1v23h-1zM220 282h3v14h-3zM227 288h1v43h-1zM226 293h3v38h-3zM237 376h1v36h-1zM236 379h3v28h-3zM246 332h1v33h-1zM245 357h3v8h-3zM249 355h1v23h-1zM248 359h3v3h-3zM252 374h1v14h-1zM251 375h3v13h-3zM255 384h1v18h-1zM254 390h3v7h-3zM258 389h1v18h-1zM257 391h3v8h-3zM264 430h1v30h-1zM263 432h3v22h-3zM273 510h1v23h-1zM272 529h3v4h-3zM279 536h1v18h-1zM278 539h3v2h-3zM288 477h1v23h-1zM287 482h3v12h-3zM291 516h1v15h-1zM290 520h3v6h-3zM300 453h1v27h-1zM299 456h3v24h-3zM306 468h1v23h-1zM305 477h3v11h-3zM309 490h1v33h-1zM308 499h3v24h-3zM321 513h1v22h-1zM320 517h3v18h-3zM324 527h1v19h-1zM323 532h3v12h-3zM327 529h1v27h-1zM326 532h3v24h-3zM333 538h1v18h-1zM332 554h3v2h-3zM348 497h1v17h-1zM347 500h3v14h-3zM351 513h1v20h-1zM350 518h3v15h-3zM354 536h1v16h-1zM353 543h3v9h-3zM357 560h1v16h-1zM356 570h3v6h-3zM360 565h1v7h-1zM359 566h3v6h-3zM363 549h1v7h-1zM362 552h3v4h-3zM366 565h1v9h-1zM365 565h3v6h-3zM369 566h1v11h-1zM368 575h3v2h-3zM372 573h1v10h-1zM371 575h3v5h-3zM390 535h1v12h-1zM389 539h3v3h-3zM399 500h1v21h-1zM398 501h3v20h-3zM417 395h1v33h-1zM416 397h3v22h-3zM420 401h1v18h-1zM419 408h3v11h-3zM423 428h1v37h-1zM422 438h3v18h-3zM429 444h1v27h-1zM428 444h3v27h-3zM432 479h1v31h-1zM431 486h3v24h-3zM441 492h1v26h-1zM440 495h3v23h-3zM447 481h1v18h-1zM446 487h3v12h-3zM450 484h1v15h-1zM449 493h3v6h-3zM453 505h1v9h-1zM452 506h3v6h-3zM459 510h1v16h-1zM458 512h3v14h-3zM465 513h1v12h-1zM464 517h3v1h-3zM468 522h1v14h-1zM467 522h3v14h-3zM471 545h1v17h-1zM470 547h3v11h-3zM474 552h1v10h-1zM473 552h3v10h-3zM480 532h1v39h-1zM479 532h3v39h-3zM483 569h1v8h-1zM482 569h3v5h-3zM486 593h1v35h-1zM485 593h3v35h-3zM492 619h1v61h-1zM491 619h3v61h-3zM495 683h1v24h-1zM494 685h3v9h-3zM501 656h1v11h-1zM500 657h3v4h-3zM504 650h1v12h-1zM503 657h3v2h-3zM507 656h1v17h-1zM506 657h3v13h-3zM513 664h1v17h-1zM512 669h3v8h-3zM516 662h1v10h-1zM515 669h3v3h-3zM519 675h1v7h-1zM518 675h3v3h-3zM522 674h1v9h-1zM521 675h3v5h-3zM528 687h1v3h-1zM527 688h3v2h-3zM531 683h1v7h-1zM530 683h3v7h-3zM534 690h1v14h-1zM533 690h3v14h-3zM540 703h1v10h-1zM539 703h3v10h-3zM552 704h1v12h-1zM551 705h3v11h-3zM555 741h1v9h-1zM554 744h3v2h-3zM564 725h1v12h-1zM563 725h3v12h-3zM576 718h1v8h-1zM575 722h3v4h-3zM585 703h1v10h-1zM584 706h3v7h-3zM588 708h1v12h-1zM587 715h3v5h-3zM591 721h1v6h-1zM590 721h3v6h-3zM594 729h1v6h-1zM593 729h3v5h-3zM597 725h1v6h-1zM596 726h3v5h-3zM603 719h1v9h-1zM602 720h3v2h-3zM615 720h1v3h-1zM614 721h3v2h-3zM618 724h1v5h-1zM617 727h3v2h-3zM630 700h1v8h-1zM629 704h3v4h-3zM636 688h1v8h-1zM635 689h3v7h-3zM642 693h1v11h-1zM641 698h3v6h-3zM645 709h1v5h-1zM644 712h3v2h-3zM648 718h1v5h-1zM647 719h3v4h-3zM657 693h1v8h-1zM656 696h3v5h-3zM666 708h1v5h-1zM665 708h3v5h-3zM669 702h1v7h-1zM668 706h3v3h-3zM675 698h1v10h-1zM674 699h3v9h-3zM681 691h1v6h-1zM680 694h3v3h-3zM687 684h1v11h-1zM686 684h3v11h-3zM693 691h1v13h-1zM692 693h3v11h-3zM700 711h1v9h-1zM699 712h3v4h-3zM703 718h1v7h-1zM702 719h3v6h-3zM715 721h1v9h-1zM714 722h3v8h-3zM721 729h1v6h-1zM720 731h3v4h-3zM724 729h1v4h-1zM723 730h3v3h-3zM727 734h1v2h-1zM726 735h3v1h-3zM730 730h1v6h-1zM729 733h3v3h-3zM733 730h1v6h-1zM732 732h3v1h-3zM736 726h1v11h-1zM735 730h3v7h-3zM751 710h1v16h-1zM750 711h3v15h-3zM754 726h1v4h-1zM753 727h3v3h-3zM760 728h1v6h-1zM759 730h3v4h-3zM766 731h1v2h-1zM765 732h3v1h-3zM775 729h1v5h-1zM774 729h3v5h-3zM781 722h1v9h-1zM780 723h3v8h-3zM790 722h1v6h-1zM789 726h3v2h-3zM799 726h1v1h-1zM798 726h3v1h-3zM802 724h1v4h-1zM801 724h3v4h-3zM805 728h1v2h-1zM804 728h3v2h-3zM808 729h1v2h-1zM807 729h3v2h-3zM811 733h1v2h-1zM810 734h3v1h-3zM817 736h1v9h-1zM816 736h3v2h-3zM820 732h1v7h-1zM819 733h3v6h-3zM826 736h1v5h-1zM825 736h3v5h-3zM829 738h1v3h-1zM828 738h3v3h-3zM832 740h1v4h-1zM831 743h3v1h-3zM835 742h1v7h-1zM834 744h3v1h-3zM838 741h1v3h-1zM837 743h3v1h-3zM844 733h1v3h-1zM843 735h3v1h-3zM853 725h1v6h-1zM852 729h3v2h-3zM856 728h1v4h-1zM855 730h3v2h-3zM859 729h1v9h-1zM858 731h3v7h-3zM862 733h1v2h-1zM861 733h3v2h-3zM871 737h1v22h-1zM870 748h3v11h-3zM874 765h1v27h-1zM873 765h3v27h-3zM880 777h1v9h-1zM879 782h3v4h-3zM889 788h1v2h-1zM888 788h3v2h-3zM892 790h1v3h-1zM891 790h3v3h-3zM895 791h1v2h-1zM894 791h3v2h-3zM898 797h1v3h-1zM897 798h3v2h-3zM907 788h1v2h-1zM906 788h3v2h-3zM916 790h1v3h-1zM915 791h3v2h-3zM922 791h1v1h-1zM921 791h3v1h-3zM928 789h1v3h-1zM927 790h3v2h-3zM931 789h1v2h-1zM930 789h3v2h-3zM934 789h1v3h-1zM933 790h3v2h-3zM940 791h1v1h-1zM939 791h3v1h-3zM952 789h1v2h-1zM951 789h3v2h-3zM955 790h1v5h-1zM954 791h3v4h-3zM958 795h1v2h-1zM957 795h3v2h-3zM961 795h1v2h-1zM960 795h3v2h-3zM964 796h1v2h-1zM963 796h3v2h-3zM967 796h1v2h-1zM966 796h3v2h-3zM970 797h1v2h-1zM969 797h3v2h-3zM973 798h1v3h-1zM972 798h3v3h-3zM976 801h1v3h-1zM975 801h3v3h-3zM979 803h1v6h-1zM978 803h3v6h-3zM988 790h1v4h-1zM987 791h3v3h-3zM1018 760h1v7h-1zM1017 760h3v7h-3zM1027 755h1v3h-1zM1026 756h3v2h-3zM1030 755h1v3h-1zM1029 756h3v2h-3zM1036 756h1v1h-1zM1035 756h3v1h-3zM1042 747h1v13h-1zM1041 754h3v6h-3zM1051 752h1v3h-1zM1050 754h3v1h-3zM1057 760h1v1h-1zM1056 760h3v1h-3zM1063 758h1v4h-1zM1062 758h3v4h-3zM1066 762h1v4h-1zM1065 763h3v3h-3zM1072 768h1v3h-1zM1071 768h3v3h-3zM1081 758h1v4h-1zM1080 758h3v4h-3zM1090 752h1v2h-1zM1089 752h3v2h-3zM1093 757h1v4h-1zM1092 757h3v4h-3zM1096 757h1v1h-1zM1095 757h3v1h-3zM1099 757h1v5h-1zM1098 758h3v4h-3zM1102 761h1v4h-1zM1101 761h3v4h-3zM1105 764h1v1h-1zM1104 764h3v1h-3zM1108 762h1v3h-1zM1107 763h3v2h-3zM1117 768h1v1h-1zM1116 768h3v1h-3zM1120 769h1v2h-1zM1119 769h3v2h-3zM1123 770h1v6h-1zM1122 770h3v6h-3zM1126 775h1v6h-1zM1125 775h3v6h-3zM1138 766h1v8h-1zM1137 766h3v8h-3zM1153 761h1v7h-1zM1152 763h3v5h-3zM1160 764h1v5h-1zM1159 764h3v5h-3zM1163 769h1v4h-1zM1162 769h3v4h-3zM1172 767h1v4h-1zM1171 767h3v4h-3zM1184 767h1v1h-1zM1183 767h3v1h-3zM1187 768h1v1h-1zM1186 768h3v1h-3zM1199 754h1v4h-1zM1198 754h3v4h-3zM1202 752h1v5h-1zM1201 753h3v4h-3zM1208 755h1v7h-1zM1207 755h3v7h-3zM1211 761h1v5h-1zM1210 763h3v3h-3zM1214 764h1v3h-1zM1213 764h3v3h-3zM1217 764h1v3h-1zM1216 766h3v1h-3zM1223 761h1v5h-1zM1222 765h3v1h-3zM1235 763h1v4h-1zM1234 766h3v1h-3zM1238 763h1v3h-1zM1237 763h3v3h-3zM1244 767h1v4h-1zM1243 767h3v4h-3zM1247 768h1v2h-1zM1246 768h3v2h-3zM1253 768h1v3h-1zM1252 768h3v3h-3zM1259 767h1v1h-1zM1258 767h3v1h-3zM1262 767h1v3h-1zM1261 768h3v2h-3zM1268 767h1v4h-1zM1267 767h3v4h-3zM1277 770h1v2h-1zM1276 770h3v2h-3zM1280 773h1v1h-1zM1279 773h3v1h-3zM1283 773h1v1h-1zM1282 773h3v1h-3zM1289 769h1v1h-1zM1288 769h3v1h-3zM1295 768h1v1h-1zM1294 768h3v1h-3zM1304 765h1v7h-1zM1303 765h3v7h-3zM1310 770h1v6h-1zM1309 770h3v6h-3zM1316 773h1v6h-1zM1315 775h3v4h-3zM1319 786h1v2h-1zM1318 786h3v2h-3zM1322 784h1v3h-1zM1321 786h3v1h-3zM1325 786h1v2h-1zM1324 786h3v2h-3zM1328 788h1v1h-1zM1327 788h3v1h-3zM1343 778h1v3h-1zM1342 778h3v3h-3zM1349 780h1v3h-1zM1348 782h3v1h-3zM1355 782h1v3h-1zM1354 782h3v3h-3zM1364 773h1v1h-1zM1363 773h3v1h-3zM1370 774h1v2h-1zM1369 774h3v2h-3zM1385 763h1v3h-1zM1384 764h3v2h-3zM1391 742h1v10h-1zM1390 743h3v9h-3zM1394 744h1v7h-1zM1393 744h3v7h-3zM1397 749h1v6h-1zM1396 749h3v6h-3zM1403 747h1v7h-1zM1402 749h3v5h-3zM1409 756h1v5h-1zM1408 756h3v5h-3zM1412 760h1v1h-1zM1411 760h3v1h-3zM1424 755h1v4h-1zM1423 755h3v4h-3zM1430 759h1v2h-1zM1429 759h3v2h-3zM1433 761h1v1h-1zM1432 761h3v1h-3zM1439 760h1v2h-1zM1438 760h3v2h-3zM1451 756h1v1h-1zM1450 756h3v1h-3zM1457 754h1v5h-1zM1456 756h3v3h-3zM1460 759h1v2h-1zM1459 759h3v2h-3zM1463 760h1v1h-1zM1462 760h3v1h-3zM1466 764h1v3h-1zM1465 766h3v1h-3zM1469 767h1v1h-1zM1468 767h3v1h-3zM1472 768h1v3h-1zM1471 768h3v3h-3zM1478 764h1v4h-1zM1477 765h3v3h-3zM1481 769h1v2h-1zM1480 769h3v2h-3zM1490 766h1v3h-1zM1489 766h3v3h-3zM1493 768h1v4h-1zM1492 768h3v4h-3zM1496 771h1v3h-1zM1495 771h3v3h-3zM1499 771h1v2h-1zM1498 771h3v2h-3zM1505 771h1v2h-1zM1504 771h3v2h-3zM1508 771h1v2h-1zM1507 771h3v2h-3zM1511 771h1v2h-1zM1510 771h3v2h-3zM1514 777h1v3h-1zM1513 777h3v3h-3zM1517 775h1v2h-1zM1516 776h3v1h-3zM1526 774h1v2h-1zM1525 774h3v2h-3zM1538 770h1v3h-1zM1537 770h3v3h-3zM1541 771h1v2h-1zM1540 772h3v1h-3zM1544 772h1v1h-1zM1543 772h3v1h-3zM1547 773h1v1h-1zM1546 773h3v1h-3zM1559 757h1v4h-1zM1558 757h3v4h-3zM1565 760h1v1h-1zM1564 760h3v1h-3zM1568 760h1v3h-1zM1567 760h3v3h-3zM1574 760h1v4h-1zM1573 760h3v4h-3zM1577 763h1v1h-1zM1576 763h3v1h-3zM1580 764h1v1h-1zM1579 764h3v1h-3zM1583 765h1v2h-1zM1582 765h3v2h-3zM1595 757h1v3h-1zM1594 757h3v3h-3zM1604 736h1v6h-1zM1603 738h3v2h-3zM1607 732h1v5h-1zM1606 732h3v5h-3zM1613 729h1v6h-1zM1612 731h3v4h-3zM1616 729h1v5h-1zM1615 731h3v3h-3zM1629 692h1v16h-1zM1628 699h3v4h-3zM1635 704h1v2h-1zM1634 704h3v2h-3zM1641 696h1v1h-1zM1640 696h3v1h-3zM1644 679h1v17h-1zM1643 693h3v3h-3zM1650 645h1v19h-1zM1649 651h3v13h-3zM1659 617h1v25h-1zM1658 624h3v12h-3zM1662 642h1v17h-1zM1661 646h3v5h-3zM1665 639h1v12h-1zM1664 641h3v10h-3zM1668 653h1v13h-1zM1667 655h3v6h-3zM1674 646h1v8h-1zM1673 650h3v4h-3zM1677 647h1v6h-1zM1676 651h3v1h-3zM1680 652h1v10h-1zM1679 652h3v10h-3zM1689 640h1v2h-1zM1688 640h3v2h-3zM1692 638h1v3h-1zM1691 640h3v1h-3zM1695 627h1v12h-1zM1694 627h3v12h-3zM1701 623h1v2h-1zM1700 624h3v1h-3zM1710 608h1v11h-1zM1709 608h3v8h-3zM1713 605h1v15h-1zM1712 608h3v12h-3zM1728 591h1v12h-1zM1727 593h3v5h-3zM1737 519h1v23h-1zM1736 520h3v5h-3zM1740 468h1v29h-1zM1739 481h3v4h-3zM1743 496h1v23h-1zM1742 499h3v16h-3zM1749 462h1v28h-1zM1748 477h3v13h-3zM1752 484h1v60h-1zM1751 489h3v31h-3zM1758 506h1v19h-1zM1757 513h3v6h-3zM1764 503h1v19h-1zM1763 510h3v12h-3zM1767 515h1v22h-1zM1766 515h3v17h-3zM1773 514h1v20h-1zM1772 521h3v9h-3zM1785 511h1v28h-1zM1784 515h3v24h-3zM1788 529h1v5h-1zM1787 531h3v3h-3z"/><path fill="#fff" d="M8 367h1v50h-1zM11 357h1v1h-1zM17 376h1v10h-1zM26 382h1v7h-1zM29 312h1v77h-1zM32 291h1v6h-1zM38 323h1v1h-1zM41 337h1v8h-1zM44 311h1v31h-1zM50 349h1v29h-1zM59 322h1v29h-1zM68 280h1v54h-1zM71 238h1v10h-1zM77 158h1v31h-1zM86 209h1v24h-1zM92 182h1v10h-1zM95 141h1v38h-1zM98 70h1v38h-1zM101 55h1v8h-1zM128 146h1v8h-1zM134 141h1v71h-1zM140 118h1v11h-1zM146 158h1v10h-1zM152 173h1v14h-1zM155 149h1v33h-1zM158 107h1v37h-1zM161 77h1v34h-1zM167 227h1v13h-1zM173 217h1v17h-1zM185 336h1v7h-1zM188 266h1v52h-1zM191 250h1v16h-1zM206 223h1v32h-1zM218 278h1v10h-1zM224 295h1v3h-1zM230 346h1v13h-1zM233 386h1v6h-1zM240 379h1v18h-1zM243 347h1v40h-1zM261 391h1v6h-1zM267 539h1v4h-1zM270 531h1v20h-1zM276 551h1v3h-1zM282 521h1v26h-1zM285 484h1v10h-1zM294 481h1v27h-1zM297 452h1v2h-1zM303 464h1v13h-1zM312 533h1v2h-1zM315 509h1v2h-1zM318 505h1v4h-1zM330 560h1v12h-1zM336 543h1v42h-1zM339 547h1v3h-1zM342 523h1v33h-1zM345 522h1v2h-1zM375 566h1v14h-1zM378 559h1v13h-1zM381 546h1v7h-1zM384 544h1v15h-1zM387 551h1v2h-1zM393 536h1v10h-1zM396 506h1v25h-1zM402 476h1v16h-1zM405 476h1v10h-1zM408 448h1v34h-1zM411 439h1v7h-1zM414 401h1v52h-1zM426 459h1v11h-1zM435 512h1v5h-1zM438 499h1v2h-1zM444 493h1v16h-1zM456 516h1v8h-1zM477 544h1v15h-1zM489 616h1v11h-1zM498 671h1v5h-1zM510 670h1v3h-1zM525 704h1v1h-1zM537 707h1v3h-1zM543 707h1v1h-1zM549 707h1v3h-1zM558 742h1v3h-1zM561 735h1v8h-1zM567 735h1v2h-1zM570 725h1v6h-1zM573 716h1v7h-1zM579 716h1v7h-1zM582 705h1v4h-1zM600 724h1v6h-1zM606 719h1v2h-1zM609 711h1v5h-1zM612 710h1v6h-1zM621 727h1v1h-1zM624 719h1v5h-1zM627 713h1v2h-1zM633 688h1v8h-1zM639 696h1v10h-1zM651 709h1v10h-1zM654 700h1v7h-1zM660 703h1v2h-1zM663 706h1v4h-1zM672 700h1v1h-1zM678 703h1v6h-1zM684 694h1v1h-1zM709 719h1v5h-1zM718 734h1v2h-1zM739 732h1v4h-1zM742 729h1v1h-1zM748 714h1v8h-1zM763 731h1v5h-1zM772 731h1v4h-1zM778 728h1v3h-1zM784 729h1v2h-1zM793 730h1v1h-1zM796 727h1v2h-1zM823 737h1v1h-1zM841 734h1v9h-1zM850 734h1v3h-1zM865 728h1v6h-1zM877 781h1v6h-1zM883 791h1v4h-1zM904 791h1v3h-1zM946 792h1v2h-1zM985 794h1v4h-1zM1024 759h1v7h-1zM1033 759h1v2h-1zM1039 757h1v1h-1zM1048 757h1v1h-1zM1060 760h1v1h-1zM1075 766h1v3h-1zM1078 762h1v3h-1zM1084 760h1v2h-1zM1129 779h1v1h-1zM1132 771h1v1h-1zM1156 765h1v1h-1zM1166 770h1v2h-1zM1190 761h1v6h-1zM1193 758h1v5h-1zM1196 756h1v2h-1zM1226 764h1v1h-1zM1229 761h1v2h-1zM1241 763h1v2h-1zM1301 768h1v1h-1zM1358 779h1v4h-1zM1361 774h1v1h-1zM1373 769h1v3h-1zM1376 767h1v4h-1zM1388 754h1v12h-1zM1415 755h1v4h-1zM1442 757h1v4h-1zM1475 767h1v1h-1zM1487 766h1v3h-1zM1502 770h1v3h-1zM1529 772h1v1h-1zM1586 766h1v1h-1zM1589 759h1v5h-1zM1598 755h1v5h-1zM1601 750h1v2h-1zM1610 730h1v5h-1zM1620 724h1v6h-1zM1623 718h1v2h-1zM1626 701h1v11h-1zM1632 710h1v1h-1zM1638 695h1v8h-1zM1647 663h1v20h-1zM1653 658h1v4h-1zM1656 625h1v27h-1zM1671 651h1v10h-1zM1683 649h1v10h-1zM1686 644h1v4h-1zM1704 627h1v3h-1zM1707 602h1v4h-1zM1716 608h1v18h-1zM1719 602h1v9h-1zM1722 589h1v7h-1zM1725 604h1v7h-1zM1731 577h1v18h-1zM1734 539h1v26h-1zM1755 494h1v17h-1zM1761 521h1v31h-1zM1770 510h1v2h-1zM1779 525h1v2h-1zM1782 513h1v2h-1z"/><path fill="#ffc0c0" d="M5 394h1v27h-1zM14 368h1v23h-1zM20 395h1v20h-1zM23 393h1v16h-1zM35 305h1v11h-1zM47 354h1v22h-1zM53 356h1v13h-1zM62 321h1v13h-1zM65 330h1v8h-1zM74 190h1v11h-1zM80 167h1v3h-1zM83 184h1v51h-1zM89 186h1v5h-1zM104 56h1v31h-1zM107 42h1v9h-1zM110 45h1v17h-1zM113 78h1v6h-1zM116 69h1v6h-1zM119 88h1v8h-1zM122 56h1v15h-1zM125 105h1v19h-1zM131 144h1v48h-1zM137 132h1v14h-1zM143 133h1v48h-1zM149 178h1v24h-1zM164 97h1v62h-1zM170 206h1v10h-1zM176 225h1v33h-1zM179 260h1v15h-1zM182 300h1v47h-1zM194 260h1v12h-1zM197 262h1v7h-1zM200 263h1v1h-1zM209 193h1v1h-1zM212 235h1v20h-1zM215 264h1v10h-1zM221 283h1v12h-1zM227 294h1v36h-1zM237 380h1v26h-1zM246 358h1v6h-1zM249 360h1v1h-1zM252 376h1v11h-1zM255 391h1v5h-1zM258 392h1v6h-1zM264 433h1v20h-1zM273 530h1v2h-1zM288 483h1v10h-1zM291 521h1v4h-1zM300 457h1v22h-1zM306 478h1v9h-1zM309 500h1v22h-1zM321 518h1v16h-1zM324 533h1v10h-1zM327 533h1v22h-1zM348 501h1v12h-1zM351 519h1v13h-1zM354 544h1v7h-1zM357 571h1v4h-1zM360 567h1v4h-1zM363 553h1v2h-1zM366 566h1v4h-1zM372 576h1v3h-1zM390 540h1v1h-1zM399 502h1v18h-1zM417 398h1v20h-1zM420 409h1v9h-1zM423 439h1v16h-1zM429 445h1v25h-1zM432 487h1v22h-1zM441 496h1v21h-1zM447 488h1v10h-1zM450 494h1v4h-1zM453 507h1v4h-1zM459 513h1v12h-1zM468 523h1v12h-1zM471 548h1v9h-1zM474 553h1v8h-1zM480 533h1v37h-1zM483 570h1v3h-1zM486 594h1v33h-1zM492 620h1v59h-1zM495 686h1v7h-1zM501 658h1v2h-1zM507 658h1v11h-1zM513 670h1v6h-1zM516 670h1v1h-1zM519 676h1v1h-1zM522 676h1v3h-1zM531 684h1v5h-1zM534 691h1v12h-1zM540 704h1v8h-1zM552 706h1v9h-1zM564 726h1v10h-1zM576 723h1v2h-1zM585 707h1v5h-1zM588 716h1v3h-1zM591 722h1v4h-1zM594 730h1v3h-1zM597 727h1v3h-1zM630 705h1v2h-1zM636 690h1v5h-1zM642 699h1v4h-1zM648 720h1v2h-1zM657 697h1v3h-1zM666 709h1v3h-1zM669 707h1v1h-1zM675 700h1v7h-1zM681 695h1v1h-1zM687 685h1v9h-1zM693 694h1v9h-1zM700 713h1v2h-1zM703 720h1v4h-1zM715 723h1v6h-1zM721 732h1v2h-1zM724 731h1v1h-1zM730 734h1v1h-1zM736 731h1v5h-1zM751 712h1v13h-1zM754 728h1v1h-1zM760 731h1v2h-1zM775 730h1v3h-1zM781 724h1v6h-1zM802 725h1v2h-1zM820 734h1v4h-1zM826 737h1v3h-1zM829 739h1v1h-1zM859 732h1v5h-1zM871 749h1v9h-1zM874 766h1v25h-1zM880 783h1v2h-1zM892 791h1v1h-1zM955 792h1v2h-1zM973 799h1v1h-1zM976 802h1v1h-1zM979 804h1v4h-1zM988 792h1v1h-1zM1018 761h1v5h-1zM1042 755h1v4h-1zM1063 759h1v2h-1zM1066 764h1v1h-1zM1072 769h1v1h-1zM1081 759h1v2h-1zM1093 758h1v2h-1zM1099 759h1v2h-1zM1102 762h1v2h-1zM1123 771h1v4h-1zM1126 776h1v4h-1zM1138 767h1v6h-1zM1153 764h1v3h-1zM1160 765h1v3h-1zM1163 770h1v2h-1zM1172 768h1v2h-1zM1199 755h1v2h-1zM1202 754h1v2h-1zM1208 756h1v5h-1zM1211 764h1v1h-1zM1214 765h1v1h-1zM1238 764h1v1h-1zM1244 768h1v2h-1zM1253 769h1v1h-1zM1268 768h1v2h-1zM1304 766h1v5h-1zM1310 771h1v4h-1zM1316 776h1v2h-1zM1343 779h1v1h-1zM1355 783h1v1h-1zM1391 744h1v7h-1zM1394 745h1v5h-1zM1397 750h1v4h-1zM1403 750h1v3h-1zM1409 757h1v3h-1zM1424 756h1v2h-1zM1457 757h1v1h-1zM1472 769h1v1h-1zM1478 766h1v1h-1zM1490 767h1v1h-1zM1493 769h1v2h-1zM1496 772h1v1h-1zM1514 778h1v1h-1zM1538 771h1v1h-1zM1559 758h1v2h-1zM1568 761h1v1h-1zM1574 761h1v2h-1zM1595 758h1v1h-1zM1607 733h1v3h-1zM1613 732h1v2h-1zM1616 732h1v1h-1zM1629 700h1v2h-1zM1644 694h1v1h-1zM1650 652h1v11h-1zM1659 625h1v10h-1zM1662 647h1v3h-1zM1665 642h1v8h-1zM1668 656h1v4h-1zM1674 651h1v2h-1zM1680 653h1v8h-1zM1695 628h1v10h-1zM1710 609h1v6h-1zM1713 609h1v10h-1zM1728 594h1v3h-1zM1737 521h1v3h-1zM1740 482h1v2h-1zM1743 500h1v14h-1zM1749 478h1v11h-1zM1752 490h1v29h-1zM1758 514h1v4h-1zM1764 511h1v10h-1zM1767 516h1v15h-1zM1773 522h1v7h-1zM1785 516h1v22h-1zM1788 532h1v1h-1z"/><g fill="none" stroke-width="1" shape-rendering="crispEdges"><polyline stroke="#000" points="41.5,858.9 44.5,862.0 47.5,873.9 50.5,879.3 53.5,888.4 56.5,893.5 59.5,895.5 62.5,889.9 65.5,888.3 68.5,874.6 71.5,864.8 74.5,862.7 77.5,857.2 80.5,852.0 83.5,859.7 86.5,863.9 89.5,865.4 92.5,867.7 95.5,865.5 98.5,857.7 101.5,851.9 104.5,850.5 107.5,848.5 110.5,850.9 113.5,856.2 116.5,860.7 119.5,865.0 122.5,870.9 125.5,884.0 128.5,894.1 131.5,904.2 134.5,906.5 137.5,908.8 140.5,900.1 143.5,898.1 146.5,894.3 149.5,897.5 152.5,895.5 155.5,893.0 158.5,880.4 161.5,869.4 164.5,865.6 167.5,871.4 170.5,879.9 173.5,891.9 176.5,908.6 179.5,915.6 182.5,918.7 185.5,921.9 188.5,920.8 191.5,910.9 194.5,903.9 197.5,894.0 200.5,883.6 203.5,875.3 206.5,868.8 209.5,861.0 212.5,862.7 215.5,871.4 218.5,882.8 221.5,899.6 224.5,914.8 227.5,923.1 230.5,924.1 233.5,925.1 237.5,924.7 240.5,921.5 243.5,913.4 246.5,909.3 249.5,903.9 252.5,901.1 255.5,901.6 258.5,906.9 261.5,908.1 264.5,913.8 267.5,914.8 270.5,915.1 273.5,914.8 276.5,917.5 279.5,915.6 282.5,913.5 285.5,908.7 288.5,902.4 291.5,896.0 294.5,882.7 297.5,870.9 300.5,866.8 303.5,861.9 306.5,859.9 309.5,874.3 312.5,889.4 315.5,895.7 318.5,903.8 321.5,913.2 324.5,914.4 327.5,915.5 330.5,919.0 333.5,921.7 336.5,913.7 339.5,906.2 342.5,893.4 345.5,880.8 348.5,870.3 351.5,868.8 354.5,870.1 357.5,881.0 360.5,893.0 363.5,902.6 366.5,911.8 369.5,918.4 372.5,919.7 375.5,918.2 378.5,913.7 381.5,897.7 384.5,881.1 387.5,868.1 390.5,857.4 393.5,851.4 396.5,851.9 399.5,855.7 402.5,852.5 405.5,851.7 408.5,850.7 411.5,852.0 414.5,847.8 417.5,850.2 420.5,851.7 423.5,858.6 426.5,868.0 429.5,882.0 432.5,896.5 435.5,909.8 438.5,916.0 441.5,922.0 444.5,921.3 447.5,917.7 450.5,914.1 453.5,915.3 456.5,910.3 459.5,912.3 462.5,913.8 465.5,913.7 468.5,915.1 471.5,919.3 474.5,921.0 477.5,917.6 480.5,922.2 483.5,921.4 486.5,922.2 489.5,920.4 492.5,925.9 495.5,924.7 498.5,921.9 501.5,917.4 504.5,914.5 507.5,909.9 510.5,905.6 513.5,904.3 516.5,901.9 519.5,897.8 522.5,900.8 525.5,905.8 528.5,905.6 531.5,906.9 534.5,915.0 537.5,914.8 540.5,915.4 543.5,917.7 546.5,921.9 549.5,919.2 552.5,920.9 555.5,919.9 558.5,920.3 561.5,916.3 564.5,915.2 567.5,909.9 570.5,902.0 573.5,892.2 576.5,888.5 579.5,877.8 582.5,866.5 585.5,861.7 588.5,864.8 591.5,868.4 594.5,883.1 597.5,897.5 600.5,905.1 603.5,907.0 606.5,903.7 609.5,891.1 612.5,876.9 615.5,874.7 618.5,877.8 621.5,882.7 624.5,885.9 627.5,887.5 630.5,882.5 633.5,870.6 636.5,861.4 639.5,858.5 642.5,863.0 645.5,869.7 648.5,884.4 651.5,891.2 654.5,893.9 657.5,894.2 660.5,890.7 663.5,882.0 666.5,882.4 669.5,884.5 672.5,880.8 675.5,883.0 678.5,884.0 681.5,876.9 684.5,869.7 687.5,872.2 690.5,869.8 693.5,874.6 696.5,883.6 700.5,897.0 703.5,908.0 706.5,917.1 709.5,918.6 712.5,921.0 715.5,923.0 718.5,921.8 721.5,922.1 724.5,922.0 727.5,922.7 730.5,921.8 733.5,919.1 736.5,920.1 739.5,917.1 742.5,905.7 745.5,893.6 748.5,881.0 751.5,873.8 754.5,874.9 757.5,882.0 760.5,893.1 763.5,905.5 766.5,910.1 769.5,912.1 772.5,913.4 775.5,913.4 778.5,906.4 781.5,901.7 784.5,894.6 787.5,887.5 790.5,879.0 793.5,882.1 796.5,877.6 799.5,876.5 802.5,879.9 805.5,886.6 808.5,892.6 811.5,904.4 814.5,915.2 817.5,916.8 820.5,915.5 823.5,910.6 826.5,907.2 829.5,902.9 832.5,907.7 835.5,908.6 838.5,910.1 841.5,897.5 844.5,887.9 847.5,874.1 850.5,862.4 853.5,854.4 856.5,857.8 859.5,863.5 862.5,869.9 865.5,870.7 868.5,875.5 871.5,888.1 874.5,896.3 877.5,902.0 880.5,915.6 883.5,922.8 886.5,921.4 889.5,919.9 892.5,921.9 895.5,922.6 898.5,923.9 901.5,923.9 904.5,918.4 907.5,905.0 910.5,893.1 913.5,882.2 916.5,872.8 919.5,867.4 922.5,869.2 925.5,871.7 928.5,874.1 931.5,874.7 934.5,878.6 937.5,886.7 940.5,891.3 943.5,895.5 946.5,895.5 949.5,891.9 952.5,886.4 955.5,892.1 958.5,896.3 961.5,906.6 964.5,918.8 967.5,928.5 970.5,928.5 973.5,928.5 976.5,928.5 979.5,928.5 982.5,923.3 985.5,906.2 988.5,892.0 991.5,875.9 994.5,860.7 997.5,851.2 1000.5,853.6 1003.5,853.1 1006.5,854.1 1009.5,853.1 1012.5,852.2 1015.5,851.2 1018.5,853.6 1021.5,857.7 1024.5,858.1 1027.5,857.8 1030.5,857.6 1033.5,855.0 1036.5,850.2 1039.5,850.3 1042.5,858.8 1045.5,866.6 1048.5,872.6 1051.5,879.8 1054.5,889.5 1057.5,895.6 1060.5,901.2 1063.5,910.2 1066.5,918.8 1069.5,923.8 1072.5,925.1 1075.5,922.8 1078.5,913.2 1081.5,900.4 1084.5,885.7 1087.5,870.3 1090.5,861.2 1093.5,862.7 1096.5,864.9 1099.5,873.7 1102.5,888.1 1105.5,901.9 1108.5,910.0 1111.5,919.5 1114.5,926.4 1117.5,927.4 1120.5,927.4 1123.5,927.4 1126.5,928.5 1129.5,924.4 1132.5,913.9 1135.5,901.3 1138.5,892.3 1141.5,882.5 1144.5,874.8 1147.5,871.9 1150.5,870.2 1153.5,867.9 1156.5,866.8 1160.5,872.3 1163.5,884.6 1166.5,894.0 1169.5,900.1 1172.5,908.4 1175.5,908.3 1178.5,904.9 1181.5,904.7 1184.5,899.2 1187.5,890.5 1190.5,879.6 1193.5,867.2 1196.5,856.4 1199.5,853.2 1202.5,851.3 1205.5,855.3 1208.5,864.9 1211.5,877.7 1214.5,890.4 1217.5,903.7 1220.5,916.7 1223.5,921.9 1226.5,920.5 1229.5,913.1 1232.5,908.9 1235.5,906.4 1238.5,903.8 1241.5,896.2 1244.5,904.7 1247.5,907.3 1250.5,906.3 1253.5,911.2 1256.5,923.4 1259.5,917.0 1262.5,916.6 1265.5,913.6 1268.5,913.6 1271.5,909.3 1274.5,912.9 1277.5,911.6 1280.5,918.0 1283.5,918.0 1286.5,922.2 1289.5,913.7 1292.5,900.1 1295.5,885.9 1298.5,871.6 1301.5,854.6 1304.5,861.7 1307.5,872.3 1310.5,886.6 1313.5,900.8 1316.5,917.8 1319.5,922.1 1322.5,927.7 1325.5,927.7 1328.5,927.7 1331.5,925.8 1334.5,923.0 1337.5,918.1 1340.5,910.1 1343.5,896.5 1346.5,886.4 1349.5,879.0 1352.5,874.5 1355.5,878.2 1358.5,876.9 1361.5,874.4 1364.5,870.2 1367.5,864.7 1370.5,857.1 1373.5,855.0 1376.5,852.4 1379.5,850.7 1382.5,851.1 1385.5,848.3 1388.5,849.7 1391.5,854.4 1394.5,857.6 1397.5,862.7 1400.5,864.9 1403.5,871.0 1406.5,874.2 1409.5,882.9 1412.5,888.8 1415.5,895.5 1418.5,899.7 1421.5,901.1 1424.5,902.7 1427.5,907.0 1430.5,912.7 1433.5,918.0 1436.5,925.9 1439.5,926.6 1442.5,915.2 1445.5,905.8 1448.5,891.1 1451.5,876.5 1454.5,865.6 1457.5,868.5 1460.5,873.7 1463.5,885.9 1466.5,900.5 1469.5,913.3 1472.5,921.8 1475.5,921.8 1478.5,921.0 1481.5,921.0 1484.5,919.5 1487.5,911.0 1490.5,909.5 1493.5,912.7 1496.5,912.7 1499.5,912.4 1502.5,913.3 1505.5,916.9 1508.5,914.8 1511.5,912.6 1514.5,914.5 1517.5,917.4 1520.5,916.2 1523.5,909.8 1526.5,905.1 1529.5,888.0 1532.5,879.0 1535.5,867.1 1538.5,863.7 1541.5,859.8 1544.5,866.2 1547.5,874.2 1550.5,886.7 1553.5,895.2 1556.5,892.2 1559.5,888.9 1562.5,879.4 1565.5,869.0 1568.5,861.0 1571.5,860.4 1574.5,864.1 1577.5,869.2 1580.5,875.1 1583.5,886.5 1586.5,897.6 1589.5,891.0 1592.5,884.0 1595.5,877.6 1598.5,861.8 1601.5,849.5 1604.5,851.2 1607.5,853.1 1610.5,850.6 1613.5,852.6 1616.5,854.0 1620.5,853.2 1623.5,851.3 1626.5,853.6 1629.5,854.9 1632.5,859.2 1635.5,864.5 1638.5,866.8 1641.5,866.6 1644.5,867.4 1647.5,860.5 1650.5,859.0 1653.5,859.8 1656.5,856.8 1659.5,854.9 1662.5,860.9 1665.5,863.5 1668.5,869.8 1671.5,878.3 1674.5,887.6 1677.5,893.1 1680.5,901.7 1683.5,903.3 1686.5,897.9 1689.5,887.0 1692.5,876.2 1695.5,866.1 1698.5,861.6 1701.5,858.9 1704.5,859.5 1707.5,858.5 1710.5,858.3 1713.5,859.1 1716.5,861.4 1719.5,860.3 1722.5,861.7 1725.5,863.4 1728.5,861.1 1731.5,860.9 1734.5,860.3 1737.5,859.4 1740.5,854.1 1743.5,854.3 1746.5,855.0 1749.5,857.1 1752.5,863.2 1755.5,865.5 1758.5,869.5 1761.5,877.3 1764.5,885.6 1767.5,891.7 1770.5,896.6 1773.5,900.1 1776.5,900.1 1779.5,897.9 1782.5,890.3 1785.5,894.4 1788.5,896.9"/><polyline stroke="#ff0000" points="53.5,872.5 56.5,879.4 59.5,886.1 62.5,889.3 65.5,891.1 68.5,888.4 71.5,882.6 74.5,876.1 77.5,869.5 80.5,862.2 83.5,859.3 86.5,859.1 89.5,859.6 92.5,861.7 95.5,864.4 98.5,864.0 101.5,861.6 104.5,858.7 107.5,854.8 110.5,851.9 113.5,851.6 116.5,853.4 119.5,856.3 122.5,860.7 125.5,867.3 128.5,874.9 131.5,883.6 134.5,892.0 137.5,899.5 140.5,902.8 143.5,903.6 146.5,901.6 149.5,899.8 152.5,897.1 155.5,895.7 158.5,892.1 161.5,887.2 164.5,880.8 167.5,876.0 170.5,873.3 173.5,875.6 176.5,883.5 179.5,893.5 182.5,902.9 185.5,911.3 188.5,917.1 191.5,917.6 194.5,915.2 197.5,910.3 200.5,902.6 203.5,893.5 206.5,885.1 209.5,876.5 212.5,870.3 215.5,867.8 218.5,869.3 221.5,875.5 224.5,886.2 227.5,898.3 230.5,908.9 233.5,917.3 237.5,922.3 240.5,923.7 243.5,921.8 246.5,918.8 249.5,914.6 252.5,909.8 255.5,905.9 258.5,904.6 261.5,904.3 264.5,906.3 267.5,909.0 270.5,911.7 273.5,913.3 276.5,915.2 279.5,915.5 282.5,915.3 285.5,914.0 288.5,911.5 291.5,907.2 294.5,900.7 297.5,892.2 300.5,883.8 303.5,875.7 306.5,868.5 309.5,866.8 312.5,870.5 315.5,876.2 318.5,884.6 321.5,895.3 324.5,903.3 327.5,908.5 330.5,913.2 333.5,916.7 336.5,916.9 339.5,915.2 342.5,910.8 345.5,903.2 348.5,892.9 351.5,883.9 354.5,876.7 357.5,874.2 360.5,876.7 363.5,883.1 366.5,891.7 369.5,901.4 372.5,909.1 375.5,914.1 378.5,916.4 381.5,913.6 384.5,906.1 387.5,895.8 390.5,883.6 393.5,871.1 396.5,862.0 399.5,856.9 402.5,853.8 405.5,852.6 408.5,852.5 411.5,852.5 414.5,851.0 417.5,850.5 420.5,850.5 423.5,852.1 426.5,855.2 429.5,862.1 432.5,871.3 435.5,883.0 438.5,894.5 441.5,905.3 444.5,913.1 447.5,917.4 450.5,918.2 453.5,918.1 456.5,915.8 459.5,913.9 462.5,913.2 465.5,913.1 468.5,913.0 471.5,914.8 474.5,916.6 477.5,917.4 480.5,919.1 483.5,920.3 486.5,920.9 489.5,920.8 492.5,922.4 495.5,922.9 498.5,923.0 501.5,922.1 504.5,920.9 507.5,917.7 510.5,913.8 513.5,910.3 516.5,907.2 519.5,903.9 522.5,902.1 525.5,902.1 528.5,902.4 531.5,903.4 534.5,906.8 537.5,909.6 540.5,911.5 543.5,914.0 546.5,917.0 549.5,917.8 552.5,919.0 555.5,919.9 558.5,920.4 561.5,919.3 564.5,918.5 567.5,916.3 570.5,912.7 573.5,907.1 576.5,901.6 579.5,894.1 582.5,885.4 585.5,877.4 588.5,871.9 591.5,867.8 594.5,868.9 597.5,875.1 600.5,883.8 603.5,892.2 606.5,899.3 609.5,900.9 612.5,896.8 615.5,890.7 618.5,884.8 621.5,880.6 624.5,879.6 627.5,881.7 630.5,883.3 633.5,881.8 636.5,877.6 639.5,872.1 642.5,867.2 645.5,864.6 648.5,867.4 651.5,873.4 654.5,880.5 657.5,886.7 660.5,890.9 663.5,890.4 666.5,888.7 669.5,886.8 672.5,884.1 675.5,882.5 678.5,882.9 681.5,881.8 684.5,878.9 687.5,877.2 690.5,874.5 693.5,872.6 696.5,874.0 700.5,879.4 703.5,886.6 706.5,896.1 709.5,904.9 712.5,912.3 715.5,917.5 718.5,920.3 721.5,921.3 724.5,922.0 727.5,922.3 730.5,922.1 733.5,921.5 736.5,921.1 739.5,920.2 742.5,916.7 745.5,911.1 748.5,903.5 751.5,894.2 754.5,885.8 757.5,881.1 760.5,881.0 763.5,885.9 766.5,893.1 769.5,900.6 772.5,906.9 775.5,910.9 778.5,911.1 781.5,909.4 784.5,905.9 787.5,900.7 790.5,893.8 793.5,889.0 796.5,884.2 799.5,880.5 802.5,879.0 805.5,880.5 808.5,882.6 811.5,888.0 814.5,895.7 817.5,903.1 820.5,908.9 823.5,912.5 826.5,913.1 829.5,910.6 832.5,908.8 835.5,907.4 838.5,907.3 841.5,905.4 844.5,902.4 847.5,895.6 850.5,886.4 853.5,875.3 856.5,867.3 859.5,862.4 862.5,861.6 865.5,863.2 868.5,867.5 871.5,873.5 874.5,880.1 877.5,886.5 880.5,895.5 883.5,905.0 886.5,911.6 889.5,916.3 892.5,920.3 895.5,921.7 898.5,921.9 901.5,922.5 904.5,922.2 907.5,918.8 910.5,912.9 913.5,904.5 916.5,894.3 919.5,884.1 922.5,876.9 925.5,872.7 928.5,871.0 931.5,871.4 934.5,873.6 937.5,877.1 940.5,881.1 943.5,885.3 946.5,889.5 949.5,892.2 952.5,892.1 955.5,892.3 958.5,892.4 961.5,894.6 964.5,900.0 967.5,908.4 970.5,915.7 973.5,922.2 976.5,926.6 979.5,928.5 982.5,927.5 985.5,923.0 988.5,915.7 991.5,905.2 994.5,891.6 997.5,877.2 1000.5,866.7 1003.5,858.9 1006.5,854.6 1009.5,853.0 1012.5,853.2 1015.5,852.7 1018.5,852.8 1021.5,853.6 1024.5,854.6 1027.5,855.7 1030.5,857.0 1033.5,857.2 1036.5,855.7 1039.5,854.2 1042.5,854.4 1045.5,856.2 1048.5,859.7 1051.5,865.6 1054.5,873.5 1057.5,880.8 1060.5,887.7 1063.5,895.3 1066.5,903.0 1069.5,909.9 1072.5,915.8 1075.5,920.1 1078.5,920.7 1081.5,917.0 1084.5,909.4 1087.5,898.5 1090.5,886.2 1093.5,876.1 1096.5,869.0 1099.5,866.6 1102.5,870.1 1105.5,878.3 1108.5,887.8 1111.5,898.7 1114.5,909.2 1117.5,917.1 1120.5,922.2 1123.5,925.6 1126.5,927.4 1129.5,927.0 1132.5,924.3 1135.5,919.1 1138.5,912.1 1141.5,902.9 1144.5,893.0 1147.5,884.6 1150.5,878.4 1153.5,873.5 1156.5,870.3 1160.5,869.8 1163.5,872.4 1166.5,877.1 1169.5,883.6 1172.5,891.9 1175.5,899.1 1178.5,903.1 1181.5,905.3 1184.5,905.1 1187.5,901.5 1190.5,895.8 1193.5,888.2 1196.5,878.6 1199.5,869.4 1202.5,861.5 1205.5,856.7 1208.5,856.2 1211.5,860.4 1214.5,867.9 1217.5,878.4 1220.5,890.7 1223.5,902.1 1226.5,910.6 1229.5,915.2 1232.5,916.2 1235.5,914.2 1238.5,910.6 1241.5,905.7 1244.5,904.0 1247.5,903.7 1250.5,903.7 1253.5,905.2 1256.5,910.6 1259.5,913.0 1262.5,914.9 1265.5,916.3 1268.5,916.8 1271.5,914.0 1274.5,913.2 1277.5,912.2 1280.5,913.1 1283.5,913.9 1286.5,916.5 1289.5,916.7 1292.5,914.4 1295.5,908.0 1298.5,898.7 1301.5,885.2 1304.5,874.8 1307.5,869.2 1310.5,869.4 1313.5,875.2 1316.5,887.8 1319.5,899.9 1322.5,911.0 1325.5,919.2 1328.5,924.6 1331.5,926.2 1334.5,926.4 1337.5,924.5 1340.5,920.9 1343.5,914.7 1346.5,906.8 1349.5,898.0 1352.5,889.3 1355.5,882.9 1358.5,879.0 1361.5,876.6 1364.5,874.8 1367.5,872.9 1370.5,868.7 1373.5,864.3 1376.5,859.9 1379.5,856.0 1382.5,853.3 1385.5,851.5 1388.5,850.4 1391.5,850.8 1394.5,852.2 1397.5,854.5 1400.5,857.8 1403.5,862.1 1406.5,866.1 1409.5,871.1 1412.5,876.4 1415.5,882.5 1418.5,888.2 1421.5,893.6 1424.5,897.6 1427.5,901.2 1430.5,904.6 1433.5,908.3 1436.5,913.2 1439.5,918.0 1442.5,919.7 1445.5,918.3 1448.5,912.9 1451.5,903.0 1454.5,890.8 1457.5,881.5 1460.5,875.1 1463.5,874.0 1466.5,878.8 1469.5,888.3 1472.5,899.0 1475.5,908.6 1478.5,915.7 1481.5,919.8 1484.5,921.0 1487.5,918.9 1490.5,916.4 1493.5,914.7 1496.5,913.1 1499.5,911.7 1502.5,912.1 1505.5,913.6 1508.5,914.0 1511.5,914.0 1514.5,914.4 1517.5,915.2 1520.5,915.1 1523.5,914.1 1526.5,912.6 1529.5,907.3 1532.5,899.6 1535.5,889.8 1538.5,880.6 1541.5,871.5 1544.5,867.2 1547.5,866.2 1550.5,870.1 1553.5,876.4 1556.5,882.9 1559.5,887.4 1562.5,888.5 1565.5,884.9 1568.5,878.1 1571.5,871.7 1574.5,866.8 1577.5,864.7 1580.5,866.0 1583.5,871.1 1586.5,878.5 1589.5,883.9 1592.5,886.8 1595.5,887.3 1598.5,882.4 1601.5,872.8 1604.5,864.8 1607.5,858.7 1610.5,853.2 1613.5,851.4 1616.5,852.3 1620.5,852.7 1623.5,852.3 1626.5,852.9 1629.5,853.4 1632.5,854.4 1635.5,856.7 1638.5,859.8 1641.5,862.4 1644.5,864.9 1647.5,865.2 1650.5,864.1 1653.5,862.7 1656.5,860.7 1659.5,858.2 1662.5,858.3 1665.5,859.2 1668.5,861.2 1671.5,865.5 1674.5,872.0 1677.5,878.5 1680.5,886.1 1683.5,892.8 1686.5,896.7 1689.5,896.6 1692.5,893.2 1695.5,886.1 1698.5,877.7 1701.5,869.9 1704.5,864.4 1707.5,860.9 1710.5,859.3 1713.5,858.8 1716.5,859.3 1719.5,859.5 1722.5,860.2 1725.5,861.2 1728.5,861.6 1731.5,861.5 1734.5,861.5 1737.5,861.0 1740.5,859.2 1743.5,857.8 1746.5,856.6 1749.5,856.0 1752.5,856.7 1755.5,859.0 1758.5,862.1 1761.5,866.5 1764.5,872.2 1767.5,877.9 1770.5,884.2 1773.5,890.3 1776.5,894.8 1779.5,897.3 1782.5,897.0 1785.5,896.6 1788.5,895.9"/></g><path fill="#000" d="M1915 0h1v948h-1z"/><path fill="#000" d="M5 844h48v1h-48zM5 858h48v1h-48zM5 844h1v15h-1zM52 844h1v15h-1zM55 845h13v1h-13zM55 857h13v1h-13zM55 845h1v13h-1zM67 845h1v13h-1zM60 847h2v9h-2zM57 850h8v2h-8z"/><path fill="#fff" d="M5 859h24v1h-24zM5 885h24v1h-24z"/><path fill="#c0c0c0" d="M1906 17h9v1h-9zM1906 25h9v1h-9zM1906 17h1v9h-1zM1914 17h1v9h-1zM1908 21h5v1h-5z"/><path fill="#22b822" shape-rendering="auto" d="M1784.5 1L1792.5 1L1788.5 5Z"/></svg><div style="position:absolute;left:1859px;top:26px;font-weight:normal;font-size:13px;line-height:15px;font-family:'Liberation Sans', sans-serif;color:#000;white-space:pre;">250.00</div><div style="position:absolute;left:1859px;top:67px;font-weight:normal;font-size:13px;line-height:15px;font-family:'Liberation Sans', sans-serif;color:#000;white-space:pre;">237.50</div><div style="position:absolute;left:1859px;top:107px;font-weight:normal;font-size:13px;line-height:15px;font-family:'Liberation Sans', sans-serif;color:#000;white-space:pre;">225.00</div><div style="position:absolute;left:1859px;top:147px;font-weight:normal;font-size:13px;line-height:15px;font-family:'Liberation Sans', sans-serif;color:#000;white-space:pre;">212.50</div><div style="position:absolute;left:1859px;top:187px;font-weight:normal;font-size:13px;line-height:15px;font-family:'Liberation Sans', sans-serif;color:#000;white-space:pre;">200.00</div><div style="position:absolute;left:1859px;top:227px;font-weight:normal;font-size:13px;line-height:15px;font-family:'Liberation Sans', sans-serif;color:#000;white-space:pre;">187.50</div><div style="position:absolute;left:1859px;top:267px;font-weight:normal;font-size:13px;line-height:15px;font-family:'Liberation Sans', sans-serif;color:#000;white-space:pre;">175.00</div><div style="position:absolute;left:1859px;top:307px;font-weight:normal;font-size:13px;line-height:15px;font-family:'Liberation Sans', sans-serif;color:#000;white-space:pre;">162.50</div><div style="position:absolute;left:1859px;top:347px;font-weight:normal;font-size:13px;line-height:15px;font-family:'Liberation Sans', sans-serif;color:#000;white-space:pre;">150.00</div><div style="position:absolute;left:1859px;top:387px;font-weight:normal;font-size:13px;line-height:15px;font-family:'Liberation Sans', sans-serif;color:#000;white-space:pre;">137.50</div><div style="position:absolute;left:1859px;top:427px;font-weight:normal;font-size:13px;line-height:15px;font-family:'Liberation Sans', sans-serif;color:#000;white-space:pre;">125.00</div><div style="position:absolute;left:1859px;top:467px;font-weight:normal;font-size:13px;line-height:15px;font-family:'Liberation Sans', sans-serif;color:#000;white-space:pre;">112.50</div><div style="position:absolute;left:1859px;top:507px;font-weight:normal;font-size:13px;line-height:15px;font-family:'Liberation Sans', sans-serif;color:#000;white-space:pre;">100.00</div><div style="position:absolute;left:1859px;top:547px;font-weight:normal;font-size:13px;line-height:15px;font-family:'Liberation Sans', sans-serif;color:#000;white-space:pre;">87.50</div><div style="position:absolute;left:1859px;top:587px;font-weight:normal;font-size:13px;line-height:15px;font-family:'Liberation Sans', sans-serif;color:#000;white-space:pre;">75.00</div><div style="position:absolute;left:1859px;top:627px;font-weight:normal;font-size:13px;line-height:15px;font-family:'Liberation Sans', sans-serif;color:#000;white-space:pre;">62.50</div><div style="position:absolute;left:1859px;top:667px;font-weight:normal;font-size:13px;line-height:15px;font-family:'Liberation Sans', sans-serif;color:#000;white-space:pre;">50.00</div><div style="position:absolute;left:1859px;top:707px;font-weight:normal;font-size:13px;line-height:15px;font-family:'Liberation Sans', sans-serif;color:#000;white-space:pre;">37.50</div><div style="position:absolute;left:1859px;top:747px;font-weight:normal;font-size:13px;line-height:15px;font-family:'Liberation Sans', sans-serif;color:#000;white-space:pre;">25.00</div><div style="position:absolute;left:1859px;top:787px;font-weight:normal;font-size:13px;line-height:15px;font-family:'Liberation Sans', sans-serif;color:#000;white-space:pre;">12.50</div><div style="position:absolute;left:1859px;top:857px;font-weight:normal;font-size:13px;line-height:15px;font-family:'Liberation Sans', sans-serif;color:#000;white-space:pre;">75.00</div><div style="position:absolute;left:1859px;top:899px;font-weight:normal;font-size:13px;line-height:15px;font-family:'Liberation Sans', sans-serif;color:#000;white-space:pre;">25.00</div><div style="position:absolute;left:1854px;top:526px;width:61px;height:14px;background:#0000ff"><div style="position:absolute;left:0;top:7px;width:3px;height:1px;background:#fff"></div><div style="position:absolute;left:5px;top:0px;font-size:13px;line-height:15px;font-family:'Liberation Sans', sans-serif;color:#fff;white-space:pre">94.06</div></div><div style="position:absolute;left:1854px;top:880px;width:61px;height:13px;background:#000"><div style="position:absolute;left:0;top:6px;width:3px;height:1px;background:#fff"></div><div style="position:absolute;left:5px;top:0px;font-size:13px;line-height:15px;font-family:'Liberation Sans', sans-serif;color:#fff;white-space:pre">38.666</div></div><div style="position:absolute;left:1854px;top:896px;width:61px;height:14px;background:#ff0000"><div style="position:absolute;left:0;top:6px;width:3px;height:1px;background:#fff"></div><div style="position:absolute;left:5px;top:1px;font-size:13px;line-height:15px;font-family:'Liberation Sans', sans-serif;color:#fff;white-space:pre">37.871</div></div><div style="position:absolute;left:1856px;top:3px;font-weight:normal;font-size:12px;line-height:14px;font-family:'Liberation Sans', sans-serif;color:#000;white-space:pre;">(c)Tai-Pan</div><div style="position:absolute;left:171px;top:10px;font-weight:bold;font-size:14px;line-height:16px;font-family:'Liberation Sans', sans-serif;color:#000;white-space:pre;transform-origin:0 0;transform:scaleX(0.95)">SOLANA USD</div><div style="position:absolute;left:433px;top:11px;font-weight:normal;font-size:14px;line-height:16px;font-family:'Liberation Serif', serif;color:#000;white-space:pre;transform-origin:0 0;transform:scaleX(0.725)">Haftungsausschluss für Inhalte: Alle Trendkanäle bzw. andere Linien, oder Grafiken hier sind keine Empfehlungen, oder Beratung, sondern die zeigen lediglich meine eigene Einschätzung. Alle Chartdaten sind ohne Gewähr.  www.wikifolio.com/de/de/p/cyberwaehrungen</div><div style="position:absolute;left:8px;top:844px;font-weight:normal;font-size:13px;line-height:15px;font-family:'Liberation Sans', sans-serif;color:#000;white-space:pre;">Sto(9/5)</div><div style="position:absolute;left:8px;top:859px;font-weight:normal;font-size:13px;line-height:15px;font-family:'Liberation Sans', sans-serif;color:#000;white-space:pre;">%K</div><div style="position:absolute;left:8px;top:874px;font-weight:normal;font-size:13px;line-height:15px;font-family:'Liberation Sans', sans-serif;color:#ff0000;white-space:pre;">%D</div><div style="position:absolute;left:821px;top:847px;font-weight:normal;font-size:13px;line-height:15px;font-family:'Liberation Sans', sans-serif;color:#000;white-space:pre;">80.000</div><div style="position:absolute;left:1191px;top:872px;font-weight:normal;font-size:13px;line-height:15px;font-family:'Liberation Sans', sans-serif;color:#000;white-space:pre;">50.000</div><div style="position:absolute;left:1560px;top:898px;font-weight:normal;font-size:13px;line-height:15px;font-family:'Liberation Sans', sans-serif;color:#000;white-space:pre;">20.000</div><div style="position:absolute;left:37px;top:933px;width:58px;text-align:right;font-size:13px;line-height:15px;font-family:'Liberation Sans', sans-serif">11</div><div style="position:absolute;left:96px;top:933px;font-weight:normal;font-size:13px;line-height:15px;font-family:'Liberation Sans', sans-serif;color:#000;white-space:pre;">21</div><div style="position:absolute;left:103px;top:933px;width:58px;text-align:right;font-size:13px;line-height:15px;font-family:'Liberation Sans', sans-serif">12</div><div style="position:absolute;left:162px;top:933px;font-weight:normal;font-size:13px;line-height:15px;font-family:'Liberation Sans', sans-serif;color:#000;white-space:pre;">21</div><div style="position:absolute;left:166px;top:933px;width:58px;text-align:right;font-size:13px;line-height:15px;font-family:'Liberation Sans', sans-serif">01</div><div style="position:absolute;left:225px;top:933px;font-weight:normal;font-size:13px;line-height:15px;font-family:'Liberation Sans', sans-serif;color:#000;white-space:pre;">22</div><div style="position:absolute;left:230px;top:933px;width:58px;text-align:right;font-size:13px;line-height:15px;font-family:'Liberation Sans', sans-serif">02</div><div style="position:absolute;left:289px;top:933px;font-weight:normal;font-size:13px;line-height:15px;font-family:'Liberation Sans', sans-serif;color:#000;white-space:pre;">22</div><div style="position:absolute;left:290px;top:933px;width:58px;text-align:right;font-size:13px;line-height:15px;font-family:'Liberation Sans', sans-serif">03</div><div style="position:absolute;left:349px;top:933px;font-weight:normal;font-size:13px;line-height:15px;font-family:'Liberation Sans', sans-serif;color:#000;white-space:pre;">22</div><div style="position:absolute;left:359px;top:933px;width:58px;text-align:right;font-size:13px;line-height:15px;font-family:'Liberation Sans', sans-serif">04</div><div style="position:absolute;left:418px;top:933px;font-weight:normal;font-size:13px;line-height:15px;font-family:'Liberation Sans', sans-serif;color:#000;white-space:pre;">22</div><div style="position:absolute;left:416px;top:933px;width:58px;text-align:right;font-size:13px;line-height:15px;font-family:'Liberation Sans', sans-serif">05</div><div style="position:absolute;left:475px;top:933px;font-weight:normal;font-size:13px;line-height:15px;font-family:'Liberation Sans', sans-serif;color:#000;white-space:pre;">22</div><div style="position:absolute;left:479px;top:933px;width:58px;text-align:right;font-size:13px;line-height:15px;font-family:'Liberation Sans', sans-serif">06</div><div style="position:absolute;left:538px;top:933px;font-weight:normal;font-size:13px;line-height:15px;font-family:'Liberation Sans', sans-serif;color:#000;white-space:pre;">22</div><div style="position:absolute;left:542px;top:933px;width:58px;text-align:right;font-size:13px;line-height:15px;font-family:'Liberation Sans', sans-serif">07</div><div style="position:absolute;left:601px;top:933px;font-weight:normal;font-size:13px;line-height:15px;font-family:'Liberation Sans', sans-serif;color:#000;white-space:pre;">22</div><div style="position:absolute;left:605px;top:933px;width:58px;text-align:right;font-size:13px;line-height:15px;font-family:'Liberation Sans', sans-serif">08</div><div style="position:absolute;left:664px;top:933px;font-weight:normal;font-size:13px;line-height:15px;font-family:'Liberation Sans', sans-serif;color:#000;white-space:pre;">22</div><div style="position:absolute;left:672px;top:933px;width:58px;text-align:right;font-size:13px;line-height:15px;font-family:'Liberation Sans', sans-serif">09</div><div style="position:absolute;left:731px;top:933px;font-weight:normal;font-size:13px;line-height:15px;font-family:'Liberation Sans', sans-serif;color:#000;white-space:pre;">22</div><div style="position:absolute;left:738px;top:933px;width:58px;text-align:right;font-size:13px;line-height:15px;font-family:'Liberation Sans', sans-serif">10</div><div style="position:absolute;left:797px;top:933px;font-weight:normal;font-size:13px;line-height:15px;font-family:'Liberation Sans', sans-serif;color:#000;white-space:pre;">22</div><div style="position:absolute;left:801px;top:933px;width:58px;text-align:right;font-size:13px;line-height:15px;font-family:'Liberation Sans', sans-serif">11</div><div style="position:absolute;left:860px;top:933px;font-weight:normal;font-size:13px;line-height:15px;font-family:'Liberation Sans', sans-serif;color:#000;white-space:pre;">22</div><div style="position:absolute;left:867px;top:933px;width:58px;text-align:right;font-size:13px;line-height:15px;font-family:'Liberation Sans', sans-serif">12</div><div style="position:absolute;left:926px;top:933px;font-weight:normal;font-size:13px;line-height:15px;font-family:'Liberation Sans', sans-serif;color:#000;white-space:pre;">22</div><div style="position:absolute;left:930px;top:933px;width:58px;text-align:right;font-size:13px;line-height:15px;font-family:'Liberation Sans', sans-serif">01</div><div style="position:absolute;left:989px;top:933px;font-weight:normal;font-size:13px;line-height:15px;font-family:'Liberation Sans', sans-serif;color:#000;white-space:pre;">23</div><div style="position:absolute;left:993px;top:933px;width:58px;text-align:right;font-size:13px;line-height:15px;font-family:'Liberation Sans', sans-serif">02</div><div style="position:absolute;left:1052px;top:933px;font-weight:normal;font-size:13px;line-height:15px;font-family:'Liberation Sans', sans-serif;color:#000;white-space:pre;">23</div><div style="position:absolute;left:1053px;top:933px;width:58px;text-align:right;font-size:13px;line-height:15px;font-family:'Liberation Sans', sans-serif">03</div><div style="position:absolute;left:1112px;top:933px;font-weight:normal;font-size:13px;line-height:15px;font-family:'Liberation Sans', sans-serif;color:#000;white-space:pre;">23</div><div style="position:absolute;left:1123px;top:933px;width:58px;text-align:right;font-size:13px;line-height:15px;font-family:'Liberation Sans', sans-serif">04</div><div style="position:absolute;left:1182px;top:933px;font-weight:normal;font-size:13px;line-height:15px;font-family:'Liberation Sans', sans-serif;color:#000;white-space:pre;">23</div><div style="position:absolute;left:1177px;top:933px;width:58px;text-align:right;font-size:13px;line-height:15px;font-family:'Liberation Sans', sans-serif">05</div><div style="position:absolute;left:1236px;top:933px;font-weight:normal;font-size:13px;line-height:15px;font-family:'Liberation Sans', sans-serif;color:#000;white-space:pre;">23</div><div style="position:absolute;left:1243px;top:933px;width:58px;text-align:right;font-size:13px;line-height:15px;font-family:'Liberation Sans', sans-serif">06</div><div style="position:absolute;left:1302px;top:933px;font-weight:normal;font-size:13px;line-height:15px;font-family:'Liberation Sans', sans-serif;color:#000;white-space:pre;">23</div><div style="position:absolute;left:1309px;top:933px;width:58px;text-align:right;font-size:13px;line-height:15px;font-family:'Liberation Sans', sans-serif">07</div><div style="position:absolute;left:1368px;top:933px;font-weight:normal;font-size:13px;line-height:15px;font-family:'Liberation Sans', sans-serif;color:#000;white-space:pre;">23</div><div style="position:absolute;left:1372px;top:933px;width:58px;text-align:right;font-size:13px;line-height:15px;font-family:'Liberation Sans', sans-serif">08</div><div style="position:absolute;left:1431px;top:933px;font-weight:normal;font-size:13px;line-height:15px;font-family:'Liberation Sans', sans-serif;color:#000;white-space:pre;">23</div><div style="position:absolute;left:1441px;top:933px;width:58px;text-align:right;font-size:13px;line-height:15px;font-family:'Liberation Sans', sans-serif">09</div><div style="position:absolute;left:1500px;top:933px;font-weight:normal;font-size:13px;line-height:15px;font-family:'Liberation Sans', sans-serif;color:#000;white-space:pre;">23</div><div style="position:absolute;left:1504px;top:933px;width:58px;text-align:right;font-size:13px;line-height:15px;font-family:'Liberation Sans', sans-serif">10</div><div style="position:absolute;left:1563px;top:933px;font-weight:normal;font-size:13px;line-height:15px;font-family:'Liberation Sans', sans-serif;color:#000;white-space:pre;">23</div><div style="position:absolute;left:1571px;top:933px;width:58px;text-align:right;font-size:13px;line-height:15px;font-family:'Liberation Sans', sans-serif">11</div><div style="position:absolute;left:1630px;top:933px;font-weight:normal;font-size:13px;line-height:15px;font-family:'Liberation Sans', sans-serif;color:#000;white-space:pre;">23</div><div style="position:absolute;left:1637px;top:933px;width:58px;text-align:right;font-size:13px;line-height:15px;font-family:'Liberation Sans', sans-serif">12</div><div style="position:absolute;left:1696px;top:933px;font-weight:normal;font-size:13px;line-height:15px;font-family:'Liberation Sans', sans-serif;color:#000;white-space:pre;">23</div><div style="position:absolute;left:1694px;top:933px;width:58px;text-align:right;font-size:13px;line-height:15px;font-family:'Liberation Sans', sans-serif">01</div><div style="position:absolute;left:1753px;top:933px;font-weight:normal;font-size:13px;line-height:15px;font-family:'Liberation Sans', sans-serif;color:#000;white-space:pre;">24</div><div style="position:absolute;left:1760px;top:933px;width:58px;text-align:right;font-size:13px;line-height:15px;font-family:'Liberation Sans', sans-serif">02</div><div style="position:absolute;left:1819px;top:933px;font-weight:normal;font-size:13px;line-height:15px;font-family:'Liberation Sans', sans-serif;color:#000;white-space:pre;">24</div><div style="position:absolute;left:1843px;top:932px;font-weight:normal;font-size:13px;line-height:15px;font-family:'Liberation Sans', sans-serif;color:#000;white-space:pre;">-</div><div style="position:absolute;left:1860px;top:933px;font-weight:normal;font-size:13px;line-height:15px;font-family:'Liberation Sans', sans-serif;color:#000;white-space:pre;letter-spacing:-0.4px">19.01.24</div></div></body></html>
